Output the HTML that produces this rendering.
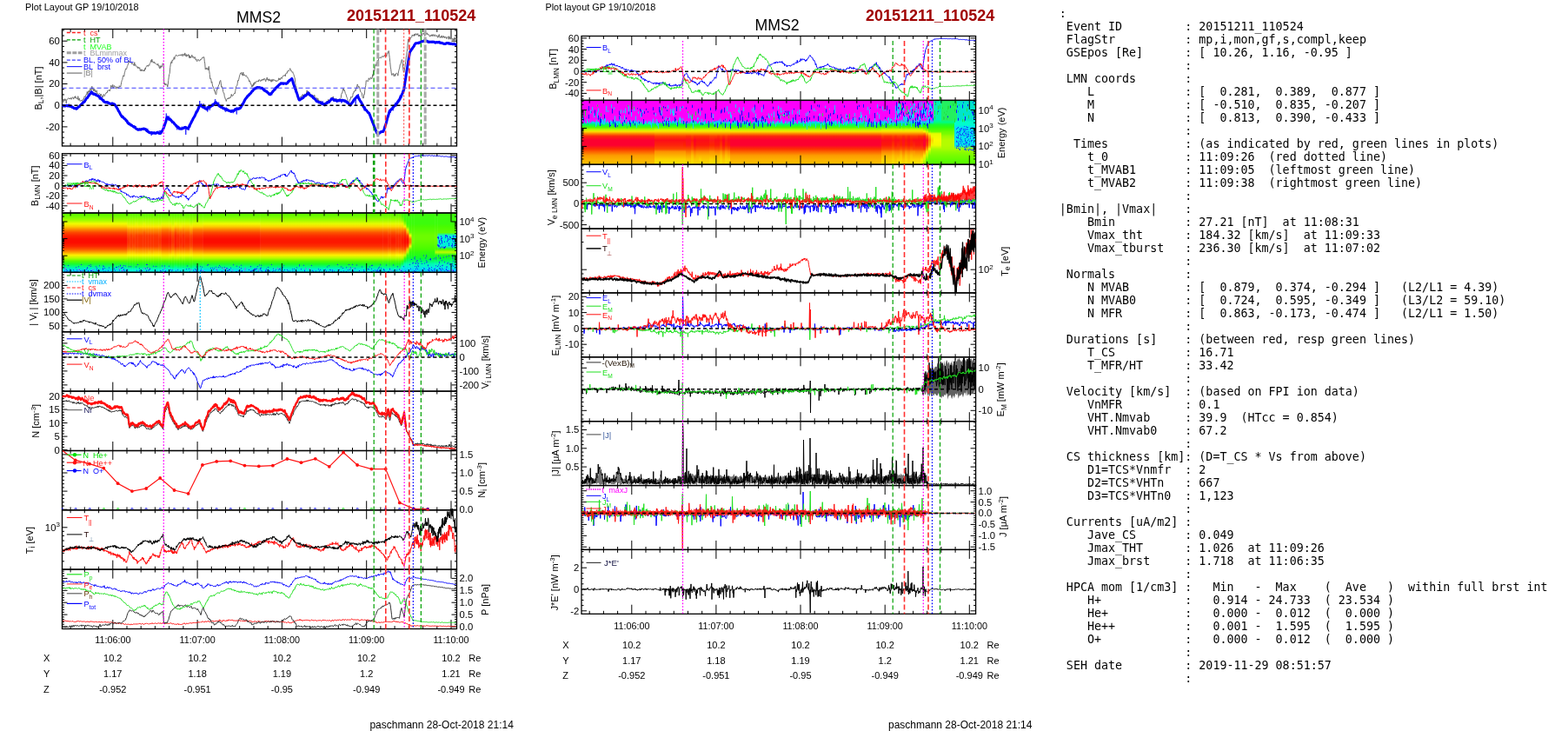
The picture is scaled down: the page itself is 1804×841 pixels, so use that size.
<!DOCTYPE html>
<html><head><meta charset="utf-8"><title>MMS2 20151211_110524</title>
<style>
html,body{margin:0;padding:0;background:#fff;}
#w{position:relative;width:1804px;height:841px;overflow:hidden;background:#fff;}
svg{position:absolute;left:0;top:0;}
svg text{font-family:"Liberation Sans",Arial,Helvetica,sans-serif;}
pre{position:absolute;left:1218.85px;top:8.2px;margin:0;font-family:"DejaVu Sans Mono",monospace;font-size:13.333px;line-height:15px;color:#000;}
</style></head><body><div id="w">
<svg width="1804" height="841" viewBox="0 0 1804 841">
<defs><linearGradient id="g0" gradientUnits="userSpaceOnUse" x1="0" y1="245" x2="0" y2="313.4"><stop offset="0%" stop-color="#54fc00"/><stop offset="7%" stop-color="#78fc00"/><stop offset="13%" stop-color="#a8fc00"/><stop offset="18%" stop-color="#f0fc00"/><stop offset="23%" stop-color="#fccc00"/><stop offset="28%" stop-color="#fc8400"/><stop offset="33%" stop-color="#fc4800"/><stop offset="38%" stop-color="#fc2400"/><stop offset="44%" stop-color="#fc0c00"/><stop offset="50%" stop-color="#fc0c00"/><stop offset="56%" stop-color="#fc2400"/><stop offset="61%" stop-color="#fc5400"/><stop offset="66%" stop-color="#fc9c00"/><stop offset="71%" stop-color="#fcf000"/><stop offset="76%" stop-color="#b4fc00"/><stop offset="81%" stop-color="#54fc00"/><stop offset="86%" stop-color="#18fc30"/><stop offset="91%" stop-color="#00fc90"/><stop offset="95%" stop-color="#00e4e4"/><stop offset="100%" stop-color="#00d8fc"/></linearGradient><linearGradient id="g1" gradientUnits="userSpaceOnUse" x1="0" y1="245" x2="0" y2="313.4"><stop offset="0%" stop-color="#54fc00"/><stop offset="7%" stop-color="#78fc00"/><stop offset="13%" stop-color="#a8fc00"/><stop offset="18%" stop-color="#d8fc00"/><stop offset="23%" stop-color="#fce400"/><stop offset="28%" stop-color="#fc9c00"/><stop offset="33%" stop-color="#fc6c00"/><stop offset="38%" stop-color="#fc4800"/><stop offset="44%" stop-color="#fc3000"/><stop offset="50%" stop-color="#fc3000"/><stop offset="56%" stop-color="#fc4800"/><stop offset="61%" stop-color="#fc7800"/><stop offset="66%" stop-color="#fcc000"/><stop offset="71%" stop-color="#fcfc00"/><stop offset="76%" stop-color="#a8fc00"/><stop offset="81%" stop-color="#54fc00"/><stop offset="86%" stop-color="#18fc24"/><stop offset="91%" stop-color="#00fc6c"/><stop offset="95%" stop-color="#00fccc"/><stop offset="100%" stop-color="#00e4e4"/></linearGradient><linearGradient id="g2" gradientUnits="userSpaceOnUse" x1="0" y1="245" x2="0" y2="313.4"><stop offset="0%" stop-color="#54fc00"/><stop offset="7%" stop-color="#78fc00"/><stop offset="13%" stop-color="#a8fc00"/><stop offset="18%" stop-color="#d8fc00"/><stop offset="23%" stop-color="#fce400"/><stop offset="28%" stop-color="#fc9c00"/><stop offset="33%" stop-color="#fc6c00"/><stop offset="38%" stop-color="#fc3c00"/><stop offset="44%" stop-color="#fc3000"/><stop offset="50%" stop-color="#fc3000"/><stop offset="56%" stop-color="#fc3c00"/><stop offset="61%" stop-color="#fc7800"/><stop offset="66%" stop-color="#fcc000"/><stop offset="71%" stop-color="#fcfc00"/><stop offset="76%" stop-color="#a8fc00"/><stop offset="81%" stop-color="#54fc00"/><stop offset="86%" stop-color="#18fc24"/><stop offset="91%" stop-color="#00fc6c"/><stop offset="95%" stop-color="#00fccc"/><stop offset="100%" stop-color="#00e4e4"/></linearGradient><linearGradient id="g3" gradientUnits="userSpaceOnUse" x1="0" y1="245" x2="0" y2="313.4"><stop offset="0%" stop-color="#54fc00"/><stop offset="7%" stop-color="#78fc00"/><stop offset="13%" stop-color="#a8fc00"/><stop offset="18%" stop-color="#e4fc00"/><stop offset="23%" stop-color="#fce400"/><stop offset="28%" stop-color="#fc9c00"/><stop offset="33%" stop-color="#fc6c00"/><stop offset="38%" stop-color="#fc3c00"/><stop offset="44%" stop-color="#fc3000"/><stop offset="50%" stop-color="#fc3000"/><stop offset="56%" stop-color="#fc3c00"/><stop offset="61%" stop-color="#fc7800"/><stop offset="66%" stop-color="#fcb400"/><stop offset="71%" stop-color="#fcfc00"/><stop offset="76%" stop-color="#a8fc00"/><stop offset="81%" stop-color="#54fc00"/><stop offset="86%" stop-color="#18fc24"/><stop offset="91%" stop-color="#00fc6c"/><stop offset="95%" stop-color="#00fccc"/><stop offset="100%" stop-color="#00e4e4"/></linearGradient><linearGradient id="g4" gradientUnits="userSpaceOnUse" x1="0" y1="245" x2="0" y2="313.4"><stop offset="0%" stop-color="#54fc00"/><stop offset="7%" stop-color="#78fc00"/><stop offset="13%" stop-color="#a8fc00"/><stop offset="18%" stop-color="#d8fc00"/><stop offset="23%" stop-color="#fce400"/><stop offset="28%" stop-color="#fc9c00"/><stop offset="33%" stop-color="#fc6c00"/><stop offset="38%" stop-color="#fc3c00"/><stop offset="44%" stop-color="#fc3000"/><stop offset="50%" stop-color="#fc3000"/><stop offset="56%" stop-color="#fc3c00"/><stop offset="61%" stop-color="#fc7800"/><stop offset="66%" stop-color="#fcb400"/><stop offset="71%" stop-color="#fcfc00"/><stop offset="76%" stop-color="#a8fc00"/><stop offset="81%" stop-color="#54fc00"/><stop offset="86%" stop-color="#18fc24"/><stop offset="91%" stop-color="#00fc6c"/><stop offset="95%" stop-color="#00fccc"/><stop offset="100%" stop-color="#00e4e4"/></linearGradient><linearGradient id="g5" gradientUnits="userSpaceOnUse" x1="0" y1="245" x2="0" y2="313.4"><stop offset="0%" stop-color="#54fc00"/><stop offset="7%" stop-color="#78fc00"/><stop offset="13%" stop-color="#a8fc00"/><stop offset="18%" stop-color="#e4fc00"/><stop offset="23%" stop-color="#fce400"/><stop offset="28%" stop-color="#fc9c00"/><stop offset="33%" stop-color="#fc6000"/><stop offset="38%" stop-color="#fc3c00"/><stop offset="44%" stop-color="#fc3000"/><stop offset="50%" stop-color="#fc3000"/><stop offset="56%" stop-color="#fc3c00"/><stop offset="61%" stop-color="#fc7800"/><stop offset="66%" stop-color="#fcb400"/><stop offset="71%" stop-color="#fcfc00"/><stop offset="76%" stop-color="#a8fc00"/><stop offset="81%" stop-color="#54fc00"/><stop offset="86%" stop-color="#18fc24"/><stop offset="91%" stop-color="#00fc78"/><stop offset="95%" stop-color="#00fccc"/><stop offset="100%" stop-color="#00e4e4"/></linearGradient><linearGradient id="g6" gradientUnits="userSpaceOnUse" x1="0" y1="245" x2="0" y2="313.4"><stop offset="0%" stop-color="#54fc00"/><stop offset="7%" stop-color="#78fc00"/><stop offset="13%" stop-color="#a8fc00"/><stop offset="18%" stop-color="#e4fc00"/><stop offset="23%" stop-color="#fcd800"/><stop offset="28%" stop-color="#fc8400"/><stop offset="33%" stop-color="#fc5400"/><stop offset="38%" stop-color="#fc3000"/><stop offset="44%" stop-color="#fc1800"/><stop offset="50%" stop-color="#fc1800"/><stop offset="56%" stop-color="#fc3000"/><stop offset="61%" stop-color="#fc6000"/><stop offset="66%" stop-color="#fca800"/><stop offset="71%" stop-color="#fcf000"/><stop offset="76%" stop-color="#b4fc00"/><stop offset="81%" stop-color="#54fc00"/><stop offset="86%" stop-color="#18fc30"/><stop offset="91%" stop-color="#00fc90"/><stop offset="95%" stop-color="#00f0e4"/><stop offset="100%" stop-color="#00d8fc"/></linearGradient><linearGradient id="g7" gradientUnits="userSpaceOnUse" x1="0" y1="245" x2="0" y2="313.4"><stop offset="0%" stop-color="#54fc00"/><stop offset="7%" stop-color="#78fc00"/><stop offset="13%" stop-color="#a8fc00"/><stop offset="18%" stop-color="#e4fc00"/><stop offset="23%" stop-color="#fcd800"/><stop offset="28%" stop-color="#fc9000"/><stop offset="33%" stop-color="#fc5400"/><stop offset="38%" stop-color="#fc3000"/><stop offset="44%" stop-color="#fc1800"/><stop offset="50%" stop-color="#fc1800"/><stop offset="56%" stop-color="#fc3000"/><stop offset="61%" stop-color="#fc6000"/><stop offset="66%" stop-color="#fca800"/><stop offset="71%" stop-color="#fcfc00"/><stop offset="76%" stop-color="#b4fc00"/><stop offset="81%" stop-color="#54fc00"/><stop offset="86%" stop-color="#18fc24"/><stop offset="91%" stop-color="#00fc84"/><stop offset="95%" stop-color="#00f0d8"/><stop offset="100%" stop-color="#00d8f0"/></linearGradient><linearGradient id="g8" gradientUnits="userSpaceOnUse" x1="0" y1="245" x2="0" y2="313.4"><stop offset="0%" stop-color="#54fc00"/><stop offset="7%" stop-color="#78fc00"/><stop offset="13%" stop-color="#a8fc00"/><stop offset="18%" stop-color="#d8fc00"/><stop offset="23%" stop-color="#fce400"/><stop offset="28%" stop-color="#fca800"/><stop offset="33%" stop-color="#fc6c00"/><stop offset="38%" stop-color="#fc4800"/><stop offset="44%" stop-color="#fc3000"/><stop offset="50%" stop-color="#fc3000"/><stop offset="56%" stop-color="#fc4800"/><stop offset="61%" stop-color="#fc7800"/><stop offset="66%" stop-color="#fcc000"/><stop offset="71%" stop-color="#fcfc00"/><stop offset="76%" stop-color="#a8fc00"/><stop offset="81%" stop-color="#54fc00"/><stop offset="86%" stop-color="#18fc24"/><stop offset="91%" stop-color="#00fc6c"/><stop offset="95%" stop-color="#00fccc"/><stop offset="100%" stop-color="#00e4e4"/></linearGradient><linearGradient id="g9" gradientUnits="userSpaceOnUse" x1="0" y1="245" x2="0" y2="313.4"><stop offset="0%" stop-color="#54fc00"/><stop offset="7%" stop-color="#78fc00"/><stop offset="13%" stop-color="#a8fc00"/><stop offset="18%" stop-color="#f0fc00"/><stop offset="23%" stop-color="#fcd800"/><stop offset="28%" stop-color="#fc8400"/><stop offset="33%" stop-color="#fc4800"/><stop offset="38%" stop-color="#fc2400"/><stop offset="44%" stop-color="#fc1800"/><stop offset="50%" stop-color="#fc1800"/><stop offset="56%" stop-color="#fc2400"/><stop offset="61%" stop-color="#fc6000"/><stop offset="66%" stop-color="#fca800"/><stop offset="71%" stop-color="#fcf000"/><stop offset="76%" stop-color="#b4fc00"/><stop offset="81%" stop-color="#54fc00"/><stop offset="86%" stop-color="#18fc30"/><stop offset="91%" stop-color="#00fc90"/><stop offset="95%" stop-color="#00f0e4"/><stop offset="100%" stop-color="#00d8fc"/></linearGradient><linearGradient id="g10" gradientUnits="userSpaceOnUse" x1="0" y1="245" x2="0" y2="313.4"><stop offset="0%" stop-color="#54fc00"/><stop offset="7%" stop-color="#78fc00"/><stop offset="13%" stop-color="#a8fc00"/><stop offset="18%" stop-color="#e4fc00"/><stop offset="23%" stop-color="#fcd800"/><stop offset="28%" stop-color="#fc9000"/><stop offset="33%" stop-color="#fc6000"/><stop offset="38%" stop-color="#fc3000"/><stop offset="44%" stop-color="#fc2400"/><stop offset="50%" stop-color="#fc2400"/><stop offset="56%" stop-color="#fc3000"/><stop offset="61%" stop-color="#fc6c00"/><stop offset="66%" stop-color="#fcb400"/><stop offset="71%" stop-color="#fcfc00"/><stop offset="76%" stop-color="#b4fc00"/><stop offset="81%" stop-color="#54fc00"/><stop offset="86%" stop-color="#18fc24"/><stop offset="91%" stop-color="#00fc78"/><stop offset="95%" stop-color="#00f0d8"/><stop offset="100%" stop-color="#00e4f0"/></linearGradient><linearGradient id="g11" gradientUnits="userSpaceOnUse" x1="0" y1="245" x2="0" y2="313.4"><stop offset="0%" stop-color="#54fc00"/><stop offset="7%" stop-color="#78fc00"/><stop offset="13%" stop-color="#a8fc00"/><stop offset="18%" stop-color="#e4fc00"/><stop offset="23%" stop-color="#fce400"/><stop offset="28%" stop-color="#fc9c00"/><stop offset="33%" stop-color="#fc6000"/><stop offset="38%" stop-color="#fc3c00"/><stop offset="44%" stop-color="#fc2400"/><stop offset="50%" stop-color="#fc2400"/><stop offset="56%" stop-color="#fc3c00"/><stop offset="61%" stop-color="#fc6c00"/><stop offset="66%" stop-color="#fcb400"/><stop offset="71%" stop-color="#fcfc00"/><stop offset="76%" stop-color="#a8fc00"/><stop offset="81%" stop-color="#54fc00"/><stop offset="86%" stop-color="#18fc24"/><stop offset="91%" stop-color="#00fc78"/><stop offset="95%" stop-color="#00fcd8"/><stop offset="100%" stop-color="#00e4f0"/></linearGradient><linearGradient id="g12" gradientUnits="userSpaceOnUse" x1="0" y1="245" x2="0" y2="313.4"><stop offset="0%" stop-color="#54fc00"/><stop offset="7%" stop-color="#78fc00"/><stop offset="13%" stop-color="#a8fc00"/><stop offset="18%" stop-color="#e4fc00"/><stop offset="23%" stop-color="#fcd800"/><stop offset="28%" stop-color="#fc9000"/><stop offset="33%" stop-color="#fc6000"/><stop offset="38%" stop-color="#fc3000"/><stop offset="44%" stop-color="#fc2400"/><stop offset="50%" stop-color="#fc2400"/><stop offset="56%" stop-color="#fc3000"/><stop offset="61%" stop-color="#fc6c00"/><stop offset="66%" stop-color="#fcb400"/><stop offset="71%" stop-color="#fcfc00"/><stop offset="76%" stop-color="#b4fc00"/><stop offset="81%" stop-color="#54fc00"/><stop offset="86%" stop-color="#18fc24"/><stop offset="91%" stop-color="#00fc78"/><stop offset="95%" stop-color="#00f0d8"/><stop offset="100%" stop-color="#00d8f0"/></linearGradient><linearGradient id="g13" gradientUnits="userSpaceOnUse" x1="0" y1="245" x2="0" y2="313.4"><stop offset="0%" stop-color="#54fc00"/><stop offset="7%" stop-color="#78fc00"/><stop offset="13%" stop-color="#a8fc00"/><stop offset="18%" stop-color="#e4fc00"/><stop offset="23%" stop-color="#fcd800"/><stop offset="28%" stop-color="#fc9c00"/><stop offset="33%" stop-color="#fc6000"/><stop offset="38%" stop-color="#fc3c00"/><stop offset="44%" stop-color="#fc2400"/><stop offset="50%" stop-color="#fc2400"/><stop offset="56%" stop-color="#fc3c00"/><stop offset="61%" stop-color="#fc6c00"/><stop offset="66%" stop-color="#fcb400"/><stop offset="71%" stop-color="#fcfc00"/><stop offset="76%" stop-color="#a8fc00"/><stop offset="81%" stop-color="#54fc00"/><stop offset="86%" stop-color="#18fc24"/><stop offset="91%" stop-color="#00fc78"/><stop offset="95%" stop-color="#00f0d8"/><stop offset="100%" stop-color="#00e4f0"/></linearGradient><linearGradient id="g14" gradientUnits="userSpaceOnUse" x1="0" y1="245" x2="0" y2="313.4"><stop offset="0%" stop-color="#54fc00"/><stop offset="7%" stop-color="#78fc00"/><stop offset="13%" stop-color="#9cfc00"/><stop offset="18%" stop-color="#d8fc00"/><stop offset="23%" stop-color="#fce400"/><stop offset="28%" stop-color="#fca800"/><stop offset="33%" stop-color="#fc7800"/><stop offset="38%" stop-color="#fc4800"/><stop offset="44%" stop-color="#fc3000"/><stop offset="50%" stop-color="#fc3000"/><stop offset="56%" stop-color="#fc4800"/><stop offset="61%" stop-color="#fc8400"/><stop offset="66%" stop-color="#fcc000"/><stop offset="71%" stop-color="#fcfc00"/><stop offset="76%" stop-color="#a8fc00"/><stop offset="81%" stop-color="#54fc00"/><stop offset="86%" stop-color="#24fc24"/><stop offset="91%" stop-color="#00fc60"/><stop offset="95%" stop-color="#00fccc"/><stop offset="100%" stop-color="#00f0e4"/></linearGradient><linearGradient id="g15" gradientUnits="userSpaceOnUse" x1="0" y1="245" x2="0" y2="313.4"><stop offset="0%" stop-color="#54fc00"/><stop offset="7%" stop-color="#78fc00"/><stop offset="13%" stop-color="#a8fc00"/><stop offset="18%" stop-color="#e4fc00"/><stop offset="23%" stop-color="#fcd800"/><stop offset="28%" stop-color="#fc9000"/><stop offset="33%" stop-color="#fc5400"/><stop offset="38%" stop-color="#fc3000"/><stop offset="44%" stop-color="#fc1800"/><stop offset="50%" stop-color="#fc1800"/><stop offset="56%" stop-color="#fc3000"/><stop offset="61%" stop-color="#fc6000"/><stop offset="66%" stop-color="#fca800"/><stop offset="71%" stop-color="#fcf000"/><stop offset="76%" stop-color="#b4fc00"/><stop offset="81%" stop-color="#54fc00"/><stop offset="86%" stop-color="#18fc24"/><stop offset="91%" stop-color="#00fc84"/><stop offset="95%" stop-color="#00f0d8"/><stop offset="100%" stop-color="#00d8f0"/></linearGradient><linearGradient id="g16" gradientUnits="userSpaceOnUse" x1="0" y1="245" x2="0" y2="313.4"><stop offset="0%" stop-color="#54fc00"/><stop offset="7%" stop-color="#78fc00"/><stop offset="13%" stop-color="#a8fc00"/><stop offset="18%" stop-color="#e4fc00"/><stop offset="23%" stop-color="#fcd800"/><stop offset="28%" stop-color="#fc9000"/><stop offset="33%" stop-color="#fc5400"/><stop offset="38%" stop-color="#fc3000"/><stop offset="44%" stop-color="#fc1800"/><stop offset="50%" stop-color="#fc1800"/><stop offset="56%" stop-color="#fc3000"/><stop offset="61%" stop-color="#fc6000"/><stop offset="66%" stop-color="#fca800"/><stop offset="71%" stop-color="#fcf000"/><stop offset="76%" stop-color="#b4fc00"/><stop offset="81%" stop-color="#54fc00"/><stop offset="86%" stop-color="#18fc30"/><stop offset="91%" stop-color="#00fc84"/><stop offset="95%" stop-color="#00f0d8"/><stop offset="100%" stop-color="#00d8fc"/></linearGradient><linearGradient id="g17" gradientUnits="userSpaceOnUse" x1="0" y1="245" x2="0" y2="313.4"><stop offset="0%" stop-color="#54fc00"/><stop offset="7%" stop-color="#78fc00"/><stop offset="13%" stop-color="#a8fc00"/><stop offset="18%" stop-color="#e4fc00"/><stop offset="23%" stop-color="#fcd800"/><stop offset="28%" stop-color="#fc9000"/><stop offset="33%" stop-color="#fc6000"/><stop offset="38%" stop-color="#fc3000"/><stop offset="44%" stop-color="#fc2400"/><stop offset="50%" stop-color="#fc2400"/><stop offset="56%" stop-color="#fc3000"/><stop offset="61%" stop-color="#fc6c00"/><stop offset="66%" stop-color="#fca800"/><stop offset="71%" stop-color="#fcfc00"/><stop offset="76%" stop-color="#b4fc00"/><stop offset="81%" stop-color="#54fc00"/><stop offset="86%" stop-color="#18fc24"/><stop offset="91%" stop-color="#00fc78"/><stop offset="95%" stop-color="#00f0d8"/><stop offset="100%" stop-color="#00d8f0"/></linearGradient><linearGradient id="g18" gradientUnits="userSpaceOnUse" x1="0" y1="245" x2="0" y2="313.4"><stop offset="0%" stop-color="#3cfc0c"/><stop offset="7%" stop-color="#54fc00"/><stop offset="13%" stop-color="#90fc00"/><stop offset="18%" stop-color="#e4fc00"/><stop offset="23%" stop-color="#fcd800"/><stop offset="28%" stop-color="#fc9000"/><stop offset="33%" stop-color="#fc5400"/><stop offset="38%" stop-color="#fc3000"/><stop offset="44%" stop-color="#fc1800"/><stop offset="50%" stop-color="#fc1800"/><stop offset="56%" stop-color="#fc3000"/><stop offset="61%" stop-color="#fc6000"/><stop offset="66%" stop-color="#fca800"/><stop offset="71%" stop-color="#fcf000"/><stop offset="76%" stop-color="#b4fc00"/><stop offset="81%" stop-color="#3cfc0c"/><stop offset="86%" stop-color="#00fc60"/><stop offset="91%" stop-color="#00fcd8"/><stop offset="95%" stop-color="#00d8fc"/><stop offset="100%" stop-color="#00b4fc"/></linearGradient><linearGradient id="g19" gradientUnits="userSpaceOnUse" x1="0" y1="245" x2="0" y2="313.4"><stop offset="0%" stop-color="#3cfc0c"/><stop offset="7%" stop-color="#3cfc0c"/><stop offset="13%" stop-color="#48fc00"/><stop offset="18%" stop-color="#90fc00"/><stop offset="23%" stop-color="#f0fc00"/><stop offset="28%" stop-color="#fc8400"/><stop offset="33%" stop-color="#fc4800"/><stop offset="38%" stop-color="#fc2400"/><stop offset="44%" stop-color="#fc0c00"/><stop offset="50%" stop-color="#fc0c00"/><stop offset="56%" stop-color="#fc2400"/><stop offset="61%" stop-color="#fc5400"/><stop offset="66%" stop-color="#fca800"/><stop offset="71%" stop-color="#ccfc00"/><stop offset="76%" stop-color="#48fc00"/><stop offset="81%" stop-color="#00fc48"/><stop offset="86%" stop-color="#00fcb4"/><stop offset="91%" stop-color="#00f0d8"/><stop offset="95%" stop-color="#00d8fc"/><stop offset="100%" stop-color="#00b4fc"/></linearGradient><linearGradient id="g20" gradientUnits="userSpaceOnUse" x1="0" y1="245" x2="0" y2="313.4"><stop offset="0%" stop-color="#3cfc0c"/><stop offset="18%" stop-color="#3cfc0c"/><stop offset="23%" stop-color="#60fc00"/><stop offset="28%" stop-color="#d8fc00"/><stop offset="33%" stop-color="#fcb400"/><stop offset="38%" stop-color="#fc3c00"/><stop offset="44%" stop-color="#fc0c00"/><stop offset="50%" stop-color="#fc0c00"/><stop offset="56%" stop-color="#fc3c00"/><stop offset="61%" stop-color="#fcc000"/><stop offset="66%" stop-color="#b4fc00"/><stop offset="71%" stop-color="#3cfc0c"/><stop offset="76%" stop-color="#0cfc30"/><stop offset="81%" stop-color="#00fc6c"/><stop offset="86%" stop-color="#00fcb4"/><stop offset="91%" stop-color="#00f0d8"/><stop offset="95%" stop-color="#00d8fc"/><stop offset="100%" stop-color="#00b4fc"/></linearGradient><linearGradient id="g21" gradientUnits="userSpaceOnUse" x1="0" y1="245" x2="0" y2="313.4"><stop offset="0%" stop-color="#3cfc0c"/><stop offset="18%" stop-color="#3cfc0c"/><stop offset="23%" stop-color="#48fc00"/><stop offset="28%" stop-color="#54fc00"/><stop offset="33%" stop-color="#6cfc00"/><stop offset="38%" stop-color="#fcfc00"/><stop offset="44%" stop-color="#fc7800"/><stop offset="50%" stop-color="#fc7800"/><stop offset="56%" stop-color="#f0fc00"/><stop offset="61%" stop-color="#60fc00"/><stop offset="66%" stop-color="#30fc0c"/><stop offset="71%" stop-color="#24fc18"/><stop offset="76%" stop-color="#0cfc30"/><stop offset="81%" stop-color="#00fc6c"/><stop offset="86%" stop-color="#00fcb4"/><stop offset="91%" stop-color="#00f0d8"/><stop offset="95%" stop-color="#00d8fc"/><stop offset="100%" stop-color="#00b4fc"/></linearGradient><linearGradient id="g22" gradientUnits="userSpaceOnUse" x1="0" y1="245" x2="0" y2="313.4"><stop offset="0%" stop-color="#3cfc0c"/><stop offset="18%" stop-color="#3cfc0c"/><stop offset="23%" stop-color="#48fc00"/><stop offset="28%" stop-color="#54fc00"/><stop offset="33%" stop-color="#60fc00"/><stop offset="38%" stop-color="#6cfc00"/><stop offset="44%" stop-color="#78fc00"/><stop offset="50%" stop-color="#78fc00"/><stop offset="56%" stop-color="#54fc00"/><stop offset="61%" stop-color="#48fc00"/><stop offset="66%" stop-color="#30fc0c"/><stop offset="71%" stop-color="#24fc18"/><stop offset="76%" stop-color="#0cfc30"/><stop offset="81%" stop-color="#00fc6c"/><stop offset="86%" stop-color="#00fcb4"/><stop offset="91%" stop-color="#00f0d8"/><stop offset="95%" stop-color="#00d8fc"/><stop offset="100%" stop-color="#00b4fc"/></linearGradient><linearGradient id="g23" gradientUnits="userSpaceOnUse" x1="0" y1="245" x2="0" y2="313.4"><stop offset="0%" stop-color="#3cfc0c"/><stop offset="18%" stop-color="#3cfc0c"/><stop offset="23%" stop-color="#48fc00"/><stop offset="28%" stop-color="#54fc00"/><stop offset="33%" stop-color="#60fc00"/><stop offset="38%" stop-color="#6cfc00"/><stop offset="44%" stop-color="#6cfc00"/><stop offset="50%" stop-color="#60fc00"/><stop offset="56%" stop-color="#54fc00"/><stop offset="61%" stop-color="#48fc00"/><stop offset="66%" stop-color="#30fc0c"/><stop offset="71%" stop-color="#24fc18"/><stop offset="76%" stop-color="#0cfc30"/><stop offset="81%" stop-color="#00fc6c"/><stop offset="86%" stop-color="#00fcb4"/><stop offset="91%" stop-color="#00f0d8"/><stop offset="95%" stop-color="#00d8fc"/><stop offset="100%" stop-color="#00b4fc"/></linearGradient><linearGradient id="g24" gradientUnits="userSpaceOnUse" x1="0" y1="245" x2="0" y2="313.4"><stop offset="0%" stop-color="#3cfc0c"/><stop offset="18%" stop-color="#3cfc0c"/><stop offset="23%" stop-color="#48fc00"/><stop offset="28%" stop-color="#54fc00"/><stop offset="33%" stop-color="#60fc00"/><stop offset="38%" stop-color="#6cfc00"/><stop offset="44%" stop-color="#6cfc00"/><stop offset="50%" stop-color="#60fc00"/><stop offset="56%" stop-color="#54fc00"/><stop offset="61%" stop-color="#48fc00"/><stop offset="66%" stop-color="#c0fc00"/><stop offset="71%" stop-color="#24fc18"/><stop offset="76%" stop-color="#0cfc30"/><stop offset="81%" stop-color="#00fc6c"/><stop offset="86%" stop-color="#00fcb4"/><stop offset="91%" stop-color="#00f0d8"/><stop offset="95%" stop-color="#00d8fc"/><stop offset="100%" stop-color="#00b4fc"/></linearGradient><linearGradient id="g25" gradientUnits="userSpaceOnUse" x1="0" y1="245" x2="0" y2="313.4"><stop offset="0%" stop-color="#3cfc0c"/><stop offset="18%" stop-color="#3cfc0c"/><stop offset="23%" stop-color="#48fc00"/><stop offset="28%" stop-color="#54fc00"/><stop offset="33%" stop-color="#60fc00"/><stop offset="38%" stop-color="#00f0d8"/><stop offset="56%" stop-color="#00f0d8"/><stop offset="61%" stop-color="#48fc00"/><stop offset="66%" stop-color="#c0fc00"/><stop offset="71%" stop-color="#24fc18"/><stop offset="76%" stop-color="#0cfc30"/><stop offset="81%" stop-color="#00fc6c"/><stop offset="86%" stop-color="#00fcb4"/><stop offset="91%" stop-color="#00f0d8"/><stop offset="95%" stop-color="#00d8fc"/><stop offset="100%" stop-color="#00b4fc"/></linearGradient><linearGradient id="g26" gradientUnits="userSpaceOnUse" x1="0" y1="115.4" x2="0" y2="189.2"><stop offset="0%" stop-color="#fc00fc"/><stop offset="30%" stop-color="#fc00fc"/><stop offset="34%" stop-color="#00ccfc"/><stop offset="38%" stop-color="#00fc60"/><stop offset="42%" stop-color="#48fc00"/><stop offset="46%" stop-color="#c0fc00"/><stop offset="49%" stop-color="#fcd800"/><stop offset="52%" stop-color="#fc8400"/><stop offset="56%" stop-color="#fc240c"/><stop offset="62%" stop-color="#fc0030"/><stop offset="70%" stop-color="#fc0030"/><stop offset="76%" stop-color="#fc3000"/><stop offset="80%" stop-color="#fc6000"/><stop offset="86%" stop-color="#fc9c00"/><stop offset="93%" stop-color="#fcb400"/><stop offset="100%" stop-color="#fcc000"/></linearGradient><linearGradient id="g27" gradientUnits="userSpaceOnUse" x1="0" y1="115.4" x2="0" y2="189.2"><stop offset="0%" stop-color="#fc00fc"/><stop offset="30%" stop-color="#fc00fc"/><stop offset="34%" stop-color="#00ccfc"/><stop offset="38%" stop-color="#00fc3c"/><stop offset="42%" stop-color="#54fc00"/><stop offset="46%" stop-color="#d8fc00"/><stop offset="49%" stop-color="#fcd800"/><stop offset="52%" stop-color="#fc9000"/><stop offset="56%" stop-color="#fc3c00"/><stop offset="62%" stop-color="#fc0c18"/><stop offset="70%" stop-color="#fc240c"/><stop offset="76%" stop-color="#fc4800"/><stop offset="80%" stop-color="#fc9000"/><stop offset="86%" stop-color="#fcb400"/><stop offset="93%" stop-color="#fcd800"/><stop offset="100%" stop-color="#fce400"/></linearGradient><linearGradient id="g28" gradientUnits="userSpaceOnUse" x1="0" y1="115.4" x2="0" y2="189.2"><stop offset="0%" stop-color="#fc00fc"/><stop offset="30%" stop-color="#fc00fc"/><stop offset="34%" stop-color="#00ccfc"/><stop offset="38%" stop-color="#00fc3c"/><stop offset="42%" stop-color="#54fc00"/><stop offset="46%" stop-color="#d8fc00"/><stop offset="49%" stop-color="#fcd800"/><stop offset="52%" stop-color="#fc9000"/><stop offset="56%" stop-color="#fc3c00"/><stop offset="62%" stop-color="#fc0c18"/><stop offset="70%" stop-color="#fc2400"/><stop offset="76%" stop-color="#fc4800"/><stop offset="80%" stop-color="#fc9000"/><stop offset="86%" stop-color="#fcb400"/><stop offset="93%" stop-color="#fcd800"/><stop offset="100%" stop-color="#fce400"/></linearGradient><linearGradient id="g29" gradientUnits="userSpaceOnUse" x1="0" y1="115.4" x2="0" y2="189.2"><stop offset="0%" stop-color="#fc00fc"/><stop offset="30%" stop-color="#fc00fc"/><stop offset="34%" stop-color="#00ccfc"/><stop offset="38%" stop-color="#00fc48"/><stop offset="42%" stop-color="#54fc00"/><stop offset="46%" stop-color="#ccfc00"/><stop offset="49%" stop-color="#fcd800"/><stop offset="52%" stop-color="#fc9000"/><stop offset="56%" stop-color="#fc3000"/><stop offset="62%" stop-color="#fc0c24"/><stop offset="70%" stop-color="#fc1818"/><stop offset="76%" stop-color="#fc4800"/><stop offset="80%" stop-color="#fc7800"/><stop offset="86%" stop-color="#fca800"/><stop offset="93%" stop-color="#fccc00"/><stop offset="100%" stop-color="#fcd800"/></linearGradient><linearGradient id="g30" gradientUnits="userSpaceOnUse" x1="0" y1="115.4" x2="0" y2="189.2"><stop offset="0%" stop-color="#fc00fc"/><stop offset="30%" stop-color="#fc00fc"/><stop offset="34%" stop-color="#00ccfc"/><stop offset="38%" stop-color="#00fc3c"/><stop offset="42%" stop-color="#60fc00"/><stop offset="46%" stop-color="#d8fc00"/><stop offset="49%" stop-color="#fcd800"/><stop offset="52%" stop-color="#fc9000"/><stop offset="56%" stop-color="#fc3c00"/><stop offset="62%" stop-color="#fc180c"/><stop offset="70%" stop-color="#fc3000"/><stop offset="76%" stop-color="#fc5400"/><stop offset="80%" stop-color="#fc9000"/><stop offset="86%" stop-color="#fcc000"/><stop offset="93%" stop-color="#fcd800"/><stop offset="100%" stop-color="#fce400"/></linearGradient><linearGradient id="g31" gradientUnits="userSpaceOnUse" x1="0" y1="115.4" x2="0" y2="189.2"><stop offset="0%" stop-color="#fc00fc"/><stop offset="30%" stop-color="#fc00fc"/><stop offset="34%" stop-color="#00ccfc"/><stop offset="38%" stop-color="#00fc48"/><stop offset="42%" stop-color="#54fc00"/><stop offset="46%" stop-color="#ccfc00"/><stop offset="49%" stop-color="#fcd800"/><stop offset="52%" stop-color="#fc9000"/><stop offset="56%" stop-color="#fc3000"/><stop offset="62%" stop-color="#fc0024"/><stop offset="70%" stop-color="#fc0c18"/><stop offset="76%" stop-color="#fc3c00"/><stop offset="80%" stop-color="#fc7800"/><stop offset="86%" stop-color="#fca800"/><stop offset="93%" stop-color="#fccc00"/><stop offset="100%" stop-color="#fcd800"/></linearGradient><linearGradient id="g32" gradientUnits="userSpaceOnUse" x1="0" y1="115.4" x2="0" y2="189.2"><stop offset="0%" stop-color="#fc00fc"/><stop offset="30%" stop-color="#fc00fc"/><stop offset="34%" stop-color="#00ccfc"/><stop offset="38%" stop-color="#00fc48"/><stop offset="42%" stop-color="#54fc00"/><stop offset="46%" stop-color="#d8fc00"/><stop offset="49%" stop-color="#fcd800"/><stop offset="52%" stop-color="#fc9000"/><stop offset="56%" stop-color="#fc3000"/><stop offset="62%" stop-color="#fc0c18"/><stop offset="70%" stop-color="#fc180c"/><stop offset="76%" stop-color="#fc4800"/><stop offset="80%" stop-color="#fc8400"/><stop offset="86%" stop-color="#fcb400"/><stop offset="93%" stop-color="#fccc00"/><stop offset="100%" stop-color="#fcd800"/></linearGradient><linearGradient id="g33" gradientUnits="userSpaceOnUse" x1="0" y1="115.4" x2="0" y2="189.2"><stop offset="0%" stop-color="#fc00fc"/><stop offset="30%" stop-color="#fc00fc"/><stop offset="34%" stop-color="#00ccfc"/><stop offset="38%" stop-color="#00fc48"/><stop offset="42%" stop-color="#54fc00"/><stop offset="46%" stop-color="#d8fc00"/><stop offset="49%" stop-color="#fcd800"/><stop offset="52%" stop-color="#fc9000"/><stop offset="56%" stop-color="#fc3000"/><stop offset="62%" stop-color="#fc0c18"/><stop offset="70%" stop-color="#fc180c"/><stop offset="76%" stop-color="#fc4800"/><stop offset="80%" stop-color="#fc8400"/><stop offset="86%" stop-color="#fcb400"/><stop offset="93%" stop-color="#fcd800"/><stop offset="100%" stop-color="#fcd800"/></linearGradient><linearGradient id="g34" gradientUnits="userSpaceOnUse" x1="0" y1="115.4" x2="0" y2="189.2"><stop offset="0%" stop-color="#fc00fc"/><stop offset="30%" stop-color="#fc00fc"/><stop offset="34%" stop-color="#00ccfc"/><stop offset="38%" stop-color="#00fc3c"/><stop offset="42%" stop-color="#60fc00"/><stop offset="46%" stop-color="#d8fc00"/><stop offset="49%" stop-color="#fcd800"/><stop offset="52%" stop-color="#fc9000"/><stop offset="56%" stop-color="#fc3c00"/><stop offset="62%" stop-color="#fc1818"/><stop offset="70%" stop-color="#fc2400"/><stop offset="76%" stop-color="#fc5400"/><stop offset="80%" stop-color="#fc9000"/><stop offset="86%" stop-color="#fcb400"/><stop offset="93%" stop-color="#fcd800"/><stop offset="100%" stop-color="#fce400"/></linearGradient><linearGradient id="g35" gradientUnits="userSpaceOnUse" x1="0" y1="115.4" x2="0" y2="189.2"><stop offset="0%" stop-color="#fc00fc"/><stop offset="30%" stop-color="#fc00fc"/><stop offset="34%" stop-color="#00ccfc"/><stop offset="38%" stop-color="#00fc3c"/><stop offset="42%" stop-color="#54fc00"/><stop offset="46%" stop-color="#d8fc00"/><stop offset="49%" stop-color="#fcd800"/><stop offset="52%" stop-color="#fc9000"/><stop offset="56%" stop-color="#fc3c00"/><stop offset="62%" stop-color="#fc1818"/><stop offset="70%" stop-color="#fc2400"/><stop offset="76%" stop-color="#fc5400"/><stop offset="80%" stop-color="#fc9000"/><stop offset="86%" stop-color="#fcb400"/><stop offset="93%" stop-color="#fcd800"/><stop offset="100%" stop-color="#fce400"/></linearGradient><linearGradient id="g36" gradientUnits="userSpaceOnUse" x1="0" y1="115.4" x2="0" y2="189.2"><stop offset="0%" stop-color="#fc00fc"/><stop offset="30%" stop-color="#fc00fc"/><stop offset="34%" stop-color="#00ccfc"/><stop offset="38%" stop-color="#00fc48"/><stop offset="42%" stop-color="#54fc00"/><stop offset="46%" stop-color="#d8fc00"/><stop offset="49%" stop-color="#fcd800"/><stop offset="52%" stop-color="#fc9000"/><stop offset="56%" stop-color="#fc3c00"/><stop offset="62%" stop-color="#fc0c18"/><stop offset="70%" stop-color="#fc180c"/><stop offset="76%" stop-color="#fc4800"/><stop offset="80%" stop-color="#fc8400"/><stop offset="86%" stop-color="#fcb400"/><stop offset="93%" stop-color="#fcd800"/><stop offset="100%" stop-color="#fce400"/></linearGradient><linearGradient id="g37" gradientUnits="userSpaceOnUse" x1="0" y1="115.4" x2="0" y2="189.2"><stop offset="0%" stop-color="#fc00fc"/><stop offset="30%" stop-color="#fc00fc"/><stop offset="34%" stop-color="#00ccfc"/><stop offset="38%" stop-color="#00fc3c"/><stop offset="42%" stop-color="#60fc00"/><stop offset="46%" stop-color="#d8fc00"/><stop offset="49%" stop-color="#fcd800"/><stop offset="52%" stop-color="#fc9000"/><stop offset="56%" stop-color="#fc3c00"/><stop offset="62%" stop-color="#fc1818"/><stop offset="70%" stop-color="#fc2400"/><stop offset="76%" stop-color="#fc5400"/><stop offset="80%" stop-color="#fc9000"/><stop offset="86%" stop-color="#fcc000"/><stop offset="93%" stop-color="#fcd800"/><stop offset="100%" stop-color="#fce400"/></linearGradient><linearGradient id="g38" gradientUnits="userSpaceOnUse" x1="0" y1="115.4" x2="0" y2="189.2"><stop offset="0%" stop-color="#fc00fc"/><stop offset="30%" stop-color="#fc00fc"/><stop offset="34%" stop-color="#00ccfc"/><stop offset="38%" stop-color="#00fc48"/><stop offset="42%" stop-color="#54fc00"/><stop offset="46%" stop-color="#d8fc00"/><stop offset="49%" stop-color="#fcd800"/><stop offset="52%" stop-color="#fc9000"/><stop offset="56%" stop-color="#fc3c00"/><stop offset="62%" stop-color="#fc0c18"/><stop offset="70%" stop-color="#fc180c"/><stop offset="76%" stop-color="#fc4800"/><stop offset="80%" stop-color="#fc8400"/><stop offset="86%" stop-color="#fcb400"/><stop offset="93%" stop-color="#fcd800"/><stop offset="100%" stop-color="#fcd800"/></linearGradient><linearGradient id="g39" gradientUnits="userSpaceOnUse" x1="0" y1="115.4" x2="0" y2="189.2"><stop offset="0%" stop-color="#fc00fc"/><stop offset="30%" stop-color="#fc00fc"/><stop offset="34%" stop-color="#00ccfc"/><stop offset="38%" stop-color="#00fc48"/><stop offset="42%" stop-color="#54fc00"/><stop offset="46%" stop-color="#d8fc00"/><stop offset="49%" stop-color="#fcd800"/><stop offset="52%" stop-color="#fc9000"/><stop offset="56%" stop-color="#fc3c00"/><stop offset="62%" stop-color="#fc0c18"/><stop offset="70%" stop-color="#fc240c"/><stop offset="76%" stop-color="#fc4800"/><stop offset="80%" stop-color="#fc8400"/><stop offset="86%" stop-color="#fcb400"/><stop offset="93%" stop-color="#fcd800"/><stop offset="100%" stop-color="#fce400"/></linearGradient><linearGradient id="g40" gradientUnits="userSpaceOnUse" x1="0" y1="115.4" x2="0" y2="189.2"><stop offset="0%" stop-color="#fc00fc"/><stop offset="30%" stop-color="#fc00fc"/><stop offset="34%" stop-color="#00ccfc"/><stop offset="38%" stop-color="#00fc3c"/><stop offset="42%" stop-color="#60fc00"/><stop offset="46%" stop-color="#d8fc00"/><stop offset="49%" stop-color="#fcd800"/><stop offset="52%" stop-color="#fc9000"/><stop offset="56%" stop-color="#fc3c00"/><stop offset="62%" stop-color="#fc180c"/><stop offset="70%" stop-color="#fc2400"/><stop offset="76%" stop-color="#fc5400"/><stop offset="80%" stop-color="#fc9000"/><stop offset="86%" stop-color="#fcc000"/><stop offset="93%" stop-color="#fcd800"/><stop offset="100%" stop-color="#fce400"/></linearGradient><linearGradient id="g41" gradientUnits="userSpaceOnUse" x1="0" y1="115.4" x2="0" y2="189.2"><stop offset="0%" stop-color="#fc00fc"/><stop offset="30%" stop-color="#fc00fc"/><stop offset="34%" stop-color="#00ccfc"/><stop offset="38%" stop-color="#00fc48"/><stop offset="42%" stop-color="#54fc00"/><stop offset="46%" stop-color="#d8fc00"/><stop offset="49%" stop-color="#fcd800"/><stop offset="52%" stop-color="#fc9000"/><stop offset="56%" stop-color="#fc3c00"/><stop offset="62%" stop-color="#fc0c18"/><stop offset="70%" stop-color="#fc240c"/><stop offset="76%" stop-color="#fc4800"/><stop offset="80%" stop-color="#fc9000"/><stop offset="86%" stop-color="#fcb400"/><stop offset="93%" stop-color="#fcd800"/><stop offset="100%" stop-color="#fce400"/></linearGradient><linearGradient id="g42" gradientUnits="userSpaceOnUse" x1="0" y1="115.4" x2="0" y2="189.2"><stop offset="0%" stop-color="#fc00fc"/><stop offset="30%" stop-color="#fc00fc"/><stop offset="34%" stop-color="#00ccfc"/><stop offset="38%" stop-color="#00fc48"/><stop offset="42%" stop-color="#54fc00"/><stop offset="46%" stop-color="#d8fc00"/><stop offset="49%" stop-color="#fcd800"/><stop offset="52%" stop-color="#fc9000"/><stop offset="56%" stop-color="#fc3000"/><stop offset="62%" stop-color="#fc0c18"/><stop offset="70%" stop-color="#fc180c"/><stop offset="76%" stop-color="#fc4800"/><stop offset="80%" stop-color="#fc8400"/><stop offset="86%" stop-color="#fcb400"/><stop offset="93%" stop-color="#fcd800"/><stop offset="100%" stop-color="#fce400"/></linearGradient><linearGradient id="g43" gradientUnits="userSpaceOnUse" x1="0" y1="115.4" x2="0" y2="189.2"><stop offset="0%" stop-color="#fc00fc"/><stop offset="30%" stop-color="#fc00fc"/><stop offset="34%" stop-color="#00ccfc"/><stop offset="38%" stop-color="#00fc48"/><stop offset="42%" stop-color="#54fc00"/><stop offset="46%" stop-color="#d8fc00"/><stop offset="49%" stop-color="#fcd800"/><stop offset="52%" stop-color="#fc9000"/><stop offset="56%" stop-color="#fc3000"/><stop offset="62%" stop-color="#fc0c18"/><stop offset="70%" stop-color="#fc1818"/><stop offset="76%" stop-color="#fc4800"/><stop offset="80%" stop-color="#fc8400"/><stop offset="86%" stop-color="#fcb400"/><stop offset="93%" stop-color="#fcf000"/><stop offset="100%" stop-color="#d8fc00"/></linearGradient><linearGradient id="g44" gradientUnits="userSpaceOnUse" x1="0" y1="115.4" x2="0" y2="189.2"><stop offset="0%" stop-color="#fc00fc"/><stop offset="30%" stop-color="#fc00fc"/><stop offset="34%" stop-color="#00ccfc"/><stop offset="38%" stop-color="#00fc3c"/><stop offset="42%" stop-color="#3cfc00"/><stop offset="46%" stop-color="#b4fc00"/><stop offset="49%" stop-color="#fcf000"/><stop offset="52%" stop-color="#fc8400"/><stop offset="56%" stop-color="#fc240c"/><stop offset="62%" stop-color="#fc0030"/><stop offset="70%" stop-color="#fc0030"/><stop offset="76%" stop-color="#fc3c00"/><stop offset="80%" stop-color="#fc9000"/><stop offset="86%" stop-color="#fce400"/><stop offset="93%" stop-color="#ccfc00"/><stop offset="100%" stop-color="#90fc00"/></linearGradient><linearGradient id="g45" gradientUnits="userSpaceOnUse" x1="0" y1="115.4" x2="0" y2="189.2"><stop offset="0%" stop-color="#fc00fc"/><stop offset="30%" stop-color="#fc00fc"/><stop offset="34%" stop-color="#00ccfc"/><stop offset="38%" stop-color="#0cfc30"/><stop offset="42%" stop-color="#3cfc0c"/><stop offset="46%" stop-color="#84fc00"/><stop offset="49%" stop-color="#ccfc00"/><stop offset="52%" stop-color="#fcc000"/><stop offset="56%" stop-color="#fc6000"/><stop offset="62%" stop-color="#fc1818"/><stop offset="70%" stop-color="#fc3c00"/><stop offset="76%" stop-color="#fc9c00"/><stop offset="80%" stop-color="#fce400"/><stop offset="86%" stop-color="#c0fc00"/><stop offset="93%" stop-color="#6cfc00"/><stop offset="100%" stop-color="#54fc00"/></linearGradient><linearGradient id="g46" gradientUnits="userSpaceOnUse" x1="0" y1="115.4" x2="0" y2="189.2"><stop offset="0%" stop-color="#fc00fc"/><stop offset="30%" stop-color="#fc00fc"/><stop offset="34%" stop-color="#00ccfc"/><stop offset="38%" stop-color="#18fc30"/><stop offset="42%" stop-color="#30fc0c"/><stop offset="46%" stop-color="#54fc00"/><stop offset="49%" stop-color="#84fc00"/><stop offset="52%" stop-color="#fcf000"/><stop offset="56%" stop-color="#fcb400"/><stop offset="62%" stop-color="#fc7800"/><stop offset="70%" stop-color="#fc9c00"/><stop offset="76%" stop-color="#f0fc00"/><stop offset="80%" stop-color="#b4fc00"/><stop offset="86%" stop-color="#78fc00"/><stop offset="93%" stop-color="#60fc00"/><stop offset="100%" stop-color="#54fc00"/></linearGradient><linearGradient id="g47" gradientUnits="userSpaceOnUse" x1="0" y1="115.4" x2="0" y2="189.2"><stop offset="0%" stop-color="#fc00fc"/><stop offset="30%" stop-color="#fc00fc"/><stop offset="34%" stop-color="#00ccfc"/><stop offset="38%" stop-color="#18fc30"/><stop offset="42%" stop-color="#30fc0c"/><stop offset="46%" stop-color="#54fc00"/><stop offset="49%" stop-color="#6cfc00"/><stop offset="52%" stop-color="#e4fc00"/><stop offset="56%" stop-color="#f0fc00"/><stop offset="62%" stop-color="#fcd800"/><stop offset="70%" stop-color="#f0fc00"/><stop offset="76%" stop-color="#a8fc00"/><stop offset="80%" stop-color="#90fc00"/><stop offset="86%" stop-color="#78fc00"/><stop offset="93%" stop-color="#60fc00"/><stop offset="100%" stop-color="#54fc00"/></linearGradient><linearGradient id="g48" gradientUnits="userSpaceOnUse" x1="0" y1="115.4" x2="0" y2="189.2"><stop offset="0%" stop-color="#00f0b4"/><stop offset="30%" stop-color="#00f0b4"/><stop offset="34%" stop-color="#00fc84"/><stop offset="38%" stop-color="#18fc30"/><stop offset="42%" stop-color="#30fc0c"/><stop offset="46%" stop-color="#54fc00"/><stop offset="49%" stop-color="#6cfc00"/><stop offset="52%" stop-color="#e4fc00"/><stop offset="56%" stop-color="#f0fc00"/><stop offset="62%" stop-color="#fcfc00"/><stop offset="70%" stop-color="#f0fc00"/><stop offset="76%" stop-color="#a8fc00"/><stop offset="80%" stop-color="#90fc00"/><stop offset="86%" stop-color="#78fc00"/><stop offset="93%" stop-color="#60fc00"/><stop offset="100%" stop-color="#54fc00"/></linearGradient><linearGradient id="g49" gradientUnits="userSpaceOnUse" x1="0" y1="115.4" x2="0" y2="189.2"><stop offset="0%" stop-color="#24f060"/><stop offset="30%" stop-color="#24f060"/><stop offset="34%" stop-color="#00fc84"/><stop offset="38%" stop-color="#18fc30"/><stop offset="42%" stop-color="#30fc0c"/><stop offset="46%" stop-color="#54fc00"/><stop offset="49%" stop-color="#6cfc00"/><stop offset="52%" stop-color="#78fc00"/><stop offset="56%" stop-color="#9cfc00"/><stop offset="62%" stop-color="#b4fc00"/><stop offset="70%" stop-color="#b4fc00"/><stop offset="76%" stop-color="#a8fc00"/><stop offset="80%" stop-color="#90fc00"/><stop offset="86%" stop-color="#78fc00"/><stop offset="93%" stop-color="#60fc00"/><stop offset="100%" stop-color="#54fc00"/></linearGradient><linearGradient id="g50" gradientUnits="userSpaceOnUse" x1="0" y1="115.4" x2="0" y2="189.2"><stop offset="0%" stop-color="#24f060"/><stop offset="30%" stop-color="#24f060"/><stop offset="34%" stop-color="#00fccc"/><stop offset="38%" stop-color="#00fccc"/><stop offset="42%" stop-color="#00e4f0"/><stop offset="70%" stop-color="#00e4f0"/><stop offset="76%" stop-color="#a8fc00"/><stop offset="80%" stop-color="#90fc00"/><stop offset="86%" stop-color="#78fc00"/><stop offset="93%" stop-color="#60fc00"/><stop offset="100%" stop-color="#54fc00"/></linearGradient><linearGradient id="g51" gradientUnits="userSpaceOnUse" x1="0" y1="115.4" x2="0" y2="189.2"><stop offset="0%" stop-color="#00e4cc"/><stop offset="30%" stop-color="#00e4cc"/><stop offset="34%" stop-color="#00fccc"/><stop offset="38%" stop-color="#00fccc"/><stop offset="42%" stop-color="#00e4f0"/><stop offset="70%" stop-color="#00e4f0"/><stop offset="76%" stop-color="#a8fc00"/><stop offset="80%" stop-color="#90fc00"/><stop offset="86%" stop-color="#78fc00"/><stop offset="93%" stop-color="#60fc00"/><stop offset="100%" stop-color="#54fc00"/></linearGradient></defs>
<rect x="71.5" y="245" width="75.4" height="68.3" fill="url(#g0)"/>
<rect x="146.5" y="245" width="3.4" height="68.3" fill="url(#g1)"/>
<rect x="149.5" y="245" width="3.4" height="68.3" fill="url(#g2)"/>
<rect x="152.5" y="245" width="3.4" height="68.3" fill="url(#g1)"/>
<rect x="155.5" y="245" width="3.4" height="68.3" fill="url(#g3)"/>
<rect x="158.5" y="245" width="6.4" height="68.3" fill="url(#g4)"/>
<rect x="164.5" y="245" width="3.4" height="68.3" fill="url(#g5)"/>
<rect x="167.5" y="245" width="3.4" height="68.3" fill="url(#g4)"/>
<rect x="170.5" y="245" width="3.4" height="68.3" fill="url(#g2)"/>
<rect x="173.5" y="245" width="3.4" height="68.3" fill="url(#g4)"/>
<rect x="176.5" y="245" width="6.4" height="68.3" fill="url(#g2)"/>
<rect x="182.5" y="245" width="3.4" height="68.3" fill="url(#g1)"/>
<rect x="185.5" y="245" width="9.4" height="68.3" fill="url(#g6)"/>
<rect x="194.5" y="245" width="3.4" height="68.3" fill="url(#g7)"/>
<rect x="197.5" y="245" width="3.4" height="68.3" fill="url(#g8)"/>
<rect x="200.5" y="245" width="3.4" height="68.3" fill="url(#g9)"/>
<rect x="203.5" y="245" width="3.4" height="68.3" fill="url(#g10)"/>
<rect x="206.5" y="245" width="3.4" height="68.3" fill="url(#g11)"/>
<rect x="209.5" y="245" width="3.4" height="68.3" fill="url(#g12)"/>
<rect x="212.5" y="245" width="6.4" height="68.3" fill="url(#g13)"/>
<rect x="218.5" y="245" width="3.4" height="68.3" fill="url(#g14)"/>
<rect x="221.5" y="245" width="12.4" height="68.3" fill="url(#g6)"/>
<rect x="233.5" y="245" width="66.4" height="68.3" fill="url(#g0)"/>
<rect x="299.5" y="245" width="141.4" height="68.3" fill="url(#g15)"/>
<rect x="440.5" y="245" width="6.4" height="68.3" fill="url(#g16)"/>
<rect x="446.5" y="245" width="3.4" height="68.3" fill="url(#g10)"/>
<rect x="449.5" y="245" width="6.4" height="68.3" fill="url(#g15)"/>
<rect x="455.5" y="245" width="3.4" height="68.3" fill="url(#g10)"/>
<rect x="458.5" y="245" width="3.4" height="68.3" fill="url(#g17)"/>
<rect x="461.5" y="245" width="3.4" height="68.3" fill="url(#g18)"/>
<rect x="464.5" y="245" width="3.4" height="68.3" fill="url(#g19)"/>
<rect x="467.5" y="245" width="3.4" height="68.3" fill="url(#g20)"/>
<rect x="470.5" y="245" width="3.4" height="68.3" fill="url(#g21)"/>
<rect x="473.5" y="245" width="3.4" height="68.3" fill="url(#g22)"/>
<rect x="476.5" y="245" width="24.4" height="68.3" fill="url(#g23)"/>
<rect x="500.5" y="245" width="3.4" height="68.3" fill="url(#g24)"/>
<rect x="503.5" y="245" width="22.4" height="68.3" fill="url(#g25)"/>
<path d="M436 306.7h1v1h-1zM305 311.2h1v1h-1zM95 310.7h1v1h-1zM256 311.9h1v1h-1zM93 303.9h1v1h-1zM367 311.5h1v1h-1zM268 304.3h1v1h-1zM479 306.3h1v1h-1zM295 308.2h1v1h-1zM99 309.4h1v1h-1zM194 305.7h1v1h-1zM100 308.2h1v1h-1zM466 311.5h1v1h-1zM478 311.8h1v1h-1zM392 311.9h1v1h-1zM300 310.4h1v1h-1zM163 311.1h1v1h-1zM437 311.1h1v1h-1zM139 308h1v1h-1zM275 306.8h1v1h-1zM178 311.1h1v1h-1zM434 309.8h1v1h-1zM301 311.5h1v1h-1zM78 304.9h1v1h-1zM110 306.2h1v1h-1zM238 304.7h1v1h-1zM252 304.9h1v1h-1zM323 311.4h1v1h-1zM408 308.3h1v1h-1zM382 310.2h1v1h-1zM172 308.6h1v1h-1zM120 308.1h1v1h-1zM359 310.8h1v1h-1zM434 311.6h1v1h-1zM248 306.8h1v1h-1zM244 307.8h1v1h-1zM349 304.8h1v1h-1zM521 297.5h1v1h-1zM140 307.8h1v1h-1zM456 310.6h1v1h-1zM322 310.1h1v1h-1zM506 306.1h1v1h-1zM71 310.5h1v1h-1zM358 304.9h1v1h-1zM490 293.2h1v1h-1zM156 306.5h1v1h-1zM142 310.6h1v1h-1zM104 306h1v1h-1zM447 311.7h1v1h-1zM310 311.4h1v1h-1zM294 309.5h1v1h-1zM119 305.9h1v1h-1zM198 310.3h1v1h-1zM97 311.9h1v1h-1zM160 311h1v1h-1zM492 304.6h1v1h-1zM277 308.3h1v1h-1zM461 311h1v1h-1zM431 310.6h1v1h-1zM341 307.5h1v1h-1zM299 308.1h1v1h-1zM388 311.9h1v1h-1zM89 311.7h1v1h-1zM168 311.6h1v1h-1zM93 311.5h1v1h-1zM344 305.6h1v1h-1zM230 310.8h1v1h-1zM260 308.2h1v1h-1zM428 304.8h1v1h-1zM242 307.9h1v1h-1zM226 306.5h1v1h-1zM176 305.8h1v1h-1zM300 307.7h1v1h-1zM314 311.1h1v1h-1zM295 311.9h1v1h-1zM91 309.7h1v1h-1zM288 306.3h1v1h-1zM80 309.4h1v1h-1zM294 309h1v1h-1zM402 309.7h1v1h-1zM327 310h1v1h-1zM350 311.4h1v1h-1zM322 308.3h1v1h-1zM158 304.1h1v1h-1zM410 304.6h1v1h-1zM204 310.3h1v1h-1zM190 311.9h1v1h-1zM79 311.4h1v1h-1zM462 311.7h1v1h-1zM384 311.4h1v1h-1zM101 311.6h1v1h-1zM379 309.9h1v1h-1zM320 310.3h1v1h-1zM196 310h1v1h-1zM490 299.2h1v1h-1zM185 311.6h1v1h-1zM218 311.8h1v1h-1zM496 309.9h1v1h-1zM71 311.9h1v1h-1zM168 310.5h1v1h-1zM344 304.2h1v1h-1zM475 301.9h1v1h-1zM489 296.4h1v1h-1zM251 307h1v1h-1zM217 308.8h1v1h-1zM301 311.8h1v1h-1zM416 306.5h1v1h-1zM290 310.7h1v1h-1zM501 295.8h1v1h-1zM261 310.8h1v1h-1zM235 311.9h1v1h-1zM197 311.5h1v1h-1zM99 309.6h1v1h-1zM272 311.9h1v1h-1zM142 305.1h1v1h-1zM132 310.8h1v1h-1zM503 305.9h1v1h-1zM435 311.9h1v1h-1zM102 305h1v1h-1zM382 311.4h1v1h-1zM289 311.4h1v1h-1zM476 311.3h1v1h-1zM309 311.6h1v1h-1zM255 307.5h1v1h-1zM395 311.6h1v1h-1zM222 310.5h1v1h-1zM246 308.2h1v1h-1zM429 311h1v1h-1zM271 311.9h1v1h-1zM238 304.7h1v1h-1zM299 309.4h1v1h-1zM346 309.3h1v1h-1zM436 311.4h1v1h-1zM215 305.6h1v1h-1zM298 304.5h1v1h-1zM134 307h1v1h-1zM286 310.1h1v1h-1zM471 303.9h1v1h-1zM184 311h1v1h-1zM442 310.6h1v1h-1zM427 311.9h1v1h-1zM525 300.4h1v1h-1zM160 308.4h1v1h-1zM157 310.8h1v1h-1zM87 311.9h1v1h-1zM143 311.6h1v1h-1zM452 311.4h1v1h-1zM446 311.9h1v1h-1zM97 311.9h1v1h-1zM494 311.8h1v1h-1zM494 308.5h1v1h-1zM336 311.6h1v1h-1zM514 302.7h1v1h-1zM331 311.3h1v1h-1zM405 304h1v1h-1zM341 311.8h1v1h-1zM438 308.3h1v1h-1zM293 308.5h1v1h-1zM190 311.2h1v1h-1zM305 311.9h1v1h-1zM338 311.6h1v1h-1zM186 305.4h1v1h-1zM338 311.4h1v1h-1zM388 304h1v1h-1zM479 307.4h1v1h-1zM336 309.2h1v1h-1zM111 308.1h1v1h-1zM308 309.7h1v1h-1zM406 311.9h1v1h-1zM168 304.1h1v1h-1zM207 311.4h1v1h-1zM104 311.1h1v1h-1zM325 311.9h1v1h-1zM202 311.4h1v1h-1zM141 306.9h1v1h-1zM508 305.3h1v1h-1zM101 310.9h1v1h-1zM309 310.7h1v1h-1zM403 307.5h1v1h-1zM478 309h1v1h-1zM485 310.6h1v1h-1zM167 308.4h1v1h-1zM444 304.5h1v1h-1zM81 311.6h1v1h-1zM263 309.5h1v1h-1zM424 309.4h1v1h-1zM306 311.4h1v1h-1zM366 309.2h1v1h-1zM500 310.6h1v1h-1zM231 311.1h1v1h-1zM277 311.7h1v1h-1zM392 306.5h1v1h-1zM74 305.3h1v1h-1zM112 311.1h1v1h-1zM292 310.5h1v1h-1zM169 307.6h1v1h-1zM452 311.5h1v1h-1zM146 309.7h1v1h-1zM138 304.8h1v1h-1zM457 306.3h1v1h-1zM258 306.9h1v1h-1zM249 310.2h1v1h-1zM119 311.9h1v1h-1zM375 311.6h1v1h-1zM505 302.6h1v1h-1zM477 311.8h1v1h-1zM171 310.2h1v1h-1zM140 311.3h1v1h-1zM406 310.8h1v1h-1zM226 311.5h1v1h-1zM312 304h1v1h-1zM148 306.2h1v1h-1zM423 309h1v1h-1zM317 309.7h1v1h-1zM118 309.3h1v1h-1zM520 304.8h1v1h-1zM272 305.8h1v1h-1zM74 311.6h1v1h-1zM506 297h1v1h-1zM313 311.9h1v1h-1zM314 308.7h1v1h-1zM111 310.1h1v1h-1zM499 311.6h1v1h-1zM118 308.2h1v1h-1zM476 296.6h1v1h-1zM172 309.6h1v1h-1zM418 311.8h1v1h-1zM288 305.9h1v1h-1zM232 306.8h1v1h-1zM277 304.8h1v1h-1zM253 306.5h1v1h-1zM105 311h1v1h-1zM137 310.6h1v1h-1zM255 311.4h1v1h-1zM261 308.2h1v1h-1zM333 311.4h1v1h-1zM394 307.9h1v1h-1zM263 310.2h1v1h-1zM150 306.3h1v1h-1zM233 311.2h1v1h-1zM493 309.6h1v1h-1zM245 309.8h1v1h-1zM350 310.6h1v1h-1zM382 311.9h1v1h-1zM492 305.2h1v1h-1zM274 311.3h1v1h-1zM441 310.3h1v1h-1zM114 310.9h1v1h-1zM291 310.9h1v1h-1zM118 305.6h1v1h-1zM140 307.6h1v1h-1zM264 309.9h1v1h-1zM378 311.9h1v1h-1zM293 310.2h1v1h-1zM266 311.9h1v1h-1zM76 310h1v1h-1zM278 311h1v1h-1zM124 310.8h1v1h-1zM376 306.5h1v1h-1zM418 311.9h1v1h-1zM225 310h1v1h-1zM441 309.3h1v1h-1zM435 308.1h1v1h-1zM104 304.2h1v1h-1zM324 309h1v1h-1zM189 305.4h1v1h-1zM524 304.4h1v1h-1zM100 307.2h1v1h-1zM363 311.5h1v1h-1zM448 309.5h1v1h-1zM493 310.9h1v1h-1zM179 306.1h1v1h-1zM85 311.8h1v1h-1zM488 308.7h1v1h-1zM225 311.9h1v1h-1zM129 311.9h1v1h-1zM338 308.9h1v1h-1zM136 306.3h1v1h-1zM292 309h1v1h-1zM372 311.6h1v1h-1zM436 310.5h1v1h-1zM297 311.8h1v1h-1zM187 310.2h1v1h-1zM400 310.2h1v1h-1zM325 307.3h1v1h-1zM254 311.9h1v1h-1zM326 304.8h1v1h-1zM88 310.2h1v1h-1zM368 310h1v1h-1zM118 309.8h1v1h-1zM107 311.9h1v1h-1zM225 311.6h1v1h-1zM300 304.8h1v1h-1zM169 304.1h1v1h-1zM230 306.3h1v1h-1zM308 307h1v1h-1zM464 306.2h1v1h-1zM138 305.5h1v1h-1zM125 307.6h1v1h-1zM92 311.2h1v1h-1zM131 308.8h1v1h-1zM214 309.3h1v1h-1zM170 310.6h1v1h-1zM480 304.4h1v1h-1zM401 304h1v1h-1zM223 311.8h1v1h-1zM180 311.7h1v1h-1zM255 307.5h1v1h-1zM419 311.8h1v1h-1zM145 310.9h1v1h-1zM454 310h1v1h-1zM316 311.2h1v1h-1zM321 309h1v1h-1zM224 309h1v1h-1zM413 310.9h1v1h-1zM278 311.8h1v1h-1zM189 311.9h1v1h-1zM97 311.8h1v1h-1zM478 302.4h1v1h-1zM433 311.7h1v1h-1zM231 309.2h1v1h-1zM459 309.6h1v1h-1zM128 311.9h1v1h-1zM87 307.3h1v1h-1zM477 297.5h1v1h-1zM90 306.3h1v1h-1zM390 310.1h1v1h-1zM288 311.5h1v1h-1zM494 308.5h1v1h-1zM421 309.2h1v1h-1zM306 309.3h1v1h-1zM121 311.8h1v1h-1zM515 301.8h1v1h-1zM326 311.5h1v1h-1zM142 309.2h1v1h-1zM76 311.9h1v1h-1zM227 309.2h1v1h-1zM493 307.8h1v1h-1zM504 304.6h1v1h-1zM288 311.9h1v1h-1zM119 311.9h1v1h-1zM431 310.7h1v1h-1zM380 310.3h1v1h-1zM296 305.9h1v1h-1zM250 311.8h1v1h-1zM375 311.9h1v1h-1zM305 310.8h1v1h-1zM265 307.7h1v1h-1zM452 304.5h1v1h-1zM425 306.5h1v1h-1zM496 307.2h1v1h-1zM84 310.3h1v1h-1zM97 311.5h1v1h-1zM258 310.5h1v1h-1zM418 310.2h1v1h-1zM392 311.9h1v1h-1zM398 307.3h1v1h-1zM77 310.9h1v1h-1zM360 311.7h1v1h-1zM437 304.3h1v1h-1zM427 308.8h1v1h-1zM427 304.9h1v1h-1zM505 301.1h1v1h-1zM114 305.2h1v1h-1zM97 311.2h1v1h-1zM331 311.5h1v1h-1zM262 310.9h1v1h-1zM374 309.8h1v1h-1zM448 308.8h1v1h-1zM398 311.9h1v1h-1zM378 305.3h1v1h-1zM133 307h1v1h-1zM427 311.8h1v1h-1zM350 311.1h1v1h-1zM239 304h1v1h-1zM330 310.1h1v1h-1zM433 310.7h1v1h-1zM130 304.2h1v1h-1zM144 305.4h1v1h-1zM514 310.7h1v1h-1zM495 298h1v1h-1zM525 311.7h1v1h-1zM524 293.8h1v1h-1zM519 306.1h1v1h-1zM481 305.5h1v1h-1zM509 304.8h1v1h-1zM520 294.7h1v1h-1zM511 301.1h1v1h-1zM480 302h1v1h-1zM470 311.9h1v1h-1zM491 300.7h1v1h-1zM485 303.1h1v1h-1zM499 297.2h1v1h-1zM521 311.4h1v1h-1zM511 311.5h1v1h-1zM499 309.3h1v1h-1zM506 308.6h1v1h-1zM506 295.7h1v1h-1zM492 310h1v1h-1zM495 298.1h1v1h-1zM477 306h1v1h-1zM520 302.9h1v1h-1zM478 302h1v1h-1zM521 305.7h1v1h-1zM490 301.6h1v1h-1zM495 297h1v1h-1zM504 293.9h1v1h-1zM521 310.7h1v1h-1zM505 308.2h1v1h-1zM494 297.9h1v1h-1zM501 305.2h1v1h-1zM510 295.4h1v1h-1zM516 294.1h1v1h-1zM513 295h1v1h-1zM515 311h1v1h-1zM524 310h1v1h-1zM500 308.4h1v1h-1zM481 302.8h1v1h-1zM501 297.5h1v1h-1zM513 306.8h1v1h-1zM525 303.4h1v1h-1zM487 308.2h1v1h-1zM495 298.4h1v1h-1zM509 309.4h1v1h-1zM488 302.6h1v1h-1zM520 293.3h1v1h-1zM497 310.9h1v1h-1zM473 298h1v1h-1zM524 305.5h1v1h-1zM480 308.9h1v1h-1zM478 302.7h1v1h-1zM524 311.8h1v1h-1zM479 299.8h1v1h-1zM524 304.8h1v1h-1zM470 310.4h1v1h-1zM517 303.7h1v1h-1zM522 311.8h1v1h-1zM487 293.4h1v1h-1zM514 306.4h1v1h-1zM507 310h1v1h-1zM513 309h1v1h-1zM520 296.3h1v1h-1zM513 309.8h1v1h-1zM508 299.3h1v1h-1zM507 311.5h1v1h-1zM479 300.3h1v1h-1zM518 303.7h1v1h-1zM470 311.7h1v1h-1zM472 308.7h1v1h-1zM474 302.4h1v1h-1zM508 308.2h1v1h-1zM483 297.4h1v1h-1zM506 309h1v1h-1zM477 295.2h1v1h-1zM484 299.9h1v1h-1zM490 294.8h1v1h-1zM481 306.3h1v1h-1zM480 299.2h1v1h-1zM517 303.3h1v1h-1zM521 300h1v1h-1z" fill="#1030ff"/>
<path d="M511 284.1h1v1.5h-1zM507 273.9h1v1.5h-1zM505 276.9h1v1.5h-1zM517 274.4h1v1.5h-1zM522 282.1h1v1.5h-1zM508 279.1h1v1.5h-1zM517 272.1h1v1.5h-1zM516 279.4h1v1.5h-1zM521 274.5h1v1.5h-1zM505 278.2h1v1.5h-1zM521 271.9h1v1.5h-1zM507 271.6h1v1.5h-1zM524 281.5h1v1.5h-1zM504 282.8h1v1.5h-1zM512 270.4h1v1.5h-1zM504 273.8h1v1.5h-1zM503 272.6h1v1.5h-1zM504 272.2h1v1.5h-1zM505 276.4h1v1.5h-1zM520 281.8h1v1.5h-1zM514 271h1v1.5h-1zM523 271h1v1.5h-1zM503 281.3h1v1.5h-1zM516 281.4h1v1.5h-1zM508 283.4h1v1.5h-1zM521 270.7h1v1.5h-1zM523 281.6h1v1.5h-1zM521 277.2h1v1.5h-1zM520 283.7h1v1.5h-1zM522 274.2h1v1.5h-1zM506 279.8h1v1.5h-1zM512 282.9h1v1.5h-1zM512 272.4h1v1.5h-1zM511 284.5h1v1.5h-1zM518 272.6h1v1.5h-1zM507 275.8h1v1.5h-1zM523 277.8h1v1.5h-1zM508 273.2h1v1.5h-1zM508 278.1h1v1.5h-1zM507 271.6h1v1.5h-1zM520 279.9h1v1.5h-1zM515 273.9h1v1.5h-1zM512 283.2h1v1.5h-1zM508 276.5h1v1.5h-1zM505 275.9h1v1.5h-1zM504 281.6h1v1.5h-1zM524 271.2h1v1.5h-1zM510 284.3h1v1.5h-1zM505 282.2h1v1.5h-1zM505 277h1v1.5h-1zM519 281.9h1v1.5h-1zM520 274.9h1v1.5h-1zM514 272h1v1.5h-1zM524 281.1h1v1.5h-1zM511 277.5h1v1.5h-1zM515 275.4h1v1.5h-1zM510 283.7h1v1.5h-1zM506 284.3h1v1.5h-1zM514 277h1v1.5h-1zM513 270.3h1v1.5h-1z" fill="#1030ff"/>
<path d="M219.2 310.1h1v1h-1zM92.8 311.9h1v1h-1zM74.4 309.4h1v1h-1zM74.8 308.1h1v1h-1zM355.6 309h1v1h-1zM90.5 309.9h1v1h-1zM165.4 308.2h1v1h-1zM232.9 311.1h1v1h-1zM266.8 310.6h1v1h-1zM136.9 308.8h1v1h-1zM170.2 308.3h1v1h-1zM405.9 308.5h1v1h-1zM402.3 308.4h1v1h-1zM505.9 311.9h1v1h-1zM188.8 308.3h1v1h-1zM319.1 308.2h1v1h-1zM281.3 310.5h1v1h-1zM449.5 310.8h1v1h-1zM256.4 308.6h1v1h-1zM248.7 309.3h1v1h-1zM140.3 311.1h1v1h-1zM516.5 311.1h1v1h-1zM146.2 311.8h1v1h-1zM106.4 310.3h1v1h-1zM351.2 308.4h1v1h-1zM519.9 310.5h1v1h-1zM297 310.3h1v1h-1zM281.7 308.5h1v1h-1zM259.2 308.9h1v1h-1zM460.3 310.3h1v1h-1z" fill="#ff00ff"/>
<rect x="669" y="115.4" width="84.4" height="73.9" fill="url(#g26)"/>
<rect x="753" y="115.4" width="33.4" height="73.9" fill="url(#g27)"/>
<rect x="786" y="115.4" width="3.4" height="73.9" fill="url(#g28)"/>
<rect x="789" y="115.4" width="6.4" height="73.9" fill="url(#g29)"/>
<rect x="795" y="115.4" width="3.4" height="73.9" fill="url(#g30)"/>
<rect x="798" y="115.4" width="3.4" height="73.9" fill="url(#g31)"/>
<rect x="801" y="115.4" width="3.4" height="73.9" fill="url(#g32)"/>
<rect x="804" y="115.4" width="3.4" height="73.9" fill="url(#g33)"/>
<rect x="807" y="115.4" width="9.4" height="73.9" fill="url(#g32)"/>
<rect x="816" y="115.4" width="3.4" height="73.9" fill="url(#g34)"/>
<rect x="819" y="115.4" width="3.4" height="73.9" fill="url(#g35)"/>
<rect x="822" y="115.4" width="3.4" height="73.9" fill="url(#g36)"/>
<rect x="825" y="115.4" width="3.4" height="73.9" fill="url(#g32)"/>
<rect x="828" y="115.4" width="3.4" height="73.9" fill="url(#g30)"/>
<rect x="831" y="115.4" width="3.4" height="73.9" fill="url(#g31)"/>
<rect x="834" y="115.4" width="3.4" height="73.9" fill="url(#g37)"/>
<rect x="837" y="115.4" width="3.4" height="73.9" fill="url(#g33)"/>
<rect x="840" y="115.4" width="174.4" height="73.9" fill="url(#g26)"/>
<rect x="1014" y="115.4" width="3.4" height="73.9" fill="url(#g38)"/>
<rect x="1017" y="115.4" width="9.4" height="73.9" fill="url(#g32)"/>
<rect x="1026" y="115.4" width="3.4" height="73.9" fill="url(#g30)"/>
<rect x="1029" y="115.4" width="3.4" height="73.9" fill="url(#g32)"/>
<rect x="1032" y="115.4" width="3.4" height="73.9" fill="url(#g39)"/>
<rect x="1035" y="115.4" width="3.4" height="73.9" fill="url(#g40)"/>
<rect x="1038" y="115.4" width="3.4" height="73.9" fill="url(#g29)"/>
<rect x="1041" y="115.4" width="3.4" height="73.9" fill="url(#g40)"/>
<rect x="1044" y="115.4" width="3.4" height="73.9" fill="url(#g32)"/>
<rect x="1047" y="115.4" width="3.4" height="73.9" fill="url(#g40)"/>
<rect x="1050" y="115.4" width="3.4" height="73.9" fill="url(#g41)"/>
<rect x="1053" y="115.4" width="3.4" height="73.9" fill="url(#g36)"/>
<rect x="1056" y="115.4" width="3.4" height="73.9" fill="url(#g42)"/>
<rect x="1059" y="115.4" width="3.4" height="73.9" fill="url(#g43)"/>
<rect x="1062" y="115.4" width="3.4" height="73.9" fill="url(#g44)"/>
<rect x="1065" y="115.4" width="3.4" height="73.9" fill="url(#g45)"/>
<rect x="1068" y="115.4" width="3.4" height="73.9" fill="url(#g46)"/>
<rect x="1071" y="115.4" width="3.4" height="73.9" fill="url(#g47)"/>
<rect x="1074" y="115.4" width="9.4" height="73.9" fill="url(#g48)"/>
<rect x="1083" y="115.4" width="15.4" height="73.9" fill="url(#g49)"/>
<rect x="1098" y="115.4" width="3.4" height="73.9" fill="url(#g50)"/>
<rect x="1101" y="115.4" width="22" height="73.9" fill="url(#g51)"/>
<path d="M670 136.8h1V141.8h-1zM671 136.8h1V141.8h-1zM672 136.8h1V136.1h-1zM673 136.8h1V141.3h-1zM674 136.8h1V141.9h-1zM675 136.8h1V139.7h-1zM676 136.8h1V141.3h-1zM677 136.8h1V141.2h-1zM678 136.8h1V137.2h-1zM679 136.8h1V141.4h-1zM680 136.8h1V140h-1zM681 136.8h1V136.4h-1zM682 136.8h1V139.8h-1zM683 136.8h1V139.4h-1zM684 136.8h1V140.6h-1zM685 136.8h1V141.7h-1zM686 136.8h1V136.1h-1zM687 136.8h1V139.8h-1zM688 136.8h1V139.4h-1zM689 136.8h1V141.1h-1zM690 136.8h1V136.4h-1zM691 136.8h1V136.9h-1zM692 136.8h1V138.5h-1zM693 136.8h1V142.2h-1zM694 136.8h1V136.8h-1zM695 136.8h1V137.7h-1zM696 136.8h1V139.3h-1zM697 136.8h1V140.7h-1zM698 136.8h1V136.5h-1zM699 136.8h1V138h-1zM700 136.8h1V141.3h-1zM701 136.8h1V140.6h-1zM702 136.8h1V138.1h-1zM703 136.8h1V139.1h-1zM704 136.8h1V139.4h-1zM705 136.8h1V141.6h-1zM706 136.8h1V136.2h-1zM707 136.8h1V139.6h-1zM708 136.8h1V136.6h-1zM709 136.8h1V137.6h-1zM710 136.8h1V139.1h-1zM711 136.8h1V138.3h-1zM712 136.8h1V136.8h-1zM713 136.8h1V139.1h-1zM714 136.8h1V142.4h-1zM715 136.8h1V141.9h-1zM716 136.8h1V140.2h-1zM717 136.8h1V139.3h-1zM718 136.8h1V138.6h-1zM719 136.8h1V136.2h-1zM720 136.8h1V142.5h-1zM721 136.8h1V141.9h-1zM722 136.8h1V140h-1zM723 136.8h1V140.2h-1zM724 136.8h1V136h-1zM725 136.8h1V136.8h-1zM726 136.8h1V140.3h-1zM727 136.8h1V139h-1zM728 136.8h1V142.2h-1zM729 136.8h1V136.3h-1zM730 136.8h1V137.9h-1zM731 136.8h1V136.5h-1zM732 136.8h1V136.5h-1zM733 136.8h1V140.4h-1zM734 136.8h1V137.3h-1zM735 136.8h1V139.6h-1zM736 136.8h1V137.7h-1zM737 136.8h1V141.3h-1zM738 136.8h1V137h-1zM739 136.8h1V142.5h-1zM740 136.8h1V139.2h-1zM741 136.8h1V141.7h-1zM742 136.8h1V140.3h-1zM743 136.8h1V136.2h-1zM744 136.8h1V142h-1zM745 136.8h1V140.2h-1zM746 136.8h1V138.8h-1zM747 136.8h1V139.5h-1zM748 136.8h1V138.7h-1zM749 136.8h1V141.6h-1zM750 136.8h1V137h-1zM751 136.8h1V140.6h-1zM752 136.8h1V141.5h-1zM753 136.8h1V139h-1zM754 136.8h1V141.7h-1zM755 136.8h1V138h-1zM756 136.8h1V141.4h-1zM757 136.8h1V142.6h-1zM758 136.8h1V141.3h-1zM759 136.8h1V141.5h-1zM760 136.8h1V140.3h-1zM761 136.8h1V141.7h-1zM762 136.8h1V137.5h-1zM763 136.8h1V140.1h-1zM764 136.8h1V136.6h-1zM765 136.8h1V137.3h-1zM766 136.8h1V141.8h-1zM767 136.8h1V138.4h-1zM768 136.8h1V138.2h-1zM769 136.8h1V140.7h-1zM770 136.8h1V137.5h-1zM771 136.8h1V138.9h-1zM772 136.8h1V141.2h-1zM773 136.8h1V138h-1zM774 136.8h1V140h-1zM775 136.8h1V138.4h-1zM776 136.8h1V140.2h-1zM777 136.8h1V136.2h-1zM778 136.8h1V140.5h-1zM779 136.8h1V140.2h-1zM780 136.8h1V138.5h-1zM781 136.8h1V137.3h-1zM782 136.8h1V139.1h-1zM783 136.8h1V139.2h-1zM784 136.8h1V142.1h-1zM785 136.8h1V137h-1zM786 136.8h1V142.7h-1zM787 136.8h1V139.6h-1zM788 136.8h1V141.8h-1zM789 136.8h1V136.5h-1zM790 136.8h1V140h-1zM791 136.8h1V142.3h-1zM792 136.8h1V139.6h-1zM793 136.8h1V141.8h-1zM794 136.8h1V139.8h-1zM795 136.8h1V139.5h-1zM796 136.8h1V139.2h-1zM797 136.8h1V139.7h-1zM798 136.8h1V137.5h-1zM799 136.8h1V137.3h-1zM800 136.8h1V138.4h-1zM801 136.8h1V139.5h-1zM802 136.8h1V141.9h-1zM803 136.8h1V140.4h-1zM804 136.8h1V136.3h-1zM805 136.8h1V142h-1zM806 136.8h1V142.2h-1zM807 136.8h1V141h-1zM808 136.8h1V140.5h-1zM809 136.8h1V140.1h-1zM810 136.8h1V138h-1zM811 136.8h1V136.7h-1zM812 136.8h1V142.3h-1zM813 136.8h1V141.8h-1zM814 136.8h1V139.2h-1zM815 136.8h1V139.2h-1zM816 136.8h1V141.3h-1zM817 136.8h1V137.6h-1zM818 136.8h1V141.3h-1zM819 136.8h1V136.8h-1zM820 136.8h1V136.2h-1zM821 136.8h1V140.3h-1zM822 136.8h1V139.1h-1zM823 136.8h1V137.9h-1zM824 136.8h1V138.8h-1zM825 136.8h1V136.7h-1zM826 136.8h1V140.2h-1zM827 136.8h1V136.3h-1zM828 136.8h1V142.3h-1zM829 136.8h1V139.9h-1zM830 136.8h1V138.2h-1zM831 136.8h1V141h-1zM832 136.8h1V137.4h-1zM833 136.8h1V138.8h-1zM834 136.8h1V140.7h-1zM835 136.8h1V137.9h-1zM836 136.8h1V141.5h-1zM837 136.8h1V140.2h-1zM838 136.8h1V138.6h-1zM839 136.8h1V139.7h-1zM840 136.8h1V142.5h-1zM841 136.8h1V142.6h-1zM842 136.8h1V139.8h-1zM843 136.8h1V140.8h-1zM844 136.8h1V138.2h-1zM845 136.8h1V136.3h-1zM846 136.8h1V138.5h-1zM847 136.8h1V136.9h-1zM848 136.8h1V137.3h-1zM849 136.8h1V142h-1zM850 136.8h1V140.6h-1zM851 136.8h1V141.6h-1zM852 136.8h1V136.3h-1zM853 136.8h1V141.9h-1zM854 136.8h1V136.9h-1zM855 136.8h1V138.1h-1zM856 136.8h1V138.7h-1zM857 136.8h1V137.8h-1zM858 136.8h1V138.9h-1zM859 136.8h1V139.9h-1zM860 136.8h1V139.8h-1zM861 136.8h1V141.1h-1zM862 136.8h1V136.5h-1zM863 136.8h1V139.4h-1zM864 136.8h1V142.1h-1zM865 136.8h1V141.6h-1zM866 136.8h1V139.6h-1zM867 136.8h1V140.3h-1zM868 136.8h1V138.6h-1zM869 136.8h1V140.3h-1zM870 136.8h1V140h-1zM871 136.8h1V138.2h-1zM872 136.8h1V141.7h-1zM873 136.8h1V138.3h-1zM874 136.8h1V138.7h-1zM875 136.8h1V139h-1zM876 136.8h1V140.8h-1zM877 136.8h1V138.8h-1zM878 136.8h1V136.2h-1zM879 136.8h1V140.6h-1zM880 136.8h1V139.2h-1zM881 136.8h1V136.7h-1zM882 136.8h1V138.1h-1zM883 136.8h1V142.1h-1zM884 136.8h1V142.4h-1zM885 136.8h1V142.5h-1zM886 136.8h1V138.7h-1zM887 136.8h1V141.2h-1zM888 136.8h1V137.7h-1zM889 136.8h1V138.8h-1zM890 136.8h1V137.5h-1zM891 136.8h1V142.6h-1zM892 136.8h1V141.9h-1zM893 136.8h1V141h-1zM894 136.8h1V141h-1zM895 136.8h1V137.1h-1zM896 136.8h1V140.9h-1zM897 136.8h1V140.6h-1zM898 136.8h1V138.8h-1zM899 136.8h1V138.8h-1zM900 136.8h1V140.7h-1zM901 136.8h1V142.4h-1zM902 136.8h1V141.5h-1zM903 136.8h1V138h-1zM904 136.8h1V137.2h-1zM905 136.8h1V141.9h-1zM906 136.8h1V138.4h-1zM907 136.8h1V140.5h-1zM908 136.8h1V139h-1zM909 136.8h1V137.9h-1zM910 136.8h1V140.5h-1zM911 136.8h1V138.7h-1zM912 136.8h1V140.4h-1zM913 136.8h1V142h-1zM914 136.8h1V140.2h-1zM915 136.8h1V139.1h-1zM916 136.8h1V141.5h-1zM917 136.8h1V142.4h-1zM918 136.8h1V136.8h-1zM919 136.8h1V137.3h-1zM920 136.8h1V136.9h-1zM921 136.8h1V141h-1zM922 136.8h1V140.7h-1zM923 136.8h1V139.4h-1zM924 136.8h1V137.9h-1zM925 136.8h1V141.3h-1zM926 136.8h1V142.2h-1zM927 136.8h1V138.5h-1zM928 136.8h1V137.1h-1zM929 136.8h1V140.9h-1zM930 136.8h1V142.2h-1zM931 136.8h1V138.6h-1zM932 136.8h1V136.3h-1zM933 136.8h1V140.5h-1zM934 136.8h1V136.8h-1zM935 136.8h1V138.8h-1zM936 136.8h1V139.9h-1zM937 136.8h1V136.4h-1zM938 136.8h1V136.4h-1zM939 136.8h1V139h-1zM940 136.8h1V139.9h-1zM941 136.8h1V139.9h-1zM942 136.8h1V137.6h-1zM943 136.8h1V141.2h-1zM944 136.8h1V138.4h-1zM945 136.8h1V140.4h-1zM946 136.8h1V140.9h-1zM947 136.8h1V137.3h-1zM948 136.8h1V138.9h-1zM949 136.8h1V141.3h-1zM950 136.8h1V141.6h-1zM951 136.8h1V139.7h-1zM952 136.8h1V140.7h-1zM953 136.8h1V136.4h-1zM954 136.8h1V142.3h-1zM955 136.8h1V141.1h-1zM956 136.8h1V136.8h-1zM957 136.8h1V138.2h-1zM958 136.8h1V140.1h-1zM959 136.8h1V137.9h-1zM960 136.8h1V138.4h-1zM961 136.8h1V137.3h-1zM962 136.8h1V139.3h-1zM963 136.8h1V142.4h-1zM964 136.8h1V136.3h-1zM965 136.8h1V139.6h-1zM966 136.8h1V136.8h-1zM967 136.8h1V136.2h-1zM968 136.8h1V141.4h-1zM969 136.8h1V142.7h-1zM970 136.8h1V140h-1zM971 136.8h1V140.7h-1zM972 136.8h1V137.8h-1zM973 136.8h1V136.6h-1zM974 136.8h1V136.8h-1zM975 136.8h1V138.4h-1zM976 136.8h1V142.5h-1zM977 136.8h1V139.7h-1zM978 136.8h1V138.3h-1zM979 136.8h1V141.9h-1zM980 136.8h1V141.3h-1zM981 136.8h1V137.6h-1zM982 136.8h1V142.1h-1zM983 136.8h1V139.6h-1zM984 136.8h1V140.1h-1zM985 136.8h1V139.1h-1zM986 136.8h1V141.2h-1zM987 136.8h1V137.3h-1zM988 136.8h1V139.8h-1zM989 136.8h1V136.5h-1zM990 136.8h1V137.2h-1zM991 136.8h1V140.8h-1zM992 136.8h1V138.3h-1zM993 136.8h1V137.2h-1zM994 136.8h1V140.6h-1zM995 136.8h1V140.9h-1zM996 136.8h1V137.3h-1zM997 136.8h1V139.8h-1zM998 136.8h1V140.7h-1zM999 136.8h1V138h-1zM1000 136.8h1V136.3h-1zM1001 136.8h1V140.9h-1zM1002 136.8h1V137.6h-1zM1003 136.8h1V141.7h-1zM1004 136.8h1V140.6h-1zM1005 136.8h1V136.4h-1zM1006 136.8h1V136.7h-1zM1007 136.8h1V140h-1zM1008 136.8h1V136.1h-1zM1009 136.8h1V141.7h-1zM1010 136.8h1V139.5h-1zM1011 136.8h1V140.3h-1zM1012 136.8h1V140.6h-1zM1013 136.8h1V136.8h-1zM1014 136.8h1V138.1h-1zM1015 136.8h1V137.6h-1zM1016 136.8h1V139h-1zM1017 136.8h1V138.3h-1zM1018 136.8h1V136.5h-1zM1019 136.8h1V137.6h-1zM1020 136.8h1V138.7h-1zM1021 136.8h1V142h-1zM1022 136.8h1V140.2h-1zM1023 136.8h1V136.6h-1zM1024 136.8h1V137.9h-1zM1025 136.8h1V138.2h-1zM1026 136.8h1V140.7h-1zM1027 136.8h1V140h-1zM1028 136.8h1V140.6h-1zM1029 136.8h1V139h-1zM1030 136.8h1V141.5h-1zM1031 136.8h1V124.1h-1zM1032 136.8h1V137.5h-1zM1033 136.8h1V126.2h-1zM1034 136.8h1V136.4h-1zM1035 136.8h1V122.9h-1zM1036 136.8h1V133.9h-1zM1037 136.8h1V128.3h-1zM1038 136.8h1V136.5h-1zM1039 136.8h1V131.1h-1zM1040 136.8h1V126.7h-1zM1041 136.8h1V137.8h-1zM1042 136.8h1V132.5h-1zM1043 136.8h1V126.9h-1zM1044 136.8h1V137.4h-1zM1045 136.8h1V134.9h-1zM1046 136.8h1V130.6h-1zM1047 136.8h1V126.2h-1zM1048 136.8h1V125.9h-1zM1049 136.8h1V134.1h-1zM1050 136.8h1V139.9h-1zM1051 136.8h1V124.4h-1zM1052 136.8h1V130.5h-1zM1053 136.8h1V125.9h-1zM1054 136.8h1V134.4h-1zM1055 136.8h1V126.8h-1zM1056 136.8h1V135.8h-1zM1057 136.8h1V132.7h-1zM1058 136.8h1V132.8h-1zM1059 136.8h1V132.6h-1zM1060 136.8h1V126.7h-1zM1061 136.8h1V133.6h-1zM1062 136.8h1V136h-1zM1063 136.8h1V139.5h-1zM1064 136.8h1V132.8h-1zM1065 136.8h1V134.6h-1zM1066 136.8h1V138.9h-1zM1067 136.8h1V129h-1zM1068 136.8h1V123.1h-1zM1069 136.8h1V134.6h-1zM1070 136.8h1V140.3h-1zM1071 136.8h1V133.5h-1zM1072 136.8h1V125.3h-1z" fill="#ff00ff"/>
<path d="M671 135.5h1v3.9h-1zM677 122h1v5.6h-1zM677 131.8h1v4.6h-1zM679 128.3h1v1.4h-1zM680 128.4h1v1.1h-1zM684 126.6h1v6.4h-1zM688 132.8h1v4.9h-1zM690 139.8h1v5.1h-1zM690 135.3h1v6.4h-1zM691 136.9h1v4.4h-1zM695 131.7h1v6.5h-1zM697 125.5h1v2.6h-1zM701 140.4h1v5.8h-1zM702 140.7h1v4.2h-1zM704 125h1v5.6h-1zM705 137.4h1v5h-1zM707 139.3h1v6.6h-1zM708 141.9h1v4.9h-1zM710 141.7h1v4h-1zM712 133.6h1v3.9h-1zM712 127.6h1v4.5h-1zM713 131.4h1v1.5h-1zM716 140.8h1v4.1h-1zM718 136h1v5.3h-1zM720 135h1v2.3h-1zM723 125.8h1v5.8h-1zM724 138.6h1v4.4h-1zM725 139.5h1v6.3h-1zM726 126.1h1v3.7h-1zM728 138.5h1v3.5h-1zM730 141.7h1v2.8h-1zM733 124.2h1v1.4h-1zM735 139.9h1v2.4h-1zM736 125.1h1v2.3h-1zM737 126.4h1v2.4h-1zM738 129.5h1v4.6h-1zM740 137h1v6.3h-1zM741 127.9h1v3.2h-1zM743 124.8h1v2h-1zM745 128h1v1.5h-1zM751 123.3h1v3.8h-1zM752 129.4h1v2.4h-1zM757 140.5h1v1.9h-1zM758 123h1v6.3h-1zM759 126.8h1v4.9h-1zM760 130.7h1v2.3h-1zM762 133.8h1v3h-1zM762 139.6h1v2.7h-1zM763 122h1v2.6h-1zM763 141.9h1v3h-1zM764 138.3h1v1.5h-1zM765 123.1h1v1.7h-1zM766 138.7h1v5.7h-1zM767 126.2h1v1.8h-1zM768 136.1h1v1.4h-1zM769 141.2h1v4.9h-1zM769 139.1h1v1.4h-1zM776 134.7h1v5.6h-1zM777 136.7h1v1.8h-1zM777 130.2h1v2.1h-1zM778 122.3h1v5.7h-1zM779 140.8h1v4.7h-1zM784 122.6h1v1.6h-1zM786 139.1h1v4h-1zM789 123.6h1v1.8h-1zM789 140.2h1v6.9h-1zM790 139.2h1v2h-1zM796 120.8h1v3.2h-1zM797 138h1v6.2h-1zM803 124.9h1v5.6h-1zM806 141h1v2.8h-1zM807 123.8h1v3.2h-1zM808 141.7h1v2.1h-1zM811 130.8h1v5.9h-1zM815 139.8h1v7h-1zM815 139.2h1v6.1h-1zM817 123.8h1v3.3h-1zM818 131.2h1v4.1h-1zM818 129.7h1v5.9h-1zM820 133.8h1v4h-1zM822 139.3h1v6.8h-1zM823 122h1v5.4h-1zM825 141.2h1v6.1h-1zM829 140h1v2.9h-1zM829 127.1h1v3.4h-1zM830 125.6h1v3.9h-1zM832 138.2h1v1.5h-1zM833 123.7h1v4.5h-1zM833 124.4h1v5.2h-1zM834 141.7h1v5.5h-1zM834 136.8h1v1.5h-1zM839 137.8h1v1.6h-1zM840 141.7h1v6.6h-1zM843 138.5h1v2.5h-1zM845 134.9h1v3.8h-1zM848 138.6h1v6.4h-1zM849 140.8h1v6.7h-1zM851 131.7h1v6.7h-1zM852 141.6h1v4.9h-1zM853 127.3h1v5.6h-1zM854 134h1v6.1h-1zM856 139.5h1v3.5h-1zM858 140h1v2.8h-1zM859 137.8h1v4.7h-1zM861 129.3h1v6.2h-1zM861 141.7h1v2.9h-1zM862 141.3h1v3.6h-1zM863 139.8h1v5.2h-1zM866 135.3h1v2.5h-1zM867 141.6h1v6.4h-1zM868 120.4h1v6.1h-1zM868 134.7h1v1.4h-1zM869 133.9h1v6.3h-1zM870 135.9h1v5.1h-1zM871 140.5h1v3h-1zM872 138.8h1v6.6h-1zM876 134h1v6.7h-1zM877 141.1h1v5.5h-1zM877 133.3h1v3.4h-1zM878 135h1v3.7h-1zM878 120.5h1v4.9h-1zM880 136.9h1v3.7h-1zM882 133.3h1v2.1h-1zM883 141.5h1v1.5h-1zM883 141.9h1v3.5h-1zM886 141.8h1v3.4h-1zM886 141.7h1v1.7h-1zM889 122.8h1v2.6h-1zM894 127.4h1v5.6h-1zM895 130.7h1v5.6h-1zM896 134.3h1v3.1h-1zM896 132.3h1v3.6h-1zM902 130h1v4.8h-1zM903 127.7h1v1.6h-1zM905 127.6h1v6.2h-1zM907 127.4h1v5h-1zM909 139.6h1v5.9h-1zM912 135.3h1v5.5h-1zM912 140.7h1v2.6h-1zM913 124.7h1v1.8h-1zM915 131.7h1v6.5h-1zM919 132.4h1v1.5h-1zM922 138.8h1v2.5h-1zM922 135.7h1v3.6h-1zM925 138.8h1v1.7h-1zM925 136h1v1.4h-1zM928 133.8h1v6.5h-1zM931 135.1h1v2.9h-1zM931 127.7h1v2h-1zM933 120.7h1v5.2h-1zM936 133.1h1v3.1h-1zM940 120.6h1v2h-1zM941 133.6h1v5.3h-1zM942 120.5h1v2.9h-1zM944 141.3h1v7h-1zM949 135h1v6.2h-1zM950 125.6h1v4h-1zM950 141.7h1v6.7h-1zM952 137.3h1v1.7h-1zM953 131.7h1v4.9h-1zM954 139.4h1v4.5h-1zM955 130.2h1v3.4h-1zM956 139.4h1v2.8h-1zM956 139.9h1v5.1h-1zM957 140.4h1v2.6h-1zM958 130.2h1v1.3h-1zM959 126.5h1v4.7h-1zM963 132.3h1v4h-1zM967 131.7h1v1h-1zM967 135.7h1v6.3h-1zM968 133.8h1v2.4h-1zM971 121.2h1v2.6h-1zM974 132.4h1v2.4h-1zM976 136.7h1v2.7h-1zM977 130.9h1v5.5h-1zM981 134.7h1v3.9h-1zM985 140h1v4.8h-1zM986 121.7h1v4.4h-1zM988 120.8h1v2.2h-1zM988 135.1h1v2.8h-1zM993 120.1h1v3.7h-1zM995 133.4h1v1.8h-1zM997 140.6h1v2.9h-1zM998 141.4h1v4.7h-1zM999 137.4h1v5.4h-1zM1000 136.1h1v4.2h-1zM1001 123.7h1v1.3h-1zM1002 139.8h1v6.3h-1zM1004 140.2h1v6h-1zM1006 130h1v6.3h-1zM1008 140.5h1v6.4h-1zM1012 122.6h1v2h-1zM1012 137.8h1v5.9h-1zM1013 139.5h1v6.3h-1zM1014 141.1h1v1h-1zM1018 134.8h1v2h-1zM1019 141.2h1v5.7h-1zM1020 121.5h1v5.3h-1zM1023 126h1v5.2h-1zM1025 136.5h1v4.8h-1zM1031 119.5h1v6.5h-1zM1031 138.3h1v6.8h-1zM1031 122.6h1v5h-1zM1031 117.4h1v5.6h-1zM1032 132.4h1v3.1h-1zM1033 132.1h1v1.6h-1zM1033 123.1h1v3.4h-1zM1034 129.9h1v4.4h-1zM1035 121.9h1v2.1h-1zM1035 117.5h1v1.8h-1zM1036 129.6h1v2.2h-1zM1036 121.2h1v4.8h-1zM1037 124.4h1v4.8h-1zM1037 141.2h1v3.9h-1zM1037 126.1h1v3.8h-1zM1038 123.2h1v2.9h-1zM1038 117.7h1v3.7h-1zM1039 129.2h1v3.7h-1zM1039 119.1h1v5.8h-1zM1040 132.8h1v2.8h-1zM1041 117.7h1v2h-1zM1043 136h1v2.8h-1zM1043 141.4h1v2.3h-1zM1043 130.5h1v1.4h-1zM1044 135.5h1v5.1h-1zM1045 137.6h1v2.1h-1zM1045 129h1v2.1h-1zM1046 132.9h1v3.9h-1zM1047 131h1v6h-1zM1048 132.8h1v2.6h-1zM1048 136.2h1v6.8h-1zM1049 125.8h1v5.3h-1zM1049 127.1h1v7h-1zM1050 138h1v4h-1zM1051 127.6h1v3.9h-1zM1052 127.7h1v1.6h-1zM1053 135.6h1v3.3h-1zM1053 139.9h1v6.7h-1zM1054 122.7h1v3.4h-1zM1055 131h1v6.8h-1zM1055 140.1h1v5.2h-1zM1055 134h1v2.3h-1zM1056 118.4h1v4.6h-1zM1056 131.3h1v2.8h-1zM1056 122.5h1v2.8h-1zM1056 140.8h1v6.1h-1zM1057 139.4h1v1.9h-1zM1057 137.7h1v6.4h-1zM1058 137.3h1v6.1h-1zM1058 135.7h1v1.1h-1zM1059 132.5h1v5.8h-1zM1059 127.1h1v5.9h-1zM1059 139.2h1v3.6h-1zM1059 133.4h1v5h-1zM1061 129.3h1v6.8h-1zM1062 125.8h1v6.4h-1zM1062 128.2h1v1.5h-1zM1063 139.8h1v3.5h-1zM1063 128.4h1v2.3h-1zM1063 124.3h1v6.3h-1zM1063 117.8h1v6.9h-1zM1064 129h1v6h-1zM1064 124.9h1v2.9h-1zM1064 125.7h1v4.2h-1zM1065 131.7h1v3.8h-1zM1065 123.6h1v4.4h-1zM1066 124.2h1v1h-1zM1066 141.3h1v3.9h-1zM1067 141.9h1v5.9h-1zM1067 141.2h1v3.8h-1zM1067 121.1h1v1.4h-1zM1068 133.5h1v3.5h-1zM1068 118.6h1v1.8h-1zM1069 124.6h1v4.8h-1zM1069 135.6h1v6.6h-1zM1070 120.2h1v5.9h-1zM1070 128.6h1v4.2h-1zM1070 120h1v6h-1zM1070 128.1h1v6.5h-1zM1071 123.5h1v4.8h-1zM1071 132h1v3.5h-1zM1072 119.6h1v5.7h-1zM1072 131.1h1v4.3h-1zM1073 135.4h1v3.1h-1zM1076 117.2h1v3.6h-1zM1079 127.4h1v1.3h-1zM1090 133.6h1v1.6h-1zM1093 121.6h1v2.7h-1zM1100 126.2h1v3.7h-1zM1101 121.5h1v2.3h-1zM1102 135.7h1v3.1h-1zM1107 120.3h1v4.2h-1zM1108 117.5h1v1.2h-1zM1110 134h1v4.7h-1zM1113 119.9h1v2.4h-1zM1118 128h1v2.5h-1zM1119 117.5h1v1.1h-1zM1119 128.7h1v4h-1zM1120 135.1h1v3h-1z" fill="#1010ff"/>
<path d="M670 131.6h1v5.7h-1zM673 128.8h1v2.8h-1zM675 137h1v4.6h-1zM676 139.6h1v3.3h-1zM679 126.6h1v4.2h-1zM681 122.9h1v4.6h-1zM683 132.4h1v3.1h-1zM683 130.2h1v3.9h-1zM685 140.9h1v5.4h-1zM685 139.7h1v5.6h-1zM686 139.7h1v4.5h-1zM686 137.5h1v3.4h-1zM687 128.5h1v7h-1zM688 124.6h1v4.7h-1zM689 140.9h1v2.6h-1zM689 141.8h1v2.2h-1zM692 136.3h1v5.2h-1zM693 137.9h1v4.9h-1zM694 140.7h1v2.6h-1zM695 136.6h1v6.7h-1zM696 136h1v4.4h-1zM697 121.8h1v6.9h-1zM699 126.9h1v2h-1zM702 137.9h1v5.8h-1zM703 120.1h1v4.1h-1zM706 123.3h1v2.8h-1zM707 133.2h1v7h-1zM710 141.2h1v2.7h-1zM713 134.3h1v4.3h-1zM714 126.1h1v4.1h-1zM715 136.6h1v2.2h-1zM717 127.3h1v2.5h-1zM718 132.6h1v5.4h-1zM719 124.6h1v6h-1zM720 137.6h1v2.1h-1zM721 140.6h1v1.9h-1zM722 139.4h1v5.2h-1zM723 121.8h1v6.6h-1zM725 137.8h1v3.5h-1zM726 129.1h1v5.1h-1zM729 122.6h1v5.3h-1zM731 133.5h1v5.1h-1zM731 126.4h1v1.2h-1zM732 140.8h1v6.2h-1zM732 141.3h1v4.6h-1zM734 128.2h1v2.6h-1zM734 138.2h1v5.9h-1zM737 129.9h1v5.2h-1zM739 126.1h1v4h-1zM742 139.9h1v3.2h-1zM742 139.2h1v2.6h-1zM746 141.8h1v1.1h-1zM747 139.8h1v3.2h-1zM748 139.4h1v4h-1zM749 141.2h1v5.8h-1zM751 136.6h1v5.3h-1zM754 129.9h1v3.8h-1zM755 136.9h1v6.8h-1zM756 139.5h1v5.7h-1zM757 141.4h1v6.6h-1zM759 121.6h1v1.7h-1zM761 126.5h1v6.2h-1zM765 136.3h1v4h-1zM766 134.6h1v2h-1zM768 121h1v3.9h-1zM770 139.5h1v4.9h-1zM770 134.9h1v3.8h-1zM771 125.5h1v6h-1zM773 125.3h1v5h-1zM774 127.5h1v6.1h-1zM774 138.9h1v2h-1zM775 124.3h1v3.3h-1zM775 126.7h1v6.2h-1zM778 138.3h1v5.6h-1zM781 135.5h1v4.2h-1zM782 122.7h1v5.3h-1zM782 134.4h1v6.1h-1zM783 136.3h1v2.5h-1zM785 136.1h1v2.2h-1zM785 122.1h1v2.3h-1zM792 130.5h1v5.5h-1zM794 132h1v2.9h-1zM795 134h1v6.3h-1zM797 141h1v6.7h-1zM800 140.2h1v2.6h-1zM802 135.3h1v3.4h-1zM803 135.3h1v1.6h-1zM805 128.2h1v4.8h-1zM805 139.4h1v4.2h-1zM807 136.8h1v4.1h-1zM809 141h1v1.1h-1zM810 140.1h1v3.1h-1zM820 131h1v4.9h-1zM821 141.8h1v1.7h-1zM822 139.5h1v3.3h-1zM826 138.6h1v6.8h-1zM828 136.6h1v2.7h-1zM828 137.7h1v5.3h-1zM835 136.6h1v2h-1zM836 122.3h1v6h-1zM836 140.5h1v1.1h-1zM837 140h1v6h-1zM838 128.5h1v2.4h-1zM840 128.9h1v6.6h-1zM841 132h1v4.7h-1zM846 119.9h1v4.2h-1zM847 141.2h1v3.5h-1zM849 126.5h1v2.1h-1zM850 123.6h1v6.2h-1zM851 129.2h1v1.1h-1zM855 123.3h1v4.8h-1zM859 140.3h1v6.4h-1zM865 124.6h1v3.8h-1zM867 123.3h1v7h-1zM869 130.6h1v5.5h-1zM871 139.8h1v5.8h-1zM873 136.6h1v4.9h-1zM875 135.7h1v2.3h-1zM876 123.2h1v6h-1zM884 130.4h1v4.5h-1zM885 133.4h1v3h-1zM887 130.7h1v2.3h-1zM890 128.2h1v7h-1zM892 139.8h1v6h-1zM894 139.1h1v3.1h-1zM895 121.8h1v4h-1zM897 133.3h1v2.9h-1zM898 123.7h1v6.4h-1zM899 127.9h1v1h-1zM899 137.2h1v2.8h-1zM901 126.7h1v1.6h-1zM901 130.9h1v2.7h-1zM904 130h1v2h-1zM906 140.2h1v2.1h-1zM908 128.4h1v3.6h-1zM911 126.6h1v4.8h-1zM911 136.4h1v4.4h-1zM913 137.7h1v2.9h-1zM917 128.1h1v2.6h-1zM918 140.2h1v1.3h-1zM919 125.9h1v6h-1zM924 139.8h1v5.5h-1zM927 130.1h1v3.9h-1zM928 141.9h1v7h-1zM929 128.4h1v4.3h-1zM930 139.5h1v5.2h-1zM932 141.6h1v3.9h-1zM936 124.4h1v3.7h-1zM938 141.7h1v5.9h-1zM938 126.4h1v1.9h-1zM942 131.3h1v1.5h-1zM943 130.4h1v3h-1zM944 141.7h1v6.4h-1zM947 140.7h1v3.3h-1zM949 121.8h1v2.5h-1zM952 139.5h1v2.1h-1zM954 124.4h1v2.2h-1zM955 134.5h1v1.9h-1zM960 120.9h1v4.2h-1zM960 124.3h1v5.9h-1zM961 138h1v6.2h-1zM965 141.4h1v5.2h-1zM969 135.5h1v2.6h-1zM970 136.9h1v7h-1zM973 141h1v3.6h-1zM973 131h1v5.1h-1zM975 138.8h1v2.9h-1zM980 136.9h1v3.8h-1zM982 135.2h1v6.9h-1zM983 130.1h1v4h-1zM984 138.4h1v4.7h-1zM984 135h1v4.9h-1zM987 140.4h1v6.5h-1zM989 134h1v2h-1zM990 128.8h1v6.8h-1zM990 137.6h1v1.7h-1zM991 132.1h1v3.7h-1zM993 134.7h1v4.1h-1zM995 139.9h1v6.6h-1zM996 132.4h1v5.8h-1zM997 141h1v4.2h-1zM998 122.8h1v4.3h-1zM1000 125.9h1v5.6h-1zM1005 141.1h1v2.8h-1zM1006 135.9h1v4.3h-1zM1007 141h1v3.1h-1zM1009 129.3h1v2.7h-1zM1009 120.1h1v4.3h-1zM1011 131.3h1v5.3h-1zM1014 139.8h1v2.7h-1zM1015 122.2h1v3.8h-1zM1015 123.2h1v3.2h-1zM1016 139.9h1v4.2h-1zM1016 126.6h1v1.2h-1zM1017 137.2h1v4h-1zM1018 124.6h1v2.9h-1zM1021 135.8h1v2.5h-1zM1022 134.8h1v6.1h-1zM1023 141.5h1v2.4h-1zM1024 136.6h1v6.5h-1zM1025 136.4h1v2.7h-1zM1027 138.1h1v6.3h-1zM1029 135.4h1v2h-1zM1030 121.4h1v4.9h-1zM1030 135.6h1v1.4h-1zM1030 130.9h1v6.3h-1zM1030 126.1h1v4.1h-1zM1032 125.4h1v5.9h-1zM1032 122.7h1v5.7h-1zM1033 125.2h1v6.3h-1zM1033 118.4h1v4.7h-1zM1033 132.3h1v4.7h-1zM1034 118.3h1v4.6h-1zM1034 126h1v4.2h-1zM1035 120.2h1v4.6h-1zM1035 121.2h1v5.5h-1zM1035 131.8h1v2.1h-1zM1037 139.5h1v5.4h-1zM1037 137.4h1v4.3h-1zM1039 133.7h1v4.8h-1zM1039 124.3h1v4h-1zM1040 125.6h1v1.4h-1zM1040 134.6h1v4.5h-1zM1041 137.6h1v2.5h-1zM1041 136.4h1v3h-1zM1041 131.4h1v4.7h-1zM1041 140.9h1v3.6h-1zM1042 136h1v5h-1zM1042 134.4h1v2.4h-1zM1042 139.6h1v3.1h-1zM1042 139.6h1v4.8h-1zM1043 133.6h1v5.1h-1zM1045 126h1v2.3h-1zM1046 127.9h1v5.1h-1zM1046 137.8h1v3.7h-1zM1046 136.6h1v5.8h-1zM1047 124.1h1v2.3h-1zM1047 129.2h1v6.5h-1zM1047 118.9h1v2.9h-1zM1048 136h1v3.1h-1zM1048 139h1v7h-1zM1048 123.1h1v6.3h-1zM1049 121.1h1v2.9h-1zM1049 131.6h1v4.5h-1zM1049 122.5h1v2.8h-1zM1050 130.6h1v2h-1zM1050 117.7h1v1.8h-1zM1050 131.5h1v6h-1zM1051 138.1h1v1.5h-1zM1051 119.3h1v6.1h-1zM1051 130.1h1v5.7h-1zM1052 118.7h1v3.1h-1zM1053 127.1h1v2.4h-1zM1054 135.5h1v6.7h-1zM1054 140.3h1v3.7h-1zM1054 123.7h1v5.6h-1zM1056 125.6h1v4.9h-1zM1057 134h1v6.3h-1zM1058 117.3h1v6.2h-1zM1058 136.2h1v1.9h-1zM1058 134h1v3.4h-1zM1059 136.5h1v5.7h-1zM1060 117.2h1v1.8h-1zM1060 126.8h1v3.7h-1zM1060 118.8h1v3.2h-1zM1060 140.5h1v5.4h-1zM1061 124.3h1v6.1h-1zM1062 134.5h1v2.5h-1zM1063 139.4h1v1.8h-1zM1063 124.8h1v5.4h-1zM1063 140.7h1v1.1h-1zM1064 128.2h1v5.3h-1zM1065 135.3h1v1.5h-1zM1065 129.2h1v5.4h-1zM1065 126.2h1v5.9h-1zM1065 132h1v4.3h-1zM1066 137.9h1v4.3h-1zM1067 117.2h1v5.4h-1zM1067 134.9h1v6.6h-1zM1067 116.9h1v6.4h-1zM1068 129.8h1v2.7h-1zM1068 135.1h1v1.8h-1zM1068 127h1v5.1h-1zM1068 137.4h1v5.1h-1zM1068 138.5h1v3.8h-1zM1069 119.9h1v5.1h-1zM1069 124.9h1v4.2h-1zM1069 133.9h1v2.7h-1zM1070 137.9h1v2.5h-1zM1070 118.3h1v6.5h-1zM1071 121.9h1v6.3h-1zM1072 124.4h1v4.2h-1zM1072 136.5h1v2.3h-1z" fill="#20c8ff"/>
<path d="M673 126.6h1v6.9h-1zM676 141.6h1v1.8h-1zM687 120.6h1v1.8h-1zM691 130.2h1v3.5h-1zM721 141.5h1v6h-1zM722 120.7h1v1.8h-1zM729 123.2h1v1.6h-1zM761 123.6h1v3.4h-1zM780 138.2h1v3.8h-1zM791 128h1v2h-1zM796 131.2h1v5.6h-1zM798 139.2h1v2.3h-1zM800 128.3h1v4.4h-1zM819 140.8h1v2h-1zM831 141.3h1v5.7h-1zM844 128.7h1v1.1h-1zM857 133.2h1v1.6h-1zM863 139.8h1v5.2h-1zM890 135.1h1v3h-1zM898 131.6h1v1.5h-1zM900 131.9h1v1.4h-1zM902 132.1h1v2.1h-1zM907 133.2h1v3.1h-1zM946 130.2h1v3.5h-1zM977 131h1v5.6h-1zM994 138.5h1v4.9h-1zM1035 141.6h1v6h-1zM1036 120h1v5.4h-1zM1036 118.7h1v4.4h-1zM1036 122.2h1v5.3h-1zM1042 128.6h1v2.4h-1zM1043 122h1v4.2h-1zM1043 140.3h1v2h-1zM1044 126.4h1v4.5h-1zM1045 138.5h1v4h-1zM1051 127.1h1v5h-1zM1052 141.3h1v2h-1zM1062 119.2h1v5.8h-1zM1075 127h1v4.7h-1zM1075 133.6h1v3.6h-1zM1076 118h1v2.4h-1zM1078 128h1v4.1h-1zM1079 121.5h1v4.4h-1zM1081 120.5h1v4.7h-1zM1084 123.6h1v1.6h-1zM1085 134h1v3.7h-1zM1086 128.7h1v1.9h-1zM1086 134.6h1v2.9h-1zM1088 130.8h1v2h-1zM1089 127.4h1v1.4h-1zM1089 135.8h1v1.8h-1zM1090 121.8h1v4.4h-1zM1091 121.7h1v3.5h-1zM1096 118.4h1v3.6h-1zM1097 119.7h1v1.7h-1zM1098 136.3h1v4.6h-1zM1098 125h1v3.3h-1zM1099 118.4h1v4.2h-1zM1100 117.4h1v3.2h-1zM1102 126.9h1v2.7h-1zM1103 120h1v1.8h-1zM1107 136.9h1v3.3h-1zM1108 130.2h1v2.6h-1zM1109 136.7h1v3.6h-1zM1112 124.5h1v4.1h-1zM1114 132.6h1v4h-1zM1115 120.3h1v4.9h-1zM1121 120.7h1v2.8h-1z" fill="#20e040"/>
<path d="M1110 162.2h1v1h-1zM1103 162h1v1h-1zM1116 152h1v1h-1zM1111 155.2h1v1h-1zM1105 149.7h1v1h-1zM1120 163.7h1v1h-1zM1108 147.7h1v1h-1zM1117 161.3h1v1h-1zM1113 153.4h1v1h-1zM1110 152.4h1v1h-1zM1105 162.4h1v1h-1zM1119 166.4h1v1h-1zM1118 152.9h1v1h-1zM1106 166.4h1v1h-1zM1114 151.2h1v1h-1zM1107 162.5h1v1h-1zM1100 148h1v1h-1zM1121 150.4h1v1h-1zM1110 171.5h1v1h-1zM1120 171.7h1v1h-1zM1111 172.3h1v1h-1zM1113 145.9h1v1h-1zM1120 158.8h1v1h-1zM1110 159.1h1v1h-1zM1117 162.2h1v1h-1zM1111 153h1v1h-1zM1116 148.4h1v1h-1zM1113 153.8h1v1h-1zM1118 152.9h1v1h-1zM1116 157h1v1h-1zM1105 159.7h1v1h-1zM1111 166.4h1v1h-1zM1101 167.8h1v1h-1zM1101 151h1v1h-1zM1114 154.3h1v1h-1zM1107 154.1h1v1h-1zM1102 168.1h1v1h-1zM1103 164.5h1v1h-1zM1104 172.1h1v1h-1zM1118 153.7h1v1h-1zM1111 164h1v1h-1zM1114 153.9h1v1h-1zM1114 159.8h1v1h-1zM1118 146.6h1v1h-1zM1102 165.7h1v1h-1zM1102 170h1v1h-1zM1112 162.9h1v1h-1zM1108 149.2h1v1h-1zM1113 157h1v1h-1zM1118 166.6h1v1h-1zM1118 172.3h1v1h-1zM1109 148.4h1v1h-1zM1117 151.5h1v1h-1zM1118 156h1v1h-1zM1113 154h1v1h-1zM1100 170.1h1v1h-1zM1107 153h1v1h-1zM1110 159.5h1v1h-1zM1118 167.9h1v1h-1zM1111 171.5h1v1h-1zM1105 147.7h1v1h-1zM1100 156.9h1v1h-1zM1102 170h1v1h-1zM1100 152.6h1v1h-1zM1102 154.8h1v1h-1zM1106 160.4h1v1h-1zM1105 161.8h1v1h-1zM1110 148h1v1h-1zM1102 155.3h1v1h-1zM1110 160.9h1v1h-1zM1100 157.6h1v1h-1zM1106 148.2h1v1h-1zM1112 148h1v1h-1zM1103 171.3h1v1h-1zM1121 149.3h1v1h-1zM1112 156.7h1v1h-1zM1105 164.4h1v1h-1zM1115 166.2h1v1h-1zM1111 166.5h1v1h-1zM1112 151.4h1v1h-1zM1101 147.1h1v1h-1zM1105 154.6h1v1h-1zM1106 154.9h1v1h-1zM1112 167.4h1v1h-1zM1112 164.5h1v1h-1zM1113 161.1h1v1h-1zM1103 166.3h1v1h-1zM1104 153.4h1v1h-1zM1120 152.8h1v1h-1zM1119 150.9h1v1h-1zM1117 153h1v1h-1zM1120 162.9h1v1h-1zM1120 167.1h1v1h-1zM1110 171.6h1v1h-1zM1111 162.6h1v1h-1zM1112 168.8h1v1h-1zM1104 171.2h1v1h-1zM1116 171.4h1v1h-1zM1109 150.2h1v1h-1zM1114 172h1v1h-1zM1104 150.3h1v1h-1zM1112 145.9h1v1h-1zM1121 151.3h1v1h-1zM1116 155.6h1v1h-1zM1120 152.3h1v1h-1zM1109 169.1h1v1h-1zM1107 153.1h1v1h-1zM1119 172.4h1v1h-1zM1110 150.3h1v1h-1zM1102 158.5h1v1h-1zM1109 155.4h1v1h-1zM1107 168.1h1v1h-1zM1111 148.8h1v1h-1zM1100 161.7h1v1h-1zM1119 169.3h1v1h-1zM1101 151.5h1v1h-1zM1101 158.1h1v1h-1zM1114 151.6h1v1h-1zM1119 171.5h1v1h-1zM1109 151.3h1v1h-1zM1110 170.6h1v1h-1zM1102 164h1v1h-1zM1112 148h1v1h-1zM1103 151.1h1v1h-1zM1114 167.5h1v1h-1zM1101 162.4h1v1h-1zM1100 169.4h1v1h-1zM1104 148.1h1v1h-1zM1102 152.1h1v1h-1zM1104 159.2h1v1h-1zM1100 167.5h1v1h-1zM1112 164.3h1v1h-1zM1109 171.5h1v1h-1zM1104 168.3h1v1h-1zM1114 172.4h1v1h-1zM1102 156.5h1v1h-1zM1111 155.2h1v1h-1zM1110 147.9h1v1h-1zM1103 164.4h1v1h-1zM1118 161h1v1h-1zM1114 155.9h1v1h-1zM1102 157.7h1v1h-1zM1113 171.5h1v1h-1zM1111 145.3h1v1h-1zM1117 172.1h1v1h-1zM1106 146.9h1v1h-1zM1102 155h1v1h-1zM1111 168.5h1v1h-1zM1112 158h1v1h-1zM1102 146h1v1h-1zM1115 164.6h1v1h-1zM1114 165.5h1v1h-1zM1109 145h1v1h-1zM1108 151.8h1v1h-1zM1111 153.8h1v1h-1zM1104 149.4h1v1h-1zM1105 157.5h1v1h-1zM1118 150.2h1v1h-1zM1104 151.4h1v1h-1zM1101 151.3h1v1h-1zM1102 146.2h1v1h-1zM1110 164.7h1v1h-1zM1115 162h1v1h-1zM1116 147.4h1v1h-1zM1119 158.5h1v1h-1zM1108 155.2h1v1h-1zM1100 162.7h1v1h-1zM1110 168.5h1v1h-1zM1109 165.5h1v1h-1zM1116 158.9h1v1h-1zM1108 164.9h1v1h-1zM1102 152.1h1v1h-1zM1103 153.2h1v1h-1zM1115 171h1v1h-1zM1117 153.1h1v1h-1zM1117 151.1h1v1h-1zM1113 148.4h1v1h-1zM1113 155.5h1v1h-1zM1104 154.7h1v1h-1zM1102 167.3h1v1h-1z" fill="#1040ff"/>
<text x="29" y="11.6" font-size="10.9" fill="#000">Plot Layout GP 19/10/2018</text>
<text x="272" y="26" font-size="17.7" fill="#000">MMS2</text>
<text x="399" y="24.3" font-size="18" fill="#a00000" font-weight="bold">20151211_110524</text>
<text x="627.4" y="11.6" font-size="10.9" fill="#000">Plot layout GP 19/10/2018</text>
<text x="868.6" y="34.9" font-size="17.7" fill="#000">MMS2</text>
<text x="996" y="24.3" font-size="18" fill="#a00000" font-weight="bold">20151211_110524</text>
<rect x="71.5" y="33.5" width="454" height="134.5" fill="none" stroke="#000" stroke-width="1.3"/>
<path d="M81.1 33.5v3.4M81.1 168v-3.4M97.3 33.5v3.4M97.3 168v-3.4M113.6 33.5v3.4M113.6 168v-3.4M129.8 33.5v10.5M129.8 168v-10.5M146 33.5v3.4M146 168v-3.4M162.2 33.5v3.4M162.2 168v-3.4M178.4 33.5v3.4M178.4 168v-3.4M194.6 33.5v3.4M194.6 168v-3.4M210.9 33.5v3.4M210.9 168v-3.4M227.1 33.5v10.5M227.1 168v-10.5M243.3 33.5v3.4M243.3 168v-3.4M259.5 33.5v3.4M259.5 168v-3.4M275.7 33.5v3.4M275.7 168v-3.4M292 33.5v3.4M292 168v-3.4M308.2 33.5v3.4M308.2 168v-3.4M324.4 33.5v10.5M324.4 168v-10.5M340.6 33.5v3.4M340.6 168v-3.4M356.8 33.5v3.4M356.8 168v-3.4M373 33.5v3.4M373 168v-3.4M389.3 33.5v3.4M389.3 168v-3.4M405.5 33.5v3.4M405.5 168v-3.4M421.7 33.5v10.5M421.7 168v-10.5M437.9 33.5v3.4M437.9 168v-3.4M454.1 33.5v3.4M454.1 168v-3.4M470.3 33.5v3.4M470.3 168v-3.4M486.6 33.5v3.4M486.6 168v-3.4M502.8 33.5v3.4M502.8 168v-3.4M519 33.5v10.5M519 168v-10.5" stroke="#000" stroke-width="1" fill="none"/>
<rect x="71.5" y="176.7" width="454" height="68.3" fill="none" stroke="#000" stroke-width="1.3"/>
<path d="M81.1 176.7v3.4M81.1 245v-3.4M97.3 176.7v3.4M97.3 245v-3.4M113.6 176.7v3.4M113.6 245v-3.4M129.8 176.7v10.5M129.8 245v-10.5M146 176.7v3.4M146 245v-3.4M162.2 176.7v3.4M162.2 245v-3.4M178.4 176.7v3.4M178.4 245v-3.4M194.6 176.7v3.4M194.6 245v-3.4M210.9 176.7v3.4M210.9 245v-3.4M227.1 176.7v10.5M227.1 245v-10.5M243.3 176.7v3.4M243.3 245v-3.4M259.5 176.7v3.4M259.5 245v-3.4M275.7 176.7v3.4M275.7 245v-3.4M292 176.7v3.4M292 245v-3.4M308.2 176.7v3.4M308.2 245v-3.4M324.4 176.7v10.5M324.4 245v-10.5M340.6 176.7v3.4M340.6 245v-3.4M356.8 176.7v3.4M356.8 245v-3.4M373 176.7v3.4M373 245v-3.4M389.3 176.7v3.4M389.3 245v-3.4M405.5 176.7v3.4M405.5 245v-3.4M421.7 176.7v10.5M421.7 245v-10.5M437.9 176.7v3.4M437.9 245v-3.4M454.1 176.7v3.4M454.1 245v-3.4M470.3 176.7v3.4M470.3 245v-3.4M486.6 176.7v3.4M486.6 245v-3.4M502.8 176.7v3.4M502.8 245v-3.4M519 176.7v10.5M519 245v-10.5" stroke="#000" stroke-width="1" fill="none"/>
<rect x="71.5" y="245" width="454" height="68.3" fill="none" stroke="#000" stroke-width="1.3"/>
<path d="M81.1 245v3.4M81.1 313.4v-3.4M97.3 245v3.4M97.3 313.4v-3.4M113.6 245v3.4M113.6 313.4v-3.4M129.8 245v10.5M129.8 313.4v-10.5M146 245v3.4M146 313.4v-3.4M162.2 245v3.4M162.2 313.4v-3.4M178.4 245v3.4M178.4 313.4v-3.4M194.6 245v3.4M194.6 313.4v-3.4M210.9 245v3.4M210.9 313.4v-3.4M227.1 245v10.5M227.1 313.4v-10.5M243.3 245v3.4M243.3 313.4v-3.4M259.5 245v3.4M259.5 313.4v-3.4M275.7 245v3.4M275.7 313.4v-3.4M292 245v3.4M292 313.4v-3.4M308.2 245v3.4M308.2 313.4v-3.4M324.4 245v10.5M324.4 313.4v-10.5M340.6 245v3.4M340.6 313.4v-3.4M356.8 245v3.4M356.8 313.4v-3.4M373 245v3.4M373 313.4v-3.4M389.3 245v3.4M389.3 313.4v-3.4M405.5 245v3.4M405.5 313.4v-3.4M421.7 245v10.5M421.7 313.4v-10.5M437.9 245v3.4M437.9 313.4v-3.4M454.1 245v3.4M454.1 313.4v-3.4M470.3 245v3.4M470.3 313.4v-3.4M486.6 245v3.4M486.6 313.4v-3.4M502.8 245v3.4M502.8 313.4v-3.4M519 245v10.5M519 313.4v-10.5" stroke="#000" stroke-width="1" fill="none"/>
<rect x="71.5" y="313.4" width="454" height="68.4" fill="none" stroke="#000" stroke-width="1.3"/>
<path d="M81.1 313.4v3.4M81.1 381.8v-3.4M97.3 313.4v3.4M97.3 381.8v-3.4M113.6 313.4v3.4M113.6 381.8v-3.4M129.8 313.4v10.5M129.8 381.8v-10.5M146 313.4v3.4M146 381.8v-3.4M162.2 313.4v3.4M162.2 381.8v-3.4M178.4 313.4v3.4M178.4 381.8v-3.4M194.6 313.4v3.4M194.6 381.8v-3.4M210.9 313.4v3.4M210.9 381.8v-3.4M227.1 313.4v10.5M227.1 381.8v-10.5M243.3 313.4v3.4M243.3 381.8v-3.4M259.5 313.4v3.4M259.5 381.8v-3.4M275.7 313.4v3.4M275.7 381.8v-3.4M292 313.4v3.4M292 381.8v-3.4M308.2 313.4v3.4M308.2 381.8v-3.4M324.4 313.4v10.5M324.4 381.8v-10.5M340.6 313.4v3.4M340.6 381.8v-3.4M356.8 313.4v3.4M356.8 381.8v-3.4M373 313.4v3.4M373 381.8v-3.4M389.3 313.4v3.4M389.3 381.8v-3.4M405.5 313.4v3.4M405.5 381.8v-3.4M421.7 313.4v10.5M421.7 381.8v-10.5M437.9 313.4v3.4M437.9 381.8v-3.4M454.1 313.4v3.4M454.1 381.8v-3.4M470.3 313.4v3.4M470.3 381.8v-3.4M486.6 313.4v3.4M486.6 381.8v-3.4M502.8 313.4v3.4M502.8 381.8v-3.4M519 313.4v10.5M519 381.8v-10.5" stroke="#000" stroke-width="1" fill="none"/>
<rect x="71.5" y="381.8" width="454" height="68.3" fill="none" stroke="#000" stroke-width="1.3"/>
<path d="M81.1 381.8v3.4M81.1 450.1v-3.4M97.3 381.8v3.4M97.3 450.1v-3.4M113.6 381.8v3.4M113.6 450.1v-3.4M129.8 381.8v10.5M129.8 450.1v-10.5M146 381.8v3.4M146 450.1v-3.4M162.2 381.8v3.4M162.2 450.1v-3.4M178.4 381.8v3.4M178.4 450.1v-3.4M194.6 381.8v3.4M194.6 450.1v-3.4M210.9 381.8v3.4M210.9 450.1v-3.4M227.1 381.8v10.5M227.1 450.1v-10.5M243.3 381.8v3.4M243.3 450.1v-3.4M259.5 381.8v3.4M259.5 450.1v-3.4M275.7 381.8v3.4M275.7 450.1v-3.4M292 381.8v3.4M292 450.1v-3.4M308.2 381.8v3.4M308.2 450.1v-3.4M324.4 381.8v10.5M324.4 450.1v-10.5M340.6 381.8v3.4M340.6 450.1v-3.4M356.8 381.8v3.4M356.8 450.1v-3.4M373 381.8v3.4M373 450.1v-3.4M389.3 381.8v3.4M389.3 450.1v-3.4M405.5 381.8v3.4M405.5 450.1v-3.4M421.7 381.8v10.5M421.7 450.1v-10.5M437.9 381.8v3.4M437.9 450.1v-3.4M454.1 381.8v3.4M454.1 450.1v-3.4M470.3 381.8v3.4M470.3 450.1v-3.4M486.6 381.8v3.4M486.6 450.1v-3.4M502.8 381.8v3.4M502.8 450.1v-3.4M519 381.8v10.5M519 450.1v-10.5" stroke="#000" stroke-width="1" fill="none"/>
<rect x="71.5" y="450.1" width="454" height="68.4" fill="none" stroke="#000" stroke-width="1.3"/>
<path d="M81.1 450.1v3.4M81.1 518.5v-3.4M97.3 450.1v3.4M97.3 518.5v-3.4M113.6 450.1v3.4M113.6 518.5v-3.4M129.8 450.1v10.5M129.8 518.5v-10.5M146 450.1v3.4M146 518.5v-3.4M162.2 450.1v3.4M162.2 518.5v-3.4M178.4 450.1v3.4M178.4 518.5v-3.4M194.6 450.1v3.4M194.6 518.5v-3.4M210.9 450.1v3.4M210.9 518.5v-3.4M227.1 450.1v10.5M227.1 518.5v-10.5M243.3 450.1v3.4M243.3 518.5v-3.4M259.5 450.1v3.4M259.5 518.5v-3.4M275.7 450.1v3.4M275.7 518.5v-3.4M292 450.1v3.4M292 518.5v-3.4M308.2 450.1v3.4M308.2 518.5v-3.4M324.4 450.1v10.5M324.4 518.5v-10.5M340.6 450.1v3.4M340.6 518.5v-3.4M356.8 450.1v3.4M356.8 518.5v-3.4M373 450.1v3.4M373 518.5v-3.4M389.3 450.1v3.4M389.3 518.5v-3.4M405.5 450.1v3.4M405.5 518.5v-3.4M421.7 450.1v10.5M421.7 518.5v-10.5M437.9 450.1v3.4M437.9 518.5v-3.4M454.1 450.1v3.4M454.1 518.5v-3.4M470.3 450.1v3.4M470.3 518.5v-3.4M486.6 450.1v3.4M486.6 518.5v-3.4M502.8 450.1v3.4M502.8 518.5v-3.4M519 450.1v10.5M519 518.5v-10.5" stroke="#000" stroke-width="1" fill="none"/>
<rect x="71.5" y="518.5" width="454" height="68.3" fill="none" stroke="#000" stroke-width="1.3"/>
<path d="M81.1 518.5v3.4M81.1 586.8v-3.4M97.3 518.5v3.4M97.3 586.8v-3.4M113.6 518.5v3.4M113.6 586.8v-3.4M129.8 518.5v10.5M129.8 586.8v-10.5M146 518.5v3.4M146 586.8v-3.4M162.2 518.5v3.4M162.2 586.8v-3.4M178.4 518.5v3.4M178.4 586.8v-3.4M194.6 518.5v3.4M194.6 586.8v-3.4M210.9 518.5v3.4M210.9 586.8v-3.4M227.1 518.5v10.5M227.1 586.8v-10.5M243.3 518.5v3.4M243.3 586.8v-3.4M259.5 518.5v3.4M259.5 586.8v-3.4M275.7 518.5v3.4M275.7 586.8v-3.4M292 518.5v3.4M292 586.8v-3.4M308.2 518.5v3.4M308.2 586.8v-3.4M324.4 518.5v10.5M324.4 586.8v-10.5M340.6 518.5v3.4M340.6 586.8v-3.4M356.8 518.5v3.4M356.8 586.8v-3.4M373 518.5v3.4M373 586.8v-3.4M389.3 518.5v3.4M389.3 586.8v-3.4M405.5 518.5v3.4M405.5 586.8v-3.4M421.7 518.5v10.5M421.7 586.8v-10.5M437.9 518.5v3.4M437.9 586.8v-3.4M454.1 518.5v3.4M454.1 586.8v-3.4M470.3 518.5v3.4M470.3 586.8v-3.4M486.6 518.5v3.4M486.6 586.8v-3.4M502.8 518.5v3.4M502.8 586.8v-3.4M519 518.5v10.5M519 586.8v-10.5" stroke="#000" stroke-width="1" fill="none"/>
<rect x="71.5" y="586.8" width="454" height="68.3" fill="none" stroke="#000" stroke-width="1.3"/>
<path d="M81.1 586.8v3.4M81.1 655.1v-3.4M97.3 586.8v3.4M97.3 655.1v-3.4M113.6 586.8v3.4M113.6 655.1v-3.4M129.8 586.8v10.5M129.8 655.1v-10.5M146 586.8v3.4M146 655.1v-3.4M162.2 586.8v3.4M162.2 655.1v-3.4M178.4 586.8v3.4M178.4 655.1v-3.4M194.6 586.8v3.4M194.6 655.1v-3.4M210.9 586.8v3.4M210.9 655.1v-3.4M227.1 586.8v10.5M227.1 655.1v-10.5M243.3 586.8v3.4M243.3 655.1v-3.4M259.5 586.8v3.4M259.5 655.1v-3.4M275.7 586.8v3.4M275.7 655.1v-3.4M292 586.8v3.4M292 655.1v-3.4M308.2 586.8v3.4M308.2 655.1v-3.4M324.4 586.8v10.5M324.4 655.1v-10.5M340.6 586.8v3.4M340.6 655.1v-3.4M356.8 586.8v3.4M356.8 655.1v-3.4M373 586.8v3.4M373 655.1v-3.4M389.3 586.8v3.4M389.3 655.1v-3.4M405.5 586.8v3.4M405.5 655.1v-3.4M421.7 586.8v10.5M421.7 655.1v-10.5M437.9 586.8v3.4M437.9 655.1v-3.4M454.1 586.8v3.4M454.1 655.1v-3.4M470.3 586.8v3.4M470.3 655.1v-3.4M486.6 586.8v3.4M486.6 655.1v-3.4M502.8 586.8v3.4M502.8 655.1v-3.4M519 586.8v10.5M519 655.1v-10.5" stroke="#000" stroke-width="1" fill="none"/>
<rect x="71.5" y="655.1" width="454" height="68.4" fill="none" stroke="#000" stroke-width="1.3"/>
<path d="M81.1 655.1v3.4M81.1 723.5v-3.4M97.3 655.1v3.4M97.3 723.5v-3.4M113.6 655.1v3.4M113.6 723.5v-3.4M129.8 655.1v10.5M129.8 723.5v-10.5M146 655.1v3.4M146 723.5v-3.4M162.2 655.1v3.4M162.2 723.5v-3.4M178.4 655.1v3.4M178.4 723.5v-3.4M194.6 655.1v3.4M194.6 723.5v-3.4M210.9 655.1v3.4M210.9 723.5v-3.4M227.1 655.1v10.5M227.1 723.5v-10.5M243.3 655.1v3.4M243.3 723.5v-3.4M259.5 655.1v3.4M259.5 723.5v-3.4M275.7 655.1v3.4M275.7 723.5v-3.4M292 655.1v3.4M292 723.5v-3.4M308.2 655.1v3.4M308.2 723.5v-3.4M324.4 655.1v10.5M324.4 723.5v-10.5M340.6 655.1v3.4M340.6 723.5v-3.4M356.8 655.1v3.4M356.8 723.5v-3.4M373 655.1v3.4M373 723.5v-3.4M389.3 655.1v3.4M389.3 723.5v-3.4M405.5 655.1v3.4M405.5 723.5v-3.4M421.7 655.1v10.5M421.7 723.5v-10.5M437.9 655.1v3.4M437.9 723.5v-3.4M454.1 655.1v3.4M454.1 723.5v-3.4M470.3 655.1v3.4M470.3 723.5v-3.4M486.6 655.1v3.4M486.6 723.5v-3.4M502.8 655.1v3.4M502.8 723.5v-3.4M519 655.1v10.5M519 723.5v-10.5" stroke="#000" stroke-width="1" fill="none"/>
<rect x="669" y="41.5" width="453.6" height="73.9" fill="none" stroke="#000" stroke-width="1.3"/>
<path d="M678.2 41.5v3.4M678.2 115.4v-3.4M694.4 41.5v3.4M694.4 115.4v-3.4M710.6 41.5v3.4M710.6 115.4v-3.4M726.8 41.5v10.5M726.8 115.4v-10.5M743 41.5v3.4M743 115.4v-3.4M759.2 41.5v3.4M759.2 115.4v-3.4M775.3 41.5v3.4M775.3 115.4v-3.4M791.5 41.5v3.4M791.5 115.4v-3.4M807.7 41.5v3.4M807.7 115.4v-3.4M823.9 41.5v10.5M823.9 115.4v-10.5M840.1 41.5v3.4M840.1 115.4v-3.4M856.3 41.5v3.4M856.3 115.4v-3.4M872.5 41.5v3.4M872.5 115.4v-3.4M888.7 41.5v3.4M888.7 115.4v-3.4M904.9 41.5v3.4M904.9 115.4v-3.4M921 41.5v10.5M921 115.4v-10.5M937.2 41.5v3.4M937.2 115.4v-3.4M953.4 41.5v3.4M953.4 115.4v-3.4M969.6 41.5v3.4M969.6 115.4v-3.4M985.8 41.5v3.4M985.8 115.4v-3.4M1002 41.5v3.4M1002 115.4v-3.4M1018.2 41.5v10.5M1018.2 115.4v-10.5M1034.4 41.5v3.4M1034.4 115.4v-3.4M1050.6 41.5v3.4M1050.6 115.4v-3.4M1066.7 41.5v3.4M1066.7 115.4v-3.4M1082.9 41.5v3.4M1082.9 115.4v-3.4M1099.1 41.5v3.4M1099.1 115.4v-3.4M1115.3 41.5v10.5M1115.3 115.4v-10.5" stroke="#000" stroke-width="1" fill="none"/>
<rect x="669" y="115.4" width="453.6" height="73.9" fill="none" stroke="#000" stroke-width="1.3"/>
<path d="M678.2 115.4v3.4M678.2 189.2v-3.4M694.4 115.4v3.4M694.4 189.2v-3.4M710.6 115.4v3.4M710.6 189.2v-3.4M726.8 115.4v10.5M726.8 189.2v-10.5M743 115.4v3.4M743 189.2v-3.4M759.2 115.4v3.4M759.2 189.2v-3.4M775.3 115.4v3.4M775.3 189.2v-3.4M791.5 115.4v3.4M791.5 189.2v-3.4M807.7 115.4v3.4M807.7 189.2v-3.4M823.9 115.4v10.5M823.9 189.2v-10.5M840.1 115.4v3.4M840.1 189.2v-3.4M856.3 115.4v3.4M856.3 189.2v-3.4M872.5 115.4v3.4M872.5 189.2v-3.4M888.7 115.4v3.4M888.7 189.2v-3.4M904.9 115.4v3.4M904.9 189.2v-3.4M921 115.4v10.5M921 189.2v-10.5M937.2 115.4v3.4M937.2 189.2v-3.4M953.4 115.4v3.4M953.4 189.2v-3.4M969.6 115.4v3.4M969.6 189.2v-3.4M985.8 115.4v3.4M985.8 189.2v-3.4M1002 115.4v3.4M1002 189.2v-3.4M1018.2 115.4v10.5M1018.2 189.2v-10.5M1034.4 115.4v3.4M1034.4 189.2v-3.4M1050.6 115.4v3.4M1050.6 189.2v-3.4M1066.7 115.4v3.4M1066.7 189.2v-3.4M1082.9 115.4v3.4M1082.9 189.2v-3.4M1099.1 115.4v3.4M1099.1 189.2v-3.4M1115.3 115.4v10.5M1115.3 189.2v-10.5" stroke="#000" stroke-width="1" fill="none"/>
<rect x="669" y="189.2" width="453.6" height="73.9" fill="none" stroke="#000" stroke-width="1.3"/>
<path d="M678.2 189.2v3.4M678.2 263.1v-3.4M694.4 189.2v3.4M694.4 263.1v-3.4M710.6 189.2v3.4M710.6 263.1v-3.4M726.8 189.2v10.5M726.8 263.1v-10.5M743 189.2v3.4M743 263.1v-3.4M759.2 189.2v3.4M759.2 263.1v-3.4M775.3 189.2v3.4M775.3 263.1v-3.4M791.5 189.2v3.4M791.5 263.1v-3.4M807.7 189.2v3.4M807.7 263.1v-3.4M823.9 189.2v10.5M823.9 263.1v-10.5M840.1 189.2v3.4M840.1 263.1v-3.4M856.3 189.2v3.4M856.3 263.1v-3.4M872.5 189.2v3.4M872.5 263.1v-3.4M888.7 189.2v3.4M888.7 263.1v-3.4M904.9 189.2v3.4M904.9 263.1v-3.4M921 189.2v10.5M921 263.1v-10.5M937.2 189.2v3.4M937.2 263.1v-3.4M953.4 189.2v3.4M953.4 263.1v-3.4M969.6 189.2v3.4M969.6 263.1v-3.4M985.8 189.2v3.4M985.8 263.1v-3.4M1002 189.2v3.4M1002 263.1v-3.4M1018.2 189.2v10.5M1018.2 263.1v-10.5M1034.4 189.2v3.4M1034.4 263.1v-3.4M1050.6 189.2v3.4M1050.6 263.1v-3.4M1066.7 189.2v3.4M1066.7 263.1v-3.4M1082.9 189.2v3.4M1082.9 263.1v-3.4M1099.1 189.2v3.4M1099.1 263.1v-3.4M1115.3 189.2v10.5M1115.3 263.1v-10.5" stroke="#000" stroke-width="1" fill="none"/>
<rect x="669" y="263.1" width="453.6" height="73.9" fill="none" stroke="#000" stroke-width="1.3"/>
<path d="M678.2 263.1v3.4M678.2 336.9v-3.4M694.4 263.1v3.4M694.4 336.9v-3.4M710.6 263.1v3.4M710.6 336.9v-3.4M726.8 263.1v10.5M726.8 336.9v-10.5M743 263.1v3.4M743 336.9v-3.4M759.2 263.1v3.4M759.2 336.9v-3.4M775.3 263.1v3.4M775.3 336.9v-3.4M791.5 263.1v3.4M791.5 336.9v-3.4M807.7 263.1v3.4M807.7 336.9v-3.4M823.9 263.1v10.5M823.9 336.9v-10.5M840.1 263.1v3.4M840.1 336.9v-3.4M856.3 263.1v3.4M856.3 336.9v-3.4M872.5 263.1v3.4M872.5 336.9v-3.4M888.7 263.1v3.4M888.7 336.9v-3.4M904.9 263.1v3.4M904.9 336.9v-3.4M921 263.1v10.5M921 336.9v-10.5M937.2 263.1v3.4M937.2 336.9v-3.4M953.4 263.1v3.4M953.4 336.9v-3.4M969.6 263.1v3.4M969.6 336.9v-3.4M985.8 263.1v3.4M985.8 336.9v-3.4M1002 263.1v3.4M1002 336.9v-3.4M1018.2 263.1v10.5M1018.2 336.9v-10.5M1034.4 263.1v3.4M1034.4 336.9v-3.4M1050.6 263.1v3.4M1050.6 336.9v-3.4M1066.7 263.1v3.4M1066.7 336.9v-3.4M1082.9 263.1v3.4M1082.9 336.9v-3.4M1099.1 263.1v3.4M1099.1 336.9v-3.4M1115.3 263.1v10.5M1115.3 336.9v-10.5" stroke="#000" stroke-width="1" fill="none"/>
<rect x="669" y="336.9" width="453.6" height="73.9" fill="none" stroke="#000" stroke-width="1.3"/>
<path d="M678.2 336.9v3.4M678.2 410.8v-3.4M694.4 336.9v3.4M694.4 410.8v-3.4M710.6 336.9v3.4M710.6 410.8v-3.4M726.8 336.9v10.5M726.8 410.8v-10.5M743 336.9v3.4M743 410.8v-3.4M759.2 336.9v3.4M759.2 410.8v-3.4M775.3 336.9v3.4M775.3 410.8v-3.4M791.5 336.9v3.4M791.5 410.8v-3.4M807.7 336.9v3.4M807.7 410.8v-3.4M823.9 336.9v10.5M823.9 410.8v-10.5M840.1 336.9v3.4M840.1 410.8v-3.4M856.3 336.9v3.4M856.3 410.8v-3.4M872.5 336.9v3.4M872.5 410.8v-3.4M888.7 336.9v3.4M888.7 410.8v-3.4M904.9 336.9v3.4M904.9 410.8v-3.4M921 336.9v10.5M921 410.8v-10.5M937.2 336.9v3.4M937.2 410.8v-3.4M953.4 336.9v3.4M953.4 410.8v-3.4M969.6 336.9v3.4M969.6 410.8v-3.4M985.8 336.9v3.4M985.8 410.8v-3.4M1002 336.9v3.4M1002 410.8v-3.4M1018.2 336.9v10.5M1018.2 410.8v-10.5M1034.4 336.9v3.4M1034.4 410.8v-3.4M1050.6 336.9v3.4M1050.6 410.8v-3.4M1066.7 336.9v3.4M1066.7 410.8v-3.4M1082.9 336.9v3.4M1082.9 410.8v-3.4M1099.1 336.9v3.4M1099.1 410.8v-3.4M1115.3 336.9v10.5M1115.3 410.8v-10.5" stroke="#000" stroke-width="1" fill="none"/>
<rect x="669" y="410.8" width="453.6" height="73.9" fill="none" stroke="#000" stroke-width="1.3"/>
<path d="M678.2 410.8v3.4M678.2 484.7v-3.4M694.4 410.8v3.4M694.4 484.7v-3.4M710.6 410.8v3.4M710.6 484.7v-3.4M726.8 410.8v10.5M726.8 484.7v-10.5M743 410.8v3.4M743 484.7v-3.4M759.2 410.8v3.4M759.2 484.7v-3.4M775.3 410.8v3.4M775.3 484.7v-3.4M791.5 410.8v3.4M791.5 484.7v-3.4M807.7 410.8v3.4M807.7 484.7v-3.4M823.9 410.8v10.5M823.9 484.7v-10.5M840.1 410.8v3.4M840.1 484.7v-3.4M856.3 410.8v3.4M856.3 484.7v-3.4M872.5 410.8v3.4M872.5 484.7v-3.4M888.7 410.8v3.4M888.7 484.7v-3.4M904.9 410.8v3.4M904.9 484.7v-3.4M921 410.8v10.5M921 484.7v-10.5M937.2 410.8v3.4M937.2 484.7v-3.4M953.4 410.8v3.4M953.4 484.7v-3.4M969.6 410.8v3.4M969.6 484.7v-3.4M985.8 410.8v3.4M985.8 484.7v-3.4M1002 410.8v3.4M1002 484.7v-3.4M1018.2 410.8v10.5M1018.2 484.7v-10.5M1034.4 410.8v3.4M1034.4 484.7v-3.4M1050.6 410.8v3.4M1050.6 484.7v-3.4M1066.7 410.8v3.4M1066.7 484.7v-3.4M1082.9 410.8v3.4M1082.9 484.7v-3.4M1099.1 410.8v3.4M1099.1 484.7v-3.4M1115.3 410.8v10.5M1115.3 484.7v-10.5" stroke="#000" stroke-width="1" fill="none"/>
<rect x="669" y="484.7" width="453.6" height="73.9" fill="none" stroke="#000" stroke-width="1.3"/>
<path d="M678.2 484.7v3.4M678.2 558.5v-3.4M694.4 484.7v3.4M694.4 558.5v-3.4M710.6 484.7v3.4M710.6 558.5v-3.4M726.8 484.7v10.5M726.8 558.5v-10.5M743 484.7v3.4M743 558.5v-3.4M759.2 484.7v3.4M759.2 558.5v-3.4M775.3 484.7v3.4M775.3 558.5v-3.4M791.5 484.7v3.4M791.5 558.5v-3.4M807.7 484.7v3.4M807.7 558.5v-3.4M823.9 484.7v10.5M823.9 558.5v-10.5M840.1 484.7v3.4M840.1 558.5v-3.4M856.3 484.7v3.4M856.3 558.5v-3.4M872.5 484.7v3.4M872.5 558.5v-3.4M888.7 484.7v3.4M888.7 558.5v-3.4M904.9 484.7v3.4M904.9 558.5v-3.4M921 484.7v10.5M921 558.5v-10.5M937.2 484.7v3.4M937.2 558.5v-3.4M953.4 484.7v3.4M953.4 558.5v-3.4M969.6 484.7v3.4M969.6 558.5v-3.4M985.8 484.7v3.4M985.8 558.5v-3.4M1002 484.7v3.4M1002 558.5v-3.4M1018.2 484.7v10.5M1018.2 558.5v-10.5M1034.4 484.7v3.4M1034.4 558.5v-3.4M1050.6 484.7v3.4M1050.6 558.5v-3.4M1066.7 484.7v3.4M1066.7 558.5v-3.4M1082.9 484.7v3.4M1082.9 558.5v-3.4M1099.1 484.7v3.4M1099.1 558.5v-3.4M1115.3 484.7v10.5M1115.3 558.5v-10.5" stroke="#000" stroke-width="1" fill="none"/>
<rect x="669" y="558.5" width="453.6" height="73.9" fill="none" stroke="#000" stroke-width="1.3"/>
<path d="M678.2 558.5v3.4M678.2 632.4v-3.4M694.4 558.5v3.4M694.4 632.4v-3.4M710.6 558.5v3.4M710.6 632.4v-3.4M726.8 558.5v10.5M726.8 632.4v-10.5M743 558.5v3.4M743 632.4v-3.4M759.2 558.5v3.4M759.2 632.4v-3.4M775.3 558.5v3.4M775.3 632.4v-3.4M791.5 558.5v3.4M791.5 632.4v-3.4M807.7 558.5v3.4M807.7 632.4v-3.4M823.9 558.5v10.5M823.9 632.4v-10.5M840.1 558.5v3.4M840.1 632.4v-3.4M856.3 558.5v3.4M856.3 632.4v-3.4M872.5 558.5v3.4M872.5 632.4v-3.4M888.7 558.5v3.4M888.7 632.4v-3.4M904.9 558.5v3.4M904.9 632.4v-3.4M921 558.5v10.5M921 632.4v-10.5M937.2 558.5v3.4M937.2 632.4v-3.4M953.4 558.5v3.4M953.4 632.4v-3.4M969.6 558.5v3.4M969.6 632.4v-3.4M985.8 558.5v3.4M985.8 632.4v-3.4M1002 558.5v3.4M1002 632.4v-3.4M1018.2 558.5v10.5M1018.2 632.4v-10.5M1034.4 558.5v3.4M1034.4 632.4v-3.4M1050.6 558.5v3.4M1050.6 632.4v-3.4M1066.7 558.5v3.4M1066.7 632.4v-3.4M1082.9 558.5v3.4M1082.9 632.4v-3.4M1099.1 558.5v3.4M1099.1 632.4v-3.4M1115.3 558.5v10.5M1115.3 632.4v-10.5" stroke="#000" stroke-width="1" fill="none"/>
<rect x="669" y="632.4" width="453.6" height="73.9" fill="none" stroke="#000" stroke-width="1.3"/>
<path d="M678.2 632.4v3.4M678.2 706.2v-3.4M694.4 632.4v3.4M694.4 706.2v-3.4M710.6 632.4v3.4M710.6 706.2v-3.4M726.8 632.4v10.5M726.8 706.2v-10.5M743 632.4v3.4M743 706.2v-3.4M759.2 632.4v3.4M759.2 706.2v-3.4M775.3 632.4v3.4M775.3 706.2v-3.4M791.5 632.4v3.4M791.5 706.2v-3.4M807.7 632.4v3.4M807.7 706.2v-3.4M823.9 632.4v10.5M823.9 706.2v-10.5M840.1 632.4v3.4M840.1 706.2v-3.4M856.3 632.4v3.4M856.3 706.2v-3.4M872.5 632.4v3.4M872.5 706.2v-3.4M888.7 632.4v3.4M888.7 706.2v-3.4M904.9 632.4v3.4M904.9 706.2v-3.4M921 632.4v10.5M921 706.2v-10.5M937.2 632.4v3.4M937.2 706.2v-3.4M953.4 632.4v3.4M953.4 706.2v-3.4M969.6 632.4v3.4M969.6 706.2v-3.4M985.8 632.4v3.4M985.8 706.2v-3.4M1002 632.4v3.4M1002 706.2v-3.4M1018.2 632.4v10.5M1018.2 706.2v-10.5M1034.4 632.4v3.4M1034.4 706.2v-3.4M1050.6 632.4v3.4M1050.6 706.2v-3.4M1066.7 632.4v3.4M1066.7 706.2v-3.4M1082.9 632.4v3.4M1082.9 706.2v-3.4M1099.1 632.4v3.4M1099.1 706.2v-3.4M1115.3 632.4v10.5M1115.3 706.2v-10.5" stroke="#000" stroke-width="1" fill="none"/>
<path d="M71.5 145.9h6M525.5 145.9h-6M71.5 121.2h6M525.5 121.2h-6M71.5 96.5h6M525.5 96.5h-6M71.5 71.9h6M525.5 71.9h-6M71.5 47.2h6M525.5 47.2h-6M71.5 164.4h2.5M525.5 164.4h-2.5M71.5 158.2h2.5M525.5 158.2h-2.5M71.5 152h2.5M525.5 152h-2.5M71.5 139.7h2.5M525.5 139.7h-2.5M71.5 133.5h2.5M525.5 133.5h-2.5M71.5 127.4h2.5M525.5 127.4h-2.5M71.5 115h2.5M525.5 115h-2.5M71.5 108.9h2.5M525.5 108.9h-2.5M71.5 102.7h2.5M525.5 102.7h-2.5M71.5 90.4h2.5M525.5 90.4h-2.5M71.5 84.2h2.5M525.5 84.2h-2.5M71.5 78h2.5M525.5 78h-2.5M71.5 65.7h2.5M525.5 65.7h-2.5M71.5 59.5h2.5M525.5 59.5h-2.5M71.5 53.4h2.5M525.5 53.4h-2.5M71.5 41h2.5M525.5 41h-2.5M71.5 34.9h2.5M525.5 34.9h-2.5" stroke="#000" stroke-width="1" fill="none"/>
<text x="68.9" y="149.8" font-size="11.3" fill="#000" text-anchor="end">-20</text>
<text x="68.9" y="125.1" font-size="11.3" fill="#000" text-anchor="end">0</text>
<text x="68.9" y="100.4" font-size="11.3" fill="#000" text-anchor="end">20</text>
<text x="68.9" y="75.8" font-size="11.3" fill="#000" text-anchor="end">40</text>
<text x="68.9" y="51.1" font-size="11.3" fill="#000" text-anchor="end">60</text>
<text transform="translate(47.5 101.5) rotate(-90)" font-size="11" fill="#000" text-anchor="middle">B<tspan dy="2.5" font-size="75%">L</tspan><tspan dy="-2.5">,|B| [nT]</tspan></text>
<path d="M71.5 236.8h6M525.5 236.8h-6M71.5 225.2h6M525.5 225.2h-6M71.5 213.6h6M525.5 213.6h-6M71.5 202h6M525.5 202h-6M71.5 190.4h6M525.5 190.4h-6M71.5 178.8h6M525.5 178.8h-6M71.5 242.6h2.5M525.5 242.6h-2.5M71.5 239.7h2.5M525.5 239.7h-2.5M71.5 233.9h2.5M525.5 233.9h-2.5M71.5 231h2.5M525.5 231h-2.5M71.5 228.1h2.5M525.5 228.1h-2.5M71.5 222.3h2.5M525.5 222.3h-2.5M71.5 219.4h2.5M525.5 219.4h-2.5M71.5 216.5h2.5M525.5 216.5h-2.5M71.5 210.7h2.5M525.5 210.7h-2.5M71.5 207.8h2.5M525.5 207.8h-2.5M71.5 204.9h2.5M525.5 204.9h-2.5M71.5 199.1h2.5M525.5 199.1h-2.5M71.5 196.2h2.5M525.5 196.2h-2.5M71.5 193.3h2.5M525.5 193.3h-2.5M71.5 187.5h2.5M525.5 187.5h-2.5M71.5 184.6h2.5M525.5 184.6h-2.5M71.5 181.7h2.5M525.5 181.7h-2.5" stroke="#000" stroke-width="1" fill="none"/>
<text x="68.9" y="240.7" font-size="11.3" fill="#000" text-anchor="end">-40</text>
<text x="68.9" y="229.1" font-size="11.3" fill="#000" text-anchor="end">-20</text>
<text x="68.9" y="217.5" font-size="11.3" fill="#000" text-anchor="end">0</text>
<text x="68.9" y="205.9" font-size="11.3" fill="#000" text-anchor="end">20</text>
<text x="68.9" y="194.3" font-size="11.3" fill="#000" text-anchor="end">40</text>
<text x="68.9" y="182.7" font-size="11.3" fill="#000" text-anchor="end">60</text>
<text transform="translate(43.5 213.8) rotate(-90)" font-size="11" fill="#000" text-anchor="middle">B<tspan dy="2.5" font-size="75%">LMN</tspan><tspan dy="-2.5"> [nT]</tspan></text>
<path d="M71.5 294.2h6M525.5 294.2h-6M71.5 274.6h6M525.5 274.6h-6M71.5 255h6M525.5 255h-6M71.5 307.9h2.5M525.5 307.9h-2.5M71.5 304.4h2.5M525.5 304.4h-2.5M71.5 302h2.5M525.5 302h-2.5M71.5 300.1h2.5M525.5 300.1h-2.5M71.5 298.5h2.5M525.5 298.5h-2.5M71.5 297.2h2.5M525.5 297.2h-2.5M71.5 296.1h2.5M525.5 296.1h-2.5M71.5 295.1h2.5M525.5 295.1h-2.5M71.5 288.3h2.5M525.5 288.3h-2.5M71.5 284.8h2.5M525.5 284.8h-2.5M71.5 282.4h2.5M525.5 282.4h-2.5M71.5 280.5h2.5M525.5 280.5h-2.5M71.5 278.9h2.5M525.5 278.9h-2.5M71.5 277.6h2.5M525.5 277.6h-2.5M71.5 276.5h2.5M525.5 276.5h-2.5M71.5 275.5h2.5M525.5 275.5h-2.5M71.5 268.7h2.5M525.5 268.7h-2.5M71.5 265.2h2.5M525.5 265.2h-2.5M71.5 262.8h2.5M525.5 262.8h-2.5M71.5 260.9h2.5M525.5 260.9h-2.5M71.5 259.3h2.5M525.5 259.3h-2.5M71.5 258h2.5M525.5 258h-2.5M71.5 256.9h2.5M525.5 256.9h-2.5M71.5 255.9h2.5M525.5 255.9h-2.5M71.5 249.1h2.5M525.5 249.1h-2.5M71.5 245.6h2.5M525.5 245.6h-2.5" stroke="#000" stroke-width="1" fill="none"/>
<text x="528.5" y="259" font-size="11.3" fill="#000">10<tspan dy="-4.5" font-size="8">4</tspan></text>
<text x="528.5" y="278.6" font-size="11.3" fill="#000">10<tspan dy="-4.5" font-size="8">3</tspan></text>
<text x="528.5" y="298.2" font-size="11.3" fill="#000">10<tspan dy="-4.5" font-size="8">2</tspan></text>
<text transform="translate(557.8 279.1) rotate(-90)" font-size="11" fill="#000" text-anchor="middle">Energy (eV)</text>
<path d="M71.5 374.9h6M525.5 374.9h-6M71.5 359.4h6M525.5 359.4h-6M71.5 343.9h6M525.5 343.9h-6M71.5 328.4h6M525.5 328.4h-6M71.5 381.1h2.5M525.5 381.1h-2.5M71.5 378h2.5M525.5 378h-2.5M71.5 371.8h2.5M525.5 371.8h-2.5M71.5 368.7h2.5M525.5 368.7h-2.5M71.5 365.6h2.5M525.5 365.6h-2.5M71.5 362.5h2.5M525.5 362.5h-2.5M71.5 356.3h2.5M525.5 356.3h-2.5M71.5 353.2h2.5M525.5 353.2h-2.5M71.5 350.1h2.5M525.5 350.1h-2.5M71.5 347h2.5M525.5 347h-2.5M71.5 340.8h2.5M525.5 340.8h-2.5M71.5 337.7h2.5M525.5 337.7h-2.5M71.5 334.6h2.5M525.5 334.6h-2.5M71.5 331.5h2.5M525.5 331.5h-2.5M71.5 325.3h2.5M525.5 325.3h-2.5M71.5 322.2h2.5M525.5 322.2h-2.5M71.5 319.1h2.5M525.5 319.1h-2.5M71.5 316h2.5M525.5 316h-2.5" stroke="#000" stroke-width="1" fill="none"/>
<text x="68.9" y="378.8" font-size="11.3" fill="#000" text-anchor="end">50</text>
<text x="68.9" y="363.3" font-size="11.3" fill="#000" text-anchor="end">100</text>
<text x="68.9" y="347.8" font-size="11.3" fill="#000" text-anchor="end">150</text>
<text x="68.9" y="332.3" font-size="11.3" fill="#000" text-anchor="end">200</text>
<text transform="translate(41.5 348) rotate(-90)" font-size="11" fill="#000" text-anchor="middle">| V<tspan dy="2.5" font-size="75%">i</tspan><tspan dy="-2.5"> | [km/s]</tspan></text>
<path d="M71.5 442.9h6M525.5 442.9h-6M71.5 426.9h6M525.5 426.9h-6M71.5 410.9h6M525.5 410.9h-6M71.5 394.9h6M525.5 394.9h-6M71.5 449.3h2.5M525.5 449.3h-2.5M71.5 446.1h2.5M525.5 446.1h-2.5M71.5 439.7h2.5M525.5 439.7h-2.5M71.5 436.5h2.5M525.5 436.5h-2.5M71.5 433.3h2.5M525.5 433.3h-2.5M71.5 430.1h2.5M525.5 430.1h-2.5M71.5 423.7h2.5M525.5 423.7h-2.5M71.5 420.5h2.5M525.5 420.5h-2.5M71.5 417.3h2.5M525.5 417.3h-2.5M71.5 414.1h2.5M525.5 414.1h-2.5M71.5 407.7h2.5M525.5 407.7h-2.5M71.5 404.5h2.5M525.5 404.5h-2.5M71.5 401.3h2.5M525.5 401.3h-2.5M71.5 398.1h2.5M525.5 398.1h-2.5M71.5 391.7h2.5M525.5 391.7h-2.5M71.5 388.5h2.5M525.5 388.5h-2.5M71.5 385.3h2.5M525.5 385.3h-2.5" stroke="#000" stroke-width="1" fill="none"/>
<text x="528.5" y="398.8" font-size="11.3" fill="#000">100</text>
<text x="528.5" y="414.8" font-size="11.3" fill="#000">0</text>
<text x="528.5" y="430.8" font-size="11.3" fill="#000">-100</text>
<text x="528.5" y="446.8" font-size="11.3" fill="#000">-200</text>
<text transform="translate(562.3 416.6) rotate(-90)" font-size="11" fill="#000" text-anchor="middle">V<tspan dy="2.5" font-size="75%">i LMN</tspan><tspan dy="-2.5"> [km/s]</tspan></text>
<path d="M71.5 517.6h6M525.5 517.6h-6M71.5 502.1h6M525.5 502.1h-6M71.5 486.6h6M525.5 486.6h-6M71.5 471.1h6M525.5 471.1h-6M71.5 455.6h6M525.5 455.6h-6M71.5 514.5h2.5M525.5 514.5h-2.5M71.5 511.4h2.5M525.5 511.4h-2.5M71.5 508.3h2.5M525.5 508.3h-2.5M71.5 505.2h2.5M525.5 505.2h-2.5M71.5 499h2.5M525.5 499h-2.5M71.5 495.9h2.5M525.5 495.9h-2.5M71.5 492.8h2.5M525.5 492.8h-2.5M71.5 489.7h2.5M525.5 489.7h-2.5M71.5 483.5h2.5M525.5 483.5h-2.5M71.5 480.4h2.5M525.5 480.4h-2.5M71.5 477.3h2.5M525.5 477.3h-2.5M71.5 474.2h2.5M525.5 474.2h-2.5M71.5 468h2.5M525.5 468h-2.5M71.5 464.9h2.5M525.5 464.9h-2.5M71.5 461.8h2.5M525.5 461.8h-2.5M71.5 458.7h2.5M525.5 458.7h-2.5M71.5 452.5h2.5M525.5 452.5h-2.5" stroke="#000" stroke-width="1" fill="none"/>
<text x="68.9" y="521.5" font-size="11.3" fill="#000" text-anchor="end">0</text>
<text x="68.9" y="506" font-size="11.3" fill="#000" text-anchor="end">5</text>
<text x="68.9" y="490.5" font-size="11.3" fill="#000" text-anchor="end">10</text>
<text x="68.9" y="475" font-size="11.3" fill="#000" text-anchor="end">15</text>
<text x="68.9" y="459.5" font-size="11.3" fill="#000" text-anchor="end">20</text>
<text transform="translate(44.6 484.3) rotate(-90)" font-size="11" fill="#000" text-anchor="middle">N [cm<tspan dy="-4" font-size="8">-3</tspan><tspan dy="4">]</tspan></text>
<path d="M71.5 586.2h6M525.5 586.2h-6M71.5 565.1h6M525.5 565.1h-6M71.5 544h6M525.5 544h-6M71.5 522.9h6M525.5 522.9h-6M71.5 582h2.5M525.5 582h-2.5M71.5 577.8h2.5M525.5 577.8h-2.5M71.5 573.5h2.5M525.5 573.5h-2.5M71.5 569.3h2.5M525.5 569.3h-2.5M71.5 560.9h2.5M525.5 560.9h-2.5M71.5 556.7h2.5M525.5 556.7h-2.5M71.5 552.4h2.5M525.5 552.4h-2.5M71.5 548.2h2.5M525.5 548.2h-2.5M71.5 539.8h2.5M525.5 539.8h-2.5M71.5 535.6h2.5M525.5 535.6h-2.5M71.5 531.3h2.5M525.5 531.3h-2.5M71.5 527.1h2.5M525.5 527.1h-2.5" stroke="#000" stroke-width="1" fill="none"/>
<text x="528.5" y="590.1" font-size="11.3" fill="#000">0.0</text>
<text x="528.5" y="569" font-size="11.3" fill="#000">0.5</text>
<text x="528.5" y="547.9" font-size="11.3" fill="#000">1.0</text>
<text x="528.5" y="526.8" font-size="11.3" fill="#000">1.5</text>
<text transform="translate(557.5 552.4) rotate(-90)" font-size="11" fill="#000" text-anchor="middle">N<tspan dy="2.5" font-size="75%">i</tspan><tspan dy="-2.5"> [cm</tspan><tspan dy="-4" font-size="8">-3</tspan><tspan dy="4">]</tspan></text>
<path d="M71.5 606.8h6M525.5 606.8h-6M71.5 645.8h2.5M525.5 645.8h-2.5M71.5 636.3h2.5M525.5 636.3h-2.5M71.5 628.5h2.5M525.5 628.5h-2.5M71.5 622h2.5M525.5 622h-2.5M71.5 616.3h2.5M525.5 616.3h-2.5M71.5 611.3h2.5M525.5 611.3h-2.5" stroke="#000" stroke-width="1" fill="none"/>
<text x="68.9" y="610.8" font-size="11.3" fill="#000" text-anchor="end">10<tspan dy="-4.5" font-size="8">3</tspan></text>
<text transform="translate(37.5 621.6) rotate(-90)" font-size="11" fill="#000" text-anchor="middle">T<tspan dy="2.5" font-size="75%">i</tspan><tspan dy="-2.5"> [eV]</tspan></text>
<path d="M71.5 721h6M525.5 721h-6M71.5 707.1h6M525.5 707.1h-6M71.5 693.2h6M525.5 693.2h-6M71.5 679.3h6M525.5 679.3h-6M71.5 665.4h6M525.5 665.4h-6M71.5 718.2h2.5M525.5 718.2h-2.5M71.5 715.4h2.5M525.5 715.4h-2.5M71.5 712.7h2.5M525.5 712.7h-2.5M71.5 709.9h2.5M525.5 709.9h-2.5M71.5 704.3h2.5M525.5 704.3h-2.5M71.5 701.5h2.5M525.5 701.5h-2.5M71.5 698.8h2.5M525.5 698.8h-2.5M71.5 696h2.5M525.5 696h-2.5M71.5 690.4h2.5M525.5 690.4h-2.5M71.5 687.6h2.5M525.5 687.6h-2.5M71.5 684.9h2.5M525.5 684.9h-2.5M71.5 682.1h2.5M525.5 682.1h-2.5M71.5 676.5h2.5M525.5 676.5h-2.5M71.5 673.7h2.5M525.5 673.7h-2.5M71.5 671h2.5M525.5 671h-2.5M71.5 668.2h2.5M525.5 668.2h-2.5M71.5 662.6h2.5M525.5 662.6h-2.5M71.5 659.8h2.5M525.5 659.8h-2.5M71.5 657.1h2.5M525.5 657.1h-2.5" stroke="#000" stroke-width="1" fill="none"/>
<text x="528.5" y="724.9" font-size="11.3" fill="#000">0.0</text>
<text x="528.5" y="711" font-size="11.3" fill="#000">0.5</text>
<text x="528.5" y="697.1" font-size="11.3" fill="#000">1.0</text>
<text x="528.5" y="683.2" font-size="11.3" fill="#000">1.5</text>
<text x="528.5" y="669.3" font-size="11.3" fill="#000">2.0</text>
<text transform="translate(562 690) rotate(-90)" font-size="11" fill="#000" text-anchor="middle">P [nPa]</text>
<path d="M669 107.4h6M1122.6 107.4h-6M669 94.7h6M1122.6 94.7h-6M669 82h6M1122.6 82h-6M669 69.3h6M1122.6 69.3h-6M669 56.6h6M1122.6 56.6h-6M669 43.9h6M1122.6 43.9h-6M669 113.8h2.5M1122.6 113.8h-2.5M669 110.6h2.5M1122.6 110.6h-2.5M669 104.2h2.5M1122.6 104.2h-2.5M669 101h2.5M1122.6 101h-2.5M669 97.9h2.5M1122.6 97.9h-2.5M669 91.5h2.5M1122.6 91.5h-2.5M669 88.3h2.5M1122.6 88.3h-2.5M669 85.2h2.5M1122.6 85.2h-2.5M669 78.8h2.5M1122.6 78.8h-2.5M669 75.7h2.5M1122.6 75.7h-2.5M669 72.5h2.5M1122.6 72.5h-2.5M669 66.1h2.5M1122.6 66.1h-2.5M669 63h2.5M1122.6 63h-2.5M669 59.8h2.5M1122.6 59.8h-2.5M669 53.4h2.5M1122.6 53.4h-2.5M669 50.2h2.5M1122.6 50.2h-2.5M669 47.1h2.5M1122.6 47.1h-2.5" stroke="#000" stroke-width="1" fill="none"/>
<text x="666.4" y="111.3" font-size="11.3" fill="#000" text-anchor="end">-40</text>
<text x="666.4" y="98.6" font-size="11.3" fill="#000" text-anchor="end">-20</text>
<text x="666.4" y="85.9" font-size="11.3" fill="#000" text-anchor="end">0</text>
<text x="666.4" y="73.2" font-size="11.3" fill="#000" text-anchor="end">20</text>
<text x="666.4" y="60.5" font-size="11.3" fill="#000" text-anchor="end">40</text>
<text x="666.4" y="47.8" font-size="11.3" fill="#000" text-anchor="end">60</text>
<text transform="translate(640 79.4) rotate(-90)" font-size="11" fill="#000" text-anchor="middle">B<tspan dy="2.5" font-size="75%">LMN</tspan><tspan dy="-2.5"> [nT]</tspan></text>
<path d="M669 168.4h6M1122.6 168.4h-6M669 147.5h6M1122.6 147.5h-6M669 126.6h6M1122.6 126.6h-6M669 183h2.5M1122.6 183h-2.5M669 179.3h2.5M1122.6 179.3h-2.5M669 176.7h2.5M1122.6 176.7h-2.5M669 174.7h2.5M1122.6 174.7h-2.5M669 173h2.5M1122.6 173h-2.5M669 171.6h2.5M1122.6 171.6h-2.5M669 170.4h2.5M1122.6 170.4h-2.5M669 169.4h2.5M1122.6 169.4h-2.5M669 162.1h2.5M1122.6 162.1h-2.5M669 158.4h2.5M1122.6 158.4h-2.5M669 155.8h2.5M1122.6 155.8h-2.5M669 153.8h2.5M1122.6 153.8h-2.5M669 152.1h2.5M1122.6 152.1h-2.5M669 150.7h2.5M1122.6 150.7h-2.5M669 149.5h2.5M1122.6 149.5h-2.5M669 148.5h2.5M1122.6 148.5h-2.5M669 141.2h2.5M1122.6 141.2h-2.5M669 137.5h2.5M1122.6 137.5h-2.5M669 134.9h2.5M1122.6 134.9h-2.5M669 132.9h2.5M1122.6 132.9h-2.5M669 131.2h2.5M1122.6 131.2h-2.5M669 129.8h2.5M1122.6 129.8h-2.5M669 128.6h2.5M1122.6 128.6h-2.5M669 127.6h2.5M1122.6 127.6h-2.5M669 120.3h2.5M1122.6 120.3h-2.5M669 116.6h2.5M1122.6 116.6h-2.5" stroke="#000" stroke-width="1" fill="none"/>
<text x="1125.6" y="130.6" font-size="11.3" fill="#000">10<tspan dy="-4.5" font-size="8">4</tspan></text>
<text x="1125.6" y="151.5" font-size="11.3" fill="#000">10<tspan dy="-4.5" font-size="8">3</tspan></text>
<text x="1125.6" y="172.4" font-size="11.3" fill="#000">10<tspan dy="-4.5" font-size="8">2</tspan></text>
<text x="1125.6" y="193" font-size="11.3" fill="#000">10<tspan dy="-4.5" font-size="8">1</tspan></text>
<text transform="translate(1155.5 152.9) rotate(-90)" font-size="11" fill="#000" text-anchor="middle">Energy (eV)</text>
<path d="M669 258.6h6M1122.6 258.6h-6M669 234.4h6M1122.6 234.4h-6M669 210.2h6M1122.6 210.2h-6M669 253.8h2.5M1122.6 253.8h-2.5M669 248.9h2.5M1122.6 248.9h-2.5M669 244.1h2.5M1122.6 244.1h-2.5M669 239.2h2.5M1122.6 239.2h-2.5M669 229.6h2.5M1122.6 229.6h-2.5M669 224.7h2.5M1122.6 224.7h-2.5M669 219.9h2.5M1122.6 219.9h-2.5M669 215h2.5M1122.6 215h-2.5M669 205.4h2.5M1122.6 205.4h-2.5M669 200.5h2.5M1122.6 200.5h-2.5M669 195.7h2.5M1122.6 195.7h-2.5M669 190.8h2.5M1122.6 190.8h-2.5" stroke="#000" stroke-width="1" fill="none"/>
<text x="666.4" y="262.5" font-size="11.3" fill="#000" text-anchor="end">-500</text>
<text x="666.4" y="238.3" font-size="11.3" fill="#000" text-anchor="end">0</text>
<text x="666.4" y="214.1" font-size="11.3" fill="#000" text-anchor="end">500</text>
<text transform="translate(638 227.3) rotate(-90)" font-size="11" fill="#000" text-anchor="middle">V<tspan dy="2.5" font-size="75%">e LMN</tspan><tspan dy="-2.5"> [km/s]</tspan></text>
<path d="M669 310.2h6M1122.6 310.2h-6M669 333.5h2.5M1122.6 333.5h-2.5M669 326.5h2.5M1122.6 326.5h-2.5M669 320.4h2.5M1122.6 320.4h-2.5M669 315h2.5M1122.6 315h-2.5M669 278.6h2.5M1122.6 278.6h-2.5" stroke="#000" stroke-width="1" fill="none"/>
<text x="1125.6" y="314.2" font-size="11.3" fill="#000">10<tspan dy="-4.5" font-size="8">2</tspan></text>
<text transform="translate(1159.5 300.7) rotate(-90)" font-size="11" fill="#000" text-anchor="middle">T<tspan dy="2.5" font-size="75%">e</tspan><tspan dy="-2.5"> [eV]</tspan></text>
<path d="M669 396.2h6M1122.6 396.2h-6M669 377.9h6M1122.6 377.9h-6M669 359.6h6M1122.6 359.6h-6M669 341.3h6M1122.6 341.3h-6M669 407.2h2.5M1122.6 407.2h-2.5M669 403.5h2.5M1122.6 403.5h-2.5M669 399.9h2.5M1122.6 399.9h-2.5M669 392.5h2.5M1122.6 392.5h-2.5M669 388.9h2.5M1122.6 388.9h-2.5M669 385.2h2.5M1122.6 385.2h-2.5M669 381.6h2.5M1122.6 381.6h-2.5M669 374.2h2.5M1122.6 374.2h-2.5M669 370.6h2.5M1122.6 370.6h-2.5M669 366.9h2.5M1122.6 366.9h-2.5M669 363.3h2.5M1122.6 363.3h-2.5M669 355.9h2.5M1122.6 355.9h-2.5M669 352.3h2.5M1122.6 352.3h-2.5M669 348.6h2.5M1122.6 348.6h-2.5M669 345h2.5M1122.6 345h-2.5M669 337.6h2.5M1122.6 337.6h-2.5" stroke="#000" stroke-width="1" fill="none"/>
<text x="666.4" y="400.1" font-size="11.3" fill="#000" text-anchor="end">-10</text>
<text x="666.4" y="381.8" font-size="11.3" fill="#000" text-anchor="end">0</text>
<text x="666.4" y="363.5" font-size="11.3" fill="#000" text-anchor="end">10</text>
<text x="666.4" y="345.2" font-size="11.3" fill="#000" text-anchor="end">20</text>
<text transform="translate(642.5 374.7) rotate(-90)" font-size="11" fill="#000" text-anchor="middle">E<tspan dy="2.5" font-size="75%">LMN</tspan><tspan dy="-2.5">  [mV m</tspan><tspan dy="-4" font-size="8">-1</tspan><tspan dy="4">]</tspan></text>
<path d="M669 472.3h6M1122.6 472.3h-6M669 447.8h6M1122.6 447.8h-6M669 423.3h6M1122.6 423.3h-6M669 482.1h2.5M1122.6 482.1h-2.5M669 477.2h2.5M1122.6 477.2h-2.5M669 467.4h2.5M1122.6 467.4h-2.5M669 462.5h2.5M1122.6 462.5h-2.5M669 457.6h2.5M1122.6 457.6h-2.5M669 452.7h2.5M1122.6 452.7h-2.5M669 442.9h2.5M1122.6 442.9h-2.5M669 438h2.5M1122.6 438h-2.5M669 433.1h2.5M1122.6 433.1h-2.5M669 428.2h2.5M1122.6 428.2h-2.5M669 418.4h2.5M1122.6 418.4h-2.5M669 413.5h2.5M1122.6 413.5h-2.5" stroke="#000" stroke-width="1" fill="none"/>
<text x="1125.6" y="427.2" font-size="11.3" fill="#000">10</text>
<text x="1125.6" y="451.7" font-size="11.3" fill="#000">0</text>
<text x="1125.6" y="476.2" font-size="11.3" fill="#000">-10</text>
<text transform="translate(1155.4 448.3) rotate(-90)" font-size="11" fill="#000" text-anchor="middle">E<tspan dy="2.5" font-size="75%">M</tspan><tspan dy="-2.5"> [mW m</tspan><tspan dy="-4" font-size="8">-2</tspan><tspan dy="4">]</tspan></text>
<path d="M669 537.1h6M1122.6 537.1h-6M669 515.8h6M1122.6 515.8h-6M669 494.5h6M1122.6 494.5h-6M669 554.1h2.5M1122.6 554.1h-2.5M669 549.9h2.5M1122.6 549.9h-2.5M669 545.6h2.5M1122.6 545.6h-2.5M669 541.4h2.5M1122.6 541.4h-2.5M669 532.8h2.5M1122.6 532.8h-2.5M669 528.6h2.5M1122.6 528.6h-2.5M669 524.3h2.5M1122.6 524.3h-2.5M669 520.1h2.5M1122.6 520.1h-2.5M669 511.5h2.5M1122.6 511.5h-2.5M669 507.3h2.5M1122.6 507.3h-2.5M669 503h2.5M1122.6 503h-2.5M669 498.8h2.5M1122.6 498.8h-2.5M669 490.2h2.5M1122.6 490.2h-2.5M669 486h2.5M1122.6 486h-2.5" stroke="#000" stroke-width="1" fill="none"/>
<text x="666.4" y="541" font-size="11.3" fill="#000" text-anchor="end">0.5</text>
<text x="666.4" y="519.7" font-size="11.3" fill="#000" text-anchor="end">1.0</text>
<text x="666.4" y="498.4" font-size="11.3" fill="#000" text-anchor="end">1.5</text>
<text transform="translate(643 521.9) rotate(-90)" font-size="11" fill="#000" text-anchor="middle">|J| [&#956;A m<tspan dy="-4" font-size="8">-2</tspan><tspan dy="4">]</tspan></text>
<path d="M669 629.2h6M1122.6 629.2h-6M669 616.3h6M1122.6 616.3h-6M669 603.4h6M1122.6 603.4h-6M669 590.5h6M1122.6 590.5h-6M669 577.6h6M1122.6 577.6h-6M669 564.7h6M1122.6 564.7h-6M669 631.8h2.5M1122.6 631.8h-2.5M669 626.6h2.5M1122.6 626.6h-2.5M669 624h2.5M1122.6 624h-2.5M669 621.5h2.5M1122.6 621.5h-2.5M669 618.9h2.5M1122.6 618.9h-2.5M669 613.7h2.5M1122.6 613.7h-2.5M669 611.1h2.5M1122.6 611.1h-2.5M669 608.6h2.5M1122.6 608.6h-2.5M669 606h2.5M1122.6 606h-2.5M669 600.8h2.5M1122.6 600.8h-2.5M669 598.2h2.5M1122.6 598.2h-2.5M669 595.7h2.5M1122.6 595.7h-2.5M669 593.1h2.5M1122.6 593.1h-2.5M669 587.9h2.5M1122.6 587.9h-2.5M669 585.3h2.5M1122.6 585.3h-2.5M669 582.8h2.5M1122.6 582.8h-2.5M669 580.2h2.5M1122.6 580.2h-2.5M669 575h2.5M1122.6 575h-2.5M669 572.4h2.5M1122.6 572.4h-2.5M669 569.9h2.5M1122.6 569.9h-2.5M669 567.3h2.5M1122.6 567.3h-2.5M669 562.1h2.5M1122.6 562.1h-2.5M669 559.5h2.5M1122.6 559.5h-2.5" stroke="#000" stroke-width="1" fill="none"/>
<text x="1125.6" y="568.6" font-size="11.3" fill="#000">1.0</text>
<text x="1125.6" y="581.5" font-size="11.3" fill="#000">0.5</text>
<text x="1125.6" y="594.4" font-size="11.3" fill="#000">0.0</text>
<text x="1125.6" y="607.3" font-size="11.3" fill="#000">-0.5</text>
<text x="1125.6" y="620.2" font-size="11.3" fill="#000">-1.0</text>
<text x="1125.6" y="633.1" font-size="11.3" fill="#000">-1.5</text>
<text transform="translate(1158 594.4) rotate(-90)" font-size="11" fill="#000" text-anchor="middle">J [&#956;A m<tspan dy="-4" font-size="8">-2</tspan><tspan dy="4">]</tspan></text>
<path d="M669 702.8h6M1122.6 702.8h-6M669 678h6M1122.6 678h-6M669 653.2h6M1122.6 653.2h-6M669 696.6h2.5M1122.6 696.6h-2.5M669 690.4h2.5M1122.6 690.4h-2.5M669 684.2h2.5M1122.6 684.2h-2.5M669 671.8h2.5M1122.6 671.8h-2.5M669 665.6h2.5M1122.6 665.6h-2.5M669 659.4h2.5M1122.6 659.4h-2.5M669 647h2.5M1122.6 647h-2.5M669 640.8h2.5M1122.6 640.8h-2.5M669 634.6h2.5M1122.6 634.6h-2.5" stroke="#000" stroke-width="1" fill="none"/>
<text x="666.4" y="706.7" font-size="11.3" fill="#000" text-anchor="end">-2</text>
<text x="666.4" y="681.9" font-size="11.3" fill="#000" text-anchor="end">0</text>
<text x="666.4" y="657.1" font-size="11.3" fill="#000" text-anchor="end">2</text>
<text transform="translate(642 670.3) rotate(-90)" font-size="11" fill="#000" text-anchor="middle">J*E' [nW m<tspan dy="-4" font-size="8">-3</tspan><tspan dy="4">]</tspan></text>
<text x="129.8" y="739.9" font-size="10.8" fill="#000" text-anchor="middle">11:06:00</text>
<text x="129.8" y="760.9" font-size="11" fill="#000" text-anchor="middle">10.2</text>
<text x="129.8" y="778.9" font-size="11" fill="#000" text-anchor="middle">1.17</text>
<text x="129.8" y="797" font-size="11" fill="#000" text-anchor="middle">-0.952</text>
<text x="227.1" y="739.9" font-size="10.8" fill="#000" text-anchor="middle">11:07:00</text>
<text x="227.1" y="760.9" font-size="11" fill="#000" text-anchor="middle">10.2</text>
<text x="227.1" y="778.9" font-size="11" fill="#000" text-anchor="middle">1.18</text>
<text x="227.1" y="797" font-size="11" fill="#000" text-anchor="middle">-0.951</text>
<text x="324.4" y="739.9" font-size="10.8" fill="#000" text-anchor="middle">11:08:00</text>
<text x="324.4" y="760.9" font-size="11" fill="#000" text-anchor="middle">10.2</text>
<text x="324.4" y="778.9" font-size="11" fill="#000" text-anchor="middle">1.19</text>
<text x="324.4" y="797" font-size="11" fill="#000" text-anchor="middle">-0.95</text>
<text x="421.7" y="739.9" font-size="10.8" fill="#000" text-anchor="middle">11:09:00</text>
<text x="421.7" y="760.9" font-size="11" fill="#000" text-anchor="middle">10.2</text>
<text x="421.7" y="778.9" font-size="11" fill="#000" text-anchor="middle">1.2</text>
<text x="421.7" y="797" font-size="11" fill="#000" text-anchor="middle">-0.949</text>
<text x="519" y="739.9" font-size="10.8" fill="#000" text-anchor="middle">11:10:00</text>
<text x="519" y="760.9" font-size="11" fill="#000" text-anchor="middle">10.2</text>
<text x="519" y="778.9" font-size="11" fill="#000" text-anchor="middle">1.21</text>
<text x="519" y="797" font-size="11" fill="#000" text-anchor="middle">-0.949</text>
<text x="50" y="760.9" font-size="11" fill="#000">X</text>
<text x="50" y="778.9" font-size="11" fill="#000">Y</text>
<text x="50" y="797" font-size="11" fill="#000">Z</text>
<text x="539.3" y="760.9" font-size="11" fill="#000">Re</text>
<text x="539.3" y="778.9" font-size="11" fill="#000">Re</text>
<text x="539.3" y="797" font-size="11" fill="#000">Re</text>
<text x="726.8" y="723.5" font-size="10.8" fill="#000" text-anchor="middle">11:06:00</text>
<text x="726.8" y="745.8" font-size="11" fill="#000" text-anchor="middle">10.2</text>
<text x="726.8" y="763.7" font-size="11" fill="#000" text-anchor="middle">1.17</text>
<text x="726.8" y="780.5" font-size="11" fill="#000" text-anchor="middle">-0.952</text>
<text x="823.9" y="723.5" font-size="10.8" fill="#000" text-anchor="middle">11:07:00</text>
<text x="823.9" y="745.8" font-size="11" fill="#000" text-anchor="middle">10.2</text>
<text x="823.9" y="763.7" font-size="11" fill="#000" text-anchor="middle">1.18</text>
<text x="823.9" y="780.5" font-size="11" fill="#000" text-anchor="middle">-0.951</text>
<text x="921" y="723.5" font-size="10.8" fill="#000" text-anchor="middle">11:08:00</text>
<text x="921" y="745.8" font-size="11" fill="#000" text-anchor="middle">10.2</text>
<text x="921" y="763.7" font-size="11" fill="#000" text-anchor="middle">1.19</text>
<text x="921" y="780.5" font-size="11" fill="#000" text-anchor="middle">-0.95</text>
<text x="1018.2" y="723.5" font-size="10.8" fill="#000" text-anchor="middle">11:09:00</text>
<text x="1018.2" y="745.8" font-size="11" fill="#000" text-anchor="middle">10.2</text>
<text x="1018.2" y="763.7" font-size="11" fill="#000" text-anchor="middle">1.2</text>
<text x="1018.2" y="780.5" font-size="11" fill="#000" text-anchor="middle">-0.949</text>
<text x="1115.3" y="723.5" font-size="10.8" fill="#000" text-anchor="middle">11:10:00</text>
<text x="1115.3" y="745.8" font-size="11" fill="#000" text-anchor="middle">10.2</text>
<text x="1115.3" y="763.7" font-size="11" fill="#000" text-anchor="middle">1.21</text>
<text x="1115.3" y="780.5" font-size="11" fill="#000" text-anchor="middle">-0.949</text>
<text x="647.3" y="745.8" font-size="11" fill="#000">X</text>
<text x="647.3" y="763.7" font-size="11" fill="#000">Y</text>
<text x="647.3" y="780.5" font-size="11" fill="#000">Z</text>
<text x="1135.6" y="745.8" font-size="11" fill="#000">Re</text>
<text x="1135.6" y="763.7" font-size="11" fill="#000">Re</text>
<text x="1135.6" y="780.5" font-size="11" fill="#000">Re</text>
<text x="425.4" y="837.5" font-size="12" fill="#000">paschmann 28-Oct-2018 21:14</text>
<text x="1022" y="837.5" font-size="12" fill="#000">paschmann 28-Oct-2018 21:14</text>
<path transform="matrix(.25 0 0 .1 0 0)" vector-effect="non-scaling-stroke" d="M287 1196l2-53 2 31 2-14 2-1 2 0 2-22 2 17 2-10 2 44 2-37 2-9 2-1 2-7 2-7 2 5 2 7 2-10 2 12 2-14 2 1 2 15 2-12 2-13 2 2 2 7 2 14 2-25 2-1 2 12 2-21 2 10 2 17 2 0 2-1 2 10 2-35 2 46 2-18 2-4 2 25 2 8 2-8 2-4 2 9 2-7 2 10 2-13 2-12 2 4 2-21 2-14 2 11 2-6 2-15 2-12 2 5 2-36 2 29 2-8 2-29 2 13 2-18 2 13 2-36 2 6 2 12 2-1 2-43 2 21 2 13 2-7 2 29 2-27 2 21 2-12 2 31 2-11 2 0 2-11 2 41 2-6 2 4 2 8 2-5 2-7 2 3 2 4 2 27 2-27 2 14 2 7 2 10 2 8 2-24 2-12 2 14 2 7 2-11 2-12 2-11 2 1 2-12 2 6 2-24 2 4 2-8 2 1 2-9 2 19 2-17 2-6 2-45 2 13 2-3 2 13 2-31 2 38 2-1 2-26 2 3 2 2 2 9 2 7 2 16 2-25 2 10 2-6 2 17 2-11 2 7 2-27 2 10 2-7 2 8 2-26 2-28 2-19 2-7 2-30 2-19 2 3 2 9 2-42 2-16 2-19 2-15 2 8 2-9 2-22 2-9 2-15 2-12 2-31 2 14 2 8 2-8 2 5 2-2 2 8 2 14 2-12 2 5 2 13 2 0 2 13 2-40 2 36 2-11 2 10 2 12 2 6 2 3 2-6 2 20 2-17 2 5 2 15 2-12 2 34 2-9 2 17 2-21 2 0 2 10 2 10 2-11 2 9 2-11 2 12 2-31 2 13 2-24 2-10 2-3 2-11 2 9 2 4 2-16 2-1 2 6 2-21 2-7 2-11 2-21 2 20 2-33 2 29 2-4 2 17 2-9 2-4 2 17 2-6 2 9 2 6 2 3 2 3 2-3 2 12 2-18 2 26 2-7 2 30 2 6 2-32 2 28 2-8 2-18 2 10 2-18 2-22 2 9 2-6 2 237 2-13 2 22 2 3 2-19 2 7 2 8 2-3 2 27 2-24 2-52 2-37 2-31 2-13 2-66 2-36 2-22 2-12 2 19 2-37 2 8 2-13 2-1 2-26 2 26 2-27 2-5 2-17 2-4 2 9 2 4 2-3 2 5 2-6 2-8 2 8 2-3 2-8 2 9 2 5 2-12 2-7 2 12 2 12 2-24 2 1 2 0 2 17 2-32 2 26 2 10 2-20 2 27 2-9 2-10 2 10 2-18 2 13 2 28 2-28 2 31 2-19 2 13 2-9 2-23 2 20 2 11 2-12 2 1 2 22 2-8 2-9 2 15 2 20 2-12 2 19 2 9 2-13 2-10 2 0 2 12 2 7 2-9 2 1 2-14 2 6 2-11 2-1 2-13 2-5 2 9 2-9 2-1 2 47 2 28 2 69 2-6 2-15 2 18 2-3 2-10 2 22 2-19 2-23 2 54 2 36 2 53 2-8 2 9 2 45 2-14 2 29 2 28 2 1 2 12 2 17 2 23 2-3 2 31 2 8 2 5 2-45 2-21 2 3 2-27 2-8 2-17 2-3 2-35 2-3 2-10 2 34 2 44 2-8 2 16 2 11 2 36 2 12 2 1 2 37 2 12 2 22 2 1 2 23 2-18 2-9 2-8 2 0 2 8 2-15 2 11 2-9 2 5 2-9 2-13 2-24 2 21 2 2 2-10 2 1 2-14 2-3 2-9 2 6 2-31 2-26 2-28 2-6 2-1 2-29 2-32 2 5 2-18 2-24 2-20 2-15 2-12 2 5 2-14 2 28 2-11 2 23 2-42 2 33 2 6 2-11 2 11 2 6 2 2 2-10 2 8 2 15 2 6 2-1 2 11 2 13 2 21 2-11 2 9 2 27 2-2 2 18 2 19 2-1 2-23 2 15 2-34 2 20 2-29 2-2 2 16 2-18 2-9 2-1 2 8 2-8 2-3 2 10 2-22 2 0 2-2 2 18 2-4 2 2 2-15 2-3 2 10 2-15 2 12 2-2 2-17 2 5 2-2 2 21 2 11 2-28 2 4 2-24 2 30 2-1 2-10 2 23 2-24 2 16 2 6 2-13 2 24 2 1 2-27 2-2 2 22 2-8 2-14 2 9 2 1 2-1 2 9 2-5 2 14 2-5 2-9 2 3 2 2 2-9 2-24 2 19 2-12 2 13 2-20 2 1 2-6 2 12 2-20 2-9 2 3 2-12 2 3 2-5 2-1 2 15 2-31 2-1 2-8 2 4 2-26 2-1 2 2 2 1 2-13 2-10 2-10 2 12 2 20 2-4 2 8 2 11 2-6 2 16 2 9 2 15 2 20 2 13 2 53 2 33 2 5 2 34 2 25 2 32 2 2 2 60 2-19 2 16 2-16 2-8 2 0 2 8 2-22 2 3 2-4 2-17 2 31 2-11 2-10 2 11 2-27 2 7 2 17 2-11 2-38 2-15 2 22 2 21 2-20 2 4 2 13 2-13 2 15 2 10 2 0 2 3 2-7 2 16 2-7 2 23 2 17 2-32 2-12 2 22 2 13 2 11 2 4 2-17 2 3 2 27 2-23 2 28 2-11 2 15 2 3 2 4 2 4 2-16 2 18 2 0 2 7 2 14 2-13 2-1 2 3 2 9 2 7 2-21 2 18 2-14 2-10 2-16 2 13 2 1 2-31 2 29 2 1 2-19 2-2 2 17 2-17 2-27 2 7 2-1 2 1 2-23 2 35 2-14 2 9 2-2 2 12 2-12 2-5 2 16 2 10 2-18 2 19 2-11 2-8 2 24 2-25 2 21 2-25 2-9 2-39 2-16 2 1 2-30 2-22 2 1 2 22 2-8 2 16 2 23 2 5 2 14 2 19 2 12 2 11 2 33 2 5 2 15 2-11 2-16 2-21 2 1 2-29 2 5 2 4 2-1 2-18 2-31 2 4 2-25 2 7 2-21 2 0 2 8 2-29 2 5 2-35 2-16 2 17 2 17 2-13 2 20 2-4 2 26 2 24 2 2 2 7 2 4 2 32 2 17 2 11 2 0 2-46 2 4 2-50 2-30 2-20 2-61 2 4 2-3 2 3 2 8 2-12 2-28 2 14 2 4 2-3 2-19 2-6 2 22 2-5 2-10 2-38 2 18 2-70 2 8 2 7 2-44 2-11 2-26 2 18 2-39 2 7 2-12 2-23 2 12 2-36 2-2 2 1 2-6 2 7 2 3 2-15 2-5 2-1 2-1 2 11 2-13 2 5 2-8 2-10 2 17 2-23 2 9 2 15 2-34 2 5 2-24 2 5 2-17 2 43 2 39 2 47 2 57 2 26 2 44 2 24 2-3 2-8 2-11 2 19 2 16 2-14 2-12 2 23 2-24 2-3 2-8 2 2 2 6 2 24 2-29 2-30 2-16 2-17 2-37 2-1 2-14 2-25 2-18 2 4 2 32 2 69 2 35 2 7 2-17 2-39 2-31 2-40 2-45 2-28 2-37 2-39 2-57 2-49 2 16 2-18 2 13 2-3 2-14 2-15 2-3 2 3 2-29 2 10 2-2 2-5 2 13 2-24 2 18 2-21 2 2 2-3 2 16 2-15 2 10 2-13 2 24 2 9 2-18 2 15 2-12 2 18 2-23 2-18 2 33 2-18 2-10 2 4 2-10 2 16 2-10 2 28 2-10 2-25 2 2 2 11 2-14 2 21 2 1 2-7 2 3 2 12 2 11 2 2 2-15 2 9 2-16 2 13 2-14 2 19 2-21 2 4 2 11 2 7 2-21 2 10 2 9 2 1 2-11 2 11 2-3 2 19 2-8 2-20 2-9 2 26 2 12 2-10 2 9 2-15 2-9 2 24 2-6 2 7 2-22 2 18 2-8 2 16 2-14 2 0 2 1 2 21 2-12 2-8 2-2 2 0 2 28 2-35 2 11 2 17 2 7 2-14 2 11 2 1 2 3 2-10 2 19 2-15 2 15 2-28 2 23 2-23 2-2 2 23 2-14" fill="none" stroke="#707070" stroke-width="1.0" stroke-linejoin="round"/>
<path transform="matrix(.25 0 0 .1 0 0)" vector-effect="non-scaling-stroke" d="M287 1216l2-12 2 21 2-13 2-9 2 11 2 6 2-14 2 11 2 12 2-10 2-5 2-3 2 11 2-16 2-11 2 21 2-1 2 25 2-12 2-8 2 0 2 16 2-10 2 4 2 6 2 3 2 1 2 2 2 12 2 5 2-27 2 38 2-20 2 7 2-22 2 5 2-5 2-6 2 2 2-6 2-18 2 3 2 3 2-5 2-13 2-4 2-4 2-14 2-8 2 19 2-23 2-2 2-14 2 12 2-2 2-23 2 0 2-17 2 16 2-13 2-22 2 13 2-14 2-6 2-6 2-16 2-1 2 12 2-3 2-6 2 29 2-18 2-1 2 1 2 15 2 5 2-4 2 8 2-20 2 13 2 1 2 7 2 7 2-20 2 53 2-33 2 16 2 9 2 5 2-1 2-25 2 21 2 22 2-11 2 3 2-8 2 38 2-2 2-9 2 11 2 2 2-9 2 10 2 6 2 4 2 8 2-10 2-4 2 10 2-9 2-5 2 24 2-13 2 6 2 6 2-15 2 18 2-1 2-4 2 8 2-4 2-7 2 27 2 1 2 25 2 1 2 0 2 13 2 21 2 5 2 0 2 8 2 1 2 9 2 15 2 0 2 10 2-9 2-1 2 5 2 18 2 23 2 4 2-18 2-1 2 30 2 1 2-15 2 32 2-5 2 18 2-6 2 11 2-1 2-10 2 14 2-1 2 20 2-17 2-3 2 29 2 9 2 7 2 0 2-28 2 13 2 6 2 9 2-22 2 30 2 7 2-12 2 17 2 13 2-15 2 13 2-1 2-8 2-1 2-10 2 21 2-23 2-3 2 18 2-19 2 15 2 8 2-13 2 0 2 12 2 1 2-27 2 6 2 40 2-9 2-31 2 13 2 23 2-11 2 24 2-2 2 10 2-21 2 26 2 19 2-41 2 31 2-5 2-5 2-11 2-17 2 4 2 24 2 3 2 3 2-4 2-1 2-21 2-13 2 22 2 4 2-7 2-25 2 15 2-16 2 26 2-26 2 5 2 0 2-12 2 11 2-48 2-26 2 35 2-7 2-15 2-34 2-11 2-93 2 33 2-4 2 19 2-13 2 46 2-52 2 23 2 31 2-23 2-4 2 1 2 16 2 41 2-13 2 7 2-12 2 27 2-6 2-12 2 14 2 16 2 22 2-15 2 15 2 31 2-42 2-1 2 42 2-3 2-3 2 8 2-12 2 11 2-17 2 17 2-36 2 4 2 13 2-12 2 17 2-13 2-7 2 14 2-11 2 88 2-95 2 8 2 7 2 12 2 15 2-9 2 11 2-19 2-35 2 22 2-19 2-38 2 3 2 3 2-24 2 3 2-21 2-5 2-28 2 2 2-24 2 8 2-52 2 25 2 5 2-22 2-21 2-1 2-34 2-11 2-2 2-54 2 67 2-30 2 36 2-43 2 16 2 16 2 24 2-29 2-25 2 48 2-5 2-17 2 4 2 8 2 17 2 13 2-37 2 63 2-45 2-10 2 15 2-14 2 36 2-26 2-29 2-5 2-5 2-1 2-12 2-1 2 35 2-33 2-4 2 14 2-53 2-8 2 46 2-6 2 4 2 12 2-12 2 11 2-15 2-4 2 56 2-31 2 8 2 39 2-1 2-21 2 4 2 12 2-9 2 26 2-4 2 1 2 11 2 1 2 19 2-3 2-48 2 41 2-29 2-3 2 34 2-19 2 7 2 23 2-24 2-2 2 19 2 15 2-8 2-31 2 11 2 5 2 27 2-16 2-3 2 3 2-24 2 9 2-2 2-22 2 68 2-51 2-25 2 24 2-3 2 1 2-31 2 15 2 15 2-14 2-29 2 4 2 7 2-28 2-2 2 19 2-42 2-9 2-20 2-4 2 18 2-28 2-22 2-5 2 3 2 1 2-24 2 13 2-19 2 5 2-4 2-4 2-17 2-2 2 3 2-25 2 11 2-1 2 1 2-17 2-7 2-1 2-13 2 6 2 6 2-1 2-14 2 8 2-19 2 30 2-14 2 8 2-13 2 10 2 5 2 6 2-24 2 22 2-10 2-6 2 17 2-4 2 4 2 0 2 13 2 3 2 2 2-4 2 8 2 14 2 13 2-10 2 19 2-10 2-8 2 22 2-12 2 18 2 4 2-20 2-3 2 21 2-28 2-5 2 0 2-15 2-5 2 0 2-35 2 35 2-32 2-5 2 12 2-11 2-19 2 10 2-20 2 0 2-14 2 2 2 8 2-8 2-4 2 6 2-9 2-7 2 5 2 22 2-17 2 4 2-4 2 4 2 3 2-4 2-1 2-6 2-3 2 9 2-1 2-3 2-15 2-15 2 11 2-5 2-29 2 21 2-7 2 7 2-21 2 14 2 38 2-14 2 28 2 11 2 16 2 5 2 33 2 28 2 8 2 14 2 5 2 35 2 3 2 20 2-20 2 19 2-21 2 14 2-5 2-19 2 11 2 9 2-12 2-2 2-21 2-1 2-9 2 12 2 9 2-13 2-8 2-17 2 15 2-12 2-23 2-2 2 19 2-3 2 36 2-15 2-9 2 12 2 30 2-27 2 26 2 0 2 17 2-7 2-7 2 16 2-1 2 16 2-8 2 30 2-22 2 12 2-11 2 13 2 1 2 4 2 12 2-15 2-2 2 27 2-15 2-2 2 26 2-3 2-41 2 32 2 17 2 3 2-14 2 23 2-34 2 4 2 1 2-5 2 7 2-1 2-17 2 15 2-31 2 3 2 22 2-25 2 9 2-23 2-1 2 0 2 4 2-6 2 6 2 9 2 8 2-14 2 7 2 5 2-26 2-6 2 43 2-3 2-17 2 4 2-17 2-6 2 23 2-25 2 33 2-22 2 13 2 23 2-1 2-29 2 18 2-29 2 6 2 14 2 14 2-26 2 19 2-2 2-15 2 19 2 26 2-18 2 12 2 8 2-18 2 31 2 8 2 5 2 0 2-32 2-8 2-9 2-8 2-5 2 18 2 0 2-36 2 14 2-35 2 6 2 79 2-110 2 17 2-6 2-14 2-1 2-16 2 41 2 4 2 22 2-11 2 30 2 14 2 21 2 7 2-2 2-2 2-6 2 35 2 30 2 12 2-53 2 30 2 12 2-4 2 22 2 4 2-2 2 12 2-16 2 15 2 6 2 37 2-23 2 32 2 27 2 1 2 24 2-8 2 28 2 18 2 31 2 2 2 11 2-8 2 13 2 33 2-2 2 24 2 2 2 26 2 1 2-48 2 35 2-23 2-2 2-12 2 9 2-28 2 2 2-3 2 12 2 6 2-5 2-8 2-25 2-32 2 14 2-20 2-13 2-1 2-39 2-16 2-46 2 24 2-24 2-26 2 0 2-34 2-7 2 39 2-22 2-3 2-7 2-7 2-11 2 24 2-38 2 7 2-19 2-7 2-34 2 2 2 43 2-8 2-35 2-3 2 2 2-43 2 43 2-47 2-4 2-36 2 52 2-29 2 11 2-49 2 6 2-16 2-11 2 14 2-10 2-47 2-59 2-16 2-28 2-45 2-34 2-35 2-50 2-14 2-11 2-66 2-16 2-20 2-44 2 8 2-25 2 5 2-16 2-1 2-4 2-5 2-7 2-24 2 23 2-21 2-13 2-3 2 4 2-8 2 2 2-2 2 3 2-7 2 3 2-2 2-3 2 4 2-6 2-7 2 5 2-2 2-2 2-1 2 7 2-10 2 0 2-4 2 7 2-5 2-2 2-1 2 8 2 1 2-8 2 4 2 6 2 2 2-9 2 5 2 5 2-5 2 1 2 1 2-3 2 6 2 2 2-6 2 7 2 4 2-3 2 4 2-5 2 8 2-8 2 11 2-8 2-1 2 0 2 3 2 0 2 0 2 2 2 4 2 2 2-5 2 7 2-8 2 0 2 0 2 8 2-8 2 1 2 11 2 3 2-1 2-11 2 6 2 4 2-2 2-6 2 5 2-5 2 3 2 14 2-6 2-8 2 1 2 8 2-3 2 5 2-5 2 3 2 2 2-4 2-3 2 3 2 3 2 2 2 1 2 1 2 3" fill="none" stroke="#3030ff" stroke-width="1.0" stroke-linejoin="round"/>
<path transform="matrix(.25 0 0 .1 0 0)" vector-effect="non-scaling-stroke" d="M287 1210l2 4 2 5 2 0 2-1 2 2 2 1 2-1 2-2 2-3 2-3 2 3 2 5 2-2 2 1 2 2 2 0 2 0 2 1 2-3 2 2 2 2 2 8 2 4 2 0 2 2 2 6 2 5 2 0 2 0 2-3 2 1 2 1 2-1 2 2 2-10 2-4 2-3 2-3 2 0 2-9 2-6 2-4 2-4 2-5 2-7 2-1 2-8 2-7 2-1 2-2 2-4 2-10 2-8 2-9 2-9 2-6 2-2 2-5 2-8 2-8 2-9 2-2 2-11 2-4 2-9 2-8 2-5 2 7 2 3 2 11 2-1 2 0 2 4 2 4 2 2 2-3 2 7 2 4 2 3 2 1 2 4 2 0 2 3 2 3 2 8 2 3 2 4 2 7 2 5 2 4 2 3 2 7 2 2 2 6 2 9 2 4 2 2 2 0 2 5 2 1 2-3 2 0 2 0 2 5 2-2 2 7 2-1 2 3 2 3 2 2 2 3 2-1 2-5 2 2 2-2 2 1 2 5 2 2 2 0 2 1 2 8 2 8 2 5 2 9 2 6 2 10 2 7 2 12 2 10 2 8 2 7 2 9 2 11 2 10 2 7 2 7 2 10 2-1 2 6 2 2 2 8 2 4 2 4 2 2 2 5 2 7 2 10 2 0 2 4 2 16 2 6 2 3 2 5 2-4 2 10 2 4 2 0 2 7 2 1 2 1 2 5 2 4 2 2 2 4 2 0 2 0 2 7 2 8 2 4 2 5 2 2 2 3 2 1 2 4 2-2 2 1 2-1 2-4 2 5 2-1 2-3 2 0 2-3 2 1 2-3 2 2 2 0 2-4 2 4 2 2 2 0 2 5 2 5 2 9 2 0 2 6 2 3 2 4 2 3 2 3 2 4 2 0 2-2 2 1 2-1 2 0 2 2 2 0 2 3 2-1 2 0 2 2 2 1 2-2 2 0 2-3 2-2 2 0 2 2 2-2 2 2 2 4 2 4 2-2 2 1 2 0 2-7 2-8 2-9 2-8 2-9 2-11 2-9 2-15 2-14 2-15 2-15 2-13 2-20 2-17 2-14 2 0 2 1 2 7 2 5 2 1 2 10 2 1 2 5 2 3 2 5 2 7 2 3 2 5 2 4 2 3 2 9 2 6 2 5 2 4 2 5 2 6 2 5 2 9 2-1 2 1 2 6 2 3 2 7 2 2 2 1 2 0 2 2 2 0 2 1 2-2 2-1 2-2 2-5 2-5 2-1 2 3 2-5 2 4 2 0 2 5 2 3 2 0 2 2 2-8 2-8 2-8 2-15 2-6 2-10 2-9 2-13 2-8 2-8 2-10 2-12 2-8 2-6 2-10 2-8 2-13 2-11 2-9 2-11 2-4 2-11 2-13 2-9 2-15 2-10 2-9 2-2 2 1 2 0 2 3 2 1 2 7 2 4 2 1 2-1 2 8 2 5 2 3 2 2 2 2 2 0 2 7 2 1 2-9 2-6 2-11 2-1 2-1 2 1 2 2 2-8 2-3 2-2 2-3 2-6 2-3 2-3 2-1 2-6 2-5 2-6 2-6 2-4 2 3 2 6 2 6 2 8 2 6 2 5 2 1 2 5 2 7 2 0 2 1 2 2 2 3 2 4 2 3 2 7 2 0 2 2 2 2 2 0 2 5 2 3 2 3 2 1 2 4 2 3 2 1 2-3 2 5 2 3 2 2 2 2 2 2 2 2 2-1 2 1 2 1 2-4 2-4 2 3 2-1 2-3 2-4 2-9 2-5 2-1 2 3 2-7 2-3 2 5 2 0 2-1 2 1 2-3 2-3 2-1 2-4 2-12 2-5 2-14 2-10 2 0 2-11 2-7 2-12 2-10 2-10 2-10 2-6 2-4 2-7 2-5 2-11 2-2 2-5 2-3 2-8 2-7 2-2 2-5 2-6 2-9 2-6 2-4 2-4 2-7 2-7 2-4 2-8 2-1 2 0 2-1 2-7 2-3 2-1 2-1 2-1 2 3 2 1 2 1 2-5 2 5 2 1 2 2 2-1 2 0 2 3 2 5 2 6 2 3 2 10 2-2 2 2 2 7 2 3 2 3 2-1 2 8 2 0 2 6 2 5 2 7 2 8 2 1 2 2 2-4 2-10 2-2 2-6 2-4 2-8 2-5 2-6 2-5 2-7 2-2 2-7 2-11 2-2 2-5 2-7 2 3 2-6 2-9 2-6 2-3 2-6 2-2 2-2 2-8 2-1 2 3 2-1 2-1 2 3 2 2 2-3 2-1 2 0 2 1 2-1 2 5 2-2 2-4 2-4 2-10 2-7 2-1 2-8 2-6 2 0 2-3 2-5 2-4 2-6 2 12 2 15 2 23 2 16 2 13 2 15 2 15 2 11 2 12 2 19 2 10 2 13 2 17 2 18 2 11 2 17 2 9 2 1 2-3 2-5 2-3 2-3 2-6 2 1 2-5 2-2 2-6 2-9 2-6 2-4 2-1 2 1 2-4 2-4 2-8 2-3 2-2 2-10 2 6 2 8 2 10 2 1 2 4 2 4 2 1 2 2 2 3 2 6 2 6 2 9 2 3 2 1 2 6 2 6 2 6 2 7 2 3 2 6 2 0 2 3 2 4 2 2 2 3 2-2 2 1 2 4 2-1 2 1 2 10 2 3 2 0 2 0 2 7 2-5 2 3 2-1 2-5 2-1 2-6 2-3 2-3 2-3 2-3 2-3 2 0 2-5 2-5 2-4 2-4 2-7 2-8 2-4 2 3 2 0 2 1 2 10 2 4 2-1 2-1 2 4 2-2 2 4 2 1 2 4 2-3 2 2 2-6 2 0 2 3 2 1 2-6 2 2 2 2 2-1 2-2 2-1 2-1 2 3 2 1 2 3 2 1 2-3 2 4 2 9 2 0 2 4 2 1 2 2 2 4 2 6 2 6 2 4 2 6 2-1 2 5 2-6 2-7 2-7 2-9 2-3 2-9 2-11 2-6 2-7 2-6 2-2 2-7 2-6 2-1 2-11 2-6 2 3 2 13 2 15 2 6 2 10 2 8 2 8 2 7 2 6 2 11 2 12 2 7 2 12 2 9 2 7 2 2 2 10 2 9 2 5 2 5 2 3 2 8 2 6 2 8 2 6 2 2 2 3 2 13 2 9 2 15 2 16 2 10 2 15 2 13 2 14 2 11 2 12 2 14 2 17 2 13 2 13 2 8 2 12 2 10 2 12 2 7 2 0 2-2 2-3 2-3 2 0 2-6 2-3 2 0 2-4 2-1 2-2 2 2 2-2 2-9 2-12 2-16 2-15 2-16 2-12 2-15 2-21 2-19 2-22 2-12 2-17 2-16 2-21 2-15 2-3 2-6 2-6 2-6 2 1 2-7 2-9 2-6 2-5 2-5 2-5 2-7 2-5 2-3 2-9 2-1 2-4 2-13 2-9 2-5 2-4 2-4 2-14 2-11 2-10 2-6 2-13 2-11 2-11 2-11 2-16 2-12 2-12 2-35 2-31 2-35 2-30 2-37 2-30 2-30 2-34 2-30 2-30 2-34 2-28 2-29 2-20 2-7 2-6 2-8 2-10 2-3 2-11 2-6 2-5 2-6 2-13 2-9 2-7 2-7 2 0 2 0 2-1 2-1 2 1 2 1 2-7 2 4 2-4 2 0 2-7 2-3 2-4 2 2 2 1 2-2 2-2 2 0 2-5 2-2 2-1 2 4 2 1 2-3 2 2 2 3 2 5 2-2 2 2 2 6 2-1 2-2 2 2 2-1 2 0 2-1 2-1 2 3 2-1 2-2 2 1 2 0 2 2 2 4 2 5 2-3 2-1 2-4 2 2 2 2 2-1 2-1 2-1 2-3 2 4 2 6 2-2 2 5 2 0 2-3 2 3 2 2 2 2 2-1 2 5 2-1 2 2 2 1 2-3 2-4 2-4 2 0 2 3 2-4 2 0 2 6 2-3 2 3 2 2 2 3 2-3 2 2 2-2 2 5 2-2 2 2 2-1 2 2 2-4 2 3 2 3 2 1 2 5 2 1" fill="none" stroke="#0000ff" stroke-width="3.0" stroke-linejoin="round"/>
<line x1="71.5" y1="101.2" x2="525.5" y2="101.2" stroke="#4040ff" stroke-width="1.1" stroke-dasharray="5 3"/>
<line x1="71.5" y1="121.2" x2="525.5" y2="121.2" stroke="#000" stroke-width="1.4" stroke-dasharray="4 3"/>
<line x1="188.3" y1="33.5" x2="188.3" y2="168" stroke="#ff00ff" stroke-width="1.3" stroke-dasharray="1.6 2"/>
<line x1="430.1" y1="33.5" x2="430.1" y2="168" stroke="#00a000" stroke-width="1.2" stroke-dasharray="5 3"/>
<line x1="434.8" y1="33.5" x2="434.8" y2="168" stroke="#a8a8a8" stroke-width="3" stroke-dasharray="7 2"/>
<line x1="443.6" y1="33.5" x2="443.6" y2="168" stroke="#ff3030" stroke-width="1.6" stroke-dasharray="6 3"/>
<line x1="464.7" y1="33.5" x2="464.7" y2="168" stroke="#ff3030" stroke-width="1.0" stroke-dasharray="2 2"/>
<line x1="470.9" y1="33.5" x2="470.9" y2="168" stroke="#ff3030" stroke-width="1.6" stroke-dasharray="6 3"/>
<line x1="484.4" y1="33.5" x2="484.4" y2="168" stroke="#00a000" stroke-width="1.2" stroke-dasharray="5 3"/>
<line x1="489.2" y1="33.5" x2="489.2" y2="168" stroke="#a8a8a8" stroke-width="3" stroke-dasharray="7 2"/>
<line x1="76.8" y1="37.5" x2="94.5" y2="37.5" stroke="#ff2020" stroke-width="1.3" stroke-dasharray="4 2"/>
<text x="96.1" y="40.7" font-size="9.0" fill="#ff2020">t&#160;&#160;cs</text>
<line x1="76.8" y1="45.8" x2="94.5" y2="45.8" stroke="#00a000" stroke-width="1.3" stroke-dasharray="4 2"/>
<text x="96.1" y="49" font-size="9.0" fill="#00a000">t&#160;&#160;HT</text>
<text x="96.1" y="56.5" font-size="9.0" fill="#20ff20">t&#160;&#160;MVAB</text>
<line x1="76.8" y1="60.8" x2="94.5" y2="60.8" stroke="#a0a0a0" stroke-width="3" stroke-dasharray="5 1.5"/>
<text x="96.1" y="64" font-size="9.0" fill="#a0a0a0">t&#160;&#160;BLminmax</text>
<line x1="76.8" y1="69.1" x2="94.5" y2="69.1" stroke="#4040ff" stroke-width="1.1" stroke-dasharray="4 2"/>
<text x="96.1" y="72.3" font-size="9.0" fill="#0000ff">BL, 50% of BL</text>
<line x1="76.8" y1="76.6" x2="94.5" y2="76.6" stroke="#2020ff" stroke-width="1.1"/>
<text x="96.1" y="79.8" font-size="9.0" fill="#0000ff">BL&#160;&#160;brst</text>
<line x1="76.8" y1="84.1" x2="94.5" y2="84.1" stroke="#909090" stroke-width="1.5"/>
<text x="96.1" y="87.3" font-size="9.0" fill="#808080">|B|</text>
<path transform="matrix(.25 0 0 .1 0 0)" vector-effect="non-scaling-stroke" d="M285 2145l2-2 2 8 2-16 2 2 2 0 2 5 2-2 2 4 2-4 2-6 2 3 2 3 2-18 2 24 2-13 2 1 2 4 2-3 2-8 2 8 2 10 2-2 2 1 2-12 2 2 2 8 2 3 2-10 2-7 2-6 2 22 2-20 2 13 2 3 2 16 2-22 2-4 2 1 2-2 2 3 2-7 2-12 2-12 2 14 2-9 2 11 2-20 2 7 2-8 2-4 2 15 2-13 2-5 2 4 2-13 2 1 2-4 2 17 2-13 2 1 2 2 2-10 2-1 2-11 2 13 2-3 2-6 2 9 2-21 2 14 2-14 2 2 2 8 2 11 2-15 2 2 2 0 2 23 2-9 2 1 2 13 2-11 2-15 2 12 2-3 2 23 2-22 2 14 2-3 2 2 2 5 2 1 2-1 2-2 2 6 2 0 2 3 2 9 2 0 2 6 2-2 2 16 2-15 2 0 2 15 2-11 2 6 2 7 2-7 2-1 2 10 2-4 2-5 2-4 2 6 2-8 2 6 2-1 2 10 2 4 2-9 2 2 2-4 2-1 2 7 2 12 2 4 2 6 2-1 2-12 2 30 2 8 2 2 2 5 2 6 2 16 2-11 2 13 2 0 2 5 2-3 2 2 2-2 2 14 2-3 2-3 2 6 2 0 2 22 2-10 2 6 2-6 2 4 2 17 2-6 2 5 2 11 2 3 2-9 2-1 2-1 2-3 2 16 2-21 2 8 2-12 2 5 2 12 2 1 2 0 2-4 2-2 2 2 2 1 2 11 2 3 2-7 2-7 2-4 2 8 2-4 2-11 2 21 2-9 2-3 2-4 2 0 2 11 2-13 2 7 2 3 2 10 2-6 2-2 2-1 2 11 2 3 2-8 2 9 2-2 2-8 2 6 2 14 2 7 2-3 2-4 2-3 2 8 2-2 2-14 2 15 2-10 2 9 2-1 2 1 2 1 2-3 2-12 2 0 2 13 2-4 2-15 2-3 2 19 2 9 2-10 2-8 2 3 2-21 2 11 2 13 2-1 2-52 2-10 2-25 2-3 2-12 2-4 2-12 2 4 2-1 2-17 2 14 2 1 2 18 2 7 2-15 2 27 2 11 2-3 2 10 2 8 2-2 2 9 2 14 2-5 2 10 2-1 2 3 2-4 2 6 2 11 2-1 2-5 2-5 2 1 2 11 2 2 2-19 2 10 2-3 2-4 2-9 2 15 2-13 2-19 2 1 2 6 2 3 2 2 2 3 2 4 2 3 2 0 2 15 2-18 2 19 2 17 2-9 2 2 2 22 2-11 2-12 2-8 2-2 2-6 2-4 2-8 2 4 2-12 2-13 2-2 2 4 2-11 2-15 2 22 2-11 2-11 2-5 2 2 2 1 2-36 2-15 2-28 2-16 2-32 2-5 2 17 2 4 2 9 2-5 2 19 2-5 2 15 2-9 2 17 2-6 2 6 2 10 2-19 2 4 2 19 2-24 2 6 2 7 2 5 2-14 2 4 2-10 2 5 2 8 2-5 2-3 2 2 2-2 2-1 2-4 2-5 2 10 2-13 2 14 2 7 2-5 2 5 2-22 2 10 2-6 2 2 2-5 2 5 2 15 2 1 2 5 2 1 2-1 2-9 2 6 2 7 2 5 2-9 2 0 2 2 2 15 2-5 2-4 2-2 2 10 2-13 2 11 2-1 2-1 2 5 2 1 2 17 2-20 2 4 2-11 2-6 2 18 2 5 2-20 2 5 2 8 2-8 2-17 2 23 2-9 2 6 2-12 2 12 2 0 2-12 2 8 2-8 2 0 2-1 2 5 2 1 2 15 2-7 2-3 2 19 2-3 2 6 2-5 2 8 2-3 2-3 2 9 2 3 2 0 2-7 2-28 2 2 2-18 2-8 2-7 2-14 2-16 2-1 2-17 2 5 2 0 2-12 2-6 2 6 2 4 2-5 2-12 2-5 2 4 2-2 2 9 2-5 2 4 2-8 2 10 2-12 2 3 2-6 2 5 2 4 2-3 2 3 2-13 2 7 2 8 2-10 2-3 2-1 2-2 2 4 2 8 2-3 2 1 2-2 2 2 2 27 2-15 2 7 2 0 2 8 2 0 2 5 2 9 2-14 2 8 2-4 2 5 2-9 2 7 2-11 2-8 2 1 2-1 2-3 2 3 2 6 2-17 2 8 2-4 2-9 2-4 2 7 2-2 2-8 2-1 2-2 2-11 2 7 2-1 2 7 2-23 2 0 2 4 2-7 2-1 2 0 2-4 2-1 2 5 2-10 2 16 2-15 2 28 2-3 2-7 2 11 2-14 2-3 2-4 2-9 2-9 2-3 2-11 2-8 2-8 2-1 2 27 2 0 2-9 2 17 2 3 2-10 2 14 2 9 2 24 2 8 2 12 2 6 2 16 2-3 2 24 2 10 2-15 2 8 2 7 2 1 2-5 2-16 2 3 2-5 2 10 2-15 2-3 2-6 2 11 2-1 2-8 2-3 2 2 2 9 2-19 2 6 2 0 2 0 2 4 2-1 2-1 2 10 2 0 2-3 2 2 2-6 2 11 2-4 2 0 2 9 2-7 2 8 2 4 2 8 2-2 2 6 2 9 2-5 2-12 2-3 2 7 2 1 2-6 2 2 2 1 2 8 2 14 2 3 2-17 2 5 2-5 2-1 2 11 2 1 2-3 2 8 2-8 2 8 2-12 2 7 2-9 2 1 2 1 2-14 2 2 2 3 2-3 2 2 2-9 2-5 2 6 2 3 2-6 2 14 2-3 2 2 2 1 2-10 2 21 2-18 2 8 2 4 2-2 2 0 2-5 2 3 2 4 2 9 2-11 2 9 2 0 2-1 2-3 2 4 2-8 2 13 2 3 2-3 2 8 2 1 2-6 2 12 2-7 2 21 2-21 2 3 2 3 2 6 2 2 2-10 2-7 2 11 2-10 2-12 2-3 2-13 2 6 2 7 2-23 2-5 2 6 2-20 2 20 2-22 2 1 2 0 2 4 2-9 2-18 2-3 2 8 2-11 2 18 2 3 2 16 2 9 2-19 2 26 2 7 2-3 2 7 2 2 2 11 2 11 2 11 2 5 2-8 2 1 2 16 2-20 2 13 2 17 2 14 2-15 2 10 2-4 2 11 2 4 2 0 2 11 2 3 2 11 2 1 2 0 2 15 2 11 2-5 2 21 2 0 2 1 2 10 2 4 2 5 2 19 2 8 2-2 2 10 2 7 2 3 2-1 2-20 2 1 2-8 2-3 2 0 2-21 2-8 2 12 2-10 2 21 2-16 2 2 2 3 2-1 2-5 2 2 2-5 2-27 2-5 2-28 2-37 2 9 2-18 2 12 2 12 2-9 2-16 2 1 2 4 2 8 2-15 2 10 2-11 2-8 2-6 2 6 2-26 2-3 2 7 2-5 2-21 2-3 2-7 2 5 2-13 2 7 2-10 2-9 2-6 2-3 2 7 2 3 2 10 2 12 2 3 2 15 2 1 2 4 2-29 2-25 2-37 2-55 2-23 2-23 2-11 2-14 2-12 2-14 2-12 2-10 2-21 2-4 2-2 2-2 2 5 2-9 2 1 2-2 2 0 2-5 2 1 2-6 2-1 2-2 2-6 2 4 2 2 2-4 2-1 2 4 2-5 2 3 2-10 2 6 2-2 2 1 2 2 2-4 2-1 2-7 2 9 2 2 2-3 2-2 2 3 2 1 2 0 2 3 2-6 2-2 2 5 2 2 2-4 2 1 2-2 2-1 2 2 2-4 2 6 2 1 2 1 2-4 2 1 2-3 2 1 2 6 2 5 2-10 2 2 2 3 2-3 2 3 2-2 2 0 2 3 2-3 2-2 2 6 2-2 2-1 2 0 2 4 2-3 2 2 2 3 2-2 2 3 2-6 2 5 2 1 2 3 2-4 2 3 2-2 2-2 2 0 2 1 2 4 2-3 2 2 2 3 2 1 2 0 2 2 2-7 2 2 2 3 2 2 2-1 2-3 2 2 2-3 2 6 2-6 2 6 2 2 2 0 2-6 2 5 2-1" fill="none" stroke="#0000ff" stroke-width="1.0" stroke-linejoin="round"/>
<path transform="matrix(.25 0 0 .1 0 0)" vector-effect="non-scaling-stroke" d="M285 2138l2 12 2-9 2-12 2 1 2 11 2-4 2-9 2-4 2 6 2 1 2 7 2-10 2 8 2 3 2-19 2 6 2 13 2-14 2 2 2 6 2-12 2 2 2-9 2 14 2-8 2 0 2-15 2 23 2-3 2-10 2 12 2-24 2 14 2-11 2 28 2-35 2 8 2 3 2 9 2 0 2-4 2-5 2 15 2-19 2 6 2 9 2-21 2 3 2 11 2-5 2-12 2 8 2 12 2-15 2 6 2-5 2-6 2 14 2-5 2 1 2-10 2 1 2 0 2 1 2-6 2-2 2 11 2-16 2 3 2 0 2-2 2-5 2 2 2 10 2-4 2 2 2 20 2-16 2 20 2-1 2-7 2 10 2 5 2 15 2 1 2-4 2-1 2 0 2 14 2-4 2 12 2 4 2 8 2 8 2-3 2 4 2-2 2 9 2 0 2 7 2 0 2-12 2-3 2 16 2 5 2-11 2 16 2-7 2 0 2 5 2-10 2 0 2 10 2-4 2 10 2 1 2-15 2 13 2 9 2-18 2 14 2-6 2-3 2 20 2 1 2-9 2 0 2 13 2-1 2-7 2 7 2-5 2-2 2 7 2-6 2 12 2 1 2 5 2 5 2 13 2 10 2 3 2-3 2 16 2-3 2 5 2 12 2 13 2 5 2 6 2 11 2 3 2-1 2 13 2 0 2 5 2-1 2-7 2-12 2 6 2-4 2-2 2-4 2-8 2-6 2 12 2-2 2-5 2-5 2 10 2-11 2-7 2 2 2-8 2 2 2-6 2 0 2-5 2-6 2 4 2 2 2-15 2 0 2-5 2 10 2-9 2 5 2-13 2 9 2-11 2-2 2 10 2-2 2 3 2 13 2-1 2 12 2 13 2-16 2 6 2-4 2 7 2 15 2 3 2 4 2 5 2-7 2-7 2 17 2-6 2 4 2-8 2 4 2-9 2 2 2-2 2 2 2 6 2-6 2-24 2 17 2 0 2 4 2-5 2-7 2-1 2 2 2-4 2 13 2-6 2-5 2 5 2-8 2-31 2-15 2-18 2-22 2 7 2 6 2 17 2 8 2 10 2-2 2 19 2-5 2 13 2 18 2 7 2 7 2 15 2 1 2 0 2 8 2 4 2 14 2-7 2 0 2-4 2-5 2 26 2-12 2-20 2 15 2-7 2-11 2 11 2 2 2 1 2 2 2-13 2 4 2 3 2 0 2 6 2 6 2 15 2-9 2 6 2 29 2-1 2 3 2-13 2-11 2-8 2-4 2-7 2 4 2 1 2 7 2 1 2 7 2-13 2 5 2 8 2-2 2-17 2 20 2-1 2-2 2 2 2-1 2 14 2-2 2-4 2 2 2-5 2-14 2-5 2-3 2 8 2-9 2 5 2-8 2-8 2-10 2 3 2 19 2-14 2 4 2 9 2 15 2-4 2-1 2 8 2 8 2 6 2 3 2 0 2-17 2-14 2-13 2-14 2-1 2-5 2-12 2-15 2-4 2-15 2-9 2-10 2-7 2-15 2-15 2-27 2-22 2-14 2-23 2-19 2-33 2 0 2-18 2-15 2-3 2-16 2-7 2-5 2-1 2-23 2 2 2-6 2 18 2-1 2 9 2 13 2-9 2 12 2 0 2 11 2 14 2 4 2 11 2 2 2 2 2 7 2-1 2 2 2 0 2 12 2 7 2-8 2 4 2-12 2 6 2 7 2-10 2 10 2-6 2 4 2-7 2-6 2 8 2 4 2-9 2 5 2-8 2-5 2 1 2-17 2-15 2 0 2-12 2-13 2-1 2-32 2 13 2-1 2-19 2-23 2 12 2-2 2-16 2-7 2 5 2 7 2 6 2 9 2 0 2-15 2 16 2 4 2 16 2-12 2-1 2 10 2 7 2-9 2 27 2 0 2 15 2 7 2 8 2 14 2 10 2-5 2 11 2 15 2 3 2 4 2 13 2 2 2 11 2-10 2 31 2 19 2 1 2 8 2 6 2-1 2 10 2 0 2 2 2 5 2-2 2 7 2 6 2 5 2-3 2 7 2-1 2-12 2 4 2 14 2-3 2 14 2-10 2 9 2 2 2 1 2 4 2 6 2 4 2-1 2 7 2 2 2-6 2-4 2-2 2 0 2-2 2 3 2 15 2-12 2-8 2 2 2-2 2 3 2 0 2-17 2 19 2-21 2 4 2-7 2-7 2-2 2 22 2-4 2-17 2-3 2 15 2-20 2 3 2 3 2-14 2-2 2-15 2-18 2-1 2-4 2 22 2-1 2 17 2 5 2 8 2 16 2 3 2 6 2 20 2 0 2-13 2 13 2-20 2 7 2-2 2-9 2-7 2-1 2-4 2-8 2 3 2-19 2-11 2 4 2-24 2-15 2 0 2-10 2-10 2 3 2-23 2 12 2-3 2 3 2-10 2-1 2 0 2 3 2 4 2 4 2-22 2 18 2-5 2-2 2-7 2 8 2-14 2 19 2-14 2 5 2 0 2 4 2-12 2 13 2-3 2 7 2-8 2-2 2-11 2 11 2 13 2-13 2 0 2 3 2 7 2-16 2 23 2-7 2 1 2-4 2 13 2-15 2 9 2-4 2-9 2 8 2 6 2-6 2 0 2 3 2-5 2-1 2 8 2-6 2 10 2 2 2 4 2-2 2-7 2 5 2-10 2 11 2-5 2 12 2-13 2 7 2-5 2 10 2 1 2-9 2 20 2-8 2-11 2 4 2-4 2 0 2 13 2-11 2 17 2-12 2 9 2 15 2-12 2 3 2 10 2-9 2 7 2-8 2 4 2 5 2 0 2-5 2 0 2-4 2-6 2-10 2-12 2 4 2-5 2-18 2-15 2 7 2 2 2-7 2-20 2 10 2-20 2 9 2-9 2 9 2-3 2-5 2 7 2-9 2 1 2 12 2 9 2 25 2 14 2 7 2 7 2 23 2 12 2-5 2-11 2-9 2 3 2-20 2-4 2-17 2 1 2-7 2-7 2-1 2-15 2 0 2-12 2-8 2-11 2 20 2 7 2-4 2 8 2-2 2 15 2 0 2 16 2 2 2 10 2 4 2 6 2 23 2 10 2 28 2 2 2 20 2 7 2 7 2 5 2 13 2 7 2-3 2 2 2 1 2-10 2 12 2-7 2 6 2 10 2-21 2 12 2 5 2 5 2-5 2-5 2 9 2-2 2-16 2 10 2-13 2-7 2 10 2-1 2-9 2 24 2-17 2 19 2 11 2 18 2-7 2 21 2-9 2 16 2 7 2 5 2 17 2 14 2 5 2-6 2-8 2 6 2 12 2 4 2 3 2-2 2 0 2 12 2 1 2 12 2-10 2 14 2 7 2 7 2 4 2-35 2-21 2-11 2-27 2-29 2 17 2-5 2 4 2-5 2 7 2-5 2 0 2 13 2-19 2 12 2-13 2 20 2-10 2-5 2-4 2 12 2 21 2-2 2-5 2 4 2 39 2-14 2 1 2 14 2-11 2-7 2-26 2-17 2-5 2-9 2 8 2 0 2 5 2-10 2 1 2 6 2 2 2-11 2 4 2 7 2-3 2 14 2-6 2 5 2-4 2 4 2 2 2 6 2-3 2 9 2-9 2 4 2-4 2-3 2 4 2-3 2-5 2-2 2 2 2-5 2 2 2-5 2 1 2-4 2 0 2 3 2-1 2-7 2 0 2-4 2 5 2 2 2-5 2 0 2 3 2-3 2 2 2 3 2-3 2 1 2 2 2-4 2 1 2-2 2-2 2 6 2-8 2 4 2-4 2 1 2-1 2 2 2 2 2 2 2-9 2 6 2-2 2-1 2 1 2 1 2-1 2 0 2 5 2-5 2 0 2-4 2 6 2-5 2 1 2-2 2 2 2-2 2-1 2-1 2 3 2 0 2 2 2 2 2 0 2-6 2 0 2 3 2-4 2 5 2-1 2-5 2 4 2 2 2-3 2-2 2 0 2 2 2-3 2 2 2-2 2-1 2-1 2 4 2-4 2 3 2-6 2 4 2 1 2 0 2 2 2-2 2 0 2-2 2-2 2-1 2 1" fill="none" stroke="#20e020" stroke-width="1.0" stroke-linejoin="round"/>
<path transform="matrix(.25 0 0 .1 0 0)" vector-effect="non-scaling-stroke" d="M285 2161l2 5 2-3 2-1 2 4 2-6 2 4 2-1 2 2 2-2 2-6 2 6 2-2 2 17 2-2 2-12 2-1 2 6 2-9 2 18 2-8 2-2 2 10 2 2 2-10 2 3 2-21 2 3 2-3 2-9 2 13 2 7 2-27 2 2 2 8 2-12 2-1 2-9 2 5 2-12 2 8 2-4 2-4 2-11 2 1 2 1 2-11 2-4 2-11 2 10 2 3 2 7 2-13 2-1 2 17 2 0 2-14 2 4 2-8 2 12 2 9 2-3 2-11 2 9 2-6 2 7 2-5 2 8 2 4 2-5 2 0 2 1 2 4 2-8 2 2 2 0 2 10 2-7 2 3 2-5 2-4 2 10 2 7 2-2 2 1 2 4 2 9 2 2 2 0 2-3 2 4 2 31 2-22 2 8 2 1 2-8 2 20 2-5 2-4 2 14 2-7 2 5 2-10 2 8 2 5 2-7 2-6 2 4 2 10 2-14 2 1 2 14 2-4 2 0 2-3 2 6 2 3 2-2 2-14 2 15 2-14 2 21 2-13 2 7 2-2 2-6 2 12 2-6 2 13 2-9 2-2 2 14 2-7 2-9 2-7 2 15 2-6 2-2 2-11 2-4 2-4 2 12 2-11 2 4 2-20 2 19 2-13 2-15 2 7 2 9 2 6 2-29 2 9 2 10 2-11 2 8 2-4 2 7 2-10 2 8 2-3 2 6 2-1 2 7 2-5 2 10 2-22 2 9 2 7 2-4 2-18 2 19 2-5 2 20 2-17 2 5 2-10 2 11 2-23 2 12 2 4 2-8 2 17 2-6 2 11 2-20 2 4 2 10 2-8 2 9 2-1 2-9 2 6 2 3 2-2 2-3 2-2 2 2 2 8 2 7 2-22 2 2 2 5 2 10 2-17 2 20 2-2 2-31 2 18 2-1 2-8 2-11 2 13 2-6 2 9 2-5 2-11 2 18 2-2 2-3 2-11 2 4 2-7 2-7 2-13 2 11 2-18 2 14 2-18 2 7 2-7 2-4 2 23 2 24 2 35 2 15 2 14 2 11 2-8 2 2 2 9 2 17 2-4 2 7 2 4 2 1 2 16 2 1 2-6 2 4 2 8 2-13 2-1 2-3 2-11 2-7 2-12 2-9 2-5 2 16 2-13 2 7 2 1 2 3 2-4 2-8 2 26 2-20 2 12 2-11 2 13 2-11 2 20 2-8 2-12 2 22 2-22 2 11 2 10 2-15 2 6 2-13 2-9 2 7 2-13 2-8 2 4 2-13 2-12 2-1 2 16 2-6 2-30 2 10 2-2 2-15 2 2 2-14 2 3 2 7 2-10 2-3 2-3 2-9 2 0 2 1 2 0 2-7 2 16 2-26 2 2 2 1 2 6 2-16 2 9 2-9 2-2 2 7 2 1 2 0 2-16 2 14 2-2 2-6 2 0 2-4 2-3 2 11 2 12 2-6 2 11 2 11 2-9 2 27 2-1 2 14 2-5 2 15 2 42 2 40 2 29 2 22 2-14 2-18 2 1 2-13 2-8 2-12 2-11 2-13 2 0 2-9 2-7 2-17 2-1 2-1 2-14 2 8 2 13 2-18 2 0 2 2 2-4 2 9 2-7 2-1 2-5 2 8 2-5 2-2 2 0 2 12 2-11 2 1 2 7 2-10 2 6 2-13 2 10 2-19 2 15 2-5 2-2 2 11 2-3 2 0 2 4 2-7 2 0 2-5 2 12 2-7 2-12 2-1 2 0 2-1 2 13 2-7 2 4 2-13 2 0 2 12 2-22 2 5 2-7 2 9 2 21 2-23 2 11 2 4 2-16 2-1 2 6 2 2 2-16 2 5 2 15 2-17 2 8 2 5 2-7 2 3 2-1 2 1 2 3 2-5 2 9 2 4 2 8 2-6 2 0 2 19 2-11 2 1 2 0 2 5 2-4 2 4 2 0 2-1 2 7 2-4 2 22 2-17 2 21 2-7 2 5 2 6 2-20 2 21 2-9 2-7 2-2 2 6 2-13 2 21 2-13 2 5 2-5 2-4 2 0 2-4 2 13 2-9 2 3 2-1 2 0 2-2 2 5 2-14 2-3 2 5 2-2 2 2 2 7 2-2 2-2 2-9 2 8 2-2 2 3 2-5 2-3 2 3 2-5 2-2 2 7 2-1 2 6 2-6 2-9 2 17 2 1 2-18 2 3 2 10 2-5 2-11 2 17 2-7 2 1 2 5 2-12 2 0 2 8 2 2 2-6 2 7 2-3 2 6 2-9 2 6 2 11 2-10 2 3 2 8 2 0 2-2 2-2 2 22 2-6 2 12 2-13 2 9 2 1 2 4 2-11 2 14 2-13 2-1 2-12 2 12 2-23 2 18 2-19 2-4 2-6 2 9 2-18 2-2 2 1 2 10 2 2 2-7 2 9 2 8 2-4 2-1 2-8 2 18 2-4 2-13 2 6 2-12 2 22 2-10 2 8 2 12 2-17 2 16 2-9 2-7 2 12 2-8 2-9 2 5 2-10 2-4 2 1 2 6 2-19 2-1 2 11 2-17 2 5 2-3 2-9 2 1 2 3 2 1 2 5 2-2 2 6 2-4 2-4 2 8 2-1 2 4 2-6 2 1 2 1 2-8 2 13 2-7 2 0 2 4 2 16 2-18 2 16 2-23 2 13 2 15 2-11 2 2 2-5 2-8 2 16 2 4 2 1 2 7 2-13 2 5 2-17 2 13 2 4 2 6 2 3 2-3 2-8 2-5 2 0 2-1 2 0 2 6 2-10 2-11 2 2 2 26 2-11 2-13 2 0 2 5 2-3 2-1 2-16 2 3 2 9 2 2 2-3 2 7 2-11 2 0 2-2 2 5 2-11 2 16 2-18 2 16 2 4 2 10 2-13 2 5 2 9 2 11 2 5 2-18 2 17 2 0 2-3 2-4 2-7 2-2 2-16 2 14 2-25 2 11 2-9 2 4 2-12 2 8 2-7 2-2 2 5 2 6 2-3 2 11 2 4 2 7 2 1 2-12 2 20 2 7 2 3 2 4 2 10 2 0 2 14 2 10 2-12 2 2 2-17 2-2 2 0 2-8 2 3 2-3 2 6 2-17 2 7 2-18 2 1 2 4 2-7 2-21 2 15 2 4 2-13 2 7 2 1 2 4 2 6 2-17 2 3 2 16 2-9 2-4 2-18 2-1 2-30 2 11 2-16 2-11 2-5 2 6 2-1 2-10 2 4 2 12 2-9 2 8 2 5 2 6 2-7 2-14 2 20 2 4 2-9 2-2 2-3 2 7 2-3 2 0 2-3 2 7 2-7 2 1 2 2 2 13 2 11 2 18 2 2 2 3 2 15 2 10 2 4 2 17 2 1 2 19 2 13 2-12 2-8 2-4 2-7 2-18 2-1 2-8 2 2 2-3 2 1 2-19 2-12 2 3 2-8 2-4 2-7 2-3 2-13 2 0 2-1 2-11 2-4 2-10 2 17 2 1 2 4 2 10 2 7 2 9 2 5 2 21 2 3 2 5 2 2 2-3 2 6 2-6 2 2 2-4 2 12 2 0 2 0 2 0 2-14 2 11 2 4 2-2 2-6 2 7 2 1 2-2 2-1 2 2 2-5 2 8 2-3 2 1 2 0 2 1 2 4 2-6 2 1 2-4 2 3 2-3 2 7 2-2 2-2 2 4 2-5 2 2 2-1 2 0 2 1 2-1 2 1 2-2 2-1 2 7 2-2 2-2 2 1 2-3 2 4 2-5 2 5 2 0 2-1 2 2 2-2 2 4 2-3 2-5 2 1 2 7 2-5 2 2 2-2 2 5 2-1 2-1 2-3 2 0 2 4 2-4 2-4 2 9 2-2 2-5 2 4 2 0 2 0 2 3 2-1 2-5 2 2 2 2 2 0 2-3 2 4 2-5 2 4 2-6 2 5 2 4 2-1 2-6 2-5 2 8 2 2 2-3 2 1 2-4 2 2 2-2 2 0 2 2 2 4 2-2 2-3 2 2 2-2 2 0 2 2 2-4 2 5 2-3 2 5 2-5 2 2" fill="none" stroke="#ff1010" stroke-width="1.0" stroke-linejoin="round"/>
<line x1="71.5" y1="213.9" x2="525.5" y2="213.9" stroke="#000" stroke-width="1.6" stroke-dasharray="4 3"/>
<line x1="188.3" y1="176.7" x2="188.3" y2="245" stroke="#ff00ff" stroke-width="1.3" stroke-dasharray="1.6 2"/>
<line x1="430.2" y1="176.7" x2="430.2" y2="245" stroke="#00a000" stroke-width="2.6" stroke-dasharray="5 3"/>
<line x1="443.8" y1="176.7" x2="443.8" y2="245" stroke="#ff3030" stroke-width="1.6" stroke-dasharray="6 3"/>
<line x1="465.2" y1="176.7" x2="465.2" y2="245" stroke="#ff00ff" stroke-width="1.3" stroke-dasharray="1.6 2"/>
<line x1="470.9" y1="176.7" x2="470.9" y2="245" stroke="#ff3030" stroke-width="1.6" stroke-dasharray="6 3"/>
<line x1="475.4" y1="176.7" x2="475.4" y2="245" stroke="#0000ff" stroke-width="1.3" stroke-dasharray="1.6 2"/>
<line x1="484.4" y1="176.7" x2="484.4" y2="245" stroke="#00a000" stroke-width="1.2" stroke-dasharray="5 3"/>
<line x1="76.8" y1="188.8" x2="94.5" y2="188.8" stroke="#0000ff" stroke-width="1.0"/>
<text x="96.6" y="192.5" font-size="9.2" fill="#0000ff">B<tspan dy="2.8" font-size="6.6">L</tspan></text>
<line x1="76.8" y1="211" x2="94.5" y2="211" stroke="#20e020" stroke-width="1.0"/>
<text x="96.6" y="214.7" font-size="9.2" fill="#20e020">B<tspan dy="2.8" font-size="6.6">M</tspan></text>
<line x1="76.8" y1="234" x2="94.5" y2="234" stroke="#ff1010" stroke-width="1.0"/>
<text x="96.6" y="237.7" font-size="9.2" fill="#ff1010">B<tspan dy="2.8" font-size="6.6">N</tspan></text>
<path transform="matrix(.25 0 0 .1 0 0)" vector-effect="non-scaling-stroke" d="M288 3584l2 14 2-7 2 14 2 4 2 3 2 13 2 8 2 4 2 4 2 8 2 6 2 15 2 1 2 8 2 2 2 9 2-6 2 5 2 3 2 1 2 11 2 2 2 5 2 2 2 9 2-11 2 13 2-5 2-5 2 1 2 3 2 1 2-8 2 4 2-3 2 2 2-1 2-3 2-8 2-6 2 14 2-15 2 9 2-6 2 8 2-12 2-3 2-11 2 14 2-5 2-5 2 2 2 12 2-4 2 4 2-5 2 5 2 5 2-6 2 11 2-8 2 14 2-13 2 2 2 5 2-2 2 3 2 2 2 9 2-9 2 12 2 0 2-2 2-1 2 14 2-24 2 14 2 4 2 6 2-1 2 7 2-1 2 5 2-8 2 8 2 9 2-12 2 7 2-7 2 12 2-5 2 10 2-9 2 9 2-4 2 7 2 5 2 12 2-14 2-3 2 6 2-8 2-15 2 7 2-6 2 2 2-5 2-16 2 4 2 11 2-8 2-13 2-1 2-5 2-13 2-19 2 16 2-16 2-5 2-7 2-5 2-7 2 5 2-18 2-1 2-10 2 7 2-7 2-14 2 22 2-1 2-7 2-15 2 17 2-7 2-7 2 0 2 10 2-12 2 2 2-4 2 7 2-10 2 8 2-7 2 10 2-19 2 0 2 1 2-4 2-18 2 6 2-2 2-2 2-9 2 6 2-5 2-17 2-12 2 0 2-3 2-4 2-20 2-4 2-15 2-1 2 6 2-1 2-15 2-7 2-2 2 12 2-6 2-7 2-6 2 10 2 23 2 30 2 6 2 19 2 22 2 9 2 9 2-10 2 9 2-3 2 11 2-3 2-3 2 3 2 5 2 10 2-3 2 0 2 1 2 6 2 9 2 14 2 15 2 7 2 16 2-5 2 14 2 9 2 5 2 1 2 18 2 19 2-7 2 17 2-11 2-17 2-8 2-13 2-9 2-2 2-13 2-11 2-15 2-13 2-8 2-20 2-8 2-5 2-22 2-2 2-13 2-13 2-12 2-16 2 4 2-38 2-7 2-21 2-1 2-11 2-8 2-30 2-5 2-24 2-9 2-10 2-8 2 17 2 6 2 16 2 11 2-4 2 17 2-1 2-13 2-1 2-4 2-11 2-7 2 7 2-15 2-1 2-5 2-4 2 22 2-5 2 6 2 2 2 10 2 12 2 5 2 9 2 9 2-2 2 13 2 12 2 8 2 4 2 17 2 4 2 1 2-28 2-10 2-29 2-6 2-9 2-6 2 15 2 8 2 7 2 16 2 10 2 11 2 5 2 11 2-9 2 0 2-25 2-15 2-9 2-21 2-16 2 12 2 25 2 16 2 19 2 1 2-12 2-39 2-14 2-22 2-18 2-25 2-28 2-18 2-14 2-25 2-31 2-18 2-24 2 3 2 8 2 30 2 20 2 8 2 33 2 6 2 29 2 34 2 22 2 32 2 0 2-3 2-4 2-15 2 5 2-7 2-12 2-2 2-7 2-16 2 1 2-3 2-1 2 10 2-5 2-7 2 23 2 3 2 13 2-9 2 11 2-7 2 2 2 9 2 7 2 2 2 11 2 4 2-11 2 8 2 11 2-6 2-19 2-1 2 13 2-21 2 10 2-23 2 7 2-8 2 5 2 6 2-4 2 4 2 2 2 4 2-7 2-13 2 3 2 15 2 4 2 9 2-3 2 6 2-2 2 10 2 12 2 3 2 1 2 25 2-3 2 8 2 6 2 7 2 1 2 20 2-1 2 5 2 22 2 1 2 11 2-8 2 30 2-16 2-8 2-2 2-10 2-6 2 2 2-1 2-17 2-5 2-6 2-6 2-3 2 26 2-11 2 13 2 24 2-5 2 2 2 15 2 22 2-6 2 1 2 16 2 8 2-4 2 10 2-12 2 20 2 2 2 2 2-1 2 16 2-1 2 7 2-8 2 12 2 9 2 1 2-11 2 9 2 0 2 5 2 3 2 11 2-2 2-10 2 7 2-9 2-4 2-4 2 6 2 17 2-11 2 2 2 4 2-19 2 11 2 1 2 5 2-10 2-18 2-5 2 7 2 2 2-7 2 3 2 12 2-5 2 13 2-1 2 0 2-1 2-31 2-15 2-11 2-25 2 5 2-14 2-18 2-14 2-16 2-25 2-7 2-15 2-10 2-19 2-11 2-18 2-32 2-8 2-7 2-22 2-7 2 5 2-11 2 7 2 9 2-4 2 4 2 12 2 6 2 2 2 19 2 5 2-4 2 26 2-5 2 14 2 10 2 3 2 0 2 0 2 18 2 11 2-1 2 11 2 17 2-7 2 38 2-16 2 7 2 32 2 19 2 31 2 7 2 34 2 12 2 31 2 29 2 10 2 8 2-10 2 8 2-9 2 3 2 2 2-8 2 4 2 2 2 15 2-9 2-8 2 0 2 8 2-6 2 7 2-9 2-1 2 11 2-18 2 24 2-20 2-5 2 11 2 3 2 1 2-5 2-7 2 3 2 2 2 4 2 1 2-2 2 1 2-19 2 11 2 10 2-10 2 3 2-4 2 5 2-1 2-7 2 17 2 3 2-6 2-5 2 12 2-3 2 15 2-5 2-6 2 7 2 19 2-10 2-1 2 6 2-3 2 15 2-11 2 15 2 6 2 2 2-4 2 1 2 6 2 4 2 4 2 0 2 4 2-2 2-3 2 10 2-6 2 0 2 4 2-16 2-2 2 0 2 6 2-16 2 2 2 8 2-17 2 12 2 4 2-9 2-10 2 1 2-6 2 1 2 2 2-4 2-24 2 4 2 2 2-8 2-17 2 11 2-2 2-8 2-5 2 1 2-20 2 2 2-1 2 13 2-31 2 4 2 0 2-11 2-5 2-3 2-24 2 9 2-12 2 7 2-12 2-7 2-5 2-14 2 12 2-18 2 7 2-3 2 7 2-8 2-7 2 7 2 5 2-19 2 13 2-15 2 1 2-2 2-7 2 14 2-7 2-3 2-14 2 10 2-12 2 12 2-21 2 13 2-16 2-2 2 9 2 2 2-1 2-11 2-3 2 9 2-13 2 0 2 10 2 0 2-2 2 7 2-18 2 13 2 11 2-16 2-6 2 18 2-1 2 8 2 0 2-4 2 5 2-3 2 27 2-18 2 3 2-6 2 2 2 2 2-17 2 2 2-3 2 5 2-20 2-1 2 4 2-24 2 5 2-4 2-12 2 1 2-9 2-7 2-14 2-22 2-15 2-1 2-29 2-6 2-17 2-16 2-1 2-2 2 14 2 20 2 11 2-10 2 12 2 1 2-4 2 15 2-3 2-4 2-10 2 10 2-5 2 16 2 22 2 22 2 9 2 15 2 14 2 9 2-18 2-30 2 3 2-8 2-27 2-12 2 3 2-20 2-6 2 30 2 23 2 13 2 22 2 27 2 20 2 33 2 18 2 16 2 14 2 22 2 11 2 16 2 0 2 1 2 11 2 5 2-17 2 16 2 3 2-4 2 1 2 18 2-4 2 21 2-34 2-27 2-1 2 13 2-5 2 0 2-86 2-38 2 47 2-19 2-16 2 18 2-64 2-27 2 92 2-51 2-21 2 24 2 33 2-59 2 36 2-37 2 55 2-40 2 33 2-26 2 22 2-3 2-11 2 20 2 22 2-16 2-5 2 31 2 32 2-37 2-20 2 7 2 28 2 47 2-67 2 62 2-31 2-9 2 8 2 49 2-39 2 53 2 22 2-73 2-7 2-9 2 54 2-48 2-3 2-14 2 47 2-29 2-11 2-72 2 13 2 11 2-12 2 2 2 28 2-26 2 2 2-26 2-8 2-3 2 9 2-42 2 27 2 15 2-14 2 10 2-49 2 33 2 14 2 30 2-26 2-8 2-8 2 18 2-13 2 34 2-32 2 33 2-33 2-20 2 2 2 64 2-38 2 4 2 82 2-97 2 31 2-33 2 21 2 31 2-20 2 60 2-74 2 8 2-17 2 39 2-19 2 18 2-16 2 35 2-28 2 10 2-16 2-26 2 10 2-10 2 4 2-76 2 82 2-46" fill="none" stroke="#000" stroke-width="1.0" stroke-linejoin="round"/>
<line x1="188.3" y1="313.4" x2="188.3" y2="381.8" stroke="#ff00ff" stroke-width="1.3" stroke-dasharray="1.6 2"/>
<line x1="230.3" y1="313.4" x2="230.3" y2="381.8" stroke="#00c0ff" stroke-width="1.3" stroke-dasharray="1.6 2"/>
<line x1="430.2" y1="313.4" x2="430.2" y2="381.8" stroke="#00a000" stroke-width="1.2" stroke-dasharray="5 3"/>
<line x1="443.8" y1="313.4" x2="443.8" y2="381.8" stroke="#ff3030" stroke-width="1.6" stroke-dasharray="6 3"/>
<line x1="465.2" y1="313.4" x2="465.2" y2="381.8" stroke="#ff00ff" stroke-width="1.3" stroke-dasharray="1.6 2"/>
<line x1="470.9" y1="313.4" x2="470.9" y2="381.8" stroke="#ff3030" stroke-width="1.6" stroke-dasharray="6 3"/>
<line x1="475.4" y1="313.4" x2="475.4" y2="381.8" stroke="#0000ff" stroke-width="1.3" stroke-dasharray="1.6 2"/>
<line x1="484.4" y1="313.4" x2="484.4" y2="381.8" stroke="#00a000" stroke-width="1.2" stroke-dasharray="5 3"/>
<line x1="76.8" y1="317" x2="94.5" y2="317" stroke="#00a000" stroke-width="1.2" stroke-dasharray="4 2"/>
<text x="94.1" y="320.2" font-size="9.0" fill="#00a000">t&#160;&#160;HT</text>
<line x1="76.8" y1="324" x2="94.5" y2="324" stroke="#00c0ff" stroke-width="1.2" stroke-dasharray="1.5 1.5"/>
<text x="94.1" y="327.2" font-size="9.0" fill="#00b0ff">t&#160;&#160;vmax</text>
<line x1="76.8" y1="331" x2="94.5" y2="331" stroke="#ff2020" stroke-width="1.2" stroke-dasharray="4 2"/>
<text x="94.1" y="334.2" font-size="9.0" fill="#ff2020">t&#160;&#160;cs</text>
<line x1="76.8" y1="338" x2="94.5" y2="338" stroke="#0000ff" stroke-width="1.2" stroke-dasharray="1.5 1.5"/>
<text x="94.1" y="341.2" font-size="9.0" fill="#0000ff">t&#160;&#160;dvmax</text>
<line x1="76.8" y1="345.2" x2="94.5" y2="345.2" stroke="#000" stroke-width="1.2"/>
<text x="94.1" y="348.4" font-size="9.0" fill="#806000">|V|</text>
<path transform="matrix(.25 0 0 .1 0 0)" vector-effect="non-scaling-stroke" d="M288 4069l2 1 2-12 2 13 2-2 2-5 2 8 2-7 2-4 2 11 2 0 2-3 2-3 2 11 2-14 2 5 2-2 2 0 2 4 2-9 2 9 2-1 2-4 2-2 2-4 2 9 2 9 2-14 2-2 2 2 2 6 2 1 2-1 2-2 2-7 2 13 2-8 2 4 2-1 2-1 2 5 2-4 2 12 2-4 2-3 2-7 2 6 2-3 2 3 2-4 2-7 2 0 2 6 2 6 2-4 2-3 2 3 2 6 2-6 2 0 2 4 2 4 2-10 2 5 2 3 2-2 2 6 2 3 2-9 2 20 2-12 2 8 2-4 2-15 2 4 2 9 2 3 2 1 2-15 2 9 2 7 2 5 2-4 2-10 2 5 2 2 2 0 2 9 2 2 2 2 2-13 2 0 2 0 2 8 2 4 2-8 2 11 2 1 2-1 2 5 2-7 2 0 2 17 2-10 2 10 2-9 2-8 2 18 2-10 2 4 2 11 2-13 2 9 2 10 2 6 2-16 2 8 2-4 2 13 2-9 2 13 2-12 2 16 2 7 2-1 2-1 2 1 2-2 2 17 2 4 2 0 2-7 2 6 2 8 2 14 2 5 2-2 2-11 2 0 2 15 2 6 2 11 2-12 2 16 2-6 2 5 2-11 2-3 2-5 2-1 2-9 2-3 2 3 2-13 2 2 2-5 2-2 2 7 2-8 2 18 2-17 2 9 2 14 2-16 2 18 2 7 2-7 2 21 2 6 2-7 2-4 2-1 2-5 2-14 2-6 2 9 2-17 2-9 2-10 2-12 2 20 2 6 2 3 2 3 2 10 2 1 2 3 2 2 2 3 2 7 2-1 2 15 2-1 2 2 2 16 2-12 2-16 2-3 2 1 2-7 2 6 2-8 2-3 2-4 2-5 2-21 2-2 2-2 2 4 2-6 2 9 2 0 2 4 2-8 2 7 2 11 2-9 2 6 2 19 2 6 2-20 2 14 2-3 2-5 2 7 2 8 2 1 2-3 2 7 2-13 2 3 2 11 2-1 2-4 2 2 2 13 2 6 2 6 2 2 2 6 2 1 2 8 2 2 2 1 2 14 2 1 2 7 2 15 2 5 2 16 2 6 2-6 2 7 2 4 2 2 2 25 2 1 2-1 2 16 2-13 2-6 2-13 2-18 2 12 2-15 2-11 2 6 2-6 2-15 2-1 2-3 2-9 2-10 2 6 2-17 2 5 2 0 2 6 2 17 2-4 2 14 2 8 2-3 2-14 2-16 2-8 2-7 2-3 2 0 2-8 2-8 2 6 2 2 2 10 2 7 2 18 2-8 2 6 2 5 2 3 2 16 2-7 2 26 2-16 2 16 2 12 2 5 2 15 2 0 2 28 2 12 2 20 2 4 2 14 2 3 2 27 2 4 2 12 2-4 2-30 2-6 2-17 2-14 2-21 2-3 2-2 2 5 2 0 2-12 2 6 2-8 2-6 2 1 2 7 2-2 2-16 2 12 2-6 2 4 2-4 2-10 2-2 2 7 2-1 2 0 2-9 2 14 2-24 2 21 2-10 2-4 2 13 2-13 2 0 2-5 2 6 2 0 2 6 2-2 2-6 2-4 2 2 2-2 2 3 2-1 2 6 2-1 2-5 2 7 2-15 2 14 2-14 2 13 2 6 2-2 2-10 2 3 2-2 2-4 2 2 2-7 2-3 2-3 2 6 2-10 2-6 2 12 2-11 2-7 2 11 2-10 2-2 2-4 2 8 2-2 2 1 2-12 2 17 2-19 2-5 2 3 2-10 2 5 2 0 2 3 2 5 2-6 2-6 2 0 2-10 2 13 2-11 2-2 2-9 2-5 2-4 2-3 2-1 2 5 2-12 2 4 2-1 2-6 2-1 2-22 2 12 2-7 2 8 2-10 2-7 2-1 2 0 2 9 2-14 2 3 2-6 2 4 2-1 2-2 2-3 2 9 2-3 2-5 2-7 2 5 2-3 2 4 2-3 2-8 2 7 2 7 2-9 2-11 2 4 2 7 2 1 2-17 2 15 2 3 2-2 2-18 2 8 2 7 2-4 2-8 2-4 2 5 2 2 2-10 2 5 2 8 2-1 2-7 2 6 2-10 2-4 2-1 2-3 2 8 2 5 2 18 2-2 2 11 2-16 2 15 2-3 2-2 2 16 2-4 2 13 2 15 2-11 2 2 2-1 2-7 2 6 2-5 2 5 2-5 2 2 2 0 2 2 2-15 2 0 2 12 2-5 2-11 2 18 2-34 2 13 2-1 2 3 2-12 2 6 2 0 2 4 2-20 2 6 2 0 2 12 2 7 2 0 2-13 2 8 2-1 2 2 2-2 2 7 2 0 2 6 2-3 2 18 2-24 2 8 2 2 2 6 2 7 2-8 2 16 2-18 2 5 2-11 2-7 2 18 2-22 2-6 2 2 2 4 2 5 2-12 2-2 2 1 2 1 2-12 2 5 2-6 2 5 2 0 2 3 2 4 2-15 2-2 2 5 2-1 2 0 2 4 2-4 2 3 2-5 2-1 2-5 2 8 2-4 2 6 2-4 2-7 2 4 2-3 2 0 2-8 2 9 2-2 2-8 2 9 2-1 2-9 2-1 2 8 2 2 2-4 2-13 2 3 2 9 2-10 2 12 2-1 2-12 2 5 2 2 2-2 2-6 2 0 2 0 2 9 2-6 2 2 2-6 2 1 2 1 2-7 2-4 2 6 2-6 2-2 2-2 2-4 2 8 2-7 2 0 2 2 2-5 2 14 2 5 2-8 2 8 2 5 2 3 2 6 2 5 2-2 2 11 2-12 2 9 2 15 2-4 2 8 2 9 2 7 2-13 2 5 2 4 2 4 2 9 2-9 2 17 2 0 2 11 2-16 2 14 2-4 2-1 2 11 2 2 2-12 2 15 2-5 2 0 2 1 2 4 2-1 2 6 2-14 2 22 2-3 2-3 2 7 2-2 2 4 2 1 2-6 2-23 2 24 2-10 2 2 2-11 2 1 2-2 2 2 2-1 2-4 2-3 2 1 2-1 2-1 2-4 2 8 2-7 2 6 2 9 2-16 2 4 2-5 2 25 2-9 2 4 2 0 2-1 2-3 2 8 2-6 2 11 2 7 2 6 2-18 2 5 2 1 2-2 2 6 2 9 2 10 2 5 2-10 2 13 2-2 2 5 2 8 2 3 2 1 2-3 2 1 2 1 2 3 2-3 2 4 2-1 2 8 2-12 2 4 2 4 2 0 2-12 2 20 2 2 2-22 2-2 2 12 2-20 2 5 2-5 2-5 2 1 2-13 2-6 2 2 2-2 2 7 2 7 2 8 2-1 2 0 2 7 2-6 2 7 2 4 2-1 2 18 2-7 2 2 2 6 2 19 2-3 2-17 2-8 2-26 2-5 2-3 2-19 2-13 2-6 2-2 2-7 2-25 2 3 2-21 2 3 2-7 2-7 2 7 2-11 2-10 2 0 2-15 2 1 2 0 2-11 2 5 2-27 2-8 2 2 2-4 2-9 2 18 2-18 2-20 2-2 2 8 2-24 2 14 2-22 2 6 2-2 2-32 2 1 2-11 2-5 2-4 2-21 2-13 2 14 2-3 2 10 2 17 2 1 2 6 2-21 2-8 2 11 2 14 2-4 2-6 2 13 2 15 2-18 2 9 2 19 2-30 2 16 2-27 2 7 2 8 2 15 2-11 2-7 2 13 2 10 2 7 2-20 2 25 2-6 2 22 2 12 2-18 2 46 2-41 2 27 2-23 2 15 2 23 2-3 2 7 2-27 2-8 2 0 2 45 2-23 2-24 2 12 2-2 2 12 2-19 2-14 2 11 2 15 2-5 2-7 2-8 2 30 2-7 2-17 2 4 2 29 2-25 2 20 2-17 2 0 2-3 2 13 2-1 2-16 2 32 2-25 2-2 2 21 2-23 2 7 2 5 2 8 2-30 2 8 2-18 2 35 2-3 2 4 2-4 2-11 2 15 2-20 2 1 2 8 2 15 2-27 2 51 2-44 2-10 2 20 2-12" fill="none" stroke="#0000ff" stroke-width="1.0" stroke-linejoin="round"/>
<path transform="matrix(.25 0 0 .1 0 0)" vector-effect="non-scaling-stroke" d="M288 3970l2 3 2-8 2 12 2-4 2 7 2-1 2 4 2 6 2 9 2-8 2 9 2 8 2-12 2 14 2-5 2 6 2 3 2-1 2 13 2 1 2-4 2 2 2 3 2 6 2 2 2-9 2 14 2 1 2-4 2-1 2-5 2 14 2-5 2 3 2 19 2-23 2-2 2 17 2-13 2 8 2 5 2-5 2 14 2-6 2 2 2-3 2-1 2 6 2 14 2-11 2 5 2 1 2-7 2 11 2-6 2-6 2 1 2 16 2 8 2-6 2 4 2-12 2-9 2 29 2-4 2-14 2 13 2-1 2 1 2-4 2 10 2 3 2-11 2 11 2-10 2 15 2-4 2 8 2-2 2-11 2 5 2 8 2 3 2 4 2-15 2 7 2 15 2-14 2-6 2-5 2 13 2 3 2-10 2 10 2 1 2 2 2-4 2-6 2-3 2 10 2-13 2 17 2-6 2-5 2-9 2 6 2-4 2 2 2 9 2 11 2-20 2 2 2 17 2-12 2 1 2-6 2 13 2-9 2 4 2 0 2 4 2-7 2-6 2 6 2-4 2-10 2 6 2-5 2 8 2-3 2 1 2-8 2 13 2-3 2 5 2-14 2 4 2-1 2 7 2-8 2 8 2-11 2 9 2-2 2-1 2-2 2-1 2 6 2-1 2-2 2-5 2-5 2-2 2 1 2 0 2-4 2-4 2 0 2 9 2-9 2 3 2-4 2 3 2-4 2 7 2-6 2-9 2 6 2-8 2 3 2 7 2-15 2 11 2-5 2 6 2-6 2 6 2-4 2 7 2-5 2-6 2 7 2-1 2 11 2-14 2-4 2 17 2-10 2-6 2 5 2 2 2 3 2 16 2-14 2 6 2-1 2-5 2-7 2 23 2-14 2-3 2 6 2-10 2 0 2 7 2-11 2 3 2-6 2 9 2-20 2-9 2 15 2-4 2 17 2-18 2-2 2 2 2-5 2 0 2-11 2 2 2 9 2-18 2 3 2 3 2-2 2-9 2 0 2-3 2-9 2-9 2 3 2-10 2-4 2 12 2 0 2-4 2 1 2 11 2 11 2 7 2 1 2 17 2-7 2 0 2 10 2 9 2-7 2-5 2 1 2-6 2-1 2-16 2 1 2-5 2-5 2 6 2-13 2-4 2-12 2 4 2 3 2-3 2-8 2 8 2-6 2 5 2-3 2 0 2-12 2 0 2 8 2 10 2-14 2-2 2-7 2 13 2-12 2-3 2 1 2-7 2 4 2-7 2-5 2-11 2-2 2 1 2-15 2 5 2 1 2-4 2 10 2-28 2 7 2-5 2 1 2 3 2 11 2 19 2 11 2 28 2-1 2 16 2 9 2 4 2 4 2 7 2 6 2 3 2 12 2 17 2 5 2-7 2 17 2 2 2 19 2 19 2 26 2-14 2-10 2 3 2-27 2-2 2-3 2-13 2-10 2 3 2-12 2-16 2-5 2-13 2-3 2 7 2-1 2-17 2 14 2 1 2-8 2-15 2 9 2-10 2 9 2-9 2-2 2-7 2 3 2 3 2-7 2 7 2 0 2 15 2-3 2-1 2 12 2-4 2 1 2 1 2 12 2-3 2-9 2 9 2 2 2-15 2 16 2-2 2-16 2 8 2-7 2-5 2-10 2 13 2-13 2-9 2 5 2-7 2-10 2 6 2 1 2-10 2 15 2 7 2 7 2 5 2-2 2 5 2-5 2 10 2 1 2 13 2 6 2-7 2-5 2 18 2 9 2-4 2-3 2 16 2-5 2 8 2-3 2 4 2-14 2 14 2-7 2 9 2-20 2-8 2 10 2-9 2 7 2-14 2 15 2-6 2 3 2-7 2-9 2 13 2 0 2 0 2-14 2 3 2 0 2-8 2 2 2 1 2 4 2-17 2 20 2-9 2 0 2-4 2 9 2-3 2-4 2 5 2-9 2 8 2-11 2 3 2 13 2-15 2-1 2 3 2 2 2 1 2-3 2-2 2-2 2 14 2-27 2 9 2 2 2-13 2 8 2-2 2-22 2 26 2-7 2-5 2-10 2 2 2-5 2-2 2 9 2-21 2-3 2 8 2 7 2-13 2 9 2-11 2-3 2-5 2-3 2-5 2-10 2-11 2-8 2 10 2-11 2-2 2-16 2 2 2-4 2-3 2-14 2 3 2-22 2 1 2-11 2-7 2 2 2 0 2-16 2-5 2-2 2 3 2 12 2 4 2-12 2 15 2 3 2-2 2-4 2 12 2-3 2 13 2 4 2 9 2-8 2 7 2 0 2 8 2-3 2 4 2 0 2 10 2 4 2 13 2-5 2 4 2 19 2 10 2 3 2 15 2 8 2 11 2 13 2 9 2 9 2 17 2 5 2 3 2 7 2 9 2-6 2 1 2-4 2-7 2-5 2 0 2 7 2-3 2 2 2-6 2 16 2-19 2 12 2-11 2 9 2 2 2-1 2-3 2-7 2-13 2-2 2 10 2 3 2-14 2 14 2-8 2-8 2 7 2 12 2-19 2 5 2-1 2-6 2 9 2 1 2-5 2 7 2-8 2 5 2-10 2 14 2-7 2-8 2 11 2-8 2 3 2 13 2 0 2-10 2-6 2 18 2-10 2 13 2 1 2-1 2 11 2-7 2-4 2-1 2 3 2 3 2-9 2 7 2 3 2-8 2 2 2 9 2-12 2 15 2-6 2-3 2-7 2-4 2 7 2-1 2 3 2-24 2 18 2 0 2-10 2 5 2-8 2-1 2-7 2 12 2-5 2-4 2-2 2 3 2 5 2-1 2-9 2-8 2 8 2-16 2 19 2-7 2-9 2 1 2-5 2 5 2-9 2 4 2-5 2-9 2 10 2-4 2-5 2-3 2 4 2 4 2 1 2 4 2 5 2-1 2 13 2 0 2 5 2-6 2 5 2 7 2 2 2-1 2 3 2 11 2-1 2 0 2-15 2 2 2-4 2-7 2-5 2-5 2 2 2-4 2-15 2-1 2-7 2 2 2-8 2 1 2 2 2-15 2 5 2-9 2-6 2-4 2 2 2 6 2 9 2-10 2-1 2 11 2-2 2-7 2 11 2-5 2 5 2 4 2-6 2 5 2 6 2-9 2 9 2-6 2 15 2 0 2-3 2 5 2-4 2 12 2-2 2 8 2 8 2-6 2-1 2 17 2-9 2 3 2-11 2-3 2-16 2-15 2 0 2-3 2 3 2-23 2 1 2-18 2-1 2 1 2-7 2-11 2-4 2 4 2 4 2-5 2 1 2 3 2 2 2-11 2 10 2 1 2 3 2-2 2 11 2 0 2-2 2 19 2-11 2 5 2-4 2 3 2 5 2-9 2-3 2 23 2-21 2 4 2 8 2 0 2 6 2 10 2-2 2-16 2 11 2 6 2 1 2-8 2 12 2 14 2-3 2 1 2-1 2 18 2 12 2-15 2 14 2-1 2-4 2-1 2 11 2-2 2-3 2 6 2 2 2 13 2-16 2-3 2-2 2 12 2 4 2-9 2 13 2-9 2 5 2 16 2 27 2 22 2 13 2 12 2 14 2 16 2-31 2 19 2-49 2 6 2-13 2-22 2-16 2 1 2 29 2-21 2 18 2 6 2 6 2-31 2 25 2-13 2 34 2 8 2 9 2 0 2 3 2-16 2-21 2-7 2-35 2-1 2-28 2-9 2-4 2 6 2-10 2 19 2 2 2 24 2 1 2-6 2 27 2 1 2 3 2 31 2-11 2 1 2-22 2 2 2 23 2-56 2 46 2-32 2-6 2 20 2-39 2 12 2-1 2 12 2 20 2 13 2-39 2 11 2 47 2-18 2 19 2 2 2-18 2-7 2 24 2-2 2 17 2-13 2 24 2-49 2-1 2 14 2-8 2 16 2-10 2 24 2-14 2 4 2-12 2 6 2-4 2-7 2 15 2-28 2 18 2-2 2 22 2-18 2-17 2 19 2 6 2 1 2 5 2-1 2-3 2 11 2-21 2 11 2-5 2 3 2 1 2-10 2 1 2 4 2-28 2 31 2 8" fill="none" stroke="#20e020" stroke-width="1.0" stroke-linejoin="round"/>
<path transform="matrix(.25 0 0 .1 0 0)" vector-effect="non-scaling-stroke" d="M288 4043l2-1 2 1 2 9 2-10 2 10 2-14 2 5 2 13 2-12 2-5 2 11 2-4 2 3 2 4 2-6 2 6 2-4 2 2 2-1 2-6 2 2 2 0 2 7 2-11 2-2 2 6 2 2 2-5 2-4 2-9 2 11 2 3 2-10 2 2 2-8 2 0 2 4 2-3 2 2 2-3 2-5 2-2 2 5 2-11 2 9 2-7 2-7 2 1 2 2 2 16 2-17 2-6 2 13 2-11 2-2 2 11 2 4 2 7 2-10 2-6 2 5 2 8 2 2 2-14 2 16 2-11 2-6 2 12 2-3 2-9 2 3 2 6 2 3 2-9 2 14 2-11 2 0 2 10 2 3 2-8 2 1 2 3 2 5 2-8 2 1 2-2 2-6 2 15 2-7 2 8 2-9 2 11 2-7 2 4 2-14 2 3 2 1 2 14 2-9 2-6 2-11 2 8 2 13 2-11 2 6 2-14 2 12 2 4 2-4 2-9 2-3 2 7 2-13 2-5 2 6 2-10 2-4 2 3 2-2 2-11 2 5 2 5 2-7 2-1 2-3 2-8 2 3 2-6 2 1 2 2 2-1 2 20 2-2 2-17 2 15 2-2 2 3 2 1 2 5 2-12 2 3 2 4 2 10 2-5 2-3 2-6 2 2 2-8 2 1 2-2 2-12 2-14 2-7 2 3 2 0 2-2 2 0 2-3 2 6 2-10 2 6 2-8 2-4 2 1 2-6 2 3 2-16 2 12 2 4 2 4 2-8 2 2 2 17 2-12 2 11 2 2 2 7 2 8 2 6 2-16 2 13 2-7 2 12 2-2 2 12 2 3 2 9 2 6 2 2 2 8 2 7 2-3 2 5 2 0 2 4 2 14 2 10 2-4 2-5 2 9 2 10 2 4 2-2 2 7 2-3 2-12 2 0 2 7 2-11 2 1 2 7 2-5 2-4 2-14 2 1 2 1 2-2 2 2 2-3 2-2 2-2 2-14 2-10 2 7 2-8 2-4 2-9 2-2 2 10 2-29 2 11 2-9 2-5 2-14 2-4 2-10 2-6 2-8 2 6 2-11 2-10 2-8 2 1 2 6 2 21 2 4 2 13 2 8 2 14 2 10 2 22 2 12 2 2 2 4 2-2 2 2 2-3 2 6 2-11 2-4 2 27 2-10 2 1 2 4 2-2 2 5 2-10 2 3 2 11 2-10 2-9 2-8 2 15 2-8 2-6 2-16 2 1 2-7 2-8 2 4 2-3 2 20 2-15 2 19 2 1 2 7 2 2 2 10 2-2 2 13 2 2 2-5 2 10 2 17 2 4 2-10 2 8 2 6 2-9 2-8 2 5 2-4 2-13 2 11 2-4 2 1 2 5 2-1 2-2 2 7 2-10 2 6 2 15 2 4 2 9 2 1 2 12 2 13 2-4 2 6 2 4 2-13 2 6 2-6 2-2 2-12 2 8 2-8 2 0 2-34 2 8 2 2 2-7 2-6 2-8 2 1 2-13 2 0 2 15 2-18 2 6 2-6 2 3 2-6 2 4 2 0 2-9 2-3 2-2 2-3 2 13 2 1 2-23 2 4 2 5 2 5 2-11 2 6 2 6 2 6 2-8 2 13 2-10 2 13 2-8 2 4 2 9 2-1 2 2 2-5 2-1 2 9 2 4 2-9 2 0 2-7 2 16 2-14 2 5 2 6 2-26 2 15 2-6 2 6 2 2 2-9 2 15 2 5 2-17 2-1 2 9 2-10 2-11 2 9 2-10 2 10 2-13 2 10 2-18 2 5 2-14 2 27 2-17 2-4 2 2 2-3 2 0 2 9 2-6 2-14 2 3 2-2 2 5 2-7 2 5 2-5 2 14 2-6 2 13 2-4 2-8 2 21 2-22 2 32 2-5 2 1 2 2 2-1 2-7 2-2 2 7 2-15 2 19 2-1 2 3 2-3 2-5 2 11 2-2 2 2 2 4 2 7 2 4 2-14 2 10 2-12 2 6 2 1 2 6 2 2 2 3 2-1 2 0 2-7 2 12 2-8 2 11 2-5 2 15 2-17 2 10 2 4 2-8 2 1 2 13 2-6 2-5 2-7 2-1 2-7 2 18 2-11 2 3 2 3 2-5 2-7 2 9 2-21 2 17 2-6 2-4 2 3 2 2 2-13 2 5 2-5 2 2 2 7 2-7 2-2 2 6 2 12 2 0 2-2 2 6 2-9 2-2 2 0 2 9 2 2 2-9 2 23 2-8 2-14 2 0 2 13 2 1 2-7 2 11 2 3 2 3 2 12 2-12 2 11 2-4 2 12 2 5 2 16 2-16 2 11 2 1 2 5 2-1 2 1 2 7 2 3 2 13 2-8 2 10 2-16 2-6 2 7 2 0 2 14 2-20 2 11 2-8 2-3 2 9 2-10 2 14 2-8 2 0 2-7 2 3 2 3 2-11 2 3 2-5 2 5 2 4 2-12 2 13 2-3 2 9 2-11 2 6 2 2 2 9 2-6 2 11 2-3 2-10 2-2 2 8 2 6 2-4 2-4 2 10 2-4 2-2 2 7 2-1 2-8 2 10 2 4 2-6 2-3 2 14 2 2 2-9 2 1 2-8 2 4 2-10 2 5 2 2 2-7 2 2 2 0 2 6 2-12 2-7 2 2 2-1 2 6 2 4 2-17 2 7 2 1 2-6 2-1 2-6 2 11 2-4 2-12 2 6 2-10 2 9 2 1 2-18 2 8 2 0 2 13 2-11 2-1 2-5 2 4 2 5 2-1 2 5 2-2 2-5 2 11 2 1 2-7 2 5 2 5 2 14 2-3 2 8 2-21 2 18 2 9 2-10 2 8 2-6 2 10 2-1 2-6 2 17 2-4 2 4 2-11 2 17 2-7 2 10 2-9 2 16 2-7 2 4 2-1 2-6 2 11 2 10 2 3 2-8 2 12 2-7 2-4 2 8 2 3 2 8 2-20 2 18 2-3 2-4 2-13 2-3 2 14 2-10 2 6 2-14 2 9 2-2 2-13 2 4 2 11 2-17 2 10 2-8 2-8 2 2 2-3 2 16 2-20 2 1 2 7 2 5 2-14 2 2 2 3 2-1 2 2 2-5 2 3 2 4 2-11 2-4 2 5 2 5 2 14 2-11 2-3 2-23 2 4 2 13 2-10 2-3 2 7 2 0 2-6 2-5 2-14 2 7 2 4 2-8 2-10 2-8 2 10 2 3 2-9 2 1 2 2 2-8 2 0 2-5 2-2 2 5 2-2 2-6 2-10 2 9 2 1 2 0 2 4 2 0 2 3 2 8 2 5 2 4 2-5 2-1 2 17 2 10 2 10 2 12 2-2 2 15 2 18 2 4 2 12 2 19 2-4 2-14 2-2 2-13 2 0 2-17 2-9 2 12 2-10 2-18 2 1 2-24 2 8 2 0 2-9 2-10 2-9 2-5 2 4 2-19 2 0 2 0 2-14 2 10 2-24 2 6 2-6 2-2 2-11 2 2 2 0 2-12 2 9 2-29 2 7 2 8 2-41 2 0 2-17 2-14 2 2 2-35 2 20 2-21 2 15 2 14 2-15 2 8 2 28 2-23 2 3 2 5 2 1 2-6 2-2 2 7 2 2 2 13 2-14 2 10 2 14 2-41 2 18 2 0 2 2 2 20 2-19 2 7 2 20 2-40 2 15 2 6 2 19 2 11 2-12 2 32 2 8 2-23 2 7 2 0 2 24 2-19 2 9 2-5 2-20 2-17 2-27 2 27 2-4 2-13 2-17 2 15 2-20 2 5 2 0 2 1 2-5 2-28 2 22 2-6 2-7 2-5 2-2 2 4 2 1 2 3 2-24 2 10 2 18 2 3 2-17 2-4 2 28 2-34 2 25 2-2 2-5 2 9 2-5 2-9 2 11 2 22 2-28 2 11 2 11 2-34 2 11 2-10 2 13 2-7 2 20 2-17 2 12 2-6 2 1 2-18 2 20 2-15 2-3 2-9 2 13 2-14 2-5 2 6 2-28 2 39 2-22 2 15 2-28 2-12 2 11 2 13" fill="none" stroke="#ff1010" stroke-width="1.0" stroke-linejoin="round"/>
<line x1="71.5" y1="411" x2="525.5" y2="411" stroke="#000" stroke-width="1.6" stroke-dasharray="4 3"/>
<line x1="188.3" y1="381.8" x2="188.3" y2="450.1" stroke="#ff00ff" stroke-width="1.3" stroke-dasharray="1.6 2"/>
<line x1="430.2" y1="381.8" x2="430.2" y2="450.1" stroke="#00a000" stroke-width="1.2" stroke-dasharray="5 3"/>
<line x1="443.8" y1="381.8" x2="443.8" y2="450.1" stroke="#ff3030" stroke-width="1.6" stroke-dasharray="6 3"/>
<line x1="465.2" y1="381.8" x2="465.2" y2="450.1" stroke="#ff00ff" stroke-width="1.3" stroke-dasharray="1.6 2"/>
<line x1="470.9" y1="381.8" x2="470.9" y2="450.1" stroke="#ff3030" stroke-width="1.6" stroke-dasharray="6 3"/>
<line x1="475.4" y1="381.8" x2="475.4" y2="450.1" stroke="#0000ff" stroke-width="1.3" stroke-dasharray="1.6 2"/>
<line x1="484.4" y1="381.8" x2="484.4" y2="450.1" stroke="#00a000" stroke-width="1.2" stroke-dasharray="5 3"/>
<line x1="76.8" y1="389.8" x2="94.5" y2="389.8" stroke="#0000ff" stroke-width="1.0"/>
<text x="96.6" y="393.5" font-size="9.2" fill="#0000ff">V<tspan dy="2.8" font-size="6.6">L</tspan></text>
<line x1="76.8" y1="404.4" x2="94.5" y2="404.4" stroke="#20e020" stroke-width="1.0"/>
<text x="96.6" y="408.1" font-size="9.2" fill="#20e020">V<tspan dy="2.8" font-size="6.6">M</tspan></text>
<line x1="76.8" y1="419.1" x2="94.5" y2="419.1" stroke="#ff1010" stroke-width="1.0"/>
<text x="96.6" y="422.8" font-size="9.2" fill="#ff1010">V<tspan dy="2.8" font-size="6.6">N</tspan></text>
<path transform="matrix(.25 0 0 .1 0 0)" vector-effect="non-scaling-stroke" d="M288 4622l2 1 2-2 2-11 2 1 2 6 2 2 2-10 2 0 2-2 2 15 2-13 2 7 2-1 2 2 2-10 2 11 2 6 2 0 2-5 2 8 2-1 2-2 2 3 2 15 2-15 2-5 2 14 2 2 2 0 2-3 2 7 2 6 2-3 2-20 2 7 2 7 2-14 2 24 2-6 2-9 2-1 2 13 2-8 2 4 2-8 2 3 2 7 2 6 2 8 2-5 2 11 2-4 2 0 2 6 2 3 2-1 2-1 2 18 2 1 2 6 2-10 2 10 2-3 2 18 2 0 2-7 2 3 2-18 2 6 2 1 2 1 2-4 2 2 2-3 2-5 2 8 2-11 2 5 2-2 2-11 2 2 2 14 2-13 2 2 2-8 2 10 2-3 2 7 2 2 2-8 2 8 2 6 2-8 2 9 2 0 2 8 2-8 2 11 2 6 2-6 2 3 2 10 2-5 2 9 2 7 2-13 2 14 2 7 2-13 2 12 2 5 2-3 2 7 2-9 2 5 2-6 2 7 2-6 2-2 2 4 2-5 2-8 2 1 2-4 2 5 2 4 2 4 2-6 2-8 2 10 2-10 2-1 2 2 2 9 2-11 2 24 2 8 2 22 2 1 2 9 2 7 2 5 2 8 2-8 2-6 2 14 2 4 2 1 2 1 2-2 2 12 2 56 2 33 2 18 2-11 2-7 2-3 2 0 2-9 2-5 2 8 2-4 2 3 2 6 2 5 2 15 2 7 2-16 2 6 2 3 2-14 2 6 2 9 2-15 2 0 2 7 2 1 2-14 2-1 2 0 2 1 2-18 2 10 2-7 2 5 2 5 2-13 2 23 2-1 2 1 2 9 2 4 2 13 2-4 2 2 2-2 2 4 2-8 2 11 2-1 2 5 2 2 2-12 2 9 2-3 2-2 2-21 2 9 2-14 2 0 2 2 2-3 2-7 2-6 2-5 2 4 2-2 2-7 2-13 2-5 2 2 2 4 2 14 2 0 2 6 2 9 2 7 2 5 2 5 2 8 2 10 2-44 2-61 2-49 2-41 2-1 2-18 2-3 2-21 2-4 2-6 2-11 2 7 2 26 2 22 2 29 2 14 2 16 2 7 2 13 2 9 2 10 2 10 2 14 2 2 2 8 2 17 2-17 2 20 2 7 2 23 2 2 2 7 2 5 2 9 2 8 2-21 2 2 2 5 2-10 2 7 2-3 2-1 2-19 2 8 2 3 2-12 2 6 2-10 2-9 2 15 2-16 2 12 2 1 2 0 2 3 2-4 2 15 2-6 2 21 2-11 2-5 2 15 2 6 2 4 2-6 2 1 2-5 2 1 2 1 2-6 2-12 2-3 2-3 2-7 2-7 2 0 2 2 2-4 2-13 2 4 2-7 2 0 2-2 2-5 2 15 2 12 2 13 2 7 2 4 2 9 2 25 2 7 2-24 2-15 2-21 2 4 2-37 2-15 2 4 2-11 2-22 2-6 2-12 2-20 2 7 2-24 2-5 2-7 2-2 2-12 2 0 2-3 2-3 2-9 2-1 2-9 2 7 2-20 2-6 2 3 2 0 2-3 2 9 2 6 2 8 2 13 2-9 2 8 2 10 2 4 2 6 2 3 2-11 2-12 2 3 2-6 2 3 2-22 2 3 2-1 2-6 2-9 2-10 2-6 2-5 2 2 2-4 2-9 2-7 2 0 2-15 2 19 2-20 2 8 2 0 2 2 2 3 2-6 2 20 2-9 2-8 2 19 2-3 2-2 2 5 2 5 2 29 2 0 2 8 2 5 2 15 2 6 2 21 2 10 2-1 2 4 2 5 2-1 2-2 2 8 2-3 2 3 2-1 2 0 2 15 2-16 2-11 2-8 2-7 2 8 2-4 2-39 2 9 2-7 2 11 2-11 2-7 2 8 2-5 2-2 2-13 2 12 2-2 2-2 2-3 2 7 2-1 2-3 2 13 2-7 2 14 2 2 2 14 2-2 2 5 2 2 2-5 2 11 2 4 2-9 2 7 2 16 2 4 2 4 2-3 2-20 2 7 2-6 2 1 2 13 2-8 2-2 2-1 2 1 2-3 2-2 2 14 2-7 2-10 2 6 2 3 2-5 2 7 2-6 2 5 2 1 2-4 2-3 2 5 2 2 2 2 2-6 2-12 2 17 2-19 2 2 2 19 2-11 2 10 2-13 2-1 2-14 2 13 2 3 2-2 2 12 2-10 2-2 2 2 2-4 2 1 2-6 2-4 2 12 2 1 2 6 2 5 2-2 2-6 2 12 2 10 2-4 2 20 2-2 2 9 2 20 2-2 2 14 2 7 2 5 2 18 2-19 2-10 2-16 2-25 2-14 2-2 2-9 2-3 2-17 2-20 2-10 2-7 2-6 2-9 2-15 2 1 2-9 2-13 2 4 2-13 2-5 2-16 2-21 2 14 2-12 2-2 2-1 2-3 2 7 2-7 2-4 2 1 2 3 2-6 2 3 2 8 2-9 2 1 2 2 2-15 2 19 2 1 2-19 2 11 2 5 2-4 2 6 2-4 2 1 2 6 2-3 2 4 2-6 2 2 2 1 2 6 2 7 2-6 2 2 2-1 2 13 2-4 2-1 2 9 2 0 2 8 2-2 2 4 2-4 2 1 2 14 2-9 2-6 2 12 2-1 2-1 2-4 2 5 2 1 2-13 2 14 2-10 2 20 2-6 2-9 2 2 2 1 2-2 2 1 2-4 2 18 2-8 2-5 2 7 2-11 2 21 2-25 2 14 2-19 2 2 2 1 2 10 2-13 2 5 2-19 2 3 2 10 2-5 2 8 2-7 2 5 2-7 2-7 2 14 2-16 2-2 2 10 2-6 2 0 2-1 2 9 2-15 2 0 2 11 2-5 2 14 2 6 2 9 2-10 2-9 2-1 2 7 2-9 2 6 2-20 2-2 2 6 2-18 2-5 2 1 2-4 2-4 2-8 2-1 2-2 2-4 2 11 2 4 2 3 2-11 2 1 2 1 2 4 2-4 2 10 2 17 2-13 2 4 2-4 2 6 2 2 2 5 2 2 2-6 2 16 2 5 2-11 2 5 2 1 2 8 2 8 2-10 2 5 2 30 2-2 2 10 2-1 2 9 2 2 2-8 2-6 2 23 2-13 2-8 2 2 2 4 2-6 2 0 2 1 2 7 2 1 2-2 2-5 2 8 2 6 2 0 2 18 2 8 2 3 2 12 2 3 2 13 2 11 2 12 2 12 2 9 2 0 2-3 2-4 2 6 2 5 2-2 2-16 2 12 2-3 2 3 2-1 2 6 2 3 2 9 2 10 2 4 2-3 2-26 2-13 2-27 2 4 2 24 2 13 2 14 2 26 2-17 2-42 2-19 2-23 2 9 2 16 2 4 2-5 2 2 2 7 2 10 2-5 2 12 2-10 2 21 2-9 2 7 2 14 2 4 2 7 2 10 2 26 2-8 2 23 2 10 2 15 2-5 2-16 2-19 2-23 2-14 2-18 2-19 2 40 2 25 2 43 2 30 2 23 2 22 2 5 2-2 2 19 2 11 2 17 2-1 2 9 2 11 2 17 2-3 2 10 2 9 2 15 2 15 2 4 2 20 2-6 2-8 2-1 2 0 2 4 2-12 2 15 2 2 2-17 2 0 2 7 2 1 2-1 2-7 2 6 2-5 2 2 2 8 2-12 2 13 2-10 2 1 2 1 2 5 2 9 2-4 2 6 2 8 2-18 2 2 2 4 2-11 2 18 2-7 2 4 2-4 2 5 2-12 2 21 2-13 2 0 2 14 2-7 2 3 2-4 2 13 2-12 2-5 2 7 2-6 2 7 2 0 2 5 2-1 2 1 2 4 2-2 2-10 2 5 2-1 2 19 2-9 2-4 2-9 2 8 2 10 2-11 2-4 2 9 2-9 2 6 2-2 2-3 2 14 2-22 2 17 2-4 2 0 2-2 2 10 2-8 2-23 2 24 2-4 2 5 2 0 2-8 2 2 2 1 2 2 2 4 2 4 2-8 2-3 2-1 2 4 2 6" fill="none" stroke="#202020" stroke-width="1.0" stroke-linejoin="round"/>
<path transform="matrix(.25 0 0 .1 0 0)" vector-effect="non-scaling-stroke" d="M288 4555l2 7 2-7 2 0 2 5 2 1 2 2 2-3 2-7 2 0 2-9 2 5 2 4 2 13 2-11 2 13 2-11 2 10 2-1 2 1 2-5 2 7 2 10 2-6 2-6 2 1 2 8 2-2 2 3 2 1 2 13 2-7 2-5 2-2 2 4 2 17 2-16 2-15 2 15 2 6 2-8 2 7 2 13 2-6 2-1 2-15 2 10 2 5 2 4 2 17 2 1 2-9 2 9 2-7 2 17 2-16 2 23 2-11 2 24 2-1 2-7 2 4 2-3 2 5 2 1 2 0 2 8 2-9 2 8 2-10 2 3 2 0 2-4 2-9 2 13 2-17 2 11 2-3 2-6 2 1 2 1 2 10 2-14 2-7 2 10 2 0 2-7 2 9 2 6 2-22 2 22 2-6 2 0 2 5 2 5 2-4 2 6 2-3 2 13 2 4 2-3 2 5 2 15 2-15 2 19 2 2 2-1 2 7 2-16 2 26 2-15 2 19 2 3 2-9 2 8 2-3 2-4 2-3 2 0 2-14 2-4 2 18 2-19 2-1 2 9 2-8 2-1 2 3 2 12 2-6 2-2 2 15 2-11 2-1 2 6 2-8 2 6 2 16 2 15 2 26 2 10 2-11 2 9 2 11 2 3 2 1 2-2 2 13 2-5 2-7 2 9 2 23 2 42 2 34 2 17 2 14 2-22 2-2 2-13 2 15 2-10 2-10 2 13 2-3 2 10 2 3 2 4 2 13 2-15 2 13 2-10 2 9 2-14 2 17 2-12 2-20 2 12 2-14 2 9 2-5 2-12 2 7 2 0 2 3 2-17 2 16 2-3 2-2 2 12 2-2 2 7 2 12 2 5 2 2 2-10 2 7 2 7 2 0 2 2 2-3 2-4 2 5 2-10 2 19 2 4 2-17 2 10 2-10 2-13 2 4 2-3 2-6 2-9 2 0 2-7 2 1 2-13 2 2 2-6 2 6 2 3 2-19 2 1 2 4 2 14 2 13 2 14 2-6 2 15 2 4 2 8 2 0 2-50 2-55 2-60 2-40 2-4 2-21 2-2 2-13 2-17 2-12 2-5 2 19 2 23 2 21 2 41 2 20 2-6 2 17 2 17 2 10 2-2 2 17 2 10 2 26 2-6 2 11 2 3 2 18 2 1 2 13 2-8 2 25 2 10 2 9 2-16 2 7 2 6 2-9 2-5 2-3 2-4 2-2 2-2 2 0 2-11 2-3 2 3 2 3 2-8 2 7 2-24 2 17 2 5 2-5 2 8 2 9 2 9 2-13 2 20 2-3 2 7 2-1 2-2 2 21 2-19 2 8 2-14 2 5 2-11 2 5 2 6 2-15 2-3 2-17 2-5 2-9 2 2 2-5 2 7 2-1 2-16 2-2 2-11 2 2 2 20 2 16 2 3 2 26 2 11 2 12 2 18 2-2 2-21 2-6 2-12 2-17 2-53 2 9 2-19 2-22 2-3 2-14 2-8 2-34 2-9 2-6 2 10 2-4 2-11 2-4 2-15 2-2 2-3 2-8 2-10 2 7 2-2 2-26 2 6 2 10 2-25 2 5 2 6 2 0 2 30 2 3 2-1 2 24 2-22 2 17 2 4 2-11 2-1 2-4 2-11 2 5 2-1 2-22 2-2 2-9 2-16 2 6 2-2 2 6 2-21 2-5 2 9 2-19 2 3 2-14 2-21 2 8 2-3 2 13 2-1 2 24 2-27 2 6 2 6 2 21 2-25 2 24 2-20 2 6 2 19 2-6 2 12 2 19 2 20 2-1 2 23 2 4 2 7 2 25 2 13 2-5 2-12 2 0 2 12 2 3 2-11 2 19 2-10 2 7 2 4 2 3 2-12 2-15 2-15 2-5 2 0 2-29 2-10 2-7 2 15 2-7 2-7 2 12 2-4 2-4 2-8 2 8 2-14 2 6 2 7 2 0 2-4 2 5 2 4 2 1 2 7 2 2 2 3 2 11 2-9 2 7 2 5 2 6 2-5 2 24 2 10 2 9 2-24 2 11 2-3 2 3 2 8 2-8 2-9 2 10 2 14 2-13 2 11 2-13 2 3 2 10 2-23 2 20 2-1 2-14 2 9 2-9 2 5 2-3 2-8 2 19 2-2 2-11 2 5 2-1 2-9 2 14 2-8 2-16 2-8 2 12 2 6 2-3 2-3 2-4 2 2 2 10 2-2 2-10 2-2 2 10 2-12 2 8 2-2 2-9 2 5 2 5 2-4 2-3 2 12 2 1 2 10 2-2 2 5 2-18 2 16 2 19 2 11 2-6 2 17 2 20 2-9 2 5 2 19 2 21 2 0 2-12 2-9 2-24 2-10 2-20 2-6 2-14 2-12 2-18 2-6 2-23 2 0 2-2 2-23 2-3 2-18 2-5 2 0 2-21 2-7 2-17 2-2 2 3 2-3 2-3 2-13 2 5 2 6 2-2 2-4 2 5 2-15 2 8 2 0 2-11 2 2 2 13 2-8 2-12 2 6 2-1 2-1 2 8 2 1 2 4 2-16 2 15 2-13 2 15 2-1 2 7 2-5 2-5 2 4 2 5 2-15 2 7 2 11 2 5 2 3 2-10 2 19 2-6 2 6 2 2 2-5 2 0 2 23 2-10 2 13 2-19 2 3 2 0 2 13 2-8 2-5 2 13 2-13 2-4 2 6 2-1 2 0 2 3 2-6 2 11 2-5 2 8 2 1 2-2 2-4 2 3 2-3 2 1 2 7 2 0 2 1 2-10 2 5 2-20 2 21 2-5 2-14 2 6 2 0 2-7 2-2 2-1 2 2 2-4 2-5 2 9 2 1 2-3 2 1 2 9 2-9 2-6 2-5 2 6 2 5 2-14 2 9 2-8 2-2 2 11 2 18 2-6 2-6 2 13 2-3 2-6 2-16 2 9 2-16 2 14 2-30 2 0 2-1 2-11 2 2 2-11 2-5 2 6 2-21 2 17 2-4 2-9 2 19 2 6 2-10 2 16 2-7 2 1 2 8 2-12 2 13 2-6 2 7 2 2 2-8 2 11 2-3 2 9 2 2 2-6 2 4 2 20 2 4 2-11 2 6 2 4 2-9 2 22 2 4 2 7 2 20 2 4 2-12 2 6 2-1 2-2 2 2 2 0 2 0 2 17 2-11 2 5 2 1 2 4 2-10 2-1 2 3 2-11 2 4 2 23 2 6 2 4 2 7 2 17 2-5 2 15 2 29 2 1 2 8 2 4 2 14 2-1 2 8 2-1 2-3 2 10 2-6 2-16 2 15 2 8 2-14 2 8 2-7 2-5 2 15 2 16 2 8 2-12 2-25 2-3 2-31 2-13 2 20 2 39 2 12 2 13 2-9 2-31 2-37 2 2 2-6 2-1 2-6 2 23 2 4 2 1 2 13 2-1 2 6 2 18 2-18 2 20 2 5 2-6 2 29 2-18 2 28 2 3 2 12 2 22 2 11 2 19 2-4 2-24 2-20 2-24 2-13 2-15 2-29 2 44 2 46 2 31 2 43" fill="none" stroke="#ff1010" stroke-width="2.3" stroke-linejoin="round"/>
<path transform="matrix(.25 0 0 .1 0 0)" vector-effect="non-scaling-stroke" d="M1860 4744l2 48 2 45 2 43 2 41 2 29 2 11 2 9 2 11 2 12 2 8 2 6 2 19 2 13 2 1 2 9 2 17 2 2 2 12 2 15 2 16 2 6 2-1 2 10 2-8 2 4 2-6 2 6 2-1 2-5 2 0 2 7 2-1 2-5 2 3 2 1 2-4 2-2 2 5 2 0 2 2 2-3 2 1 2 1 2 2 2 5 2-3 2-1 2 7 2-5 2 5 2 2 2 2 2-7 2 0 2 1 2 4 2 3 2-6 2 3 2 1 2 0 2 4 2 4 2-6 2 1 2 0 2 2 2 4 2-4 2 6 2-3 2-2 2 3 2 3 2-1 2-3 2 6 2-3 2 2 2 3 2 1 2-1 2-3 2 7 2-5 2 9 2-10 2 0 2 2 2 4 2-6 2 5 2-4 2 4 2 3 2 0 2-5 2 4 2 1 2-3 2 1 2 1 2 2 2-1 2 9 2-10 2 1 2 5 2-2 2-8 2 7 2 4 2-3 2-2 2 3 2 4 2-3 2-3 2 0" fill="none" stroke="#ff1010" stroke-width="1.2" stroke-linejoin="round"/>
<line x1="188.3" y1="450.1" x2="188.3" y2="518.5" stroke="#ff00ff" stroke-width="1.3" stroke-dasharray="1.6 2"/>
<line x1="430.2" y1="450.1" x2="430.2" y2="518.5" stroke="#00a000" stroke-width="1.2" stroke-dasharray="5 3"/>
<line x1="443.8" y1="450.1" x2="443.8" y2="518.5" stroke="#ff3030" stroke-width="1.6" stroke-dasharray="6 3"/>
<line x1="465.2" y1="450.1" x2="465.2" y2="518.5" stroke="#ff00ff" stroke-width="1.3" stroke-dasharray="1.6 2"/>
<line x1="470.9" y1="450.1" x2="470.9" y2="518.5" stroke="#ff3030" stroke-width="1.6" stroke-dasharray="6 3"/>
<line x1="475.4" y1="450.1" x2="475.4" y2="518.5" stroke="#0000ff" stroke-width="1.3" stroke-dasharray="1.6 2"/>
<line x1="484.4" y1="450.1" x2="484.4" y2="518.5" stroke="#00a000" stroke-width="1.2" stroke-dasharray="5 3"/>
<text x="96.6" y="460.8" font-size="9.4" fill="#ff3030">Ne</text>
<line x1="76.8" y1="471.6" x2="94.5" y2="471.6" stroke="#707070" stroke-width="1.2"/>
<text x="96.6" y="475" font-size="9.4" fill="#202060">Ni</text>
<polyline points="72,518.5 86.7,529.4 103,533.7 119.3,538.7 135.6,556.2 151.9,565.1 168.2,562 184.2,550 200.5,564 216.6,567.9 232.9,535 249.2,530.9 265.2,530.3 281.5,535.6 297.8,536.4 313.9,535.7 330.4,528 346.5,532.2 362.8,527.8 378.8,536.8 395.1,520.5 411.1,535 427.4,539.6 443.7,539.6 459.8,578.4 476.1,585.3 492.1,585.7" fill="none" stroke="#ff1010" stroke-width="1.2"/>
<circle cx="86.7" cy="529.4" r="1.9" fill="#ff1010"/><circle cx="103" cy="533.7" r="1.9" fill="#ff1010"/><circle cx="119.3" cy="538.7" r="1.9" fill="#ff1010"/><circle cx="135.6" cy="556.2" r="1.9" fill="#ff1010"/><circle cx="151.9" cy="565.1" r="1.9" fill="#ff1010"/><circle cx="168.2" cy="562" r="1.9" fill="#ff1010"/><circle cx="184.2" cy="550" r="1.9" fill="#ff1010"/><circle cx="200.5" cy="564" r="1.9" fill="#ff1010"/><circle cx="216.6" cy="567.9" r="1.9" fill="#ff1010"/><circle cx="232.9" cy="535" r="1.9" fill="#ff1010"/><circle cx="249.2" cy="530.9" r="1.9" fill="#ff1010"/><circle cx="265.2" cy="530.3" r="1.9" fill="#ff1010"/><circle cx="281.5" cy="535.6" r="1.9" fill="#ff1010"/><circle cx="297.8" cy="536.4" r="1.9" fill="#ff1010"/><circle cx="313.9" cy="535.7" r="1.9" fill="#ff1010"/><circle cx="330.4" cy="528" r="1.9" fill="#ff1010"/><circle cx="346.5" cy="532.2" r="1.9" fill="#ff1010"/><circle cx="362.8" cy="527.8" r="1.9" fill="#ff1010"/><circle cx="378.8" cy="536.8" r="1.9" fill="#ff1010"/><circle cx="395.1" cy="520.5" r="1.9" fill="#ff1010"/><circle cx="411.1" cy="535" r="1.9" fill="#ff1010"/><circle cx="427.4" cy="539.6" r="1.9" fill="#ff1010"/><circle cx="443.7" cy="539.6" r="1.9" fill="#ff1010"/><circle cx="459.8" cy="578.4" r="1.9" fill="#ff1010"/><circle cx="476.1" cy="585.3" r="1.9" fill="#ff1010"/><circle cx="492.1" cy="585.7" r="1.9" fill="#ff1010"/>
<clipPath id="c7"><rect x="71" y="518" width="455" height="67.6"/></clipPath>
<g clip-path="url(#c7)"><circle cx="70.9" cy="586.3" r="2" fill="#0000ff"/><circle cx="87.1" cy="586.3" r="2" fill="#0000ff"/><circle cx="103.3" cy="586.3" r="2" fill="#0000ff"/><circle cx="119.5" cy="586.3" r="2" fill="#00e000"/><circle cx="135.7" cy="586.3" r="2" fill="#00e000"/><circle cx="151.9" cy="586.3" r="2" fill="#0000ff"/><circle cx="168.1" cy="586.3" r="2" fill="#0000ff"/><circle cx="184.3" cy="586.3" r="2" fill="#0000ff"/><circle cx="200.5" cy="586.3" r="2" fill="#0000ff"/><circle cx="216.7" cy="586.3" r="2" fill="#0000ff"/><circle cx="232.9" cy="586.3" r="2" fill="#0000ff"/><circle cx="249.1" cy="586.3" r="2" fill="#0000ff"/><circle cx="265.3" cy="586.3" r="2" fill="#0000ff"/><circle cx="281.5" cy="586.3" r="2" fill="#00e000"/><circle cx="297.7" cy="586.3" r="2" fill="#0000ff"/><circle cx="313.9" cy="586.3" r="2" fill="#0000ff"/><circle cx="330.1" cy="586.3" r="2" fill="#0000ff"/><circle cx="346.3" cy="586.3" r="2" fill="#0000ff"/><circle cx="362.5" cy="586.3" r="2" fill="#0000ff"/><circle cx="378.7" cy="586.3" r="2" fill="#0000ff"/><circle cx="394.9" cy="586.3" r="2" fill="#00e000"/><circle cx="411.1" cy="586.3" r="2" fill="#0000ff"/><circle cx="427.3" cy="586.3" r="2" fill="#00e000"/><circle cx="443.5" cy="586.3" r="2" fill="#0000ff"/><circle cx="459.7" cy="586.3" r="2" fill="#0000ff"/><circle cx="475.9" cy="586.3" r="2" fill="#0000ff"/><circle cx="492.1" cy="586.3" r="2" fill="#0000ff"/></g>
<line x1="188.3" y1="518.5" x2="188.3" y2="586.8" stroke="#ff00ff" stroke-width="1.3" stroke-dasharray="1.6 2"/>
<line x1="430.2" y1="518.5" x2="430.2" y2="586.8" stroke="#00a000" stroke-width="1.2" stroke-dasharray="5 3"/>
<line x1="443.8" y1="518.5" x2="443.8" y2="586.8" stroke="#ff3030" stroke-width="1.6" stroke-dasharray="6 3"/>
<line x1="465.2" y1="518.5" x2="465.2" y2="586.8" stroke="#ff00ff" stroke-width="1.3" stroke-dasharray="1.6 2"/>
<line x1="470.9" y1="518.5" x2="470.9" y2="586.8" stroke="#ff3030" stroke-width="1.6" stroke-dasharray="6 3"/>
<line x1="475.4" y1="518.5" x2="475.4" y2="586.8" stroke="#0000ff" stroke-width="1.3" stroke-dasharray="1.6 2"/>
<line x1="484.4" y1="518.5" x2="484.4" y2="586.8" stroke="#00a000" stroke-width="1.2" stroke-dasharray="5 3"/>
<line x1="76.8" y1="523.2" x2="93.5" y2="523.2" stroke="#00e000" stroke-width="1.2"/>
<circle cx="86" cy="523.2" r="2.2" fill="#00e000"/>
<text x="95.6" y="526.6" font-size="9.0" fill="#00e000">N&#160;&#160;He+</text>
<line x1="76.8" y1="532.2" x2="93.5" y2="532.2" stroke="#ff1010" stroke-width="1.2"/>
<circle cx="86" cy="532.2" r="2.2" fill="#ff1010"/>
<text x="95.6" y="535.6" font-size="9.0" fill="#ff1010">N&#160;&#160;He++</text>
<line x1="76.8" y1="541.5" x2="93.5" y2="541.5" stroke="#0000ff" stroke-width="1.2"/>
<circle cx="86" cy="541.5" r="2.2" fill="#0000ff"/>
<text x="95.6" y="544.9" font-size="9.0" fill="#0000ff">N&#160;&#160;O+</text>
<path transform="matrix(.25 0 0 .1 0 0)" vector-effect="non-scaling-stroke" d="M288 6323l1 14 1 7 2-7 1 8 1-17 1 19 1-29 2 21 1-11 1-2 1-7 1 4 2 10 1-14 1 8 1-9 1-11 2 21 1-12 1 4 1 14 1-1 2-22 1 7 1 9 1-13 1-11 2 23 1 8 1-14 1-11 1-6 2 3 1 1 1 0 1-6 1 2 2 12 1-10 1 2 1 0 1 10 2-1 1-11 1-15 1 26 1-6 2-9 1 13 1-8 1-6 1 22 2-2 1-42 1 38 1-14 1 18 2-28 1 15 1-9 1 4 1 0 2 5 1-14 1 4 1 7 1-10 2 9 1-12 1 11 1-13 1-3 2 12 1 16 1-6 1 5 1-8 2-5 1 6 1-16 1 10 1-7 2 19 1-8 1-9 1 5 1 8 2-9 1 2 1 3 1-5 1 22 2-18 1-10 1 1 1 27 1-20 2-12 1-6 1 22 1 17 1-18 2-8 1 13 1-13 1 0 1 0 2-3 1-8 1 15 1 17 1-32 2 3 1 14 1-7 1 1 1 4 2 4 1-3 1 5 1 2 1-11 2 13 1-6 1-10 1 25 1-19 2 12 1-10 1 15 1-22 1 11 2 0 1-1 1 26 1-33 1 8 2 4 1 16 1-11 1-7 1 10 2-7 1 3 1 23 1-24 1 6 2 4 1-19 1 18 1-12 1-8 2 26 1-4 1 7 1-22 1 34 2-2 1-20 1 13 1-5 1 11 2-3 1 0 1 2 1-7 1-1 2 6 1 11 1-7 1 5 1-9 2 11 1 6 1-4 1-7 1 24 2-8 1-12 1 18 1-10 1 9 2-6 1-11 1 12 1 26 1-8 2-9 1-5 1-5 1 7 1 12 2 5 1 7 1-28 1 7 1 12 2-10 1 15 1-13 1 14 1-11 2 20 1-14 1-3 1 12 1-9 2 37 1-26 1-4 1-14 1 25 2 2 1-17 1 2 1 16 1 7 2-26 1 4 1 16 1 14 1-25 2 16 1 17 1-15 1 14 1 2 2-4 1-10 1 19 1 0 1 10 2-19 1 21 1 18 1-20 1-10 2 18 1-14 1 17 1 8 1 1 2 12 1-14 1 10 1 1 1-18 2-12 1-3 1-13 1-14 1-12 2-7 1-9 1-7 1-32 1 14 2 6 1 18 1 2 1-10 1 3 2 8 1 9 1-7 1 3 1 10 2 11 1 12 1 1 1-14 1 0 2 27 1-24 1 13 1 0 1 16 2-4 1 2 1 4 1-11 1 12 2-1 1 16 1-16 1 4 1 38 2-27 1 11 1-7 1 0 1 2 2-12 1-3 1 2 1 2 1 1 2-12 1 2 1-7 1 8 1-14 2 4 1-3 1-16 1 9 1-15 2 31 1-19 1 9 1-8 1 20 2 14 1-5 1 1 1 12 1 4 2 11 1-14 1 26 1-9 1 6 2-12 1-9 1 9 1-23 1 0 2-11 1 14 1-5 1 2 1-30 2 8 1-15 1 11 1-15 1-14 2 28 1-13 1 2 1-7 1-11 2-10 1 1 1-5 1 0 1-18 2 25 1 0 1-10 1 12 1-2 2-11 1 18 1-14 1 21 1-1 2-6 1-9 1 9 1 3 1-11 2 8 1-3 1-2 1 22 1-12 2-2 1-3 1 20 1-31 1 16 2-13 1-39 1 4 1 13 1-25 2-16 1 3 1-18 1-3 1-18 2 5 1-9 1-11 1-8 1 17 2 14 1 44 1-19 1 19 1-15 2 26 1-25 1 9 1 5 1-7 2 21 1-15 1 7 1-9 1 1 2 8 1-8 1-9 1-3 1 23 2-13 1 0 1 2 1 8 1-10 2-11 1-1 1 13 1-13 1 24 2 6 1-31 1 15 1-3 1 33 2-28 1 21 1 6 1-17 1 4 2 11 1-34 1 20 1 2 1-12 2 6 1 14 1-1 1-19 1 26 2-3 1-8 1-16 1-16 1 2 2-4 1-6 1-12 1 0 1-13 2-9 1 14 1-19 1-12 1 9 2-11 1-14 1-1 1 5 1-25 2 7 1 16 1 0 1 13 1-15 2 18 1 28 1-8 1 18 1-8 2 14 1 2 1 1 1-16 1 6 2-22 1-9 1-2 1 6 1-7 2-12 1 4 1 0 1 2 1-9 2-20 1 4 1 10 1-3 1-24 2 4 1-10 1-4 1-2 1 2 2-6 1-10 1 6 1 13 1 40 2-9 1 27 1 5 1 4 1 4 2-4 1 26 1 16 1-33 1 3 2 12 1-16 1 5 1-14 1 0 2-10 1-5 1-2 1 2 1-10 2-22 1 15 1 9 1-20 1-14 2 6 1-15 1 20 1-5 1 6 2-1 1 13 1-1 1 17 1-1 2-14 1 8 1 13 1 11 1-3 2-2 1 7 1 10 1 20 1-17 2 8 1 13 1 3 1 7 1 5 2 7 1 9 1-8 1 21 1-15 2-5 1-2 1 10 1 1 1-18 2 13 1-5 1-13 1 6 1 5 2 7 1-13 1-8 1-2 1-3 2 13 1-17 1 3 1-6 1 7 2 2 1 3 1 2 1-17 1-6 2 15 1-6 1-3 1-3 1 4 2-13 1 3 1 4 1 3 1 1 2-9 1 4 1 0 1 6 1-3 2-13 1 13 1 12 1-33 1 18 2-10 1-9 1 15 1 6 1-21 2 11 1 8 1-15 1 8 1-4 2-15 1 21 1-13 1 12 1-21 2-1 1 6 1 22 1-14 1 1 2-11 1-9 1-4 1 8 1 10 2 14 1-32 1-4 1 25 1 2 2-9 1-12 1 20 1-19 1 30 2-25 1-5 1 0 1 29 1-18 2-2 1-15 1 13 1-5 1 14 2-21 1 21 1-23 1 0 1 9 2 0 1-17 1 1 1 4 1 15 2 3 1-3 1-4 1 2 1-12 2 7 1-5 1-2 1 21 1-18 2 10 1-20 1 6 1-3 1 1 2 2 1 4 1-3 1-6 1 19 2-21 1 15 1-14 1-5 1 20 2-24 1 3 1 13 1-7 1-7 2 14 1 13 1-6 1-1 1 4 2-8 1 14 1-7 1-11 1 7 2 9 1 2 1 0 1-7 1 13 2-9 1-7 1 13 1 19 1-1 2-8 1 10 1-2 1-10 1 13 2-9 1-2 1 6 1-14 1 10 2 7 1-3 1-12 1 9 1-23 2 16 1-12 1 15 1-12 1 1 2-1 1-13 1-19 1 18 1 6 2 12 1-15 1 5 1-7 1 0 2 4 1-10 1 10 1 7 1-6 2-21 1 14 1-2 1 2 1-13 2 12 1-9 1-8 1 12 1-11 2-13 1 13 1-13 1 5 1 7 2-21 1 12 1 1 1-6 1-1 2-6 1 6 1-1 1 11 1-6 2 11 1-4 1-4 1 2 1-12 2 20 1-8 1-11 1 0 1-1 2-9 1 17 1-17 1 14 1-2 2-4 1 7 1 2 1-17 1-7 2 14 1 11 1-3 1 1 1 0 2 11 1-22 1 8 1 24 1-35 2 0 1 7 1 7 1 3 1-4 2 9 1 7 1-13 1-11 1 8 2 2 1 6 1-12 1 20 1-9 2 11 1-17 1 0 1 30 1-43 2 16 1 1 1-3 1-3 1 21 2-11 1 0 1 10 1-3 1-6 2 0 1 15 1 9 1-5 1 7 2 2 1-12 1 18 1-4 1 20 2-13 1-11 1 8 1-19 1 15 2 10 1 2 1 4 1-10 1-3 2 4 1-3 1 25 1-23 1 0 2 29 1-19 1 10 1-1 1-7 2 3 1 10 1-18 1-16 1-5 2 8 1 6 1 8 1 0 1 0 2-3 1 3 1-19 1 1 1-25 2 17 1 10 1-22 1 4 1-12 2-1 1-14 1 4 1-16 1 5 2-15 1-3 1 10 1-22 1 8 2-3 1-10 1 4 1 6 1 21 2-3 1 9 1 18 1-14 1 19 2-5 1 4 1-5 1 10 1 34 2-14 1-4 1 24 1 0 1 7 2 5 1-21 1 1 1 12 1 4 2-3 1 7 1-19 1 20 1-30 2 20 1 3 1 0 1 0 1-6 2-1 1-13 1 12 1-4 1 4 2-9 1-7 1 24 1-30 1 13 2 15 1 0 1-30 1 23 1-13 2 8 1 2 1 1 1-26 1 9 2 13 1-1 1 9 1-7 1 5 2 1 1-2 1-19 1 31 1-12 2-7 1 3 1-2 1 7 1-14 2 25 1-17 1 20 1-13 1 12 2 8 1-7 1-3 1 3 1-3 2 1 1 22 1-28 1 5 1 4 2 5 1 7 1-5 1 11 1-17 2 14 1 0 1-11 1 10 1-1 2-2 1 0 1 17 1-14 1 17 2 2 1-3 1 1 1-18 1 17 2 6 1 2 1 6 1-4 1-8 2-6 1-4 1 5 1-5 1 13 2-20 1-6 1 0 1 25 1-22 2-15 1 23 1-18 1 2 1-10 2 10 1-2 1-16 1 6 1-16 2 23 1-24 1-1 1-3 1-3 2 9 1-10 1 10 1-4 1 4 2 0 1-19 1 6 1-9 1 6 2 7 1-3 1-10 1 10 1-4 2 4 1-28 1 13 1 17 1-24 2 10 1 1 1-5 1 3 1 4 2-3 1-4 1 9 1 3 1-1 2-26 1 30 1-9 1-6 1 10 2-2 1 1 1-11 1-4 1 33 2-4 1-5 1 4 1 6 1 14 2-15 1 8 1 33 1-29 1 20 2 2 1 3 1 15 1-11 1 18 2-6 1-2 1-1 1 0 1 11 2-1 1-12 1-10 1-3 1 4 2 12 1-8 1-11 1 14 1-31 2-6 1 2 1 20 1-20 1 3 2 2 1-7 1 11 1-7 1-8 2 7 1-27 1 27 1-18 1-6 2 6 1 3 1-7 1 4 1-3 2-1 1 22 1-2 1-20 1 20 2-10 1 3 1 13 1 8 1 8 2-2 1-12 1 2 1 1 1 6 2 20 1-9 1 2 1-29 1 34 2-7 1 7 1 8 1 5 1-10 2 2 1 10 1-4 1 22 1-17 2-14 1 14 1-8 1 2 1-1 2 8 1-1 1-17 1-15 1-5 2 33 1-20 1 5 1-12 1 3 2 3 1-13 1 1 1 3 1-17 2 1 1 13 1-9 1 1 1-12 2 17 1-1 1 14 1-18 1-2 2 9 1-8 1 13 1-14 1-1 2 7 1 4 1-7 1 7 1-24 2 12 1 3 1 10 1-26 1 25 2-15 1 7 1-5 1-22 1 13 2 6 1-7 1 0 1 6 1-4 2-1 1 9 1-7 1-6 1 6 2 13 1-11 1 9 1 12 1-9 2 4 1-5 1 22 1 2 1-7 2 11 1-9 1-3 1 0 1 21 2-10 1 13 1-4 1 14 1-5 2-9 1-1 1 15 1 14 1-5 2 16 1 1 1-10 1 2 1 5 2 6 1 8 1 3 1-8 1 14 2 1 1 12 1-14 1 28 1-9 2-1 1 5 1 0 1 13 1 10 2-3 1 3 1 9 1 1 1-10 2-34 1 15 1-4 1-8 1-4 2 7 1-18 1-8 1-7 1-19 2-3 1-9 1 23 1-19 1-16 2 1 1-2 1-11 1 10 1-13 2-1 1-20 1-11 1 3 1 7 2 13 1-18 1 31 1-3 1 8 2 12 1-8 1 11 1 10 1-1 2-3 1 21 1-1 1 5 1 13 2-5 1 24 1 1 1 11 1-13 2 12 1 3 1 4 1 2 1 12 2 7 1-1 1-6 1 17 1 30 2-13 1 19 1-11 1-3 1 25 2 9 1 4 1 2 1-16 1-8 2-29 1-10 1-1 1-50 1 4 2 4 1-36 1-3 1 7 1 1 2 14 1-23 1-12 1 27 1-18 2 0 1-3 1-14 1 2 1 9 2-1 1-33 1 2 1-23 1 4 2-22 1-14 1-7 1 7 1-31 2 33 1-39 1-6 1 0 1 1 2-6 1 81 1-127 1 45 1-5 2 8 1-11 1 35 1-78 1 86 2 3 1-65 1 34 1-79 1 101 2-2 1 20 1-54 1 89 1-37 2 20 1-3 1-21 1-22 1 50 2-19 1 69 1-78 1-14 1 45 2-54 1 41 1-22 1 8 1-23 2-39 1-22 1-6 1 24 1-42 2 56 1-3 1-110 1 61 1-77 2 36 1 73 1-97 1 36 1 10 2-49 1 24 1 68 1-15 1 39 2-51 1-73 1 90 1-41 1 78 2-59 1 115 1-140 1 53 1 110 2-54 1-15 1 26 1 25 1-88 2 43 1 50 1-17 1-62 1 39 2 16 1-78 1 96 1 4 1-108 2 41 1-14 1-24 1 28 1-38 2 99 1-15 1-78 1 5 1 90 2-50 1 74 1-75 1 8 1 18 2-47 1 23 1 29 1 83 1-114 2 20 1-53 1 31 1-32 1 0 2 1 1-13 1 79 1-13 1-90 2 112 1-35 1-33 1-36 1 50 2 10 1-76 1-10 1 115 1-90 2 47 1-47 1-7 1 63 1-84 2 92 1-46 1 51 1-95 1-11 2-6 1 11 1 44 1-122 1 122 2-77 1-36 1-9 1 51 1-20 2-5 1-12 1 60 1-23 1-21 2 52 1 6 1 14 1 57 1-26 2-45 1 5 1 37 1 2 1 42 2 20 1 105 1-28 1 41 1-37 2 2 1-48" fill="none" stroke="#ff1010" stroke-width="1.0" stroke-linejoin="round"/>
<path transform="matrix(.25 0 0 .1 0 0)" vector-effect="non-scaling-stroke" d="M288 6331l1 9 1-15 2 16 1-3 1-8 1-1 1 11 2-15 1-1 1-1 1-10 1 7 2-6 1 17 1-10 1-14 1 22 2-15 1-1 1 0 1-8 1 7 2 6 1-16 1 8 1-5 1 9 2-6 1-20 1 22 1 1 1-15 2 4 1 1 1-2 1-4 1 19 2-19 1 1 1 1 1-1 1 14 2-9 1 8 1-20 1 14 1-6 2 2 1-17 1 9 1 4 1-3 2 7 1 1 1 2 1-3 1-11 2 14 1-12 1 16 1-16 1 15 2-27 1 32 1-11 1 4 1-7 2 1 1-3 1 13 1-9 1 0 2-2 1-7 1 5 1 5 1-7 2 21 1-17 1 6 1 3 1-12 2 14 1-7 1 4 1-2 1 2 2 6 1-5 1-3 1 18 1-17 2 2 1-3 1 3 1-13 1 20 2 4 1-21 1 16 1-4 1-6 2-9 1-1 1 11 1 13 1-4 2 3 1-20 1 1 1 2 1 16 2-20 1 1 1 11 1-6 1-8 2 19 1-24 1 14 1 3 1-3 2 5 1 5 1-11 1 13 1-7 2 3 1-3 1 6 1 0 1 2 2-6 1 8 1 1 1 14 1-8 2-5 1 9 1 1 1-7 1 0 2 19 1-14 1 4 1-10 1 8 2-13 1 13 1 3 1-17 1 2 2 6 1 5 1-6 1-10 1 1 2 4 1 1 1-7 1-2 1 6 2 2 1-5 1-6 1-12 1 16 2-2 1-5 1-7 1 6 1 18 2-31 1 4 1 9 1-14 1 5 2 5 1-6 1-1 1 2 1-8 2 13 1-15 1-1 1 4 1-1 2 8 1-5 1-4 1-1 1-4 2 16 1-13 1 14 1-18 1 16 2-7 1-6 1-9 1 21 1 6 2-6 1-13 1 29 1-18 1-3 2 11 1-9 1 18 1-11 1-2 2 3 1-3 1 5 1 13 1-3 2 0 1-2 1-6 1 12 1-11 2 7 1-8 1-5 1-6 1 15 2-14 1 9 1 8 1-5 1-8 2 4 1 14 1-16 1 10 1-4 2 8 1-14 1 11 1-7 1 5 2-11 1 5 1 4 1 5 1 3 2-2 1 11 1-7 1 11 1-11 2 10 1 0 1 9 1-14 1 15 2-10 1 18 1-9 1 21 1-9 2 10 1-4 1 5 1-12 1 4 2-12 1 10 1-10 1 7 1-4 2-6 1-8 1 2 1-7 1-5 2-1 1 3 1-8 1-4 1-7 2-9 1 5 1-2 1 0 1-13 2-4 1-8 1 11 1-15 1 14 2-18 1 0 1-1 1 3 1 7 2-20 1-2 1 18 1-2 1-3 2-20 1 18 1-19 1 11 1-22 2 4 1-12 1 9 1 8 1-8 2-1 1 3 1-1 1-11 1 1 2 3 1-2 1 11 1-3 1-1 2 3 1-3 1-5 1 12 1-4 2 5 1-10 1 21 1-11 1-3 2 6 1-17 1-5 1 12 1 17 2-8 1-12 1 12 1 4 1 18 2-10 1 15 1-17 1 1 1 0 2-5 1-21 1 11 1 22 1-17 2 9 1-22 1 15 1-8 1-16 2 21 1-8 1-1 1 15 1-6 2-13 1 16 1-26 1 7 1-6 2 2 1 11 1-3 1 1 1-6 2-11 1-12 1 1 1-9 1-3 2-4 1 3 1-15 1 9 1-8 2-9 1 0 1-17 1 30 1 13 2 21 1 18 1 20 1 6 1-2 2 9 1 15 1-13 1 2 1 8 2-12 1 16 1 5 1 8 1-7 2 5 1-7 1 1 1-9 1 31 2-15 1 0 1 5 1 7 1 1 2 4 1 5 1 14 1-26 1 18 2-20 1 22 1 0 1 4 1-12 2 6 1 11 1-26 1 19 1 3 2-7 1 17 1-10 1 8 1-10 2-6 1-1 1-8 1-12 1-14 2 17 1-7 1-13 1 1 1-10 2 2 1-5 1-6 1-10 1 5 2-15 1 1 1 9 1-6 1 2 2 3 1-8 1 1 1-6 1-6 2-5 1 5 1-2 1-18 1 9 2 1 1-7 1-15 1 13 1-15 2 17 1-10 1 13 1-14 1 16 2 1 1-19 1 11 1 5 1-17 2-9 1 17 1-6 1 3 1 4 2-19 1 23 1-14 1 3 1 14 2-9 1-5 1-15 1 25 1-18 2 11 1-7 1 11 1-18 1 8 2 3 1-3 1-13 1 27 1-1 2-11 1 8 1 5 1 1 1 7 2-9 1-3 1-5 1 10 1-2 2 13 1-19 1 9 1 11 1 2 2-12 1 11 1-15 1 21 1-22 2 11 1-9 1-15 1 8 1 20 2-15 1-14 1-1 1 11 1-4 2 0 1-5 1 3 1-2 1-5 2-16 1 12 1 2 1 8 1 12 2-4 1 19 1-5 1 17 1-1 2 10 1-8 1 13 1 19 1 7 2 5 1-2 1 4 1 8 1 3 2 4 1-9 1 6 1-4 1-17 2 11 1 11 1-3 1 6 1-25 2 25 1-9 1 3 1-8 1 15 2-7 1 11 1-18 1 12 1 4 2 4 1-1 1-5 1-1 1-11 2-3 1 26 1-4 1-14 1-10 2 23 1-3 1-10 1 4 1-2 2 8 1-9 1 11 1-7 1 4 2-14 1 8 1-21 1 24 1-23 2 16 1-3 1 8 1-11 1 13 2-4 1-12 1 8 1-1 1-2 2-17 1 13 1-2 1-4 1-8 2 14 1 0 1-14 1-1 1 9 2 3 1-5 1-7 1 5 1 2 2-7 1-1 1 13 1 3 1-1 2-4 1-4 1 2 1-4 1-6 2 11 1-6 1-12 1 0 1 3 2 3 1-16 1 6 1 9 1-6 2 10 1-9 1-22 1-5 1 36 2-21 1-9 1 12 1-6 1 6 2 1 1-9 1 18 1-20 1-2 2-9 1 13 1-5 1 3 1 1 2-4 1 6 1-18 1-6 1 2 2 8 1 20 1-21 1 7 1-3 2-10 1 4 1 5 1-19 1 1 2 17 1-12 1 0 1-2 1-9 2 17 1-8 1 1 1 19 1 1 2-16 1-4 1 13 1-10 1 12 2-11 1 15 1-5 1 13 1 1 2 8 1-16 1-6 1 5 1 1 2 0 1 10 1 3 1-5 1-1 2 12 1-13 1 12 1-7 1 9 2 14 1-11 1 7 1 3 1 7 2-12 1 8 1-10 1 17 1-1 2 1 1 0 1-6 1 26 1-23 2 6 1-2 1 6 1-20 1 32 2-22 1 3 1-1 1-2 1 16 2 4 1-10 1-31 1 20 1 3 2-17 1 18 1-8 1-18 1 3 2-1 1-10 1-1 1 16 1 7 2-8 1-6 1 9 1-5 1-13 2-6 1 7 1-25 1 5 1 1 2 0 1 19 1-20 1-12 1 8 2-14 1 16 1 14 1-11 1-1 2-15 1-2 1 7 1-12 1-10 2 19 1-11 1-8 1 7 1 9 2-11 1-2 1-5 1-4 1 15 2-8 1 1 1-3 1-3 1-8 2 3 1 8 1-3 1-1 1 2 2 13 1-26 1 11 1-22 1 16 2-7 1-3 1 9 1-1 1-11 2 17 1 0 1 10 1 0 1 7 2-12 1 22 1-9 1 0 1-1 2-2 1 11 1 4 1 9 1-6 2-4 1 3 1-1 1 0 1 6 2 17 1-24 1 9 1 2 1-7 2 25 1-18 1 17 1 11 1-20 2 2 1-16 1 9 1-12 1 9 2-19 1 5 1-5 1 2 1 5 2-3 1-14 1 11 1-10 1-1 2-2 1 5 1-19 1-15 1 14 2-12 1-6 1-3 1 16 1-9 2-16 1 6 1 2 1 12 1 14 2-10 1 14 1-1 1 1 1 9 2-8 1-1 1 4 1 10 1 5 2-10 1 6 1 0 1 15 1 7 2-15 1 26 1-12 1 6 1 1 2 9 1-3 1 1 1 6 1 0 2-3 1-3 1 4 1 10 1-9 2-5 1 10 1 11 1-2 1-16 2 14 1 8 1-3 1-20 1 9 2-1 1 18 1-8 1-2 1 15 2-8 1 2 1 9 1 3 1-15 2-8 1 3 1 12 1 0 1 0 2 11 1-9 1-6 1 19 1-22 2-1 1 24 1 3 1 1 1-16 2 13 1-2 1 10 1-1 1-10 2-1 1-3 1 7 1-3 1 12 2 4 1 12 1-12 1-5 1-1 2 7 1-18 1 6 1 6 1-2 2-8 1 20 1-9 1 0 1 3 2-3 1 2 1 8 1-18 1 7 2-8 1 12 1 1 1-23 1 15 2 0 1 6 1-10 1 8 1-10 2 1 1-10 1 13 1 0 1-7 2 14 1 3 1-5 1-8 1 5 2 5 1-8 1 2 1-6 1 5 2 7 1-13 1 5 1-8 1-2 2 7 1-3 1 5 1 3 1-14 2 9 1 4 1-2 1 11 1-28 2 28 1 0 1-7 1-20 1 27 2-12 1 17 1-6 1-13 1 1 2 7 1 11 1-7 1-7 1-8 2 7 1 10 1-3 1-12 1 15 2 0 1-2 1 1 1 0 1 6 2-2 1-15 1 7 1 1 1 15 2-19 1 21 1-26 1 27 1-5 2-13 1 18 1-15 1 5 1-7 2 12 1 4 1 4 1-10 1-4 2 6 1-3 1 11 1-9 1-19 2 22 1-17 1-8 1 3 1-11 2 14 1-21 1 6 1-4 1 17 2-9 1-12 1 11 1 3 1-7 2-3 1-7 1-10 1 0 1-1 2 6 1-7 1 2 1 4 1-24 2 9 1-12 1-11 1 24 1-4 2-7 1 10 1-19 1 38 1-15 2-10 1 6 1-4 1-12 1 14 2 1 1-9 1 18 1 4 1-6 2 12 1-10 1-10 1 22 1-12 2 1 1-8 1-5 1 11 1-2 2 7 1-11 1-3 1 3 1 5 2-4 1 15 1-5 1-9 1 10 2-7 1 15 1-6 1-9 1 5 2 7 1-12 1 8 1 13 1-10 2-1 1 3 1-1 1 2 1-21 2 9 1-3 1 0 1-1 1 23 2-15 1-1 1-7 1-4 1 5 2 3 1-6 1 11 1-7 1-26 2 38 1-29 1 8 1 4 1-16 2-2 1 20 1-22 1 26 1-10 2-12 1 9 1 1 1-14 1-14 2 22 1-2 1-20 1 27 1-15 2-4 1 3 1 17 1 6 1-2 2-8 1-3 1 8 1-5 1 2 2-1 1 3 1-10 1 3 1 8 2 8 1-10 1 19 1 1 1-23 2 12 1 3 1-9 1 23 1-38 2 18 1 0 1-6 1 0 1-7 2 11 1 10 1-22 1 11 1 6 2 3 1-15 1 10 1-23 1 23 2-20 1 18 1 1 1-10 1-4 2 4 1-1 1-3 1-1 1-2 2 13 1-8 1-6 1 11 1-11 2 0 1 2 1-4 1 9 1-3 2 12 1-17 1 16 1-28 1 7 2 2 1-23 1 25 1-11 1-13 2 19 1-4 1-16 1 7 1-3 2-9 1 12 1-21 1 16 1-14 2 13 1 8 1-11 1-20 1 12 2-10 1 8 1 4 1-24 1-7 2 14 1 0 1-7 1 10 1-2 2 2 1-1 1-10 1 21 1-8 2-10 1 15 1-17 1-8 1 16 2-8 1-3 1 17 1-10 1 4 2 8 1-20 1 15 1-5 1 8 2-5 1-2 1 3 1-7 1-9 2 4 1 0 1 3 1 1 1 1 2 11 1-8 1 4 1 8 1 2 2 0 1 18 1-4 1 14 1-4 2-9 1 6 1-22 1 2 1 1 2-10 1-21 1 1 1-6 1-10 2-9 1-2 1-23 1 21 1-9 2-4 1 4 1-10 1 15 1 30 2-27 1 24 1-10 1-5 1 17 2 16 1-8 1 15 1-3 1-11 2-26 1-10 1-17 1-14 1-12 2-46 1-7 1 22 1-3 1-6 2 6 1-16 1-20 1 56 1-17 2-8 1-10 1 17 1-50 1 13 2 34 1-47 1 66 1-32 1 19 2 33 1-50 1 53 1-24 1 40 2 12 1 34 1-10 1-43 1-51 2 75 1 37 1-63 1-12 1-17 2 35 1-13 1-30 1-48 1 37 2 3 1 22 1-30 1 4 1-22 2-5 1 15 1 8 1-59 1-28 2 69 1-24 1 41 1-15 1-5 2-20 1 42 1-17 1-26 1-48 2 22 1 67 1 73 1-43 1-38 2 13 1 12 1-32 1 42 1-36 2 16 1 53 1 24 1-36 1-44 2 49 1-40 1 103 1-91 1 33 2-35 1 83 1-28 1-18 1 9 2 2 1 13 1 37 1-37 1 11 2 30 1 28 1-34 1 67 1-44 2-15 1 53 1-109 1 66 1-89 2-13 1 54 1-57 1-17 1 39 2-43 1 67 1 36 1-33 1-56 2-34 1-4 1 29 1-95 1 105 2-114 1 40 1 5 1 23 1-3 2 18 1-57 1 63 1-98 1 59 2-66 1 84 1-76 1 14 1 42 2-44 1-4 1 13 1-88 1 58 2-25 1-9 1 18 1-40 1 29 2 43 1-35 1 32 1-36 1-39 2-5 1-23 1 12 1 59 1-46 2 23 1 37 1-85 1 46 1-19 2 100 1 1 1 19 1-15 1 21 2 14 1 66 1-121 1 112 1 48 2-64 1 50" fill="none" stroke="#000" stroke-width="1.0" stroke-linejoin="round"/>
<line x1="188.3" y1="586.8" x2="188.3" y2="655.1" stroke="#ff00ff" stroke-width="1.3" stroke-dasharray="1.6 2"/>
<line x1="430.2" y1="586.8" x2="430.2" y2="655.1" stroke="#00a000" stroke-width="1.2" stroke-dasharray="5 3"/>
<line x1="443.8" y1="586.8" x2="443.8" y2="655.1" stroke="#ff3030" stroke-width="1.6" stroke-dasharray="6 3"/>
<line x1="465.2" y1="586.8" x2="465.2" y2="655.1" stroke="#ff00ff" stroke-width="1.3" stroke-dasharray="1.6 2"/>
<line x1="470.9" y1="586.8" x2="470.9" y2="655.1" stroke="#ff3030" stroke-width="1.6" stroke-dasharray="6 3"/>
<line x1="475.4" y1="586.8" x2="475.4" y2="655.1" stroke="#0000ff" stroke-width="1.3" stroke-dasharray="1.6 2"/>
<line x1="484.4" y1="586.8" x2="484.4" y2="655.1" stroke="#00a000" stroke-width="1.2" stroke-dasharray="5 3"/>
<line x1="76.8" y1="595.5" x2="94.5" y2="595.5" stroke="#ff1010" stroke-width="1.0"/>
<text x="96.6" y="599" font-size="9.4" fill="#ff1010">T</text>
<text x="102" y="603.4" font-size="7.2" fill="#ff1010">||</text>
<line x1="76.8" y1="614.9" x2="94.5" y2="614.9" stroke="#000" stroke-width="1.0"/>
<text x="96.6" y="618.4" font-size="9.4" fill="#200000">T</text>
<text x="102" y="622.8" font-size="7.2" fill="#6080a0">&#8869;</text>
<path transform="matrix(.25 0 0 .1 0 0)" vector-effect="non-scaling-stroke" d="M288 7146l2 0 2-8 2 5 2 3 2-8 2 5 2-1 2 2 2 2 2-6 2 8 2-4 2 2 2-2 2 6 2 4 2-6 2-3 2 5 2 2 2-1 2-5 2 1 2-1 2 6 2-1 2 4 2-3 2 2 2 3 2-4 2 2 2-10 2 3 2-2 2-2 2 1 2 5 2 0 2 3 2-7 2 2 2 1 2 5 2-4 2 1 2 1 2-5 2 3 2-2 2 2 2 5 2 1 2-3 2 0 2-1 2-3 2 8 2-4 2-2 2 4 2-4 2 6 2-9 2 0 2 1 2 3 2-1 2 1 2 4 2-3 2 6 2-2 2-1 2-4 2 2 2 1 2-1 2 0 2 3 2 5 2-6 2-6 2 9 2-7 2 6 2 1 2-2 2-1 2-5 2 9 2-4 2 5 2-4 2 0 2-5 2 4 2-6 2 3 2 11 2-4 2-5 2 4 2-2 2 1 2-3 2 4 2-2 2 4 2-1 2-3 2-1 2 3 2-3 2 4 2 5 2 3 2-9 2 4 2 6 2 4 2-9 2-1 2 4 2 7 2-4 2-1 2 1 2 8 2-15 2 8 2-4 2 4 2 4 2 3 2-4 2-3 2 5 2-1 2 0 2 4 2 2 2 6 2-6 2-3 2 0 2 5 2 6 2-6 2-5 2 5 2 0 2 0 2-2 2 6 2-1 2 1 2-9 2 6 2 6 2-5 2-3 2-2 2 1 2-2 2 1 2 2 2-6 2 3 2 1 2 1 2-1 2-2 2 4 2-3 2-5 2 0 2 4 2-4 2 8 2 1 2-7 2-2 2 3 2 1 2 3 2 2 2 1 2-8 2-2 2 1 2 0 2-5 2 0 2 5 2 1 2 1 2 5 2-1 2-6 2-1 2 0 2 2 2-4 2 2 2-8 2 8 2 4 2-5 2 4 2-3 2-4 2-1 2 0 2 4 2-2 2 3 2 1 2-4 2 0 2-3 2 1 2 1 2 5 2-8 2 3 2 3 2 0 2-1 2 0 2-7 2 4 2 5 2 0 2 3 2 1 2-7 2 2 2-4 2 5 2-5 2 4 2 1 2 3 2-5 2 0 2 0 2-1 2-4 2 0 2 9 2 0 2 2 2-3 2 0 2 1 2 5 2 4 2-7 2 7 2-2 2 3 2-4 2-4 2-1 2-1 2 11 2-9 2 5 2-3 2 5 2 0 2 0 2-3 2 0 2 2 2-7 2-1 2-2 2-7 2 7 2 0 2 9 2-7 2-2 2-6 2 6 2 0 2 2 2-6 2-2 2 3 2 0 2-6 2 0 2 8 2-3 2-4 2 0 2 4 2-7 2 0 2 5 2-7 2 6 2-5 2 2 2-4 2 7 2-9 2-1 2-2 2 4 2-3 2 7 2-7 2 5 2-5 2 4 2-5 2-4 2 3 2-6 2 3 2 6 2 4 2-9 2-2 2 0 2-4 2 8 2 1 2-6 2 3 2-8 2 9 2-1 2 3 2-1 2-9 2 3 2 1 2 2 2-8 2 1 2-3 2 7 2-3 2 8 2-6 2-7 2 7 2-2 2-1 2 0 2 3 2-3 2-5 2 4 2 4 2-18 2 11 2-2 2 1 2 8 2 1 2 4 2-2 2-15 2-2 2 5 2 4 2-2 2 2 2 8 2-5 2-3 2-7 2 8 2-8 2 7 2-12 2-2 2 7 2 6 2-6 2-1 2 4 2-4 2 2 2-4 2 9 2-3 2 6 2-6 2 2 2 1 2 1 2-1 2 0 2 1 2-7 2 6 2-2 2 4 2-4 2-7 2 10 2 2 2 1 2-7 2 5 2 1 2 1 2-4 2 7 2 1 2-7 2 3 2 6 2-8 2-6 2 7 2 1 2-3 2 4 2 0 2 2 2 2 2-7 2-3 2 8 2 2 2-3 2 0 2 8 2 1 2-2 2-5 2 7 2-8 2 1 2-3 2 6 2 1 2 4 2-6 2 2 2-5 2-4 2 1 2 9 2-5 2-3 2 6 2 2 2 0 2 5 2-7 2 1 2 3 2-5 2 1 2-5 2 1 2 2 2-4 2 0 2-1 2-1 2 7 2 0 2-7 2 1 2 7 2 5 2-9 2 2 2 1 2-3 2 2 2-3 2 5 2-6 2 3 2 4 2 3 2-6 2 3 2-5 2 1 2 2 2 2 2 2 2-4 2 8 2-6 2 1 2 2 2 1 2-2 2 1 2-3 2-1 2 3 2 0 2 1 2-8 2 10 2 2 2 0 2 1 2-3 2 5 2 1 2 2 2-5 2-3 2-3 2 9 2-4 2 0 2 7 2 0 2-1 2-3 2 4 2-10 2-1 2 4 2 1 2-9 2-2 2-3 2-8 2 5 2-2 2-2 2-3 2-5 2 2 2 7 2-5 2-4 2-4 2 11 2-13 2 5 2 4 2-5 2 10 2-1 2 3 2-4 2-6 2 8 2-3 2-4 2 1 2-1 2 2 2-6 2 6 2-2 2 2 2 0 2 3 2-4 2 8 2 1 2-5 2-3 2-4 2 3 2 7 2-7 2 6 2-2 2 1 2-1 2-3 2 1 2 2 2 2 2 2 2 2 2-6 2 2 2-2 2-4 2 4 2 1 2-5 2 7 2 3 2-4 2-2 2 3 2-4 2-8 2 7 2 1 2-2 2 2 2-1 2 1 2 5 2-1 2-5 2-1 2 8 2-5 2-1 2 1 2-2 2 7 2 4 2-9 2 4 2 1 2-10 2 0 2 11 2-3 2-5 2-4 2 0 2 1 2 6 2 1 2-2 2-1 2-6 2-2 2 9 2-6 2-4 2 5 2 1 2-3 2 5 2 4 2-4 2-10 2 2 2-1 2 6 2-6 2 9 2-4 2-6 2 3 2 5 2-2 2-1 2-4 2 6 2-6 2 5 2-4 2 3 2 2 2-1 2-7 2-4 2 3 2 1 2 6 2-1 2 2 2-3 2-3 2 4 2 4 2-2 2-5 2 6 2-2 2-3 2 4 2-1 2 2 2 8 2 3 2-8 2 2 2-7 2-6 2 7 2 4 2-5 2 4 2-1 2-5 2 2 2 1 2 0 2 6 2 0 2 1 2-4 2-9 2 4 2 11 2 3 2-2 2-7 2 5 2 3 2-3 2 3 2 6 2 0 2-1 2 1 2 5 2-8 2 2 2 1 2-2 2 10 2 9 2-6 2-1 2 6 2-6 2 0 2-4 2 3 2 11 2-6 2-3 2-2 2-2 2 7 2-4 2 0 2-1 2 1 2-1 2-7 2 5 2-1 2 2 2-3 2-4 2 3 2-1 2-1 2 6 2-1 2-7 2 5 2-2 2 4 2 0 2 1 2-5 2 0 2 1 2-8 2 2 2-7 2 11 2 1 2 4 2-3 2-5 2 10 2-7 2 8 2-7 2 3 2 5 2 0 2-3 2 3 2-2 2-4 2 4 2-1 2-7 2 9 2 2 2-3 2 6 2 3 2 6 2-6 2 0 2 6 2 6 2-2 2 4 2 2 2 2 2 3 2-6 2 2 2 8 2 4 2 9 2-4 2 2 2-3 2 3 2-2 2-5 2 1 2 1 2 2 2-4 2 4 2 0 2-1 2-3 2 1 2-1 2 5 2-1 2 1 2 1 2-4 2 0 2-1 2 5 2-2 2-2 2 2 2 1 2 0 2-1 2 1 2 1 2 2 2-6 2-1 2 3 2-1 2 2 2-3 2 3 2 2 2-3 2 2 2 2 2 0 2-1 2 0 2 0 2-2 2 1 2 1 2 2 2-4 2-3 2 4 2 3 2-6 2 2 2 3 2 2 2-3 2 3 2-1 2 1 2-5 2-4 2 4 2 0 2 3 2-1 2 1 2-2 2 3 2-1 2-2 2 4 2 1 2-3 2 0 2 1 2 4 2-3 2-1 2-2 2 0 2 2 2-1 2 1 2 0 2 0 2-1 2-1 2 4 2-1 2-1 2 2 2 0 2-1 2 1 2 0 2-3 2 1 2 2" fill="none" stroke="#ff1010" stroke-width="1.0" stroke-linejoin="round"/>
<path transform="matrix(.25 0 0 .1 0 0)" vector-effect="non-scaling-stroke" d="M288 7209l2-1 2 1 2 7 2-6 2 2 2 4 2 2 2-11 2 4 2-1 2 1 2 4 2 4 2-5 2-7 2-8 2 1 2 8 2 1 2-1 2-11 2 19 2-11 2-9 2 9 2-12 2 13 2-2 2-8 2-4 2 7 2 0 2 0 2 4 2-8 2 4 2 6 2-2 2-1 2-6 2 5 2-5 2-7 2 17 2-13 2 2 2 2 2-7 2 6 2 1 2 2 2 7 2-16 2 10 2 3 2-4 2-1 2-9 2 10 2-2 2 2 2 0 2 1 2-3 2 7 2 0 2-3 2 14 2 1 2-7 2-11 2 2 2 0 2 0 2 6 2 1 2 0 2-6 2 15 2-8 2 4 2 2 2-7 2-4 2-1 2-21 2 15 2 16 2-10 2-4 2-7 2 3 2-4 2 0 2 2 2-3 2 5 2-3 2-13 2 6 2 9 2-8 2 4 2 8 2-14 2-6 2 8 2 8 2-19 2 6 2-5 2 0 2-8 2-5 2 9 2 7 2-1 2-1 2-9 2-8 2 12 2-5 2 5 2 8 2-4 2-9 2-1 2 4 2 2 2-10 2 2 2 0 2 4 2 8 2-4 2-1 2-9 2-6 2-6 2-7 2 5 2-7 2-1 2-6 2-3 2-21 2-2 2-24 2-13 2-17 2-10 2-9 2 1 2-16 2-1 2 4 2 6 2-3 2 5 2 2 2-6 2 5 2-1 2 10 2 4 2-2 2 9 2-3 2 2 2 1 2-7 2 7 2 11 2-10 2 7 2 3 2 10 2 7 2-7 2-3 2 15 2 1 2-4 2 4 2-3 2 17 2-6 2 7 2-15 2 5 2-7 2-11 2 1 2-5 2-7 2-1 2-8 2-6 2-1 2-7 2-9 2-6 2-5 2 10 2 14 2 1 2-15 2-9 2 11 2 6 2 8 2 1 2 6 2 9 2-5 2 3 2-1 2-5 2 4 2 11 2 9 2-2 2-3 2-15 2 5 2-2 2-16 2-4 2 1 2-4 2-2 2 59 2 79 2-12 2 12 2-8 2 5 2-11 2 10 2 3 2-7 2-18 2-13 2-5 2-28 2-11 2-14 2-22 2-12 2-13 2-5 2-3 2 0 2-12 2-3 2-7 2-3 2 0 2-1 2 1 2-14 2-9 2 0 2 5 2-17 2 2 2-4 2 16 2 0 2-11 2 7 2-4 2 5 2-7 2 2 2 2 2 10 2-3 2-7 2-4 2 2 2-6 2-2 2 9 2 15 2-5 2 8 2-7 2-6 2 7 2 5 2 5 2-4 2 0 2-4 2-8 2 15 2 14 2-2 2-1 2-3 2 1 2-8 2 5 2 1 2 3 2 9 2 3 2-1 2 8 2-13 2 13 2 8 2 11 2 6 2 14 2 4 2 15 2-15 2-34 2-4 2-14 2-20 2 2 2 17 2 23 2 4 2 10 2 1 2 20 2 2 2 11 2 15 2 16 2 1 2 10 2-3 2 15 2-7 2 11 2-4 2 22 2 12 2-1 2 0 2-6 2 12 2 2 2 19 2-10 2-1 2 4 2-3 2-11 2-9 2 5 2-5 2-15 2 11 2 0 2-6 2-1 2 14 2-2 2 2 2 8 2 9 2-3 2 8 2 7 2-9 2 9 2 4 2 10 2-6 2 6 2-6 2-2 2 3 2 4 2-4 2-1 2-3 2 3 2 7 2-6 2 4 2-2 2-7 2 8 2-12 2 9 2 3 2 1 2-6 2 5 2 5 2-14 2-8 2-5 2-6 2-5 2-11 2-15 2-14 2-8 2-8 2-6 2-1 2 11 2 7 2-10 2-2 2 7 2 4 2 6 2-4 2-1 2 5 2 1 2-3 2-3 2 0 2 15 2-2 2 16 2-11 2 1 2 9 2 6 2 6 2-7 2 6 2-5 2 23 2 6 2-8 2 2 2-3 2 3 2-13 2 0 2-6 2 5 2 9 2-9 2-9 2 4 2 0 2 1 2-15 2 7 2 0 2 1 2 13 2-13 2-8 2 9 2 2 2-10 2-2 2-1 2 16 2-6 2-1 2-9 2 1 2 6 2 7 2-4 2-4 2 2 2-6 2-5 2 2 2 7 2 4 2-8 2-8 2 15 2-3 2-12 2-1 2 10 2 0 2-7 2-1 2 11 2 3 2 0 2 1 2-6 2-2 2-7 2 10 2 3 2-8 2-2 2 10 2-4 2 2 2 1 2-7 2-5 2 2 2 3 2-14 2 4 2-14 2 0 2-10 2 5 2 5 2-7 2 0 2-10 2 2 2-1 2-6 2-3 2-11 2-1 2-2 2 7 2-6 2 6 2 12 2 19 2 6 2 7 2-4 2 15 2-1 2 18 2-7 2 18 2-2 2 19 2 7 2 8 2 0 2-8 2-2 2 0 2 11 2-3 2 2 2-5 2 0 2 9 2-8 2 11 2 0 2-7 2-4 2 6 2-15 2 3 2 11 2 7 2-10 2-4 2 6 2-2 2 6 2-9 2 5 2-3 2 4 2 6 2 3 2-3 2-2 2 6 2-14 2 3 2 10 2-8 2 1 2-7 2 9 2-3 2 7 2-4 2-4 2-4 2-3 2 8 2-7 2 6 2 0 2 2 2 6 2-10 2-6 2 8 2-1 2 5 2-1 2 3 2-5 2-1 2 1 2 0 2 16 2-10 2-13 2 8 2-3 2 3 2 3 2-11 2 7 2-9 2 8 2-13 2 6 2 0 2-3 2-2 2 2 2-2 2 11 2-6 2-6 2-4 2-8 2 15 2 3 2-4 2-4 2 2 2 5 2 2 2-11 2-1 2-10 2 4 2 11 2 0 2-6 2-1 2-6 2-4 2 15 2-14 2 1 2 4 2 2 2-6 2 7 2 2 2 8 2-10 2-1 2 15 2-7 2 3 2 3 2-4 2 10 2 4 2-4 2 0 2 0 2-6 2 7 2-15 2 4 2-3 2-11 2-5 2 5 2 1 2-18 2 4 2 15 2-11 2-4 2 1 2 5 2 5 2 2 2 3 2-5 2 11 2 6 2 5 2 3 2-5 2 9 2-6 2 2 2 4 2-13 2 4 2-8 2-18 2-1 2-7 2-16 2-4 2-5 2 10 2-10 2 4 2-9 2 6 2 8 2-14 2 4 2-11 2 2 2-3 2 1 2 3 2-12 2-21 2-14 2-14 2-4 2-11 2-18 2-8 2-11 2-8 2-6 2 1 2 0 2-5 2-8 2 5 2-8 2 2 2-18 2-2 2 4 2-10 2 10 2-10 2-4 2 2 2-2 2-8 2-3 2 0 2 1 2-4 2 1 2-5 2-17 2 8 2-1 2 19 2 37 2 37 2 45 2 45 2 4 2-8 2 1 2 10 2-12 2-2 2 11 2-18 2 9 2-9 2 4 2-6 2 2 2-3 2 4 2 4 2 3 2-30 2-29 2-31 2-16 2-13 2 28 2 14 2 10 2 12 2 13 2 30 2-41 2-46 2-47 2-37 2-28 2-17 2-11 2-10 2-14 2-10 2-5 2-17 2-4 2-6 2-29 2-1 2-14 2-20 2-8 2-5 2 0 2 0 2-2 2 1 2-1 2 0 2-3 2 6 2-2 2-4 2-1 2 0 2 5 2-3 2 0 2 3 2-3 2-2 2 0 2 0 2-1 2 5 2 2 2-5 2 2 2 2 2 2 2-4 2 2 2-1 2 3 2 1 2 3 2 0 2 0 2-1 2 1 2 3 2-1 2-1 2 2 2 1 2 2 2 1 2-1 2 0 2-2 2 5 2 2 2-2 2 2 2 1 2 0 2 3 2-2 2 3 2 0 2 5 2-4 2-1 2 0 2 1 2 4 2-3 2 1 2 1 2 1 2 1 2 0 2-1 2 6 2-2 2 0 2 4 2 2 2-3 2 3 2 0 2 1 2 1 2-3 2 2 2 1 2 2 2-1 2-1 2 1 2 2 2 3 2-4 2 2 2 3 2-3 2 3 2-2 2 1 2 3 2 2 2 3" fill="none" stroke="#303030" stroke-width="1.0" stroke-linejoin="round"/>
<path transform="matrix(.25 0 0 .1 0 0)" vector-effect="non-scaling-stroke" d="M288 6767l2 0 2-4 2 3 2 4 2-4 2-2 2 9 2-4 2-10 2 7 2-2 2 6 2-8 2-6 2 9 2 6 2-14 2 21 2-6 2-7 2 7 2-4 2-1 2 0 2 9 2-7 2 0 2-2 2 0 2 0 2 1 2-3 2 5 2 4 2-1 2-6 2-3 2 4 2 0 2 4 2 6 2-3 2 9 2-11 2 1 2 10 2 5 2-10 2-7 2 14 2-4 2-6 2 4 2 18 2-8 2 4 2-6 2 6 2 7 2 0 2 1 2-1 2 5 2-13 2 8 2 10 2 4 2-1 2 9 2-4 2 15 2 1 2 3 2-2 2-8 2-15 2 16 2 0 2-6 2 0 2-3 2 9 2-10 2 12 2 1 2 2 2-7 2 5 2-2 2 3 2-5 2 3 2 1 2 6 2-7 2-7 2 7 2 1 2 2 2 7 2-5 2 4 2-3 2 2 2 4 2-1 2 8 2 0 2 0 2-8 2 3 2 7 2 8 2-16 2 7 2 1 2 0 2 11 2-3 2-7 2 13 2-4 2 0 2 3 2 3 2 4 2 2 2 1 2 5 2-1 2 3 2-1 2 3 2 2 2 15 2-2 2 9 2 7 2 2 2 5 2 10 2 0 2 2 2 8 2 0 2 3 2 13 2 7 2 1 2-1 2-2 2 6 2 5 2 4 2 11 2 3 2 5 2-1 2 0 2 5 2 6 2 7 2 6 2 2 2 5 2-14 2 0 2 9 2-13 2-6 2 2 2-12 2-6 2 1 2 5 2-8 2-3 2 4 2 7 2-9 2-6 2 1 2-7 2-1 2 9 2-5 2-11 2-4 2 13 2-6 2 14 2 3 2 3 2-2 2 17 2-10 2 12 2 3 2 8 2-7 2 0 2-8 2 0 2 1 2 0 2-9 2 10 2-21 2-3 2-7 2 4 2-7 2 3 2-11 2-2 2 10 2-5 2-7 2-3 2 3 2-6 2-11 2-1 2 12 2-2 2 3 2-2 2 12 2-10 2 7 2-4 2-22 2-43 2-38 2-14 2-8 2 1 2-21 2 0 2 5 2-1 2 13 2 20 2-6 2 15 2 1 2 21 2 8 2 16 2 15 2 11 2 2 2 25 2 0 2 9 2 7 2 6 2 8 2 8 2 0 2-4 2 10 2 2 2 11 2-5 2 5 2-7 2 3 2-5 2 12 2-7 2-16 2 12 2-8 2 0 2-8 2 4 2-3 2-8 2 4 2 0 2-2 2-10 2-4 2 2 2 4 2-12 2 4 2-7 2 9 2-2 2-6 2 6 2-6 2-15 2-4 2 4 2 12 2-8 2-8 2-5 2 3 2-7 2-1 2 0 2-1 2-2 2 6 2 0 2-4 2-15 2 6 2-4 2-1 2-2 2 7 2 19 2 3 2 10 2 9 2 7 2 9 2 7 2 7 2-4 2-9 2-12 2-8 2-10 2-18 2-2 2-6 2-17 2 3 2-18 2-4 2-17 2-5 2-6 2 2 2-1 2-10 2 10 2-1 2-2 2-6 2 0 2-6 2 12 2-11 2-5 2 0 2-8 2-5 2-2 2-7 2 0 2 4 2-2 2-1 2 7 2-10 2-5 2-8 2-4 2 1 2 3 2-1 2-2 2 4 2-4 2-9 2 4 2-9 2 0 2-4 2-3 2 4 2-5 2-9 2 1 2 3 2-2 2 7 2-9 2 10 2-4 2-7 2 18 2 3 2-3 2 1 2-5 2 2 2 16 2-14 2 9 2-5 2 4 2 7 2 7 2-4 2-7 2 12 2-4 2 10 2-9 2 1 2 9 2-3 2-17 2 17 2 2 2-2 2-9 2 0 2 7 2 0 2-8 2 7 2 6 2 5 2-4 2-8 2 4 2-4 2 9 2 9 2-7 2-9 2 9 2 1 2 4 2-8 2 5 2-2 2-1 2 10 2 0 2 7 2-8 2 2 2 3 2 3 2-5 2 10 2-13 2 13 2 6 2-4 2-11 2-9 2-4 2 14 2 0 2-1 2-9 2 7 2 11 2-25 2 4 2-3 2-2 2 5 2 4 2 0 2-8 2 10 2-9 2-2 2 5 2-8 2 1 2-9 2 4 2 13 2 0 2-9 2-6 2 1 2 4 2 17 2-23 2 0 2 0 2-10 2 7 2 2 2 3 2 0 2-8 2 6 2 9 2-1 2 11 2-13 2 6 2-3 2 8 2-5 2 8 2-2 2 3 2-15 2 10 2 3 2 1 2-1 2 11 2-7 2 6 2 13 2 9 2 6 2-7 2 4 2 10 2 3 2-1 2 12 2-4 2-6 2-3 2-18 2-10 2-9 2-1 2-10 2-10 2-13 2-13 2 4 2-9 2-2 2-20 2-12 2-1 2-15 2-5 2-7 2-1 2 8 2-2 2 5 2 4 2-4 2-16 2-5 2 16 2 3 2 1 2 4 2-6 2 0 2-9 2 19 2-2 2 6 2-4 2-7 2 11 2-11 2 6 2-2 2 0 2-4 2 0 2 8 2 11 2 3 2-7 2-8 2 15 2-2 2 2 2-12 2 17 2 9 2 5 2-12 2 1 2 11 2-11 2 4 2 10 2 2 2-8 2 9 2-1 2 3 2-5 2-1 2 13 2-6 2 3 2 7 2-3 2-8 2-5 2 13 2 6 2 3 2-14 2 3 2-2 2 6 2-7 2 0 2-6 2 4 2 5 2-6 2-9 2-5 2 13 2 4 2-7 2-3 2-19 2 11 2 8 2 3 2-3 2-7 2 7 2-3 2-12 2-2 2-2 2 8 2-4 2 0 2-7 2-11 2-2 2 12 2 4 2-10 2 3 2-5 2-9 2 10 2-17 2 4 2 16 2-18 2 2 2 3 2 1 2-8 2 1 2 7 2-6 2 4 2-9 2-6 2 7 2-3 2 9 2-5 2-3 2-13 2 8 2-1 2 3 2 1 2-2 2 0 2 3 2-4 2 8 2-5 2-4 2 13 2-1 2 7 2-3 2 10 2 4 2 1 2-14 2-7 2 12 2-3 2-17 2-1 2 14 2-6 2 11 2 4 2 7 2-7 2-5 2 4 2 8 2-8 2 3 2 7 2 0 2 1 2 4 2 3 2 2 2 10 2-12 2 12 2-3 2 1 2-3 2 14 2-14 2 4 2-1 2 7 2-2 2 13 2 10 2 6 2 11 2-1 2 17 2-1 2 14 2 5 2 1 2 2 2 15 2-2 2 6 2 13 2-7 2-5 2-1 2 7 2 8 2-2 2 4 2 0 2-2 2 9 2-10 2 12 2-9 2 3 2-6 2-3 2 5 2-7 2-21 2-5 2-9 2-5 2-9 2-13 2-5 2-2 2 7 2-3 2 1 2 2 2 10 2-3 2 1 2 17 2 4 2-3 2-1 2 17 2 3 2 10 2-4 2 1 2 14 2 8 2 17 2 10 2 25 2 9 2-2 2-2 2-24 2 1 2-4 2-21 2-13 2-7 2 12 2 31 2 9 2 7 2 20 2 15 2 12 2 17 2 16 2 24 2 6 2 12 2 11 2 3 2 20 2 6 2 1 2 16 2 12 2 11 2 4 2 3 2-8 2 0 2 1 2 1 2 1 2 3 2-2 2 3 2 1 2 0 2-1 2 5 2-1 2 0 2 2 2-6 2 6 2 2 2 2 2 0 2 1 2 0 2-1 2 0 2 1 2 0 2 1 2-1 2 0 2 1 2 1 2 0 2 3 2-2 2 1 2 0 2 0 2 0 2-1 2 0 2-2 2 3 2 2 2-6 2 1 2 4 2 0 2-1 2 2 2 0 2-1 2-1 2-1 2 4 2 0 2-1 2-1 2-1 2-1 2 5 2 1 2-5 2 3 2-3 2 0 2 1 2 1 2 2 2 1 2-3 2 1 2 2 2-1 2-2 2 2 2 3 2-2 2-1 2 1 2 1 2-4 2 1 2-1 2 2 2-3 2 1 2 3 2 2 2-5 2 3 2-3 2-2 2 3 2 0 2 0 2 0 2 1" fill="none" stroke="#20e020" stroke-width="1.0" stroke-linejoin="round"/>
<path transform="matrix(.25 0 0 .1 0 0)" vector-effect="non-scaling-stroke" d="M288 6691l2 0 2 7 2-4 2 4 2-6 2 1 2 0 2-1 2-11 2 16 2-4 2-6 2 2 2 3 2-2 2-9 2 2 2 11 2 7 2 0 2-7 2-3 2 8 2-4 2 9 2-3 2-2 2 2 2 0 2-3 2-1 2 13 2-12 2 5 2 2 2-10 2 0 2 4 2-1 2 6 2-14 2 10 2 4 2 1 2 5 2-2 2-10 2 7 2-5 2-4 2 7 2 5 2-1 2 9 2-13 2 2 2-1 2 12 2-7 2-5 2 6 2 2 2 6 2-3 2 7 2 1 2 3 2-2 2 5 2 2 2 1 2 9 2 5 2-21 2 10 2 0 2-7 2 11 2 8 2-4 2 5 2-7 2 5 2 0 2 6 2-2 2-2 2 10 2-2 2-7 2 6 2-9 2 4 2-2 2 6 2-17 2 20 2 13 2-5 2 6 2-8 2 3 2-17 2 9 2 1 2 10 2-2 2-12 2 5 2 4 2 1 2-1 2 12 2 1 2 2 2-4 2 2 2 0 2-8 2-1 2 8 2 8 2-11 2 7 2 6 2 5 2 2 2 0 2 2 2-6 2 3 2 5 2 8 2 1 2-3 2 4 2-9 2-4 2 5 2 1 2-1 2 2 2-4 2 12 2 0 2 2 2-6 2 4 2 0 2 0 2 4 2 0 2 6 2-12 2 9 2 0 2 1 2 16 2-2 2-13 2 2 2 5 2 8 2-8 2 1 2 0 2 0 2 2 2-9 2 9 2-1 2 1 2 3 2 3 2 7 2-9 2-10 2-1 2 0 2 3 2 3 2 3 2-2 2 2 2-8 2-8 2-3 2 4 2-7 2-7 2 12 2 5 2-7 2-4 2-5 2-1 2-10 2 3 2-5 2 7 2 5 2-13 2 10 2 3 2-9 2-3 2-8 2-7 2 15 2-3 2 3 2 3 2-7 2 0 2-8 2 3 2-3 2-3 2-6 2-2 2 6 2 1 2 3 2-5 2 2 2-1 2-8 2-6 2-4 2 14 2-3 2 3 2-13 2 0 2-15 2-8 2-6 2 2 2-9 2-1 2-2 2-5 2-9 2 5 2 5 2 2 2 5 2-2 2-2 2-4 2 12 2 3 2 5 2-11 2 11 2 8 2-2 2 1 2-2 2 4 2 3 2-2 2-2 2 6 2-21 2 1 2 2 2 0 2-9 2 5 2-2 2-10 2 0 2-4 2-4 2-4 2-2 2-1 2-7 2 11 2-28 2 14 2 15 2 5 2 3 2-13 2 5 2 1 2 2 2 6 2 6 2-1 2-2 2 9 2-4 2 6 2-2 2 1 2 6 2 10 2-12 2 2 2-5 2 3 2-16 2 20 2-15 2-3 2-7 2 10 2-6 2-4 2 8 2 3 2 9 2 6 2 2 2-3 2 3 2-5 2 30 2 0 2 6 2-1 2 0 2-1 2-5 2-2 2-16 2 6 2-12 2 7 2-7 2-18 2 7 2-1 2-3 2 7 2 11 2 5 2-12 2 0 2 4 2 5 2-3 2 4 2 6 2-6 2 4 2-5 2 9 2 3 2-6 2-12 2-1 2-8 2 1 2 14 2 2 2-12 2 3 2 2 2-2 2-3 2-7 2-5 2-1 2-4 2 4 2-6 2-2 2-6 2 7 2-2 2-10 2 5 2-13 2 15 2-4 2 7 2 9 2-17 2-10 2 5 2 7 2-15 2 15 2-6 2 9 2-6 2-2 2-6 2-1 2 11 2-2 2-10 2 9 2-3 2-1 2-1 2 6 2-4 2 11 2-10 2 3 2-5 2 6 2 5 2-15 2 9 2-3 2 3 2 7 2-8 2 12 2-7 2-13 2 14 2 3 2-8 2 6 2-4 2 11 2-3 2 8 2-3 2 5 2 5 2 1 2-4 2 2 2-5 2 1 2 3 2 9 2 2 2-5 2 4 2 6 2 9 2 7 2-5 2-7 2 3 2 7 2 3 2-12 2-2 2 2 2 3 2-1 2-7 2 1 2-6 2-7 2 3 2-5 2 8 2-17 2-1 2 6 2 7 2-3 2-3 2-3 2 8 2-23 2-2 2 5 2 7 2 0 2-8 2 3 2 8 2-6 2-4 2-6 2 1 2-8 2 0 2 7 2-4 2-6 2 11 2-6 2-5 2 3 2 12 2-9 2-2 2 10 2-2 2 1 2-7 2 12 2-4 2 1 2-6 2 10 2-2 2-2 2 8 2 0 2-5 2 0 2 5 2 17 2-9 2 14 2-5 2-4 2 7 2 4 2 8 2-10 2 8 2 3 2 2 2 1 2 3 2 1 2-2 2-11 2-3 2-17 2 11 2-16 2-7 2-4 2-17 2-2 2-7 2-5 2-2 2-5 2-17 2 7 2 0 2-1 2 3 2-13 2 5 2 3 2-7 2 0 2-1 2 1 2-9 2 4 2-1 2 1 2-3 2 0 2-3 2 2 2 5 2-7 2-6 2-3 2 4 2-4 2 5 2-2 2 6 2-4 2 13 2 3 2-12 2 10 2 2 2 6 2-7 2 10 2-6 2 3 2 4 2 7 2-3 2-1 2 7 2 4 2-9 2 13 2 12 2 4 2-5 2 14 2-8 2 7 2 4 2 7 2-5 2 7 2 3 2 5 2-6 2-4 2 5 2-2 2 5 2-12 2 10 2-17 2 10 2 9 2-1 2 0 2-4 2 8 2-4 2 12 2-19 2 4 2 3 2 12 2-7 2-11 2 11 2 4 2-11 2 7 2-16 2-6 2 7 2-6 2-7 2-3 2-2 2 1 2 1 2 3 2-7 2 0 2-1 2 0 2 1 2-9 2 8 2-13 2-6 2 15 2-7 2-3 2-7 2-1 2-6 2 3 2-4 2-5 2 4 2-3 2-10 2 0 2 4 2-9 2-7 2 3 2 0 2 2 2-6 2-3 2 6 2-2 2-5 2 6 2-1 2-5 2 0 2 8 2-1 2-2 2-4 2 8 2-2 2-8 2 1 2 10 2 5 2 3 2 1 2-13 2 20 2-9 2 3 2-6 2 6 2-2 2 1 2 4 2-1 2 1 2 6 2 3 2-3 2-8 2 5 2 6 2-8 2 8 2-3 2 1 2-7 2-3 2 5 2-4 2 1 2-13 2 2 2 5 2-1 2-13 2 9 2 2 2-11 2 2 2 4 2-6 2 0 2-5 2-6 2 5 2 11 2-12 2-6 2-1 2 1 2-9 2 17 2-11 2-2 2-1 2-4 2 1 2-4 2 9 2-9 2 7 2-3 2 9 2-26 2 6 2-5 2-3 2 7 2-9 2 3 2-4 2-1 2-15 2 11 2 0 2 9 2-10 2-2 2 15 2 20 2 12 2 12 2 22 2 14 2-14 2 16 2 6 2-4 2 7 2 1 2 3 2 9 2 4 2-11 2 16 2 7 2-7 2 4 2-3 2 10 2 9 2-4 2-4 2 10 2 0 2 2 2-3 2 7 2 1 2 7 2 1 2-25 2-22 2-5 2-8 2-13 2-7 2-12 2 2 2-5 2 0 2-10 2 11 2 13 2-5 2-1 2-4 2-1 2 5 2-2 2-9 2-11 2 7 2 6 2 3 2-4 2 3 2 2 2 2 2-1 2 1 2 4 2-2 2 2 2-1 2 5 2-3 2 4 2 1 2-1 2 1 2 1 2 0 2-3 2 6 2 1 2-1 2 1 2-1 2-4 2 5 2 2 2 5 2 0 2-2 2 1 2-1 2 5 2 0 2 4 2-5 2-1 2 3 2 1 2 1 2 0 2 1 2 0 2 4 2-1 2 4 2 0 2 1 2 1 2 5 2-3 2 2 2 0 2 0 2-1 2 2 2 0 2 1 2 0 2 3 2-1 2-2 2 4 2 1 2 0 2 0 2 2 2 3 2 0 2-4 2 6 2 2 2 3 2-1 2 3 2-2 2-2 2 2 2 2 2-1 2-1 2 4 2 2 2-1 2 0 2 1 2 4 2-2 2-1 2 6 2 1 2 0 2-2 2-1" fill="none" stroke="#0000ff" stroke-width="1.0" stroke-linejoin="round"/>
<line x1="188.3" y1="655.1" x2="188.3" y2="723.5" stroke="#ff00ff" stroke-width="1.3" stroke-dasharray="1.6 2"/>
<line x1="430.2" y1="655.1" x2="430.2" y2="723.5" stroke="#00a000" stroke-width="1.2" stroke-dasharray="5 3"/>
<line x1="443.8" y1="655.1" x2="443.8" y2="723.5" stroke="#ff3030" stroke-width="1.6" stroke-dasharray="6 3"/>
<line x1="465.2" y1="655.1" x2="465.2" y2="723.5" stroke="#ff00ff" stroke-width="1.3" stroke-dasharray="1.6 2"/>
<line x1="470.9" y1="655.1" x2="470.9" y2="723.5" stroke="#ff3030" stroke-width="1.6" stroke-dasharray="6 3"/>
<line x1="475.4" y1="655.1" x2="475.4" y2="723.5" stroke="#0000ff" stroke-width="1.3" stroke-dasharray="1.6 2"/>
<line x1="484.4" y1="655.1" x2="484.4" y2="723.5" stroke="#00a000" stroke-width="1.2" stroke-dasharray="5 3"/>
<line x1="76.8" y1="660.8" x2="94.5" y2="660.8" stroke="#20e020" stroke-width="1.2"/>
<text x="96.6" y="664.4" font-size="9.2" fill="#20e020">P<tspan dy="2.8" font-size="6.6">p</tspan></text>
<line x1="76.8" y1="671.9" x2="94.5" y2="671.9" stroke="#ff5050" stroke-width="1.2"/>
<text x="96.6" y="675.5" font-size="9.2" fill="#ff1010">P<tspan dy="2.8" font-size="6.6">e</tspan></text>
<line x1="76.8" y1="682.8" x2="94.5" y2="682.8" stroke="#606060" stroke-width="1.2"/>
<text x="96.6" y="686.4" font-size="9.2" fill="#603000">P<tspan dy="2.8" font-size="6.6">h</tspan></text>
<line x1="76.8" y1="694.4" x2="94.5" y2="694.4" stroke="#0000ff" stroke-width="1.2"/>
<text x="96.6" y="698" font-size="9.2" fill="#0000ff">P<tspan dy="2.8" font-size="6.6">tot</tspan></text>
<path transform="matrix(.25 0 0 .1 0 0)" vector-effect="non-scaling-stroke" d="M2675 825l2 2 2-9 2 1 2-3 2 1 2 5 2 5 2 5 2-2 2 0 2-14 2 13 2-13 2 9 2-3 2-6 2 6 2-14 2 15 2-5 2 12 2-4 2-5 2 3 2 4 2-12 2 7 2 4 2-13 2 9 2-17 2 26 2-11 2 15 2-14 2-11 2 6 2-4 2 1 2-1 2-2 2-18 2 5 2-12 2-1 2 17 2-14 2-2 2-15 2 7 2-11 2 8 2-8 2 4 2 2 2-15 2-3 2 13 2-25 2 11 2 10 2-14 2-8 2 0 2 6 2-11 2 11 2-10 2 4 2-15 2 15 2 11 2-17 2 9 2 6 2-17 2 20 2 5 2-4 2 6 2 0 2-11 2 9 2-3 2 10 2 0 2 4 2-10 2 9 2-2 2 9 2 10 2-7 2 4 2-11 2 16 2 5 2-1 2 0 2 8 2-1 2 9 2-16 2 11 2 6 2-4 2-1 2 1 2-1 2 7 2 3 2 18 2-23 2 7 2-16 2 19 2-14 2 6 2 7 2-7 2 2 2 6 2-2 2 3 2-4 2 7 2 11 2-1 2 17 2-10 2 9 2 24 2-8 2 5 2 2 2-5 2 10 2 21 2-12 2 13 2 12 2-1 2 4 2-11 2 10 2 19 2-20 2 11 2 7 2-8 2 4 2 5 2 13 2 6 2-20 2 10 2-3 2-1 2 10 2 3 2 3 2-3 2 8 2 1 2-4 2 9 2 6 2-17 2-1 2 3 2-1 2 19 2-24 2 9 2 6 2-11 2 13 2-8 2 18 2-22 2 9 2-10 2 3 2 7 2-7 2 2 2-14 2 15 2 6 2-13 2 3 2 2 2 12 2 4 2-6 2 14 2-11 2 12 2-8 2-1 2 11 2-11 2-9 2 28 2-9 2 9 2 2 2-10 2-1 2 9 2-3 2 1 2-14 2 10 2-1 2 0 2-16 2 17 2-8 2 9 2 8 2-14 2 0 2-1 2-5 2 10 2 7 2-19 2 8 2-7 2-1 2-12 2-36 2-22 2-16 2-3 2-10 2-16 2 5 2-7 2-9 2-7 2 7 2 12 2 9 2 26 2-4 2 4 2 0 2 10 2 21 2-5 2 11 2 6 2-11 2 19 2-11 2 3 2-2 2 19 2-10 2 10 2-8 2 16 2-1 2 3 2 18 2-13 2-11 2 4 2 8 2-25 2 3 2-4 2-10 2-3 2 8 2-11 2 3 2 20 2 0 2 0 2-9 2 19 2-2 2 6 2 9 2 7 2 1 2 11 2 0 2-1 2-16 2-4 2 0 2-11 2-21 2 19 2 0 2-12 2-13 2-6 2-1 2-6 2-7 2-8 2-17 2 11 2-3 2 6 2-27 2-28 2-18 2-21 2-23 2-29 2 15 2-3 2 12 2 2 2 4 2 10 2-1 2 16 2-22 2 21 2 5 2 11 2 1 2 4 2-13 2 2 2 3 2-12 2 10 2-1 2 4 2-16 2 20 2-5 2-4 2-8 2 1 2-9 2 9 2-6 2-9 2 19 2-23 2 14 2 1 2 7 2 2 2-11 2-6 2 0 2 11 2 5 2 1 2-12 2 10 2-11 2 16 2-2 2 1 2 12 2-9 2 17 2-13 2 11 2 2 2-13 2 1 2 4 2 2 2 9 2-2 2 0 2 10 2-13 2 13 2-30 2 30 2-14 2 6 2 7 2-11 2 7 2-11 2-3 2 10 2 10 2-2 2-11 2 2 2-4 2 6 2-6 2-2 2 3 2-5 2 1 2 11 2 9 2-16 2-3 2-10 2 41 2-26 2 13 2-11 2 10 2 2 2 9 2-8 2 9 2-5 2 8 2 3 2 6 2-23 2-4 2-7 2-27 2 11 2-26 2-3 2-12 2-18 2-4 2-12 2-1 2 5 2-3 2-3 2 4 2-15 2 5 2-4 2-4 2-2 2-4 2 1 2-7 2 9 2-17 2 15 2-15 2-3 2 1 2 13 2-14 2 6 2 4 2-5 2 1 2-10 2 13 2-6 2 4 2 3 2-17 2 24 2-9 2 17 2-7 2 3 2 25 2-12 2-3 2 4 2 7 2 16 2-18 2 9 2-3 2-4 2 4 2-6 2 9 2 4 2-4 2-12 2 4 2-4 2-2 2-2 2-13 2 11 2 1 2-8 2-7 2-11 2 5 2 6 2-10 2-25 2 30 2-8 2-7 2-4 2 2 2 5 2-20 2-16 2 21 2-7 2 0 2-13 2 11 2-3 2-1 2-3 2 12 2-2 2 16 2-3 2-15 2 6 2-16 2-2 2-3 2-14 2-4 2-12 2-8 2 2 2 13 2 7 2 3 2 1 2 2 2 17 2 13 2 3 2-5 2 21 2 2 2 33 2-13 2 19 2 22 2 3 2 11 2-4 2-4 2-5 2-5 2 11 2-14 2 13 2-14 2 9 2-5 2-10 2 10 2-10 2 13 2-18 2 1 2 1 2-5 2 5 2-10 2-2 2 0 2-13 2 16 2 2 2-2 2 7 2 14 2-5 2-4 2 5 2 1 2 10 2-2 2-2 2-4 2 2 2 6 2 12 2-12 2 19 2-4 2-5 2-5 2 15 2-5 2 19 2-19 2 6 2 9 2-17 2 11 2-10 2 11 2 1 2 11 2-5 2-10 2 14 2-17 2 5 2 4 2-5 2 8 2-9 2-8 2 4 2-13 2-1 2 4 2 6 2-10 2 8 2-21 2 9 2 0 2-2 2 17 2-7 2 5 2 4 2-20 2 4 2 15 2-10 2 4 2 5 2 4 2-2 2 11 2-12 2-2 2 5 2-1 2 6 2-2 2 0 2-2 2 4 2 7 2 0 2-1 2 12 2-8 2-2 2-2 2 4 2 8 2 12 2-12 2 5 2-3 2-2 2-5 2 1 2-7 2 3 2-15 2-2 2-19 2 3 2-4 2-5 2 15 2-23 2 1 2 3 2-3 2-2 2-21 2 13 2-20 2 6 2-1 2-20 2 32 2 3 2-6 2 17 2 4 2 0 2 22 2-13 2 18 2 5 2 4 2 12 2 9 2-4 2 9 2 2 2 11 2-16 2 24 2-11 2 4 2 20 2-1 2 6 2 2 2 5 2 6 2 0 2 13 2-10 2 8 2 32 2-10 2 13 2 4 2 25 2-18 2 13 2-6 2 11 2 16 2 1 2 14 2 8 2 18 2-4 2 6 2-11 2-2 2-3 2-9 2-1 2-7 2-6 2-5 2 7 2-13 2 8 2-13 2 11 2 5 2-9 2 6 2-2 2-22 2-12 2-22 2-24 2-18 2-17 2-7 2 16 2-9 2 0 2-16 2 10 2-2 2-8 2 2 2-2 2 5 2-17 2-7 2-17 2 12 2-3 2-20 2 6 2 4 2-21 2 2 2-17 2-9 2 14 2-14 2-2 2 1 2-20 2-8 2 5 2 29 2 8 2 1 2 19 2-7 2 15 2-31 2-22 2-50 2-27 2-43 2-18 2-36 2-5 2-17 2-8 2-12 2-23 2-15 2-11 2 11 2-15 2 5 2-7 2-4 2-2 2-2 2-2 2-2 2-2 2-3 2-5 2-1 2 4 2-10 2 5 2-3 2-2 2 3 2-1 2-2 2 0 2 2 2-4 2 4 2-5 2 0 2-3 2 5 2 0 2-2 2 0 2 3 2-2 2 1 2-2 2 6 2-5 2 1 2-1 2 1 2-3 2 1 2 6 2-1 2 0 2-5 2 3 2 0 2-2 2 2 2 3 2-5 2 4 2-1 2-1 2 0 2 1 2 0 2-1 2 0 2-2 2 3 2-2 2 5 2-2 2 0 2 2 2 2 2 2 2 2 2-3 2 1 2 0 2 1 2 0 2 1 2 1 2-5 2 2 2 1 2 2 2-6 2 6 2 1 2 5 2-9 2 3 2 0 2 6 2-3 2 5 2-7 2 4 2 2 2 0 2 4 2-5 2-2 2 5 2 0 2-4 2 1 2 0 2 3 2 0 2 2 2-7" fill="none" stroke="#0000ff" stroke-width="1.0" stroke-linejoin="round"/>
<path transform="matrix(.25 0 0 .1 0 0)" vector-effect="non-scaling-stroke" d="M2675 831l2-5 2-10 2 5 2-8 2 8 2 4 2-15 2-2 2-4 2 18 2-2 2 0 2-13 2 18 2-7 2 3 2-6 2 11 2-17 2 9 2-8 2-13 2 15 2-9 2 1 2 22 2-15 2-15 2 1 2 4 2-1 2 14 2-3 2-25 2 7 2 12 2-3 2 0 2 0 2-15 2 10 2 4 2 2 2-11 2 0 2-3 2 6 2-11 2-1 2 6 2-3 2 12 2-17 2-8 2 9 2-1 2 8 2 0 2 3 2-27 2 15 2-17 2 19 2-12 2-5 2 11 2 7 2-7 2 0 2-4 2-3 2-2 2 2 2 7 2 5 2-3 2 2 2 11 2 3 2-1 2 0 2 19 2 3 2-6 2 21 2-4 2 1 2 11 2-5 2-4 2 21 2-3 2 1 2 7 2-10 2 20 2 8 2-6 2 13 2-11 2-2 2 14 2-16 2 3 2 4 2 23 2-11 2 5 2 3 2 1 2-5 2 8 2-3 2-4 2-3 2 20 2 0 2-18 2 6 2 8 2 14 2-9 2-2 2 4 2-19 2 10 2-5 2 14 2 3 2-15 2 16 2 5 2-3 2 3 2 2 2 15 2-18 2 24 2 2 2 6 2 15 2 7 2-8 2 22 2-3 2 10 2 15 2-4 2 13 2 3 2 11 2-4 2 14 2 17 2 0 2-9 2 2 2 1 2-12 2 2 2 1 2-21 2 8 2-8 2 9 2-12 2 0 2-3 2-14 2 2 2 10 2 1 2-19 2-6 2 14 2-7 2-9 2 1 2-4 2 4 2-18 2 8 2-1 2 2 2-10 2 5 2-4 2-6 2-20 2 11 2 4 2 19 2-32 2 24 2 8 2 14 2-20 2 26 2-3 2 10 2 7 2-7 2 11 2 4 2-6 2 16 2 0 2-24 2 11 2-4 2-1 2 0 2 9 2-11 2-10 2 15 2 0 2-9 2 10 2-20 2 14 2-8 2 5 2 3 2 4 2-20 2 10 2-2 2 0 2 12 2-11 2-9 2-15 2-30 2-20 2-12 2-15 2 22 2-4 2 8 2 28 2-8 2 13 2-5 2 12 2 9 2 4 2 28 2 7 2-6 2 12 2 8 2 16 2 16 2-3 2 8 2-6 2 2 2 4 2-14 2-5 2 3 2-9 2 12 2 0 2-7 2-2 2 11 2-23 2 7 2 23 2-31 2 5 2 16 2 17 2-5 2 18 2-5 2 20 2-4 2 2 2-13 2-8 2-10 2-1 2 3 2-8 2 5 2 7 2-1 2 6 2-15 2 27 2-10 2-5 2-7 2 15 2-6 2 6 2-1 2 5 2 5 2-18 2 5 2 14 2-25 2 2 2 3 2 1 2-11 2-6 2 0 2-8 2-2 2-2 2-14 2 20 2 12 2-3 2 9 2 11 2 4 2-4 2 8 2 7 2-1 2-12 2-10 2-6 2-10 2-2 2-24 2-2 2-10 2-24 2 1 2-20 2-4 2-4 2-12 2-4 2-15 2-35 2-16 2-24 2-25 2-22 2-20 2-13 2-24 2-16 2 1 2-15 2-10 2-18 2-6 2-14 2-10 2 3 2-14 2 14 2 13 2 8 2 15 2 4 2 5 2 15 2 1 2 10 2 12 2 13 2-6 2 6 2 7 2 2 2 10 2-3 2 4 2 7 2-6 2 4 2-9 2-2 2 10 2-6 2 3 2 0 2 4 2 6 2-20 2 9 2-13 2 13 2-13 2-10 2-3 2 11 2-37 2-5 2-2 2-13 2-6 2-7 2-22 2-20 2 21 2-21 2-15 2-13 2-6 2 11 2-17 2 13 2 7 2 0 2 9 2 0 2 14 2-8 2 4 2-1 2 8 2 19 2 0 2-9 2 13 2 6 2 4 2 6 2 19 2 3 2 5 2 29 2 4 2-1 2 6 2 5 2 20 2 9 2 11 2-1 2 13 2 4 2 19 2 12 2 6 2 12 2-5 2 10 2 3 2-3 2-4 2 15 2-9 2 4 2 11 2 11 2 11 2 9 2-11 2-8 2 6 2 11 2 6 2-9 2 2 2-1 2 12 2 6 2-5 2 4 2 6 2 20 2-26 2 6 2 5 2-16 2 8 2-10 2 13 2-10 2-10 2 13 2-21 2 13 2-4 2-16 2 20 2-13 2 2 2 6 2 6 2-18 2 0 2 2 2 1 2-12 2 5 2 5 2-14 2-9 2-10 2 3 2-13 2-9 2-10 2-6 2 22 2 14 2-18 2 18 2 12 2 0 2 33 2 1 2 11 2 8 2 7 2-13 2-2 2 0 2-10 2 1 2-4 2-6 2-8 2 7 2-21 2 2 2-21 2-11 2-11 2-3 2-5 2-18 2-25 2 0 2-15 2-2 2 3 2 7 2-14 2 16 2-15 2 1 2 6 2 6 2-5 2-13 2 15 2-11 2 8 2-2 2-10 2 9 2 3 2 2 2-20 2 18 2-11 2 2 2-1 2 9 2-10 2 3 2 4 2-5 2 7 2 5 2-4 2-3 2-4 2 12 2-20 2 22 2-6 2-10 2 9 2 16 2-5 2 0 2-13 2 8 2 5 2-5 2 5 2-6 2 7 2-15 2 6 2 15 2-11 2 13 2-7 2 0 2-5 2 6 2 2 2 0 2-9 2 10 2 9 2-16 2 9 2-3 2 2 2 1 2 8 2 1 2-1 2-2 2 7 2-4 2-3 2-1 2 3 2-8 2 20 2 4 2-4 2 2 2-6 2 6 2-1 2 4 2 3 2-2 2 1 2-9 2 2 2 8 2-24 2 5 2-11 2 0 2-6 2-8 2-12 2-9 2-5 2 6 2-27 2 2 2 1 2-6 2-4 2-7 2 12 2-4 2-6 2-14 2 8 2 14 2 24 2 3 2 15 2 9 2 19 2 11 2 21 2 1 2-7 2-10 2-9 2-7 2-10 2-5 2 3 2-20 2-16 2 1 2-5 2-14 2 1 2-2 2-13 2-8 2 21 2 2 2 14 2-5 2 9 2 6 2 13 2-2 2 8 2 10 2 15 2 14 2 0 2 21 2 11 2 14 2 21 2 12 2 5 2 30 2-3 2-7 2-2 2 11 2-3 2-6 2 15 2-12 2 2 2 9 2 3 2-8 2-5 2 5 2 14 2-8 2-4 2 0 2 5 2-1 2-21 2 8 2 13 2-16 2 11 2-3 2 7 2 9 2 1 2 13 2 4 2 11 2 24 2 3 2 9 2 1 2 11 2 9 2-6 2 16 2 4 2-7 2 10 2-4 2 8 2-15 2 27 2-1 2 13 2-5 2-6 2 25 2 3 2-2 2-2 2-39 2-6 2-34 2-21 2 4 2-19 2 2 2 17 2-26 2 20 2 7 2-17 2 2 2 10 2 2 2-15 2 12 2-1 2-6 2 17 2-11 2 25 2-1 2 6 2 14 2-4 2 25 2-6 2 3 2-18 2-30 2-3 2-20 2 7 2-12 2 9 2 3 2-6 2-12 2 15 2 3 2 0 2-5 2 3 2-3 2-5 2 20 2-5 2 1 2 8 2-1 2 4 2 0 2 7 2-5 2-3 2 2 2-5 2 5 2-7 2 3 2-3 2-4 2-3 2 1 2-4 2 5 2 0 2-2 2-6 2-8 2 2 2 4 2-6 2 1 2-2 2 2 2 1 2 1 2-4 2 0 2-2 2 5 2-1 2 0 2 1 2-3 2 3 2 1 2-3 2-1 2 1 2-2 2 2 2 0 2 2 2 0 2-6 2 4 2 0 2-5 2 3 2-3 2 3 2-1 2 0 2 2 2-5 2 0 2 3 2-2 2-1 2-5 2 9 2-3 2-1 2 1 2-4 2 8 2-5 2 0 2 1 2 3 2-8 2-2 2 5 2-3 2 4 2-1 2-1 2-1 2-2 2-1 2 3 2 3 2-11 2 6 2-1 2 5 2-2 2-3 2 1 2 7 2-7 2-1 2 0 2 2 2-2 2 5 2-7 2 1 2 0 2 1 2-2 2-2" fill="none" stroke="#20e020" stroke-width="1.0" stroke-linejoin="round"/>
<path transform="matrix(.25 0 0 .1 0 0)" vector-effect="non-scaling-stroke" d="M2675 845l2 1 2-5 2 6 2 4 2 6 2-9 2 10 2-9 2 8 2-13 2-10 2 22 2 9 2-9 2-4 2-3 2 4 2 0 2 9 2-2 2 13 2-12 2-10 2 3 2 4 2-4 2-31 2 29 2-25 2 5 2-8 2-6 2-2 2-4 2 16 2-20 2-1 2 5 2-3 2-6 2-4 2 0 2-9 2-17 2 23 2 1 2-9 2-25 2 14 2 6 2-12 2 16 2-5 2-16 2-2 2 37 2-26 2 13 2-8 2-9 2 11 2 1 2 12 2-22 2 7 2 10 2 0 2 1 2 8 2-16 2 0 2 4 2 5 2-8 2-5 2 6 2 25 2-10 2-7 2-10 2 14 2-1 2-1 2 3 2 5 2 5 2 7 2 0 2 9 2-9 2 22 2-6 2-1 2 7 2-14 2 26 2-16 2 13 2 3 2 20 2-16 2-2 2 24 2-24 2-4 2 3 2 1 2-2 2-4 2 15 2 5 2-5 2-7 2 9 2-17 2-2 2 13 2 9 2-15 2-4 2 9 2 3 2-2 2 2 2 6 2-13 2 3 2-1 2 1 2 0 2 6 2 4 2-6 2 5 2-13 2 12 2-13 2 5 2-6 2-16 2 25 2-18 2 8 2-1 2-11 2-2 2-16 2 20 2-25 2 20 2-12 2 21 2-23 2-4 2 8 2-4 2 3 2 16 2-4 2-4 2 0 2 1 2 2 2-3 2 0 2-8 2 9 2-8 2 2 2 8 2-10 2 10 2-8 2 13 2-17 2 3 2 3 2 14 2-12 2 3 2-9 2 1 2 10 2-8 2 0 2 3 2 14 2-11 2 0 2 3 2 1 2 1 2-3 2-10 2-2 2 13 2-4 2 3 2-11 2 8 2 10 2-5 2-16 2 8 2 3 2-3 2-1 2-12 2 0 2-1 2 6 2-13 2 17 2-1 2-12 2-5 2-21 2 30 2 1 2-4 2-16 2-5 2 17 2-7 2-15 2 6 2-11 2-5 2-8 2 1 2 8 2 30 2 12 2 40 2 18 2 7 2 15 2 11 2-2 2 15 2 12 2-17 2 3 2 1 2-3 2 18 2 8 2 10 2-4 2-2 2-8 2 2 2-11 2-7 2-6 2-5 2-26 2 12 2-4 2-6 2-2 2 15 2-4 2-4 2 14 2-2 2 9 2-12 2-15 2 4 2 14 2 6 2-15 2 5 2-2 2 13 2 7 2-9 2-7 2-7 2 1 2-17 2 5 2 3 2-11 2-17 2 9 2-16 2-1 2-5 2-6 2-7 2-5 2 10 2-25 2 3 2-13 2 6 2-3 2 3 2-10 2 10 2-12 2 3 2-14 2-1 2 18 2-26 2 14 2 0 2-5 2-3 2-17 2 6 2 3 2-6 2-10 2-3 2 8 2 3 2-10 2-3 2 3 2-14 2 12 2 18 2-25 2 29 2-2 2-7 2 18 2 12 2-1 2 9 2 6 2 20 2 33 2 42 2 39 2 27 2 0 2-13 2 4 2-27 2 0 2-16 2-7 2-4 2-28 2-3 2-8 2-8 2-16 2-8 2 0 2-6 2 6 2 7 2-5 2 7 2-1 2-7 2-5 2-1 2-9 2 14 2 6 2-20 2 7 2 1 2-6 2 2 2-6 2 11 2-1 2-5 2 4 2 0 2-5 2-13 2 5 2 8 2-7 2 3 2 6 2-3 2-4 2-3 2 10 2-14 2 6 2-7 2 6 2-4 2 6 2-9 2-14 2 31 2-8 2-11 2 3 2 2 2 8 2-16 2-10 2-1 2 11 2-2 2 14 2-16 2-2 2-2 2 10 2-24 2 16 2-3 2 2 2 3 2-11 2 16 2-11 2 7 2-9 2 13 2 2 2 2 2 9 2-9 2 2 2-1 2 15 2 5 2 10 2-18 2 3 2 8 2 17 2-7 2 2 2-11 2 2 2 4 2-1 2 12 2-4 2 5 2-11 2 6 2-4 2-3 2 22 2-29 2 18 2-6 2 0 2 13 2 1 2-11 2 5 2-3 2 0 2-2 2-8 2 5 2-3 2 9 2-18 2 7 2 2 2-12 2-10 2 4 2 22 2-14 2 0 2 6 2-6 2-4 2 13 2 0 2-16 2 2 2-3 2 17 2-15 2 4 2 7 2-4 2-2 2 9 2-14 2 2 2 7 2-9 2 1 2 6 2-12 2-1 2 14 2-5 2-2 2-3 2-4 2 8 2 11 2-12 2 17 2-16 2 3 2-1 2 1 2 18 2-10 2 1 2 19 2-15 2 2 2 22 2-5 2 0 2-1 2 18 2-16 2 5 2 13 2-3 2-2 2-11 2-8 2 1 2-4 2-7 2-14 2-11 2 10 2-5 2 4 2-1 2-12 2 4 2 7 2 3 2-13 2 11 2 1 2-7 2 11 2-13 2 13 2 1 2 6 2 3 2-1 2-1 2-1 2-6 2-2 2 9 2 12 2-10 2-3 2-2 2 13 2-21 2-4 2-2 2 10 2-12 2-9 2 9 2-5 2-3 2-5 2-8 2 1 2 1 2-9 2 8 2 2 2 12 2-5 2-14 2 5 2 5 2-8 2 1 2 11 2 3 2-1 2 0 2 5 2-11 2 7 2-4 2 20 2-22 2 21 2-21 2 9 2-17 2 20 2-18 2 24 2-1 2-10 2 5 2-8 2 3 2 9 2 5 2-4 2-5 2 5 2-8 2 9 2 12 2-16 2-3 2 4 2 10 2-5 2-5 2-5 2-3 2-2 2-13 2 21 2-3 2-11 2-6 2 0 2 1 2 15 2-7 2-6 2-10 2 0 2 10 2-5 2-5 2-2 2 7 2-2 2 3 2-8 2-9 2 16 2 22 2-6 2-2 2 8 2-17 2 37 2-14 2 18 2 7 2-23 2 4 2-7 2-9 2-10 2 4 2 10 2-24 2 13 2-13 2 0 2-4 2-9 2 0 2-16 2 18 2 4 2 16 2-4 2-2 2 14 2 11 2-10 2 13 2 10 2-8 2 18 2-3 2 5 2 30 2-25 2 10 2-6 2-6 2 1 2-14 2 11 2-23 2 11 2-12 2-1 2-6 2-1 2 1 2-3 2 2 2-13 2-4 2-2 2 5 2 3 2-1 2-8 2-3 2 10 2-7 2 17 2-28 2-9 2-19 2 6 2-8 2-3 2 0 2-13 2-16 2-5 2-8 2 7 2 10 2-6 2 13 2 2 2-2 2 5 2 6 2 2 2-5 2 2 2-10 2-14 2 21 2-9 2-1 2 13 2-5 2-9 2 6 2 9 2 11 2 3 2 14 2 3 2 8 2 3 2 20 2 17 2-3 2 16 2 16 2 6 2 4 2-10 2-8 2-14 2 3 2-5 2-9 2-12 2-5 2-2 2-9 2-8 2-18 2 5 2 9 2-24 2-5 2 1 2-6 2-3 2-6 2-7 2-5 2-8 2 19 2-6 2 25 2 14 2 4 2 0 2 15 2-5 2 7 2 1 2 17 2-10 2-3 2 11 2 14 2-17 2 0 2 5 2 1 2-1 2 1 2 2 2 4 2-5 2 0 2 5 2 2 2-2 2-2 2 2 2 1 2-5 2 7 2-7 2 7 2-3 2-2 2 9 2-8 2 3 2 5 2-10 2-2 2 9 2-9 2 7 2-2 2-1 2 4 2 1 2-9 2 4 2 2 2-2 2 4 2-3 2 0 2 0 2-2 2 1 2 1 2 4 2-2 2 3 2-3 2 1 2 5 2-8 2 0 2 6 2-5 2-1 2 3 2-1 2 0 2-1 2-1 2 1 2-3 2 0 2 2 2 2 2-1 2-1 2-1 2 5 2-6 2 2 2 0 2 1 2 1 2-5 2 5 2-3 2-3 2 8 2-3 2-1 2 2 2-1 2 0 2 3 2 1 2-5 2 2 2-1 2-1 2 1 2 0 2 0 2 1 2 0 2-3 2 2 2 2 2-3 2 0 2 0 2-4 2 6 2 1 2-4 2 2 2-3 2 5 2 1" fill="none" stroke="#ff1010" stroke-width="1.0" stroke-linejoin="round"/>
<line x1="669" y1="82.2" x2="1122.6" y2="82.2" stroke="#000" stroke-width="1.6" stroke-dasharray="4 3"/>
<line x1="785.5" y1="47" x2="785.5" y2="115.4" stroke="#ff00ff" stroke-width="1.3" stroke-dasharray="1.6 2"/>
<line x1="1027.2" y1="47" x2="1027.2" y2="115.4" stroke="#00a000" stroke-width="1.2" stroke-dasharray="5 3"/>
<line x1="1040.5" y1="47" x2="1040.5" y2="115.4" stroke="#ff3030" stroke-width="1.6" stroke-dasharray="6 3"/>
<line x1="1062.3" y1="47" x2="1062.3" y2="115.4" stroke="#ff00ff" stroke-width="1.3" stroke-dasharray="1.6 2"/>
<line x1="1068" y1="47" x2="1068" y2="115.4" stroke="#ff3030" stroke-width="1.6" stroke-dasharray="6 3"/>
<line x1="1072.5" y1="47" x2="1072.5" y2="115.4" stroke="#0000ff" stroke-width="1.3" stroke-dasharray="1.6 2"/>
<line x1="1081.5" y1="47" x2="1081.5" y2="115.4" stroke="#00a000" stroke-width="1.2" stroke-dasharray="5 3"/>
<line x1="674.5" y1="54.5" x2="691.5" y2="54.5" stroke="#0000ff" stroke-width="1.0"/>
<text x="693" y="58.2" font-size="9.2" fill="#0000ff">B<tspan dy="2.8" font-size="6.6">L</tspan></text>
<line x1="674.5" y1="79.5" x2="691.5" y2="79.5" stroke="#20e020" stroke-width="1.0"/>
<text x="693" y="83.2" font-size="9.2" fill="#20e020">B<tspan dy="2.8" font-size="6.6">M</tspan></text>
<line x1="674.5" y1="103.9" x2="691.5" y2="103.9" stroke="#ff1010" stroke-width="1.0"/>
<text x="693" y="107.6" font-size="9.2" fill="#ff1010">B<tspan dy="2.8" font-size="6.6">N</tspan></text>
<path transform="matrix(.25 0 0 .1 0 0)" vector-effect="non-scaling-stroke" d="M2677 2358l2-5 1-6 1-2 2-3 1 7 2 0 1 1 1 3 2-3 1 2 2-12 1 13 1 3 2-8 1 47 2-53 1 18 1 51 2-55 1-8 2 3 1-5 1-5 2 7 1 0 2-3 1-3 1 8 2 2 1-2 2 5 1 5 1-7 2 3 1-4 2 9 1 3 1-5 2-16 1 20 2-14 1 25 1-13 2 7 1 7 2-27 1 17 1-1 2-7 1-17 2 16 1 10 1-15 2 8 1-2 2 6 1 43 1-61 2 26 1-18 2 4 1-5 1 11 2 7 1-4 2-9 1 8 1-12 2 15 1-26 2 40 1-29 1 7 2-15 1 88 2-76 1 4 1-9 2 9 1 3 2-3 1 1 1-11 2 3 1 12 2-21 1 5 1 18 2-12 1 18 2-9 1-11 1 10 2 9 1-19 2 4 1 2 1-5 2 7 1 72 2-82 1 13 1-8 2-6 1 1 2 11 1 5 1 15 2-17 1 11 2-15 1 6 1-5 2 10 1 13 2-6 1-16 1 8 2-6 1-12 2 11 1-22 1 3 2-3 1 21 2-13 1-5 1 9 2-9 1 4 2 10 1 6 1-2 2 11 1-4 2-2 1-23 1 17 2-22 1 35 2-9 1 0 1-4 2-13 1 21 2-29 1-8 1 16 2 11 1 9 2-16 1 21 1-15 2-20 1 23 2-28 1 33 1-15 2 10 1-20 2 46 1-5 1-4 2-23 1 2 2 10 1-1 1 16 2-28 1 16 2-6 1 31 1-22 2-22 1 109 2-116 1 21 1 11 2-20 1 9 2-4 1 1 1-25 2 16 1 11 2-12 1 17 1 1 2 2 1-22 2 26 1-12 1 1 2-10 1 33 2-27 1 4 1 22 2-26 1 25 2 1 1 3 1-2 2 2 1-27 2 11 1 8 1 1 2 1 1-4 2 1 1 13 1-20 2 8 1-29 2 17 1 7 1 16 2-16 1-14 2-1 1 10 1 12 2-27 1 25 2-12 1 19 1-15 2 7 1 1 2-3 1-3 1 4 2-8 1 8 2-4 1-19 1 24 2 14 1-25 2-4 1 14 1 14 2-8 1 2 2 11 1-35 1 30 2-8 1 25 2-35 1-23 1 37 2-20 1 78 2-59 1-9 1-21 2 48 1-19 2-20 1 22 1 47 2-44 1-11 2-2 1 11 1-32 2 27 1-27 2 25 1-2 1-8 2 4 1 5 2 18 1 2 1-28 2 22 1-17 2 9 1-23 1 20 2 1 1 8 2-10 1 71 1-70 2-9 1 32 2-21 1 4 1-3 2 5 1-17 2 11 1-24 1 28 2-5 1-13 2 0 1 18 1 12 2-6 1-14 2 9 1 13 1-38 2 23 1 10 2-9 1 10 1-19 2-11 1-11 2 16 1 7 1 13 2-12 1 42 2-55 1 27 1-30 2 40 1-21 2 11 1-11 1 5 2-28 1 2 2 1 1 35 1-18 2 9 1 2 2-16 1 65 1-68 2 26 1 6 2-26 1 26 1-10 2 8 1-34 2 8 1 4 1-1 2-2 1 7 2-19 1 10 1-18 2 20 1-6 2-1 1 22 1 92 2-94 1 21 2-15 1 48 1-48 2-17 1 3 2-6 1 10 1 5 2-17 1-2 2 2 1 7 1 9 2-20 1-11 2 18 1 5 1-3 2 13 1-26 2 33 1 71 1-69 2-30 1 12 2-9 1 9 1 28 2-11 1-7 2-9 1-11 1 10 2-13 1 6 2-7 1 8 1 1 2-23 1 39 2-39 1 35 1-14 2-4 1-2 2-1 1-2 1 4 2 13 1-10 2 13 1 9 1-14 2-20 1 31 2-28 1 117 1-79 2-38 1 17 2 2 1-11 1 13 2-7 1 9 2 5 1-27 1 13 2 5 1 6 2-2 1-2 1-20 2 5 1 15 2-10 1-1 1 11 2 84 1-92 2-5 1-6 1 6 2 1 1 14 2-15 1 18 1-8 2-7 1 9 2 1 1-8 1 9 2 20 1-50 2 43 1-11 1 8 2-40 1-6 2 2 1 33 1-25 2 28 1-22 2-11 1 36 1-22 2 15 1 6 2 8 1-4 1-4 2-34 1 15 2-7 1 9 1-5 2-5 1 1 2-4 1 29 1-23 2 40 1-25 2-23 1 24 1-6 2-15 1-11 2 2 1 41 1 62 2-74 1 10 2 4 1-23 1 25 2-7 1-11 2 34 1-19 1-18 2 11 1 13 2-14 1 18 1-15 2 25 1-9 2-14 1-17 1 46 2-48 1 15 2 0 1 15 1-5 2 1 1-25 2-15 1 22 1-8 2 2 1 20 2-3 1 3 1-9 2 7 1-32 2 21 1 14 1-13 2 20 1-37 2 29 1-18 1 26 2-20 1 0 2-30 1 33 1-24 2 3 1-18 2 62 1-26 1 62 2-70 1-21 2 31 1-8 1 26 2-32 1 6 2 18 1 52 1-35 2-18 1-5 2-15 1 20 1-15 2-18 1 11 2 2 1-7 1-11 2-9 1 58 2 28 1-72 1-9 2 25 1-8 2-11 1 19 1 9 2-28 1-7 2 30 1-13 1 8 2 4 1 8 2-11 1 4 1-9 2-22 1 31 2-3 1-4 1-6 2-11 1 15 2-7 1 28 1-4 2 3 1-34 2 17 1-8 1 29 2-3 1 9 2-21 1-1 1 6 2-4 1 12 2-23 1 7 1 25 2-7 1-11 2-5 1 17 1-3 2-8 1-12 2 12 1-14 1 28 2-22 1-25 2 31 1 15 1-9 2 8 1 5 2-33 1 11 1 25 2-41 1 29 2-18 1 1 1 5 2 7 1-24 2-7 1 27 1-7 2-4 1-38 2 19 1-22 1 13 2 36 1-20 2-25 1 40 1-18 2 33 1-24 2 21 1-27 1 4 2 22 1-38 2-15 1 22 1 14 2-4 1-3 2 10 1-6 1-19 2 18 1-4 2 3 1 6 1-2 2 6 1 8 2-12 1-2 1 20 2-19 1-5 2 1 1 18 1-20 2 16 1-5 2 9 1-24 1 3 2 21 1-5 2-30 1 22 1-12 2 22 1-4 2 2 1 10 1-15 2-13 1-13 2 12 1-16 1 26 2 9 1-25 2 7 1 21 1-16 2-25 1 35 2-17 1 20 1-21 2 24 1 30 2-45 1 8 1-6 2 18 1-19 2 11 1-18 1 19 2 12 1-23 2-40 1 32 1 17 2 0 1-4 2 81 1-93 1 8 2-25 1 92 2-96 1 33 1-22 2 13 1 10 2-8 1 7 1-24 2 16 1 4 2 15 1-19 1-5 2 2 1 1 2 71 1-72 1-2 2-2 1 1 2 8 1-10 1 16 2-15 1 5 2-10 1 68 1-83 2 3 1 66 2-34 1 7 1-22 2-14 1 16 2 2 1 59 1-59 2 11 1 8 2-23 1 75 1-82 2 7 1 8 2-26 1 15 1-15 2 15 1 17 2-21 1 9 1-11 2-5 1 0 2 5 1 18 1-10 2 1 1 1 2 1 1 3 1 4 2-11 1 18 2 15 1 9 1-41 2-14 1 37 2-18 1-4 1 12 2 9 1-21 2-7 1-9 1 18 2 32 1-16 2 76 1-91 1 5 2 61 1-57 2-19 1 21 1-6 2-7 1-4 2 10 1-16 1 7 2 5 1 60 2-34 1-26 1 9 2-29 1 1 2 100 1-73 1 4 2-34 1 12 2-4 1 2 1-27 2 24 1 31 2-40 1 18 1-20 2 24 1 10 2-5 1-21 1 31 2-39 1 15 2 19 1-8 1-7 2 5 1-13 2 0 1 29 1-26 2-15 1 23 2 31 1-44 1 6 2-4 1 2 2-19 1 14 1 20 2-25 1 9 2-7 1 19 1-15 2 6 1-13 2 22 1 0 1-14 2-10 1 21 2-15 1 4 1-9 2 69 1-61 2 85 1-68 1-30 2 12 1-6 2 20 1 0 1 17 2-9 1-11 2 11 1 4 1-18 2-17 1 25 2 1 1 3 1-1 2-10 1 6 2 9 1-16 1 11 2 10 1 2 2 6 1 5 1 50 2-79 1-5 2 24 1-22 1 2 2-32 1 20 2 26 1-8 1-21 2 12 1 32 2 6 1-54 1 26 2-6 1-23 2 26 1 73 1-91 2 17 1-4 2 14 1-19 1 44 2-49 1 15 2-27 1 34 1-13 2 9 1 8 2-38 1 31 1-25 2 16 1 0 2 23 1-11 1-6 2 1 1-8 2-16 1-9 1 24 2 39 1-42 2-4 1 6 1 76 2-62 1 9 2-5 1 77 1-97 2 6 1-6 2 15 1 20 1-28 2 3 1 39 2-23 1 21 1 49 2-76 1 125 2-166 1 32 1-11 2 25 1-41 2 25 1 11 1 10 2 23 1-29 2-4 1-22 1 9 2-30 1 37 2 19 1-49 1 16 2 14 1-29 2 0 1 37 1 6 2-7 1-16 2 67 1-60 1-25 2 18 1 51 2-57 1 8 1 3 2 35 1-27 2-45 1-6 1 13 2 30 1 23 2-21 1-14 1-9 2 14 1-14 2 1 1 11 1 0 2 0 1-5 2 21 1-2 1-25 2 6 1 18 2 44 1-60 1 9 2-11 1-5 2-4 1 27 1 5 2-6 1-6 2-16 1 33 1-22 2 18 1 7 2-14 1 0 1 48 2-69 1 29 2-9 1-6 1-4 2 17 1-18 2 13 1 4 1-3 2-32 1 7 2 22 1-6 1 13 2-15 1 13 2 5 1 24 1-32 2 20 1-6 2-9 1 9 1-9 2 7 1-10 2-9 1-10 1 13 2-20 1 6 2 11 1 26 1-39 2 10 1-13 2 32 1-4 1 9 2-7 1-16 2-6 1 1 1 5 2-7 1 127 2-99 1-39 1 38 2-28 1 17 2-19 1 13 1-12 2 0 1 42 2-44 1-5 1 44 2-54 1 28 2 16 1-2 1-44 2-6 1 18 2 4 1-37 1-6 2-12 1 0 2 20 1-20 1 16 2-6 1 23 2-32 1 23 1 33 2-28 1 0 2-28 1 39 1-42 2 14 1 2 2 7 1-13 1-10 2 19 1 43 2-59 1 23 1 16 2-51 1 9 2 30 1 17 1-19 2 1 1-11 2 36 1-24 1 29 2-7 1-41 2 14 1-16 1 6 2 24 1-31 2 21 1-26 1 34 2 0 1 23 2-13 1-33 1 4 2 10 1-4 2 12 1 3 1 6 2-24 1 9 2 12 1 5 1-22 2 89 1-19 2-76 1 126 1-124 2 27 1-5 2 32 1-81 1 29 2-29 1 45 2-15 1 1 1-7 2 6 1-33 2 33 1 6 1 2 2 0 1-11 2 0 1 67 1-54 2 2 1 14 2 19 1-53 1 30 2 14 1-11 2-35 1 12 1 30 2-25 1 1 2 10 1 0 1 7 2-32 1 18 2 4 1-25 1 25 2 13 1 52 2-47 1-35 1-13 2 16 1 116 2-88 1-53 1 6 2 86 1-88 2 4 1 34 1-33 2 22 1 36 2-32 1-30 1 33 2-24 1 49 2-10 1-27 1 24 2 0 1-32 2 27 1-45 1 26 2-36 1-19 2 42 1-4 1 16 2 12 1-12 2-33 1 23 1 31 2 52 1-69 2-16 1 0 1-15 2 7 1 18 2-8 1 27 1-36 2 53 1 47 2-62 1 11 1-14 2 22 1-22 2-25 1 88 1-105 2 30" fill="none" stroke="#0000ff" stroke-width="1.0" stroke-linejoin="round"/>
<path transform="matrix(.25 0 0 .1 0 0)" vector-effect="non-scaling-stroke" d="M2677 2340l2-10 1 2 1 8 2-7 1-1 2 8 1-18 1 11 2 77 1-91 2 122 1-94 1-13 2 73 1-130 2 58 1 9 1-14 2 2 1 10 2 6 1-22 1 7 2 7 1-17 2 10 1 1 1-15 2 11 1-11 2 13 1 4 1 130 2-149 1 36 2 3 1-27 1-9 2-98 1 130 2-25 1 16 1-3 2 5 1-32 2 22 1-20 1 11 2 2 1 21 2-28 1-59 1 78 2-13 1-3 2 12 1 5 1-13 2 14 1 13 2-25 1 8 1-19 2 19 1 6 2 6 1-27 1 27 2 5 1-19 2-17 1 21 1-5 2 3 1-7 2-9 1-4 1 44 2-124 1 97 2 4 1-10 1 23 2 96 1-101 2 8 1-20 1 7 2-3 1 4 2-2 1-8 1-9 2 24 1-16 2-10 1 17 1-2 2-8 1 28 2-34 1 2 1 28 2-16 1 5 2 2 1-1 1-3 2 5 1 15 2-19 1-22 1 8 2 17 1 19 2-5 1-18 1-13 2 41 1-33 2 14 1-38 1 43 2-27 1 11 2 26 1-4 1-10 2-22 1-48 2 66 1-7 1-2 2 20 1-22 2-13 1 44 1-25 2-17 1 2 2 20 1-14 1-3 2 11 1 6 2 5 1 4 1-1 2-4 1-30 2 14 1-3 1 0 2 4 1 18 2-25 1 19 1-10 2 12 1 7 2-5 1-34 1 41 2-18 1-85 2 67 1 46 1-16 2-22 1 17 2-6 1-20 1 4 2 8 1 14 2-14 1 13 1-9 2 11 1-10 2 30 1-42 1-17 2 35 1-2 2-22 1 29 1-12 2-13 1-10 2-3 1 30 1-6 2-10 1 2 2 20 1-9 1 5 2-23 1 35 2-50 1 18 1 24 2-14 1 10 2-3 1-77 1 62 2-1 1 35 2 4 1-28 1 10 2 8 1 10 2-37 1 49 1-34 2 5 1 20 2-17 1 13 1-3 2-4 1-50 2 12 1 8 1 3 2 3 1 8 2-15 1 19 1 11 2-15 1 16 2-7 1-6 1-35 2 17 1 18 2 2 1-20 1 17 2 34 1 91 2-139 1 26 1-7 2 6 1-5 2-16 1 20 1-6 2-18 1 11 2 6 1-16 1 6 2 11 1 8 2 11 1-41 1 12 2 109 1-123 2 21 1-11 1 25 2-27 1 0 2-9 1-15 1 26 2-17 1 44 2 106 1-171 1 60 2 98 1-146 2 2 1 12 1-11 2 18 1-2 2-9 1 1 1 28 2-12 1-29 2 37 1-7 1 5 2 3 1-34 2 15 1 20 1-22 2 1 1 42 2-135 1 79 1 18 2-5 1 20 2-23 1 28 1-20 2 21 1 4 2 12 1-148 1 126 2-5 1-7 2-1 1 30 1-25 2-27 1 27 2-27 1 12 1-13 2 31 1-1 2 0 1-4 1 19 2-15 1-18 2 274 1-255 1 3 2-4 1-5 2 87 1-80 1-22 2-14 1-3 2 112 1-81 1-13 2-4 1 23 2-12 1 4 1 2 2-4 1-84 2 61 1 9 1 0 2 2 1 15 2 5 1-25 1 28 2-3 1 4 2 32 1-63 1-41 2 80 1-11 2-50 1 42 1 18 2-40 1 6 2 4 1 4 1 15 2-32 1 63 2-19 1-54 1 96 2-74 1 61 2-38 1 18 1 3 2-25 1-2 2-1 1-37 1 36 2-8 1 1 2 10 1-156 1 110 2 24 1 23 2-60 1 34 1 40 2-13 1-31 2 12 1-31 1-34 2 54 1 0 2 8 1 6 1 7 2-3 1-3 2-4 1 12 1 8 2-37 1 228 2-229 1 40 1-15 2-18 1 15 2-69 1 66 1-16 2 11 1-23 2 32 1-2 1-27 2 29 1 0 2 21 1-6 1-14 2-4 1-6 2-21 1 25 1-25 2 12 1 22 2-2 1-6 1-5 2-6 1 23 2-36 1 121 1-90 2-7 1 8 2-15 1-1 1-8 2 30 1 11 2-4 1-17 1-9 2 0 1 19 2 2 1-1 1-20 2 2 1-87 2 72 1 46 1-38 2-4 1-9 2-58 1 69 1 11 2-72 1 78 2-41 1 4 1 21 2 10 1-24 2 111 1-127 1 59 2-104 1 50 2 54 1-20 1-14 2 17 1-7 2-5 1 16 1-13 2-13 1 14 2 19 1-18 1-19 2 1 1 31 2-106 1 66 1 39 2-20 1 15 2-10 1-6 1-27 2 33 1 11 2-20 1 21 1-6 2-27 1-26 2 39 1-35 1 47 2-3 1-7 2 2 1 17 1-16 2-11 1 34 2-34 1-21 1-2 2 21 1 10 2-10 1-7 1 10 2-19 1 21 2 8 1 17 1-21 2 9 1-8 2-3 1 0 1 37 2-31 1-22 2 24 1-10 1 7 2-1 1 140 2-139 1 0 1-19 2 7 1 28 2-1 1-17 1-39 2 130 1-66 2-167 1 169 1-15 2-3 1 41 2-33 1 9 1-32 2 5 1 52 2-16 1-38 1 25 2-41 1 18 2-30 1 28 1-5 2-19 1 47 2-18 1-10 1 22 2-1 1-9 2-28 1 36 1 37 2-53 1-44 2 25 1 26 1-34 2 64 1-50 2 23 1-36 1-4 2-27 1 38 2 8 1-60 1 83 2-14 1-108 2 106 1 7 1 2 2-4 1 2 2 17 1 63 1-78 2-4 1 16 2-20 1-9 1 1 2 4 1 30 2-143 1 122 1-18 2 13 1 10 2 14 1-12 1 13 2-12 1 38 2-39 1 20 1-42 2 22 1-17 2-6 1 15 1-16 2 2 1-1 2-18 1 34 1 9 2-12 1 10 2 32 1-24 1 124 2-128 1 6 2-4 1-7 1 18 2-8 1-17 2 140 1-138 1-4 2 13 1-15 2-2 1 22 1 19 2-58 1 46 2-52 1 21 1 9 2-74 1 64 2 293 1-306 1 20 2 25 1-6 2-25 1-61 1 70 2 12 1-15 2-16 1 36 1 0 2-39 1 33 2 2 1-11 1-32 2 188 1-144 2-20 1 166 1-162 2 16 1-4 2-19 1-10 1 0 2 14 1 12 2-134 1 89 1 52 2 6 1-28 2-35 1 33 1 107 2-88 1-30 2 22 1 13 1-5 2-54 1 56 2-20 1 21 1-56 2 16 1 12 2 5 1-3 1 3 2-14 1 8 2 16 1 26 1-149 2 131 1-8 2 8 1 20 1-17 2 10 1-26 2 7 1-91 1 70 2 43 1-38 2 4 1-19 1 29 2 16 1 15 2-47 1 21 1-8 2-22 1 48 2-34 1 25 1-12 2-13 1 37 2-17 1 26 1-17 2-15 1 17 2-31 1-21 1 53 2-30 1 5 2-11 1 5 1 11 2-24 1-25 2 62 1-16 1-17 2-9 1 14 2-3 1 12 1 33 2-32 1-12 2 45 1-27 1 19 2 12 1 16 2-39 1-34 1 170 2-148 1-11 2 20 1-31 1 38 2-1 1-23 2-10 1 33 1-4 2-19 1-11 2 51 1-43 1-13 2 23 1-28 2 14 1 27 1 9 2-9 1-12 2 27 1-20 1 7 2-27 1 23 2-19 1 23 1-27 2 6 1 28 2 66 1-108 1 35 2-15 1-12 2 28 1-12 1-16 2 22 1-15 2-17 1-21 1 65 2-48 1 33 2 10 1-9 1-17 2-33 1 50 2-15 1 43 1-60 2 33 1 6 2-32 1 39 1-59 2 13 1 9 2 18 1 6 1-18 2 30 1-36 2 15 1-31 1 54 2-27 1 9 2-11 1 0 1 5 2-6 1 25 2 63 1-53 1-36 2 6 1 1 2-1 1-8 1 25 2-20 1-138 2 122 1 48 1-27 2-13 1 17 2 4 1-97 1 123 2-24 1-23 2 0 1 11 1-7 2 9 1 24 2-16 1-43 1 15 2 15 1 15 2 10 1-11 1 4 2-7 1-21 2 47 1-10 1-32 2-3 1 16 2 0 1-24 1 128 2-56 1-59 2 10 1-28 1 20 2 44 1-4 2 29 1-68 1 20 2-9 1 43 2-35 1 3 1-8 2-15 1 23 2 7 1-24 1 16 2 27 1-40 2 32 1-40 1 6 2 20 1-20 2 40 1-110 1 64 2 14 1-12 2 65 1-52 1-1 2 78 1-66 2 1 1-24 1 38 2 56 1-112 2 38 1 6 1 8 2-18 1 40 2-16 1-31 1 20 2-38 1 9 2 5 1-32 1 137 2-128 1 16 2 43 1-181 1 175 2-24 1-6 2 21 1-6 1 20 2-10 1 23 2-50 1 2 1 5 2 31 1-1 2-50 1 49 1-21 2-14 1 7 2 27 1-15 1-18 2 19 1-15 2 55 1-29 1 7 2-19 1-26 2-11 1 16 1 22 2-11 1 148 2-130 1 14 1-17 2 8 1 100 2-139 1 41 1-3 2-67 1 82 2-30 1-44 1 22 2 24 1 3 2 5 1-27 1 151 2-145 1-94 2 98 1-6 1 19 2-26 1-3 2 51 1-72 1 33 2 11 1 17 2-35 1 59 1-59 2 26 1 14 2-9 1-9 1 8 2 2 1 1 2 9 1 88 1-124 2 17 1 54 2-25 1-29 1-11 2-2 1-10 2 23 1-6 1 39 2-26 1-13 2 3 1-15 1-15 2 44 1-10 2 20 1 15 1-10 2-31 1 19 2-22 1-1 1 5 2 8 1-3 2 50 1-46 1 9 2-13 1-22 2 33 1 11 1-9 2-45 1 26 2 6 1-13 1 41 2-36 1 38 2-50 1-113 1 150 2-39 1 9 2 1 1 19 1 23 2-29 1-14 2 48 1-38 1 0 2 14 1-17 2 3 1 14 1-15 2-10 1-33 2 44 1 20 1-16 2 39 1-34 2 12 1-17 1-3 2 45 1-36 2 10 1-7 1-11 2 16 1-10 2 1 1-19 1 47 2-23 1 14 2-17 1 26 1-30 2 17 1 20 2 45 1-76 1-17 2 132 1-89 2-33 1 7 1 9 2 121 1-99 2-6 1-16 1-18 2 15 1-7 2 7 1-3 1-14 2-1 1-19 2 42 1 2 1-16 2-50 1 26 2-2 1-10 1-13 2 30 1 33 2-73 1 51 1-10 2-22 1 37 2 11 1 8 1 3 2-33 1-18 2-137 1 143 1 21 2-44 1-137 2 158 1-19 1 21 2-3 1-8 2 43 1-28 1-103 2 84 1 39 2-24 1-22 1 32 2-19 1 9 2 36 1-13 1 17 2 26 1-7 2-57 1 45 1-33 2 73 1-52 2 20 1-3 1-25 2-1 1-10 2-10 1-82 1 78 2-90 1 94 2 27 1 11 1-43 2 10 1 16 2-16 1 5 1 3 2-30 1-22 2 60 1-104 1 102 2-10 1-4 2 20 1-31 1 12 2-3 1 115 2-95 1 18 1-14 2-15 1 5 2-13 1-1 1 25 2-22 1 21 2-47 1 63 1-31 2-37 1 28 2 25 1-17 1 24 2-31 1-2 2 22 1-2 1-9 2 0 1 17 2-15 1-28 1 39 2-8 1-28 2-8 1-7 1 14 2 22 1 8 2 8 1-2 1-8 2 8 1-8 2-20 1 36 1-47 2-4 1 12 2 44 1-19 1 6 2-11 1 22 2 7 1-18 1-15 2 12 1-43 2 5 1 35 1-7 2-27 1 20 2-17 1 25 1-14 2 33" fill="none" stroke="#20e020" stroke-width="1.0" stroke-linejoin="round"/>
<path transform="matrix(.25 0 0 .1 0 0)" vector-effect="non-scaling-stroke" d="M2677 2313l2 86 1-73 1 9 2-31 1 7 2 5 1-3 1 12 2-19 1 9 2-10 1 5 1 0 2 5 1-9 2 8 1 2 1 2 2-12 1 7 2-5 1 12 1-24 2 13 1-4 2 3 1 15 1-36 2 35 1-17 2-2 1-8 1 11 2 21 1-27 2 16 1-22 1 1 2-1 1 22 2-23 1-14 1-5 2 20 1 2 2 6 1-3 1 71 2-53 1-30 2 5 1-16 1 20 2-9 1 6 2-21 1 22 1-5 2-16 1-7 2 22 1 8 1-11 2-15 1 8 2 12 1-16 1 2 2 8 1 12 2 26 1-17 1-48 2 40 1 20 2 1 1 13 1-38 2-4 1 8 2-24 1 23 1 23 2-35 1 4 2 21 1-15 1-4 2 13 1 8 2-2 1-44 1 38 2 14 1-13 2-1 1 7 1 2 2 18 1-18 2-8 1-21 1 17 2-2 1 15 2-8 1 13 1 1 2 29 1-11 2-25 1 10 1 7 2-6 1-6 2-20 1 21 1-33 2 30 1 6 2-36 1 45 1-9 2-33 1 28 2-12 1-5 1 13 2 14 1-8 2 6 1-10 1-5 2-18 1 15 2 5 1-15 1 89 2-89 1-12 2 15 1-7 1-12 2 55 1-18 2 14 1-15 1-3 2-11 1 9 2-6 1 12 1-15 2 18 1-9 2-21 1 30 1-14 2-6 1 10 2 4 1-20 1 5 2-7 1 35 2 16 1-2 1-18 2-15 1 17 2-11 1 14 1-21 2-4 1 2 2-17 1 17 1-11 2-27 1 32 2 27 1-19 1 3 2-41 1 39 2-13 1 18 1-14 2 13 1 0 2-8 1 2 1 21 2 3 1-22 2-15 1 11 1 25 2-34 1 9 2 6 1-3 1 13 2-7 1-5 2 30 1-37 1 38 2-30 1 24 2-13 1-4 1-8 2-8 1 15 2-11 1 40 1-56 2 25 1-21 2 22 1-25 1 6 2 23 1-7 2 2 1-8 1-4 2 13 1-15 2 3 1 13 1-2 2 5 1 40 2-35 1-17 1-5 2 15 1-24 2 9 1-10 1 12 2-3 1-5 2 18 1 2 1-12 2 13 1-8 2-20 1-1 1 42 2-23 1 0 2 0 1-9 1-3 2 5 1-14 2 11 1-10 1 10 2 15 1-2 2-20 1 15 1 18 2-27 1-5 2 50 1-24 1-1 2 5 1-26 2 25 1-24 1 6 2-1 1-19 2 16 1-15 1 38 2-7 1-6 2 9 1 8 1-27 2 34 1-22 2-7 1-3 1 35 2-16 1 18 2-45 1 6 1 4 2 18 1 2 2-5 1-4 1-4 2 11 1-14 2 21 1 19 1 2 2-52 1 15 2 4 1-24 1 17 2 11 1 3 2 3 1-22 1 4 2 11 1-24 2 39 1-28 1 10 2-10 1-10 2 11 1-7 1 3 2 36 1-30 2-387 1 395 1-265 2 272 1 3 2-26 1-10 1 22 2 4 1 18 2-9 1 175 1-195 2-6 1 6 2 14 1-20 1-5 2 18 1-9 2 13 1-33 1 2 2 28 1-14 2 15 1-3 1 16 2 9 1-9 2-14 1 0 1-9 2 4 1 9 2 2 1-13 1 0 2-22 1 20 2 5 1-21 1 23 2-2 1 5 2-27 1 30 1-27 2-3 1 18 2 6 1-5 1 3 2 16 1 55 2-43 1-21 1-1 2-19 1 6 2 34 1-49 1-7 2 12 1 16 2-1 1-2 1-19 2 3 1 16 2 0 1-46 1 38 2-5 1 13 2-38 1 21 1-10 2 31 1 7 2-8 1 1 1-26 2 17 1 14 2-11 1 10 1 7 2-17 1 14 2-3 1-3 1 8 2-15 1-15 2 25 1 4 1-11 2 1 1 10 2 9 1-30 1 37 2-35 1-5 2 17 1-13 1 35 2-14 1-22 2 8 1 5 1 20 2-30 1 8 2-5 1-44 1 44 2-10 1 10 2 19 1 15 1 1 2-6 1-37 2 39 1-11 1-13 2-7 1 1 2 6 1-1 1 12 2-11 1 14 2-4 1 8 1-11 2-27 1 33 2 1 1-33 1 11 2-2 1-7 2 20 1 23 1-11 2-87 1 77 2-8 1 26 1-18 2 23 1-29 2-1 1 23 1-25 2-4 1 16 2 84 1-91 1-7 2-10 1 22 2-5 1 2 1 13 2-21 1 15 2 7 1-15 1-1 2-13 1 15 2 7 1-27 1 10 2 20 1-8 2-3 1 15 1-28 2-15 1 22 2 17 1-13 1 3 2 2 1-22 2 32 1 9 1-26 2 2 1-46 2 51 1 0 1-3 2-1 1 10 2 10 1-5 1-18 2-19 1 35 2-20 1-3 1 19 2-21 1-5 2 8 1-5 1-8 2 16 1-16 2 33 1-18 1-31 2 26 1 9 2-1 1-1 1-10 2 23 1-10 2-21 1 9 1-76 2 57 1 43 2-63 1 69 1-5 2-15 1-8 2 10 1-13 1 21 2 8 1-21 2 0 1-7 1 33 2-21 1 7 2-18 1 17 1-14 2-2 1 13 2 0 1 4 1 32 2-45 1 19 2-24 1 15 1 7 2 8 1-21 2 15 1-5 1-10 2 66 1-40 2-3 1-13 1-24 2 11 1-2 2 13 1 12 1-37 2 22 1 24 2-29 1 4 1-13 2-53 1 56 2-5 1 21 1 12 2-29 1 25 2-19 1 8 1 9 2 2 1-13 2-26 1 31 1-4 2 10 1-12 2 6 1 0 1 28 2-14 1-4 2-10 1-1 1 2 2-24 1 8 2-9 1 4 1 9 2 20 1-24 2 13 1 11 1-17 2 4 1-18 2 17 1-17 1 32 2-23 1 0 2-14 1 26 1-18 2 7 1 10 2-5 1 13 1 5 2 4 1-2 2-37 1 8 1 13 2 2 1-9 2 6 1-23 1 30 2 3 1-20 2 2 1 37 1-44 2 41 1-18 2 15 1-33 1 23 2-30 1-5 2 6 1 26 1-19 2 34 1-16 2 77 1-86 1-22 2 61 1-44 2 32 1 40 1-84 2 23 1-1 2 4 1-13 1-37 2 47 1 10 2 19 1-33 1 4 2-1 1 4 2-7 1-24 1-12 2 14 1 15 2 3 1-4 1-6 2 9 1 22 2-29 1 106 1-84 2-15 1 34 2-15 1-12 1 12 2-21 1-10 2 29 1 61 1-77 2 0 1 10 2-7 1-22 1 12 2 29 1-16 2 13 1-108 1 109 2 2 1-10 2-13 1 0 1-66 2 68 1-14 2 23 1 18 1-7 2-91 1 96 2-26 1 13 1 13 2-31 1 37 2-15 1-8 1 22 2-21 1 5 2-6 1 16 1-9 2 3 1-19 2-11 1 17 1-7 2-11 1 22 2-10 1 19 1 3 2-41 1-17 2 48 1 64 1-66 2-15 1 32 2-18 1-6 1 25 2-23 1 24 2-4 1-39 1 46 2-2 1-6 2-5 1-18 1 12 2-1 1-19 2 22 1-3 1 20 2-35 1 7 2 20 1-29 1 24 2-14 1-4 2 2 1-30 1 46 2-29 1 44 2-44 1 7 1 8 2 4 1-9 2 16 1-22 1 0 2 18 1-15 2-6 1 4 1 6 2 3 1-5 2 4 1 22 1 9 2-107 1 72 2 4 1 7 1-9 2 32 1-26 2 10 1-7 1-6 2 10 1-36 2 28 1 2 1-8 2 45 1-51 2 0 1 36 1-57 2 22 1 16 2 4 1-29 1 16 2-22 1 17 2 19 1-20 1 12 2-31 1 57 2-42 1-9 1 30 2-2 1-17 2-18 1-1 1 14 2 2 1 26 2-12 1-16 1 15 2 2 1-15 2 13 1-24 1 17 2 5 1 5 2-6 1 19 1-16 2-17 1 16 2 22 1-14 1-3 2 17 1-4 2-20 1 30 1-22 2-2 1 1 2 26 1-30 1-6 2 15 1 2 2-6 1 13 1-29 2 10 1 3 2-3 1 10 1 4 2-17 1-3 2 3 1 89 1-68 2-25 1 7 2 14 1 0 1-10 2 46 1-61 2 4 1-1 1 4 2 14 1 6 2-17 1-5 1 13 2 11 1-17 2 29 1-7 1 5 2-26 1 13 2 17 1-26 1 13 2 11 1-21 2 0 1 3 1-47 2 44 1 6 2-8 1 6 1-20 2-7 1 40 2 15 1-26 1 10 2-24 1 11 2-30 1 33 1-35 2 36 1-19 2 26 1-9 1-14 2-17 1 53 2-27 1 5 1-7 2 3 1-11 2-3 1-17 1 29 2-14 1-3 2-1 1 18 1-2 2-13 1-6 2 21 1-20 1 10 2-7 1-1 2 1 1 12 1 12 2-28 1 5 2-1 1 8 1-27 2 7 1 19 2 13 1-20 1 5 2-7 1 15 2-51 1 66 1-8 2-25 1 9 2-5 1 17 1 5 2 8 1 0 2-55 1 49 1-42 2 39 1-5 2 3 1 0 1-14 2 16 1 5 2 4 1-23 1 30 2-10 1 1 2-15 1 14 1-1 2-16 1 1 2 22 1-11 1-17 2 19 1-1 2-23 1 23 1-19 2-10 1 18 2 12 1-3 1-34 2 33 1-6 2-6 1-1 1 3 2 11 1-3 2 4 1-8 1 2 2-4 1 3 2-25 1 5 1 27 2-20 1 8 2 16 1-1 1-7 2 65 1-70 2-10 1-9 1 15 2-2 1 1 2-2 1-6 1 24 2-20 1-5 2 1 1-2 1 5 2 2 1 8 2-8 1 11 1-8 2 3 1 18 2-30 1 2 1 19 2 1 1 1 2-24 1 14 1-24 2 14 1 18 2-35 1 44 1-9 2-17 1-21 2 7 1 31 1-8 2-3 1 3 2-7 1-8 1-8 2 31 1-18 2-2 1 9 1-26 2 23 1-5 2 15 1-30 1 4 2 4 1-9 2 12 1-4 1-2 2-29 1 42 2-46 1 39 1-59 2 68 1-22 2-19 1-37 1 52 2 22 1-27 2 8 1-30 1 31 2-36 1 12 2 38 1-52 1-28 2 72 1-58 2 69 1-51 1-12 2 55 1-50 2 5 1 18 1-31 2 27 1 31 2-14 1 7 1-7 2-44 1 13 2 45 1-13 1-5 2 24 1-15 2 3 1-8 1 71 2-61 1-24 2 3 1-20 1-6 2 30 1-2 2-19 1-19 1 24 2 1 1 35 2-32 1 2 1 29 2-61 1 10 2 41 1 30 1-45 2 17 1-28 2-52 1 101 1-40 2 40 1-13 2-31 1-9 1 41 2-39 1 56 2-4 1-31 1 24 2-34 1 1 2 7 1 12 1 1 2-25 1-20 2 15 1 23 1 11 2-12 1-62 2 41 1-12 1-5 2 25 1-13 2 62 1-92 1 50 2 25 1-25 2-8 1-8 1 47 2-63 1 24 2-12 1 60 1-62 2 41 1-22 2-36 1 51 1-53 2-7 1 156 2-117 1 24 1-50 2 23 1-23 2 28 1-10 1-10 2 3 1-13 2-24 1-21 1 44 2-98 1 81 2-57 1 58 1-36 2 39 1-39 2 53 1-16 1-1 2 40 1 36 2-79 1 20 1-28 2 20 1-96 2 120 1-79 1 21 2 42 1 17 2-64 1 12 1-34 2-5 1 65 2-14 1 4 1-22 2 4 1 25 2-23 1 2 1-27 2-17 1-7 2 46 1 0 1-41 2-16" fill="none" stroke="#ff1010" stroke-width="1.0" stroke-linejoin="round"/>
<path transform="matrix(.25 0 0 .1 0 0)" d="M4248 2319l3 28 3-26 4 16 3-19 3 1 3-8 3-6 4-2 3 12 3 15 3-16 3 4 4 6 3-2 3-2 3-8 3 9 4-20 3 15 3 5 3-15 3-10 4 26 3-23 3 22 3-32 3 23 4 4 3-3 3 1 3 3 3-1 4 2 3 24 3-14 3-18 3 20 4-26 3 23 3-16 3 12 3-8 4-12 3 30 3-21 3 18 3-20 4-10 3-3 3 15 3 2 3 4 4-7 3-10 3-6 3 23 3-21 4-9 3 8 3 17 3-16 3 11 4-8 3-1 3 9 3-23 3 11 4 13 3-12 3 3 3-6 3-7 4 2 3 16 3-29 0-142-3 11-3 11-4-19-3 25-3 5-3 15-3-7-4 10-3 4-3 12-3-17-3 28-4-12-3 14-3-1-3-20-3 32-4-10-3-1-3 3-3 1-3 1-4 16-3 2-3-25-3 22-3 10-4-18-3 14-3 3-3-22-3-5-4 2-3 20-3 7-3 3-3-6-4 4-3 14-3-18-3 25-3-29-4 30-3-10-3-12-3 9-3 14-4 5-3-24-3-13-3 15-3 2-4 8-3-6-3 4-3 17-3-15-4 14-3-6-3-12-3 23-3-11-4 4-3 3-3 9-3 2-3-11-4-12-3 17-3 17-3-29-3 0-4-17-3 34-3 10z" fill="#ff0000" fill-opacity="0.75"/>
<line x1="669" y1="234.4" x2="1122.6" y2="234.4" stroke="#000" stroke-width="1.5" stroke-dasharray="4 3"/>
<line x1="785.5" y1="189.2" x2="785.5" y2="263.1" stroke="#ff00ff" stroke-width="1.3" stroke-dasharray="1.6 2"/>
<line x1="1027.2" y1="189.2" x2="1027.2" y2="263.1" stroke="#00a000" stroke-width="1.2" stroke-dasharray="5 3"/>
<line x1="1040.5" y1="189.2" x2="1040.5" y2="263.1" stroke="#ff3030" stroke-width="1.6" stroke-dasharray="6 3"/>
<line x1="1062.3" y1="189.2" x2="1062.3" y2="263.1" stroke="#ff00ff" stroke-width="1.3" stroke-dasharray="1.6 2"/>
<line x1="1068" y1="189.2" x2="1068" y2="263.1" stroke="#ff3030" stroke-width="1.6" stroke-dasharray="6 3"/>
<line x1="1072.5" y1="189.2" x2="1072.5" y2="263.1" stroke="#0000ff" stroke-width="1.3" stroke-dasharray="1.6 2"/>
<line x1="1081.5" y1="189.2" x2="1081.5" y2="263.1" stroke="#00a000" stroke-width="1.2" stroke-dasharray="5 3"/>
<line x1="674.5" y1="197.7" x2="691.5" y2="197.7" stroke="#0000ff" stroke-width="1.0"/>
<text x="693" y="201.4" font-size="9.2" fill="#0000ff">V<tspan dy="2.8" font-size="6.6">L</tspan></text>
<line x1="674.5" y1="213.7" x2="691.5" y2="213.7" stroke="#20e020" stroke-width="1.0"/>
<text x="693" y="217.4" font-size="9.2" fill="#20e020">V<tspan dy="2.8" font-size="6.6">M</tspan></text>
<line x1="674.5" y1="229.8" x2="691.5" y2="229.8" stroke="#ff6060" stroke-width="1.0"/>
<text x="693" y="233.5" font-size="9.2" fill="#ff1010">V<tspan dy="2.8" font-size="6.6">N</tspan></text>
<path transform="matrix(.25 0 0 .1 0 0)" vector-effect="non-scaling-stroke" d="M2677 3216l2-10 1 3 1-1 2 6 1-10 2 3 1-11 1 20 2-19 1 16 2-8 1 1 1 0 2-14 1 12 2 8 1-4 1-3 2 0 1 1 2-7 1 7 1-1 2 0 1-8 2 2 1 1 1-14 2 11 1 2 2-5 1 10 1-10 2 7 1-1 2 3 1-5 1 6 2 3 1 0 2-13 1 9 1-18 2 5 1 13 2-16 1 9 1-2 2 14 1-1 2-22 1 22 1-13 2-6 1 1 2 5 1-24 1 13 2 0 1 17 2 1 1-18 1 9 2 5 1 1 2-9 1 1 1 5 2-2 1 7 2-7 1 7 1-5 2-18 1 12 2 6 1 4 1-15 2 6 1-5 2 3 1 10 1-4 2-15 1 1 2-7 1 16 1-5 2 6 1-18 2 11 1 13 1-18 2 15 1-26 2 5 1-1 1 28 2-27 1-3 2 26 1-11 1 3 2-19 1 17 2-16 1 1 1-3 2 11 1-9 2 2 1 1 1 0 2-1 1 5 2 6 1-12 1 7 2-2 1 6 2-8 1 14 1-13 2 20 1-13 2-1 1 2 1 11 2-5 1 12 2-2 1-1 1 0 2-14 1 21 2-1 1-9 1-7 2 25 1-11 2-7 1 9 1-3 2 3 1 2 2 5 1-1 1 2 2-23 1 21 2-3 1 1 1 13 2-19 1 8 2-3 1 14 1-10 2-3 1-4 2-4 1 21 1-4 2-12 1 3 2 1 1 8 1-10 2 22 1-12 2-5 1 0 1 1 2 18 1-20 2 9 1 2 1 1 2-12 1 6 2 9 1-12 1 17 2 3 1-15 2 25 1-10 1-10 2-14 1 26 2-14 1 14 1-10 2 15 1 0 2-11 1 9 1-4 2 10 1-12 2 5 1-2 1-5 2 4 1 6 2-5 1 29 1-36 2 12 1 17 2-1 1-15 1 17 2-4 1-7 2 4 1 0 1 14 2-9 1 11 2-20 1 16 1-6 2-1 1-11 2 8 1-2 1 6 2-11 1 10 2-5 1-18 1 21 2 14 1-15 2-19 1 4 1 20 2-3 1 11 2-23 1 15 1 18 2-22 1 10 2-3 1 11 1-15 2 38 1-12 2-29 1 19 1 21 2-34 1-6 2-6 1-4 1 34 2-4 1-11 2 9 1-6 1-24 2 33 1-13 2-18 1-9 1 13 2-18 1 11 2 17 1-25 1-9 2 7 1 1 2-25 1 28 1 0 2-15 1-2 2-9 1-22 1 29 2-20 1 7 2-20 1 17 1 5 2-26 1 44 2-13 1-13 1 2 2-2 1-7 2-13 1 15 1 1 2 15 1-25 2 0 1-1 1-35 2 18 1 23 2-38 1-22 1 30 2 15 1 15 2-6 1-5 1-52 2 39 1-8 2-44 1-12 1 63 2-14 1-2 2-24 1 25 1-21 2 14 1-31 2-14 1 45 1-8 2-19 1 8 2-16 1 15 1 4 2-43 1 7 2 28 1-18 1-14 2-28 1 66 2-35 1-8 1 16 2-7 1 0 2 2 1 29 1-1 2-2 1 21 2 3 1 2 1-16 2 18 1 8 2 12 1-16 1 4 2 0 1 27 2-2 1 12 1-63 2 60 1 14 2 8 1-15 1 24 2-28 1 13 2 7 1-12 1 7 2 14 1-59 2 42 1 19 1-8 2-13 1-1 2-30 1 9 1 8 2 19 1-31 2 19 1-8 1 13 2-12 1 19 2-13 1-25 1 30 2-30 1 40 2-36 1 4 1 8 2-46 1 53 2-12 1-9 1-4 2-7 1 8 2-34 1 32 1 9 2-26 1 4 2 9 1-8 1-10 2-11 1 16 2-24 1 44 1-31 2 31 1-33 2 16 1-7 1-15 2 8 1 22 2-16 1 7 1-17 2 26 1-14 2-12 1 11 1 9 2 12 1-6 2-23 1 23 1-2 2-4 1 35 2-32 1-14 1 38 2-8 1-18 2 29 1 5 1-11 2 9 1-34 2 27 1-29 1 24 2-13 1-4 2-33 1 56 1-54 2 45 1-8 2 8 1 10 1 6 2-1 1-30 2 29 1-29 1 16 2 27 1-39 2-15 1 4 1 34 2 14 1-16 2-14 1-8 1 38 2-21 1-32 2-5 1 37 1-10 2-10 1 2 2-11 1 25 1-54 2 75 1-17 2-18 1 7 1 6 2-20 1 16 2-23 1 6 1 8 2 9 1-17 2 0 1 14 1-18 2 10 1-13 2 23 1-15 1-10 2 38 1-29 2-17 1 15 1 6 2 6 1-18 2 19 1-23 1 21 2-11 1 28 2-35 1 15 1-1 2-10 1-38 2 44 1 20 1-12 2-21 1 42 2-30 1 31 1-20 2 0 1 0 2-8 1-3 1 10 2 5 1-10 2 9 1-6 1-14 2 2 1-8 2-20 1 70 1-44 2 4 1 24 2-11 1-19 1 4 2 7 1-55 2 59 1-13 1-1 2-7 1 25 2 4 1 5 1-55 2 45 1 18 2-18 1 5 1-17 2-9 1-2 2 37 1-39 1 30 2 6 1-62 2 51 1 3 1-2 2-16 1 10 2-20 1 20 1 1 2-6 1-6 2 9 1 1 1 1 2-29 1 22 2-24 1 27 1 11 2 1 1-15 2-4 1 40 1-36 2-2 1-12 2 32 1-46 1 11 2 2 1 14 2-17 1 24 1-22 2 3 1 3 2 20 1-38 1 49 2-20 1-9 2 6 1 14 1-29 2 7 1 5 2-10 1 2 1-3 2 5 1-6 2-35 1 15 1 3 2 6 1-6 2 0 1-1 1-52 2 42 1-5 2 11 1-15 1 19 2-1 1-16 2-16 1-33 1 42 2-1 1 11 2-12 1 2 1 25 2-31 1 12 2-3 1-21 1-2 2 42 1-75 2 66 1-19 1 17 2 13 1-16 2 13 1-6 1-7 2 27 1-2 2 1 1 3 1-33 2 24 1-23 2 4 1 25 1-9 2-24 1 18 2 2 1-22 1-17 2 9 1 3 2-5 1 7 1-17 2 11 1-45 2 35 1-7 1 4 2-5 1-11 2-3 1 11 1-24 2 15 1 5 2-8 1-6 1-3 2-1 1 1 2 12 1 4 1 6 2-27 1-3 2 6 1-6 1-1 2 1 1-2 2 9 1-11 1-14 2 1 1 0 2 15 1-4 1-13 2-10 1 2 2-7 1 7 1 0 2-6 1-16 2 22 1-17 1 5 2-13 1 1 2 12 1-19 1 6 2 0 1-3 2 10 1 19 1-18 2-2 1-6 2 13 1 9 1-3 2 4 1 12 2 36 1 12 1 18 2 12 1 25 2 20 1 26 1 3 2 1 1-5 2 11 1 0 1-5 2 0 1 0 2-8 1 0 1 19 2-2 1-10 2-5 1 11 1-4 2-8 1 7 2-6 1 5 1-10 2 0 1 10 2 3 1-4 1-10 2 9 1 6 2-3 1-7 1 0 2 4 1-12 2-1 1 18 1-5 2 0 1 1 2-3 1 3 1-2 2-6 1-8 2 7 1 1 1 2 2 1 1 6 2 5 1-15 1 4 2 1 1-1 2 3 1 5 1-1 2 3 1 1 2-3 1 2 1-11 2 3 1 5 2 11 1-15 1 8 2 7 1-6 2 0 1 5 1 1 2-12 1 12 2 7 1 3 1-12 2 2 1 0 2-9 1 0 1 10 2-1 1 0 2 0 1-2 1 8 2-7 1-2 2 5 1-7 1 1 2 3 1 6 2 2 1-8 1 2 2 8 1-17 2 11 1-13 1 14 2-16 1 13 2-3 1 9 1 0 2-7 1-2 2 1 1-2 1 6 2 6 1-9 2-6 1-12 1 21 2-1 1-18 2 4 1 5 1 5 2 0 1 1 2 4 1 2 1-20 2 16 1-5 2-6 1 8 1-2 2 5 1-4 2-1 1-1 1-1 2 7 1-4 2-3 1 0 1-1 2-3 1 4 2-1 1 9 1-17 2 5 1-17 2 2 1 14 1-5 2 14 1-8 2-7 1-1 1-1 2 18 1-19 2 0 1 0 1-1 2-2 1-5 2 19 1-1 1-1 2 7 1-20 2 6 1 6 1-10 2 1 1 0 2-5 1 5 1-7 2 2 1 13 2-7 1 10 1-14 2 4 1-4 2 4 1 16 1-19 2 16 1-31 2 21 1-8 1-7 2 3 1 11 2-1 1 12 1-17 2 7 1-7 2-12 1 17 1-10 2 8 1-3 2 10 1-9 1-3 2 6 1-8 2 7 1-12 1 21 2-3 1-13 2 0 1 19 1-19 2 11 1-7 2 10 1-18 1-4 2 18 1-11 2 15 1-8 1-11 2 9 1-2 2 2 1-4 1 9 2 5 1-1 2-3 1-11 1 10 2-4 1 1 2-6 1 4 1-5 2 6 1 5 2 1 1-2 1-16 2 5 1-5 2 1 1 12 1-1 2 9 1-14 2-2 1 12 1-11 2 6 1 5 2-15 1 19 1-35 2 28 1-8 2 10 1 7 1 14 2-16 1 5 2 10 1 10 1 13 2-2 1-22 2 25 1 9 1-19 2-4 1 17 2 18 1-11 1 37 2-27 1 2 2-11 1-6 1 31 2-29 1 32 2-4 1-20 1 10 2 16 1-11 2-18 1 12 1-8 2-5 1 16 2 2 1-4 1 2 2-8 1 18 2-6 1 26 1-34 2-18 1 25 2 21 1-28 1-16 2 31 1-15 2-20 1 5 1-3 2-10 1 7 2-35 1 25 1-38 2-4 1 8 2 6 1-11 1 6 2 20 1-6 2-3 1-15 1 34 2-4 1 8 2-13 1 14 1 6 2-5 1 9 2-10 1-18 1 57 2-23 1 6 2-30 1 52 1-39 2 14 1-1 2 12 1 3 1-7 2 3 1 3 2 17 1 11 1-20 2-11 1-1 2 29 1-39 1 22 2 30 1-44 2-10 1-16 1-14 2-32 1-13 2-19 1-39 1 45 2-27 1 10 2-2 1 4 1-3 2-4 1-29 2 41 1-42 1 21 2 28 1-6 2-11 1 3 1 24 2-29 1 16 2-3 1 16 1-36 2-33 1 51 2-57 1 6 1 19 2-57 1 14 2-41 1 16 1-2 2-4 1-9 2 44 1-11 1-26 2-10 1 22 2 0 1 50 1-67 2 7 1 32 2-49 1 37 1 23 2-3 1-54 2-40 1 95 1-37 2 76 1 12 2-15 1-17 1-7 2-8 1-70 2-25 1 1 1-49 2 60 1-16 2-73 1 50 1 37 2-28 1-1 2-13 1-86 1 46 2-13 1 48 2-30 1-2 1 30 2-42 1 16 2 8 1 34 1-67 2 74 1 5 2 33 1-79 1 41 2 73 1 53 2 8 1-123 1 70 2-55 1 17 2 182 1-211 1 154 2-37 1 66 2 9 1 35 1-35 2-89 1 29 2 203 1-126 1 126 2-15 1 25 2-99 1 28 1-7 2-141 1 106 2-19 1 54 1-148 2 92 1-106 2 6 1 48 1 173 2-70 1-188 2 120 1-145 1-13 2 155 1-187 2 148 1-71 1-178 2 101 1 57 2-39 1 51 1 60 2-218 1 62 2-86 1 73 1-70 2 48 1-105 2 212 1-39 1-79 2-135 1 79 2 97 1-103 1 148 2-71 1-140 2 103 1-56 1 118 2-100 1-184 2 347 1-179 1-117 2-12 1 6 2-45 1 58 1 101 2 126 1-229 2 44 1 56 1 37 2-86" fill="none" stroke="#ff1010" stroke-width="1.0" stroke-linejoin="round"/>
<path transform="matrix(.25 0 0 .1 0 0)" vector-effect="non-scaling-stroke" d="M2677 3214l2 1 1-16 1 24 2-11 1 4 2 7 1-3 1-24 2 14 1 5 2 8 1-3 1 4 2-11 1 3 2 8 1-6 1-16 2 14 1 14 2-9 1-1 1 1 2-7 1-2 2-7 1 16 1-17 2 13 1-2 2-6 1 5 1-9 2 10 1-6 2-12 1 13 1 6 2-10 1-1 2 0 1 13 1 0 2-15 1 12 2-14 1 16 1-7 2-5 1 10 2 0 1 3 1 6 2-10 1-8 2 9 1-22 1 18 2-9 1 14 2-17 1 22 1-11 2 4 1 3 2-5 1 2 1 3 2 4 1-6 2-10 1 0 1 17 2-15 1 5 2-6 1 7 1-14 2 8 1 11 2-7 1-11 1 15 2-3 1 0 2-1 1-2 1-6 2 3 1 14 2-19 1 0 1 9 2-4 1-4 2-4 1 10 1-3 2-3 1 15 2-6 1 8 1 6 2-12 1-4 2 0 1 6 1-7 2-9 1 16 2-1 1 13 1-9 2-2 1-13 2 5 1 15 1-14 2 18 1-12 2 4 1-7 1 11 2-3 1-5 2-15 1 21 1-2 2-12 1 7 2 6 1 6 1-12 2-13 1 22 2-12 1 3 1 17 2-12 1-7 2 11 1 6 1-22 2 19 1-1 2-7 1 1 1-6 2 23 1-26 2 17 1-12 1 2 2 15 1-7 2-6 1 12 1-6 2 5 1-24 2 31 1-17 1 1 2 21 1-3 2-4 1-9 1 0 2 0 1 10 2-17 1 12 1-8 2 13 1 3 2-8 1 8 1-1 2-1 1 19 2-8 1-4 1-5 2-2 1 5 2 3 1-8 1 2 2 2 1-1 2 9 1-2 1 0 2 9 1-1 2-9 1 11 1-18 2 22 1-12 2 1 1 9 1-16 2 8 1 18 2-9 1-19 1 12 2-12 1 13 2 10 1-12 1 7 2 8 1-13 2 1 1-6 1 11 2 7 1 0 2-3 1-3 1-5 2 15 1-16 2 1 1 4 1 1 2 14 1-14 2 7 1-10 1 10 2-21 1 11 2 11 1-9 1 5 2-1 1 2 2-2 1-7 1 7 2-1 1 3 2-10 1-4 1 15 2-18 1 26 2-15 1-1 1-2 2 1 1 6 2 6 1 0 1-6 2-9 1 8 2 6 1 3 1-13 2-5 1 0 2-3 1 6 1-1 2-9 1 0 2 5 1 12 1-25 2 13 1-12 2-3 1-6 1 12 2-8 1-1 2-15 1 20 1-2 2-20 1 14 2 5 1-9 1-1 2-7 1 9 2-4 1-3 1-7 2 20 1-5 2-19 1 0 1 8 2-13 1 4 2 4 1-6 1-9 2 2 1-9 2 10 1-8 1-13 2 15 1-1 2-13 1-2 1 8 2-7 1 6 2-21 1 20 1-9 2-25 1 11 2 5 1-9 1-5 2-4 1-2 2 11 1-6 1-1 2 17 1-29 2 23 1 4 1-1 2 0 1 5 2 4 1-4 1 1 2 6 1 7 2-3 1-6 1 7 2 6 1-6 2 17 1-7 1 6 2 10 1-8 2-2 1 0 1 15 2-8 1 14 2-12 1 8 1-2 2 3 1 2 2 4 1 9 1-3 2-6 1 14 2-8 1 6 1 3 2 14 1-1 2-11 1-18 1-3 2 6 1 3 2-15 1 12 1 5 2-25 1 8 2 7 1-16 1-5 2 1 1 3 2-3 1-7 1-2 2 0 1 7 2-13 1 16 1-11 2-6 1 1 2 5 1-19 1 24 2-8 1 2 2 6 1-11 1 0 2 4 1 12 2 3 1-10 1-2 2 2 1 0 2 2 1 0 1-6 2-16 1 24 2-12 1 3 1 10 2 11 1-5 2-11 1 6 1-6 2 12 1-3 2 11 1-4 1-6 2 13 1-23 2 4 1 0 1-3 2-3 1 14 2-7 1-7 1 11 2-27 1 3 2-7 1-2 1 9 2-3 1-17 2-6 1-2 1-4 2-3 1-10 2 0 1-14 1-1 2 13 1-7 2 21 1-6 1 20 2-9 1 18 2 13 1-2 1 14 2-1 1 0 2 7 1-3 1-7 2-4 1-10 2 14 1 4 1-5 2 0 1-10 2 12 1-9 1-10 2 15 1-7 2-16 1 16 1-12 2 12 1 2 2-1 1 8 1 1 2 0 1-13 2-3 1 16 1-12 2 4 1-2 2-5 1 13 1-15 2-3 1 22 2-19 1 17 1-4 2-20 1 24 2-12 1-4 1 1 2-1 1-3 2 8 1-10 1 4 2 1 1-7 2-3 1 6 1-10 2 3 1 1 2-4 1 17 1-22 2 1 1 13 2-7 1-14 1 8 2-3 1-11 2 9 1-1 1-3 2 4 1 0 2 2 1-8 1-5 2 11 1 1 2 0 1-1 1 8 2-7 1 5 2 4 1-7 1 3 2 2 1 2 2 1 1-12 1 17 2-1 1-21 2 10 1 11 1-21 2 22 1 5 2-24 1 18 1 1 2 8 1-6 2-1 1-1 1-2 2 8 1 3 2 1 1-9 1-8 2 2 1 19 2-10 1 15 1-20 2-11 1 10 2 23 1-27 1 17 2 11 1-10 2-3 1 4 1 1 2-9 1 8 2 11 1-19 1 13 2 3 1-16 2 26 1-5 1-8 2 1 1 3 2-18 1 20 1-10 2 18 1-1 2 1 1-5 1-16 2 20 1 5 2-21 1 5 1 2 2 12 1-1 2-5 1-1 1 8 2 1 1-12 2 17 1-19 1 10 2-6 1 7 2-8 1 0 1 10 2-13 1 4 2 1 1 2 1 2 2-11 1 5 2 4 1 1 1 8 2-9 1 1 2-6 1 8 1 8 2 2 1-19 2 16 1-6 1-10 2 11 1 17 2-2 1-11 1-2 2 24 1-11 2 4 1-11 1 2 2 6 1-1 2-12 1 7 1 8 2-1 1 0 2-7 1-13 1 37 2-13 1-6 2 6 1-10 1 30 2-18 1-2 2 9 1-11 1-9 2 12 1-4 2 2 1 19 1-14 2 7 1-8 2-3 1 28 1-17 2-12 1-3 2 5 1 1 1 12 2-11 1 12 2 1 1-4 1 3 2-6 1 12 2-16 1 2 1 12 2-4 1-5 2 18 1-11 1 12 2-20 1 10 2 5 1 0 1 2 2-3 1-4 2 2 1 12 1-3 2-16 1 8 2 5 1 1 1-5 2 5 1 0 2-8 1 7 1 14 2-21 1 7 2 7 1-5 1 2 2-1 1 9 2-18 1 10 1 5 2 2 1-10 2 7 1 1 1-17 2 14 1-3 2-20 1 0 1 0 2-23 1-1 2-18 1 5 1 2 2-21 1-7 2-22 1 25 1-5 2-6 1 1 2 15 1-4 1 0 2 2 1-5 2-1 1-4 1 6 2-4 1 3 2-5 1-3 1 4 2-7 1 8 2 6 1-19 1 10 2-4 1 8 2-15 1-3 1 12 2 15 1-26 2 21 1-17 1 10 2-13 1 4 2 7 1-1 1-3 2-13 1 17 2 9 1-22 1 17 2-8 1-7 2 10 1 16 1-16 2 1 1-11 2 17 1 0 1-3 2 0 1 8 2-12 1 5 1-18 2 28 1-17 2 15 1 1 1-4 2-17 1-2 2 16 1 12 1-12 2 11 1-16 2-3 1 13 1 0 2 6 1-2 2-16 1 6 1-13 2 13 1-11 2 25 1-19 1 1 2 13 1-7 2 1 1-8 1 10 2 10 1-13 2 7 1 0 1 3 2-11 1 13 2-6 1 11 1-15 2-2 1 5 2 0 1-6 1 4 2-1 1 9 2-4 1-9 1-1 2 7 1-2 2-10 1 18 1-2 2-2 1 2 2-18 1 26 1-11 2-12 1 9 2-12 1 14 1-4 2-5 1 6 2-10 1 2 1 0 2 18 1-15 2-1 1 1 1 0 2-2 1-2 2 10 1 1 1-3 2-1 1-2 2-9 1 6 1 14 2-24 1 20 2-13 1 4 1 3 2 4 1 14 2-15 1-12 1-2 2 13 1-6 2 1 1 9 1-14 2 15 1-9 2-2 1-1 1-6 2 21 1-12 2-6 1-2 1 14 2-5 1-4 2-12 1 12 1-4 2-2 1 18 2-6 1-3 1 1 2-12 1 5 2 17 1-26 1 10 2 1 1 17 2-22 1 6 1 10 2 0 1-12 2 0 1 12 1 0 2 2 1-3 2-15 1 8 1 1 2-7 1 3 2 0 1 13 1-13 2 1 1 2 2 0 1 10 1-7 2 1 1-6 2-4 1 20 1-15 2-10 1 21 2-17 1 11 1-4 2 5 1-5 2 15 1 2 1-4 2-9 1 0 2 8 1-15 1-2 2 5 1-4 2 7 1-2 1 5 2 2 1-26 2 29 1-16 1 15 2-1 1 7 2-12 1 3 1 8 2 1 1-12 2-12 1 26 1-18 2 5 1 2 2 0 1 8 1-4 2-2 1 5 2-3 1 6 1-18 2 0 1 11 2-9 1 7 1 1 2 0 1-8 2 14 1 6 1-2 2-6 1 16 2 4 1-17 1 1 2 9 1-3 2 5 1-16 1 8 2 0 1 26 2-7 1-8 1 1 2 0 1 5 2 12 1-18 1 22 2-21 1 9 2-2 1-6 1 16 2-2 1-18 2 5 1 8 1-2 2-11 1 4 2-6 1 0 1 4 2 5 1 1 2-12 1 0 1-8 2-3 1-3 2 11 1-12 1 14 2-11 1 1 2-13 1 2 1-2 2 2 1-4 2 5 1 6 1-14 2 16 1-27 2 13 1-2 1-3 2 14 1 1 2-2 1 0 1-10 2 16 1-15 2 8 1-5 1-14 2 25 1-11 2 6 1 5 1-15 2 0 1 6 2-8 1 15 1-15 2 11 1 10 2 3 1-20 1 16 2-26 1 34 2-12 1-2 1-1 2-7 1-2 2-14 1-8 1-17 2 1 1 20 2 8 1 8 1 32 2 14 1-20 2-6 1 25 1 3 2 13 1-7 2 1 1 7 1-72 2 52 1 11 2-32 1 33 1 4 2-30 1-8 2 19 1-5 1-1 2-15 1-28 2 52 1-58 1 28 2-51 1-18 2 50 1-35 1-46 2 17 1 11 2 16 1-73 1 59 2 4 1-4 2-12 1 12 1 27 2 7 1-19 2 24 1-16 1-15 2 22 1 28 2-17 1 5 1-13 2 31 1-32 2 0 1 36 1-74 2 1 1-67 2 14 1 42 1-2 2-64 1-22 2-46 1-10 1-17 2 18 1-2 2-17 1-50 1-6 2 70 1-45 2-11 1-23 1 19 2-6 1-54 2 140 1-65 1 92 2-77 1-79 2 123 1 18 1 58 2-96 1 43 2-115 1 181 1-41 2 112 1-154 2 163 1 14 1 11 2-56 1 100 2 48 1 34 1-185 2 104 1-29 2 49 1 41 1 108 2-54 1 15 2 39 1-168 1 35 2 1 1-132 2 96 1 30 1-108 2 22 1 8 2 59 1-174 1 129 2-133 1 126 2-105 1 36 1-39 2 23 1-206 2 325 1-395 1 115 2 126 1 65 2-125 1 37 1-168 2 233 1-111 2 4 1 120 1-3 2-100 1 52 2 78 1-300 1 47 2-20 1-80 2-5 1 168 1 83 2-174 1 23 2-50 1 120 1-157 2 5 1 125 2-140 1-57 1 171 2-75 1-142 2 90 1 142 1-188 2 198 1-59 2-147 1-8 1 72 2 96" fill="none" stroke="#000" stroke-width="1.4" stroke-linejoin="round"/>
<path transform="matrix(.25 0 0 .1 0 0)" d="M4340 2885l3 31 3-16 4 7 3 10 3 18 3-5 3 7 4 17 3 11 3 62 3 52 3 24 4 66 3 41 3 35 3 50 3 35 4 29 3-19 3-25 3-55 3 14 4-67 3-24 3-33 3-27 3-35 4-33 3-24 3 1 3-14 3-18 4-7 3-7 3-19 3 0 3-7 4-48 3 12 3-26 3-32 3-33 4-25 3 37 3 3 3 21 0-196-3-7-3-16-3 6-4 15-3 21-3 41-3 27-3 9-4-1-3 25-3 3-3 27-3 30-4-8-3 25-3 6-3 28-3-7-4 46-3 20-3 49-3 28-3 34-4 38-3 36-3 12-3 51-3 36-4-68-3-22-3-46-3-62-3-18-4-27-3-33-3-42-3-26-3-46-4 15-3-26-3 4-3-10-3-14-4 4-3-16-3 30z" fill="#000" fill-opacity="0.5"/>
<line x1="785.5" y1="263.1" x2="785.5" y2="336.9" stroke="#ff00ff" stroke-width="1.3" stroke-dasharray="1.6 2"/>
<line x1="1027.2" y1="263.1" x2="1027.2" y2="336.9" stroke="#00a000" stroke-width="1.2" stroke-dasharray="5 3"/>
<line x1="1040.5" y1="263.1" x2="1040.5" y2="336.9" stroke="#ff3030" stroke-width="1.6" stroke-dasharray="6 3"/>
<line x1="1062.3" y1="263.1" x2="1062.3" y2="336.9" stroke="#ff00ff" stroke-width="1.3" stroke-dasharray="1.6 2"/>
<line x1="1068" y1="263.1" x2="1068" y2="336.9" stroke="#ff3030" stroke-width="1.6" stroke-dasharray="6 3"/>
<line x1="1072.5" y1="263.1" x2="1072.5" y2="336.9" stroke="#0000ff" stroke-width="1.3" stroke-dasharray="1.6 2"/>
<line x1="1081.5" y1="263.1" x2="1081.5" y2="336.9" stroke="#00a000" stroke-width="1.2" stroke-dasharray="5 3"/>
<line x1="674.5" y1="271.2" x2="691.5" y2="271.2" stroke="#ff1010" stroke-width="1.0"/>
<text x="693" y="274.7" font-size="9.4" fill="#ff1010">T</text>
<text x="698.4" y="279.1" font-size="7.2" fill="#ff1010">||</text>
<line x1="674.5" y1="285.9" x2="691.5" y2="285.9" stroke="#303030" stroke-width="1.8"/>
<text x="693" y="289.4" font-size="9.4" fill="#200000">T</text>
<text x="698.4" y="293.8" font-size="7.2" fill="#a04040">&#8869;</text>
<path transform="matrix(.25 0 0 .1 0 0)" vector-effect="non-scaling-stroke" d="M2677 3783l2-1 1 1 1 5 2-8 1 4 2-5 1-1 1 59 2-56 1 3 2-6 1 4 1-2 2-5 1-2 2 2 1-2 1 10 2-6 1 0 2-2 1-1 1 3 2 1 1 3 2-5 1 7 1-4 2 9 1-3 2-4 1 0 1 4 2-3 1-1 2 2 1-7 1 3 2 3 1 5 2-1 1-2 1-5 2 9 1-11 2 2 1 3 1 0 2 49 1-48 2 3 1 2 1-4 2 4 1 0 2-2 1 1 1 4 2 56 1-54 2-8 1 9 1-2 2-2 1-11 2 4 1-6 1 4 2-4 1 2 2 1 1-7 1 5 2 10 1-2 2-8 1 9 1-15 2 6 1 1 2 6 1-10 1-4 2 8 1-1 2 3 1 1 1 0 2-2 1-10 2 4 1 7 1-10 2 8 1-6 2-3 1 6 1 12 2-7 1 11 2 3 1-21 1 1 2-4 1-1 2 6 1 0 1 7 2-2 1-9 2 16 1-9 1-2 2 1 1 1 2-8 1 14 1 2 2-6 1 2 2-3 1-4 1 12 2-2 1 2 2-10 1 0 1 4 2 1 1-2 2 7 1-2 1-5 2 0 1 3 2-17 1 8 1-15 2 25 1-9 2-10 1 5 1 13 2 0 1 7 2-4 1 2 1-12 2 4 1 2 2-17 1 5 1 0 2 4 1 2 2 14 1-10 1 0 2-14 1 9 2-15 1 22 1-6 2 3 1-3 2 3 1-2 1 5 2-3 1-7 2-2 1 4 1-21 2 7 1 20 2-20 1 12 1 8 2 4 1 0 2-7 1-1 1-12 2 11 1 0 2-2 1-3 1-13 2 21 1-6 2 15 1-24 1 10 2 5 1-18 2 7 1 7 1-7 2 4 1-3 2 4 1-18 1 18 2 0 1-5 2 20 1-1 1-12 2-19 1 7 2 5 1-15 1 3 2-3 1 5 2-1 1 1 1-3 2-36 1 51 2-4 1-19 1-6 2 1 1-4 2-3 1 2 1 12 2-7 1 2 2-10 1 5 1 8 2-6 1 16 2-2 1-5 1-16 2 19 1 0 2 5 1 6 1-10 2-9 1 11 2 4 1-4 1 1 2 13 1-5 2 18 1-8 1-12 2 1 1-1 2 6 1-9 1 11 2-8 1-5 2-10 1 0 1-5 2 4 1-12 2 5 1-2 1 12 2-21 1 20 2-4 1 12 1-10 2 3 1 6 2 8 1-11 1-56 2 41 1 4 2-6 1-11 1 5 2-3 1 9 2-13 1 12 1-1 2 7 1-11 2 12 1-15 1 12 2-7 1 23 2-4 1-16 1-4 2 5 1 14 2 20 1-21 1-25 2 23 1 7 2 12 1-7 1-2 2 13 1 4 2-13 1-5 1 8 2-22 1 6 2 2 1 11 1-8 2-3 1 0 2 19 1-9 1 3 2-16 1 61 2-41 1 1 1 3 2 0 1-10 2-3 1-343 1 85 2 239 1 7 2-10 1 7 1-9 2 1 1 1 2 10 1-2 1-1 2 8 1-18 2 5 1 7 1-48 2 51 1 0 2 2 1-24 1 29 2-5 1 6 2-2 1-11 1-12 2-12 1 11 2 4 1 10 1-6 2 11 1 1 2 9 1 0 1-15 2 16 1 8 2-7 1-3 1 0 2-2 1-9 2-6 1 8 1-5 2 13 1-2 2-5 1-7 1 10 2-20 1 12 2-15 1 14 1 4 2-48 1 28 2-10 1 13 1-2 2 1 1 1 2 2 1 7 1 6 2-3 1 7 2 0 1 15 1-16 2 8 1-19 2 1 1 14 1 1 2-16 1 8 2-11 1 11 1 0 2-13 1 19 2-17 1 4 1 8 2-41 1 28 2 15 1 2 1 10 2-4 1-5 2-5 1 22 1-14 2-11 1-1 2 4 1 6 1-6 2 2 1 1 2-4 1 2 1-16 2 6 1-8 2 5 1-12 1 10 2 2 1-4 2 9 1 6 1-6 2 35 1-105 2 62 1-8 1 12 2 1 1-10 2 1 1 8 1-6 2-4 1 23 2 36 1-31 1-4 2 0 1 2 2-7 1 5 1-13 2-7 1 4 2 10 1-14 1 19 2 5 1-24 2 1 1 14 1-11 2 12 1 1 2 8 1-12 1-2 2 8 1-1 2 5 1-19 1 1 2 2 1 5 2-5 1 4 1-4 2 0 1-1 2-3 1-9 1 0 2 7 1-1 2-12 1 20 1-9 2 25 1-7 2 11 1-3 1-2 2-2 1 7 2 0 1-5 1-1 2 2 1 0 2-13 1 18 1-1 2-21 1 10 2 0 1-12 1 8 2 0 1 5 2-3 1-5 1 16 2 4 1 10 2 4 1 3 1-4 2-18 1 22 2-11 1 13 1-18 2 0 1 11 2-1 1-8 1 30 2-23 1 2 2 1 1-2 1-2 2-12 1 26 2-12 1 3 1 4 2 8 1-9 2 0 1-13 1 11 2 7 1 4 2-1 1 8 1-5 2 17 1-14 2 4 1 0 1-15 2-9 1 8 2 0 1 0 1 10 2-11 1 5 2 4 1-10 1-9 2 7 1 9 2-5 1 10 1 11 2-14 1 17 2-9 1-5 1 4 2-1 1-21 2 1 1 2 1 22 2-15 1 11 2-8 1-3 1-6 2 3 1-3 2 3 1-2 1-51 2 96 1-32 2-1 1-8 1 11 2-14 1 3 2-1 1 14 1-8 2 1 1 13 2-16 1 13 1-7 2-24 1 32 2 3 1 8 1-4 2-3 1-8 2 0 1 4 1 8 2 4 1-4 2-8 1-7 1 4 2-4 1-3 2-12 1 6 1 5 2 6 1 4 2-2 1-6 1 9 2-11 1 2 2 1 1-3 1 0 2-6 1-3 2 11 1-12 1 2 2-1 1 4 2 8 1 3 1-20 2-20 1 14 2-7 1 13 1 5 2-10 1 58 2-43 1-4 1-9 2-2 1 1 2-5 1 3 1-6 2 15 1-3 2-1 1 10 1 1 2 1 1 6 2-2 1 5 1-20 2-1 1 60 2-47 1-12 1 17 2 8 1-17 2 2 1-4 1-5 2 13 1-2 2 0 1 16 1-10 2-3 1 7 2-4 1-1 1 0 2-3 1-14 2 13 1-4 1-6 2 3 1 0 2 3 1 1 1-2 2 4 1 2 2 2 1-7 1 4 2-9 1 4 2 6 1-6 1-4 2 12 1 6 2-37 1 31 1 4 2-6 1 1 2 1 1 2 1 3 2-7 1 3 2 8 1-3 1-6 2-1 1-8 2 11 1-8 1 2 2 9 1-1 2-3 1-9 1 19 2-4 1-10 2 2 1 1 1-3 2 4 1-5 2-3 1-12 1 12 2-1 1 13 2-3 1 2 1 2 2 8 1-12 2-65 1 61 1 5 2 4 1-8 2 7 1-3 1-4 2-4 1 12 2 3 1-9 1 0 2-1 1 6 2-7 1-2 1 10 2 0 1-15 2 5 1-31 1 35 2 3 1 2 2 1 1-11 1-4 2-4 1-3 2 1 1 5 1-1 2 1 1-2 2 0 1-1 1 6 2-16 1 2 2 7 1 54 1-51 2 9 1-11 2 1 1-2 1 5 2 8 1-4 2-3 1-3 1-2 2-10 1 7 2 3 1 10 1-2 2-1 1 0 2-2 1 4 1 3 2-4 1-2 2 7 1-3 1 2 2-5 1 0 2 4 1 0 1-4 2 3 1 0 2 5 1-4 1 2 2 2 1-8 2 4 1 7 1 5 2-4 1 57 2-59 1 4 1-12 2 5 1-5 2-6 1 4 1-12 2 2 1-1 2 4 1 2 1 1 2 2 1-1 2 1 1-9 1-1 2 5 1 1 2-2 1-9 1 5 2 4 1 2 2-13 1 7 1 4 2-2 1-8 2 10 1 4 1 0 2 1 1 4 2-5 1-1 1-15 2 18 1-3 2-2 1 5 1-2 2 7 1 0 2-2 1-2 1 3 2-5 1-2 2 5 1-9 1 14 2 0 1-2 2-2 1 1 1 8 2-4 1-2 2 3 1-4 1 4 2 5 1-9 2-3 1-7 1 10 2-8 1-5 2-26 1 26 1-6 2 9 1-3 2 1 1-1 1 12 2-6 1-1 2 1 1 4 1-7 2 4 1-1 2 6 1-2 1-6 2-4 1 1 2 7 1-7 1 12 2 5 1-2 2-3 1 2 1-5 2-8 1-3 2 10 1 2 1 0 2-3 1 3 2-1 1 1 1-3 2 0 1-4 2-11 1 4 1 5 2 29 1-30 2 2 1 4 1-5 2 7 1-2 2 8 1-10 1 8 2 5 1 3 2-4 1 18 1-11 2-6 1 2 2-3 1 9 1 5 2 5 1-6 2-5 1-11 1-6 2 7 1 5 2 0 1-16 1 9 2-8 1 11 2-34 1 27 1-8 2 4 1 8 2-2 1 1 1-7 2 0 1-4 2-1 1-2 1 8 2-3 1 3 2 17 1-2 1 11 2-15 1 6 2-5 1-4 1-13 2 11 1 3 2-7 1 7 1-15 2 25 1 3 2-15 1 32 1-44 2 21 1 9 2 13 1-13 1 6 2-8 1-19 2 9 1 9 1 3 2-6 1 7 2 5 1 5 1-15 2-22 1 19 2 5 1-8 1 9 2-7 1-12 2 10 1-6 1 20 2-42 1 16 2 5 1 18 1-9 2-9 1 2 2 1 1 12 1-16 2 0 1 12 2-5 1 11 1-13 2 17 1-10 2-8 1 10 1-12 2 11 1 1 2-9 1-41 1 48 2 2 1 5 2-17 1 12 1 7 2-13 1-12 2 13 1-5 1-1 2 4 1-19 2 8 1 15 1-6 2-2 1-8 2 18 1-12 1-5 2 2 1-33 2 31 1 6 1-12 2-10 1 13 2 8 1 25 1-6 2-14 1 7 2-10 1 14 1-17 2-6 1-62 2 63 1-1 1-12 2 5 1-3 2-1 1-3 1 2 2 4 1-10 2 14 1 2 1-13 2 8 1-13 2-17 1 23 1-3 2-5 1-12 2 12 1-25 1 21 2 9 1-22 2 3 1 13 1-14 2-18 1 9 2 9 1-3 1-16 2 1 1 6 2 20 1-20 1-8 2-17 1 14 2-9 1 5 1 4 2-32 1 12 2 3 1 9 1 3 2-3 1 4 2-12 1 14 1-22 2 10 1 7 2 1 1-11 1 18 2-3 1-17 2 10 1 2 1-4 2-2 1 14 2-1 1-9 1-7 2 16 1 11 2-1 1 13 1-26 2 3 1-14 2 1 1 1 1 9 2-27 1 22 2 36 1-34 1-18 2 20 1-3 2-14 1 16 1-19 2 6 1-17 2 25 1 5 1-4 2-13 1-2 2 5 1 7 1 9 2-3 1 6 2-9 1 0 1-13 2 19 1-11 2-7 1 17 1-11 2 28 1-13 2 3 1 8 1-6 2-23 1 20 2-2 1-9 1 1 2 22 1-8 2-19 1 13 1 6 2 7 1 14 2-2 1-16 1 21 2-14 1-15 2-2 1-7 1-11 2 13 1-4 2 1 1 15 1-7 2-16 1 11 2-2 1 6 1 5 2-4 1-5 2-1 1 3 1-8 2 13 1 10 2-8 1 37 1-38 2-2 1-9 2-10 1-5 1 2 2 12 1-5 2 4 1-15 1 7 2 7 1 11 2-8 1 8 1-5 2 5 1 5 2-8 1 2 1 51 2-58 1 4 2-14 1 5 1 5 2 3" fill="none" stroke="#0000ff" stroke-width="1.0" stroke-linejoin="round"/>
<path transform="matrix(.25 0 0 .1 0 0)" vector-effect="non-scaling-stroke" d="M2677 3784l2-3 1 1 1 0 2 0 1 6 2 1 1-9 1 5 2-6 1 5 2-3 1 5 1-2 2-2 1-3 2-4 1 2 1-1 2-4 1 9 2 19 1-25 1-2 2 7 1-6 2-2 1-1 1 0 2-2 1 2 2 6 1 4 1 1 2-1 1-3 2-5 1 44 1-34 2-7 1-5 2 4 1 3 1 9 2-1 1-6 2-2 1 2 1-1 2 0 1 7 2 1 1 2 1-5 2-1 1-4 2 8 1-12 1 3 2 1 1-1 2-10 1 6 1 6 2-13 1 11 2 1 1-1 1-6 2 0 1 0 2 7 1 10 1-6 2 8 1 3 2 0 1 7 1 2 2-8 1 4 2-1 1-17 1 3 2 3 1-14 2 0 1 7 1-7 2-4 1 0 2 4 1 1 1 6 2-1 1-3 2 10 1 4 1 5 2-21 1 5 2-7 1 4 1 49 2-33 1-4 2 9 1-8 1 43 2-40 1 2 2 5 1 13 1-12 2 9 1 3 2-6 1-2 1-9 2-2 1-1 2-9 1 1 1 5 2-12 1 7 2-5 1-4 1 2 2-3 1 6 2 2 1-13 1 12 2 14 1-4 2 3 1-9 1-4 2-3 1-9 2 14 1-12 1 19 2-14 1 3 2 15 1-6 1-2 2 20 1-16 2 4 1-14 1 17 2-18 1 6 2-13 1 12 1 0 2-15 1 3 2-5 1 7 1-12 2 10 1 0 2 5 1 8 1 0 2-3 1 9 2-5 1 12 1-15 2-3 1 6 2-3 1-1 1 5 2-1 1-9 2-1 1 16 1-2 2 9 1-11 2 7 1-8 1 12 2 1 1-12 2 0 1 3 1 15 2-5 1 1 2-16 1 15 1 6 2 2 1 0 2-9 1 2 1 1 2 6 1-7 2 5 1-13 1 7 2-5 1 13 2-12 1-5 1 9 2-7 1 0 2 10 1-6 1-4 2-11 1 20 2-10 1 6 1-11 2 13 1-10 2 13 1 13 1-10 2 5 1 9 2-1 1-3 1 2 2-5 1-17 2 17 1 0 1-14 2-8 1 13 2 14 1-1 1 5 2 2 1-2 2 13 1-11 1 4 2-4 1-2 2 4 1-12 1 34 2-40 1 5 2 10 1-4 1-4 2 4 1-12 2 9 1-12 1 10 2 11 1-9 2 5 1 53 1-56 2-5 1 4 2 7 1 4 1-3 2 8 1-10 2 0 1-4 1-10 2-52 1 52 2-6 1 16 1-8 2-1 1 1 2 12 1-3 1-2 2-17 1 17 2-19 1 8 1 10 2-10 1 21 2-5 1-3 1 8 2 3 1-2 2-11 1-1 1 0 2-2 1-49 2 42 1 10 1-3 2 2 1-11 2 1 1 7 1-6 2 3 1 13 2 1 1 7 1-10 2 4 1 7 2-3 1-2 1-3 2-4 1 51 2-61 1 3 1-10 2 6 1-7 2 286 1-283 1-1 2-4 1 9 2 18 1-14 1 0 2 14 1 6 2-10 1 5 1 4 2-2 1 0 2-3 1 3 1 3 2 41 1-47 2 1 1-3 1 0 2-3 1 4 2-12 1-8 1 9 2 2 1-19 2 5 1-6 1 19 2 2 1-11 2 13 1-1 1-2 2 0 1-1 2 2 1 6 1-18 2 1 1 1 2 1 1-2 1 6 2-11 1 7 2-10 1 9 1 0 2 4 1-11 2 18 1-9 1-8 2 13 1-2 2-8 1 0 1 5 2-5 1 12 2 28 1-49 1 14 2 9 1-1 2-4 1 1 1 4 2-3 1-11 2-2 1-6 1 16 2 5 1-4 2 0 1-4 1-28 2 30 1 2 2 10 1-4 1 5 2-9 1-15 2 13 1 5 1-5 2 4 1 7 2-4 1-7 1-3 2 6 1-3 2 6 1 3 1-14 2 6 1 9 2 3 1-7 1 4 2 5 1 14 2-13 1 2 1-15 2 12 1-7 2 0 1-5 1 13 2 7 1 8 2-20 1-7 1 4 2 0 1-6 2 3 1 7 1-2 2 6 1 7 2-7 1 7 1-5 2-4 1 6 2-29 1 4 1 4 2 0 1 7 2-12 1 14 1-9 2 0 1 4 2-4 1 0 1 0 2-1 1-1 2-13 1 15 1-25 2 12 1-6 2 2 1-4 1-12 2 7 1 5 2 3 1 1 1-17 2 17 1-6 2 7 1-4 1 21 2-13 1 7 2-8 1-37 1 38 2 14 1-2 2-14 1-11 1 14 2-8 1 20 2 3 1-19 1 13 2-14 1 6 2-9 1 1 1 0 2-8 1 3 2 4 1-6 1 8 2 0 1 9 2-12 1 11 1-14 2 1 1 2 2 1 1-8 1 6 2-4 1 5 2-13 1-8 1-6 2 17 1-3 2 6 1-6 1 5 2 3 1-10 2 42 1-27 1-8 2 4 1-2 2-7 1-2 1 5 2-1 1-2 2-11 1 6 1 2 2-55 1 53 2-4 1 6 1-7 2 17 1-1 2-1 1-13 1 15 2-5 1 4 2-10 1 14 1-1 2-7 1-4 2 3 1-17 1 7 2-9 1 10 2-5 1 19 1-7 2-3 1-12 2 13 1-3 1 0 2-5 1 12 2-4 1 12 1-10 2 6 1-3 2-11 1-4 1 10 2-4 1 11 2-5 1 2 1-4 2 2 1-2 2 7 1 7 1-55 2 52 1 6 2-5 1-17 1 4 2-1 1-6 2 4 1 2 1-4 2-4 1 6 2 3 1 50 1-43 2-9 1 2 2-2 1 16 1-5 2-12 1-1 2 5 1-2 1 13 2 83 1-73 2-8 1-5 1 3 2 6 1-8 2 4 1-17 1-2 2 11 1 9 2-6 1 14 1-5 2 3 1-4 2-11 1-9 1 15 2-7 1 0 2 8 1-10 1 5 2-12 1 2 2 2 1 4 1 0 2 0 1-5 2 0 1 10 1-62 2 51 1 7 2-9 1-2 1 13 2-6 1-8 2 2 1-14 1 8 2-5 1 10 2 0 1 17 1-7 2 1 1-4 2-5 1 2 1 7 2 0 1 11 2 7 1-14 1-8 2 11 1-11 2 6 1-6 1-3 2 1 1-8 2 4 1-9 1 12 2-9 1 0 2 0 1 10 1-7 2 15 1-14 2 1 1-3 1 3 2 5 1 2 2 14 1-7 1 8 2-11 1-2 2 5 1-7 1 5 2-11 1 9 2 9 1-10 1 0 2 2 1 5 2-8 1-5 1 5 2 4 1-8 2 3 1 9 1-14 2 3 1-1 2 2 1 3 1-11 2-3 1 11 2 12 1-13 1-5 2 2 1 136 2-131 1-9 1 5 2 6 1 5 2-9 1 7 1 9 2-2 1-8 2-9 1-2 1 9 2-4 1 7 2-5 1 9 1-7 2-4 1 3 2-5 1-6 1 13 2 4 1-3 2 9 1-2 1 2 2-10 1 0 2-10 1 7 1-2 2 5 1-1 2-9 1 10 1-5 2 4 1-9 2 2 1-4 1 6 2-8 1 17 2-7 1-1 1 7 2-1 1-1 2-6 1 5 1-5 2-4 1 0 2 5 1-5 1 0 2 0 1 4 2 2 1 0 1 8 2 0 1-4 2-2 1-2 1 6 2 0 1-4 2-5 1 7 1-3 2-16 1 16 2-12 1-3 1 3 2 4 1 1 2 1 1 3 1-2 2 3 1 2 2 7 1-7 1 5 2 0 1-3 2-5 1 16 1-1 2-35 1 37 2-14 1 5 1-1 2-1 1 5 2-5 1 0 1-1 2 2 1 2 2-4 1 3 1-3 2 0 1 1 2-3 1 9 1-5 2-13 1 12 2-2 1-4 1 6 2-10 1 5 2 2 1-1 1-3 2 4 1 1 2 13 1-8 1 33 2-38 1 2 2-5 1 8 1 3 2-7 1 3 2-4 1 6 1-9 2 2 1 3 2 5 1-3 1 8 2-7 1-4 2-1 1 9 1-7 2 6 1-6 2 0 1 3 1-1 2 1 1 2 2-3 1-2 1 4 2-6 1 4 2-10 1 6 1 5 2-4 1 3 2-34 1 35 1-4 2 5 1 5 2-5 1-10 1 4 2 12 1-7 2-3 1 6 1 1 2-3 1 2 2-2 1-2 1 0 2-4 1 2 2 2 1 37 1-31 2-1 1-2 2-4 1 3 1 6 2-11 1-1 2 7 1 0 1 1 2 7 1-2 2-4 1-3 1-2 2 3 1-5 2-5 1 2 1 3 2-2 1 8 2-2 1-9 1 2 2 1 1-4 2-3 1 6 1 3 2 4 1 3 2-1 1 1 1-10 2 1 1 3 2 2 1-1 1 6 2-14 1 8 2-3 1-7 1 10 2-12 1 10 2 1 1 10 1-10 2 10 1-6 2 13 1-8 1 4 2-1 1-3 2-6 1-4 1 6 2-6 1-2 2-6 1 1 1-8 2 8 1-7 2 2 1 9 1-2 2 35 1 21 2-50 1-8 1-9 2 5 1-13 2 14 1 9 1-7 2 8 1-17 2 15 1 8 1 2 2-8 1-2 2 2 1 0 1 3 2 0 1-1 2-16 1 10 1-9 2 4 1-5 2 0 1-12 1 8 2 37 1-47 2 12 1 3 1 3 2 2 1-11 2 12 1 3 1-3 2-9 1 0 2 3 1 1 1 2 2-1 1 5 2-9 1-4 1-5 2 2 1 11 2-9 1 9 1-16 2 3 1 3 2-11 1-1 1 7 2-7 1-1 2 3 1 9 1 4 2-16 1 14 2-6 1 10 1 5 2 7 1-12 2-5 1-7 1 1 2 1 1-3 2-1 1 23 1-4 2-20 1 11 2-12 1 15 1 7 2-1 1 2 2 2 1-3 1 0 2 3 1-10 2-8 1-10 1 16 2-3 1 7 2 2 1-9 1 6 2-3 1 2 2-2 1 10 1-5 2-17 1 6 2-3 1 3 1-11 2 6 1-5 2-4 1 10 1-12 2 4 1 6 2-7 1-10 1-44 2 49 1-9 2 4 1-1 1 5 2-12 1 4 2 11 1-19 1 1 2 8 1-16 2 0 1 1 1-7 2-4 1-9 2 0 1 13 1-9 2 2 1 8 2-11 1 3 1 2 2 1 1-155 2 141 1 11 1-1 2-9 1-3 2-3 1-13 1 21 2-21 1 20 2 6 1-10 1-3 2 4 1 11 2-6 1 0 1-2 2-16 1 8 2-3 1 15 1-12 2 13 1-20 2-6 1 6 1 5 2-1 1 1 2-11 1 12 1-11 2-3 1 1 2 4 1-47 1 44 2-5 1 21 2 1 1-3 1 2 2-5 1-1 2 3 1-9 1 0 2-1 1 11 2-4 1 6 1-8 2 5 1-7 2 1 1 9 1-15 2 5 1 3 2-8 1 9 1-14 2 12 1-5 2-14 1-5 1 5 2 6 1 3 2 7 1-6 1-12 2-5 1 14 2 4 1-11 1-4 2 5 1 2 2 1 1-1 1 4 2-23 1-4 2 8 1 6 1-6 2 4 1 3 2-7 1-4 1 10 2 4 1-6 2 4 1 39 1-22 2-4 1 0 2-5 1 5 1-26 2 9 1 10 2 1 1-14 1 2 2-12 1-8 2 4 1 1 1 1 2 1 1 0 2-4 1-5 1-2 2 2 1 12 2 1 1-1 1-8 2-2 1 12 2-3 1 5 1-4 2-8 1 4 2-6 1-1 1 7 2-8 1-13 2 13 1 16 1-21 2-1" fill="none" stroke="#20e020" stroke-width="1.0" stroke-linejoin="round"/>
<path transform="matrix(.25 0 0 .1 0 0)" vector-effect="non-scaling-stroke" d="M2677 3786l2-5 1-4 1 0 2-5 1 3 2 5 1-7 1 10 2-2 1 8 2-10 1 2 1-5 2 5 1-2 2 4 1 5 1-10 2 3 1-2 2-1 1 6 1-6 2 3 1-2 2 9 1-1 1 3 2-7 1-7 2 5 1 5 1-1 2 2 1-11 2 4 1-2 1-3 2 7 1 0 2 0 1 1 1 1 2 6 1-5 2-5 1 9 1 6 2-7 1 5 2 2 1 0 1-2 2 2 1-10 2 4 1-3 1-79 2 80 1-3 2 0 1 9 1-7 2 4 1 9 2 0 1-8 1-2 2-3 1-3 2 0 1 6 1-2 2-10 1 13 2-4 1-5 1 6 2 13 1-13 2-6 1-3 1 12 2 0 1-6 2-9 1 5 1-9 2 11 1-14 2-9 1 13 1 8 2 17 1-10 2 6 1-6 1-2 2-4 1-3 2 1 1-1 1-5 2 8 1 4 2-2 1 5 1-2 2 10 1-21 2 13 1-3 1 3 2-11 1 5 2 6 1-3 1 3 2 4 1-58 2 61 1-3 1 2 2-5 1 2 2-12 1-5 1 8 2-12 1 10 2 5 1-14 1 10 2 13 1-1 2 6 1-9 1 1 2 4 1-14 2 10 1-14 1 16 2 3 1-7 2 5 1-5 1 3 2 18 1-14 2-10 1 8 1 6 2-29 1-14 2 28 1-20 1 17 2-5 1 5 2 5 1 4 1-1 2-9 1 9 2-17 1-8 1 11 2-17 1-4 2 22 1 3 1-21 2-4 1 9 2 11 1-2 1-15 2 12 1 5 2 14 1 86 1-100 2 4 1-5 2 10 1 6 1-20 2 0 1-5 2 22 1-31 1-1 2 0 1 1 2 22 1 7 1 4 2 10 1-19 2-7 1-2 1 4 2 22 1-56 2 13 1 3 1-11 2-5 1 9 2-4 1 1 1 21 2 3 1 4 2-41 1 16 1-29 2-55 1 51 2-8 1-1 1 2 2 18 1-4 2 5 1 31 1 12 2-13 1-12 2-6 1 12 1 12 2-34 1-13 2 18 1-28 1-8 2 29 1-39 2 4 1 2 1 28 2-2 1-10 2-8 1 11 1 22 2-8 1 18 2-30 1-3 1 20 2-36 1 99 2-112 1 16 1 8 2 1 1-16 2-1 1-4 1-18 2 23 1-18 2-10 1 34 1-15 2 12 1 32 2-6 1-58 1 6 2 18 1 9 2 15 1-61 1 107 2-72 1-1 2 0 1 32 1-28 2-9 1-7 2-23 1 26 1 28 2-10 1 35 2-13 1-19 1 9 2-29 1 52 2-91 1 25 1-17 2-31 1-45 2 88 1-7 1-9 2 9 1 11 2 3 1 23 1 3 2 10 1 19 2-35 1 24 1-35 2-17 1 21 2-25 1 39 1-20 2 17 1 6 2-26 1 69 1-19 2-4 1-52 2 27 1-21 1 10 2 29 1-11 2-22 1 67 1-23 2-1 1-40 2 5 1 4 1 8 2-2 1 2 2-25 1 77 1-68 2-44 1 3 2 13 1-17 1 43 2 42 1-71 2 65 1-12 1-2 2-6 1 19 2-29 1 12 1-7 2 34 1-44 2-15 1 3 1-10 2 29 1 1 2-42 1 1 1 3 2 6 1-16 2 30 1 6 1-30 2-24 1 6 2-13 1 58 1-47 2 57 1-23 2 93 1-76 1 17 2-5 1-7 2-41 1 22 1-2 2 12 1-20 2 42 1-14 1-6 2-22 1 28 2-2 1 14 1-74 2 35 1-36 2 34 1-29 1 31 2-35 1 33 2-28 1 24 1-14 2 12 1 41 2 25 1-19 1-37 2 29 1-5 2-8 1-6 1 46 2-27 1-13 2-4 1-45 1 22 2-3 1 29 2-13 1 22 1-13 2 59 1-49 2 2 1-31 1 6 2-12 1-16 2 6 1-10 1-6 2-17 1 31 2-27 1 1 1 33 2-1 1 18 2 8 1 4 1-17 2 44 1-13 2 20 1 17 1-38 2-14 1 7 2-11 1-7 1-8 2-37 1 39 2 10 1-18 1 8 2-52 1 48 2 24 1-19 1 5 2-49 1 36 2-63 1 32 1 27 2-1 1 49 2-16 1 16 1-20 2 11 1 69 2-24 1-10 1 66 2-17 1-39 2 40 1-17 1-7 2-11 1 45 2-7 1-25 1 38 2-32 1 6 2 21 1-11 1 32 2-8 1-16 2 8 1 42 1-28 2 4 1 14 2-11 1-1 1-2 2-10 1-22 2-22 1 26 1 3 2 12 1 3 2 10 1-17 1-17 2-18 1 23 2 37 1-7 1 3 2-20 1 43 2-53 1 28 1-20 2-24 1 28 2-44 1 22 1 9 2-4 1 8 2 12 1-30 1 18 2 6 1 6 2 30 1 10 1-21 2-10 1 5 2 36 1-13 1 11 2 3 1-12 2 14 1-30 1-4 2 18 1 7 2-12 1-6 1 0 2-1 1 5 2 27 1-3 1-13 2 18 1-7 2-15 1 12 1-28 2 11 1 36 2-8 1-13 1-9 2 13 1-7 2 0 1-12 1-6 2 4 1-19 2 66 1-48 1 14 2-84 1 74 2-16 1 23 1-10 2-5 1-11 2 12 1 6 1 1 2 57 1-74 2-47 1 53 1 9 2 9 1-1 2 4 1-5 1-25 2 12 1 62 2-71 1-2 1-85 2 108 1-15 2-10 1 7 1 4 2-4 1 4 2-5 1-9 1 2 2 15 1-31 2 18 1 11 1 1 2-3 1-7 2 6 1-9 1-1 2 5 1-2 2-4 1 2 1-8 2 14 1-14 2-5 1 12 1-7 2 0 1-4 2 1 1-9 1 17 2-14 1 9 2 4 1 2 1-8 2 13 1-22 2-4 1 11 1 1 2 2 1-5 2-17 1 11 1 8 2-14 1 5 2-1 1 13 1 3 2-11 1 11 2-9 1-8 1-84 2 91 1 3 2 3 1-4 1-3 2-6 1 9 2-13 1 7 1 7 2-1 1-10 2 14 1 1 1-13 2 3 1 8 2-9 1 8 1-53 2 54 1-5 2-5 1 3 1-7 2 8 1 7 2-76 1 71 1 4 2-2 1-4 2 4 1-5 1 7 2-8 1 6 2-3 1 0 1-9 2 10 1-16 2 12 1-3 1 0 2 0 1 1 2 1 1 8 1 1 2-7 1 4 2-4 1-62 1 68 2 3 1-15 2 7 1-5 1 5 2 2 1 0 2-2 1 1 1 4 2 2 1 10 2-7 1-8 1-2 2-9 1 8 2-5 1 8 1-9 2 3 1-4 2 5 1-2 1 3 2-291 1 289 2-214 1 217 1 5 2-2 1 4 2-8 1 4 1 4 2 1 1 9 2-4 1 7 1-7 2-5 1 5 2-9 1 4 1 102 2-110 1-5 2 1 1 13 1 1 2-3 1-8 2 2 1 3 1 2 2 2 1-12 2 9 1-4 1 0 2 5 1 56 2-62 1 2 1 0 2 1 1-11 2 1 1-6 1 9 2-9 1 2 2-10 1 8 1 4 2 4 1 5 2 3 1 11 1-15 2 12 1 4 2-10 1-4 1-2 2 12 1-10 2 3 1 1 1 2 2 7 1 3 2-5 1-2 1-3 2 9 1-1 2-5 1-1 1 0 2 11 1-8 2-2 1 11 1-18 2 1 1 3 2 5 1-52 1 51 2 5 1-19 2 3 1-3 1 9 2 8 1-10 2-6 1 0 1 0 2-3 1 2 2 84 1-85 1-6 2 20 1-18 2 3 1-1 1 15 2-7 1 10 2 4 1-6 1 4 2 2 1 5 2-3 1 4 1-8 2 1 1-3 2-8 1 5 1-2 2 6 1-6 2 4 1 1 1-12 2-5 1 7 2 9 1-4 1 0 2 3 1 7 2 0 1-13 1 4 2 0 1 3 2 4 1-1 1 4 2-12 1-11 2-1 1 3 1 2 2-44 1-26 2 58 1 15 1-5 2 3 1-7 2 7 1-9 1 4 2-10 1 3 2 16 1-9 1 14 2-67 1 54 2 5 1 11 1-15 2 6 1-5 2-3 1 33 1-36 2 14 1-70 2 63 1 6 1-6 2 11 1-9 2-5 1 8 1 5 2-19 1-71 2 67 1 2 1 3 2 1 1-67 2 65 1 9 1-3 2 2 1-10 2 11 1-14 1 0 2-8 1 12 2-7 1 6 1-1 2-11 1 5 2 7 1 1 1-4 2-9 1 13 2-13 1 13 1 12 2-8 1 5 2-7 1-11 1 9 2-8 1 1 2-3 1 11 1 2 2 6 1 6 2-7 1 11 1 10 2 0 1-2 2-1 1-1 1 4 2-10 1-4 2-3 1-1 1-4 2-8 1 19 2-73 1 82 1-20 2 9 1-3 2-13 1-2 1 26 2-11 1-10 2 9 1-4 1-28 2 12 1 6 2-58 1 50 1-22 2 3 1 15 2-47 1 17 1-38 2 39 1-22 2-30 1 24 1 9 2 34 1-26 2-1 1 25 1 0 2-35 1-8 2 27 1-20 1-39 2-5 1 54 2-9 1 10 1-9 2-21 1-40 2 12 1-19 1 18 2 0 1 27 2 37 1-10 1-43 2 27 1 8 2-119 1 82 1 58 2-21 1 15 2-64 1 109 1-58 2-13 1-4 2-4 1 14 1-33 2-18 1-16 2-20 1 5 1-46 2 85 1-35 2 49 1-18 1 12 2-11 1-77 2 62 1-45 1 41 2-4 1-17 2-5 1-6 1 10 2 9 1-25 2 24 1 5 1 2 2 28 1 2 2 5 1-5 1-16 2-12 1 47 2-16 1-18 1 23 2-65 1 50 2-23 1 7 1-5 2-1 1 28 2 12 1-16 1-25 2-36 1 5 2-2 1-9 1 46 2-12 1 11 2 29 1-7 1 204 2-207 1-19 2-5 1 11 1-8 2 3 1 63 2-45 1 10 1-15 2 19 1-16 2 24 1-1 1 9 2-8 1-13 2 61 1-37 1 7 2 39 1-11 2-33 1 9 1-39 2 17 1 5 2-22 1-3 1 9 2 7 1-9 2 8 1-7 1 15 2-48 1 21 2-42 1 18 1-8 2 78 1-61 2 20 1 12 1-7 2 54 1 37 2-42 1 27 1 38 2-14 1 6 2 32 1-29 1-12 2 57 1-27 2 21 1 17 1-26 2 33 1-16 2-28 1 11 1 20 2-28 1-6 2-1 1 15 1 15 2-31 1-9 2-81 1 108 1-35 2 13 1 9 2-22 1 19 1-1 2 15 1-24 2 17 1 17 1 5 2 6 1-3 2-22 1 3 1-9 2 10 1 2 2 3 1 6 1 3 2-3 1 17 2-14 1-1 1 0 2 13 1 12 2-18 1 10 1-12 2 10 1 2 2-16 1-1 1 11 2-11 1-2 2-65 1 56 1 11 2 1 1-14 2 6 1 11 1-19 2 3 1-3 2 23 1-7 1-9 2-2 1 2 2-8 1-5 1-1 2 9 1 10 2-2 1 3 1 9 2 1 1-8 2 8 1-7 1-55 2 51 1-3 2 12 1 5 1-16 2 11 1-13 2-2 1 1 1 0 2 12 1-6 2 1 1-2 1 9 2-6 1-3 2-13 1 6 1-12 2-5 1 16 2 13 1 0 1-72 2 75 1-8 2 4 1 2 1-11 2-1 1 3 2-11 1 11 1-12 2 6 1 5 2-10 1 1 1-5 2 18 1-10 2-8 1 7 1 7 2 3" fill="none" stroke="#ff1010" stroke-width="1.0" stroke-linejoin="round"/>
<line x1="669" y1="378" x2="1122.6" y2="378" stroke="#000" stroke-width="1.5" stroke-dasharray="4 3"/>
<line x1="785.5" y1="336.9" x2="785.5" y2="410.8" stroke="#ff00ff" stroke-width="1.3" stroke-dasharray="1.6 2"/>
<line x1="1027.2" y1="336.9" x2="1027.2" y2="410.8" stroke="#00a000" stroke-width="1.2" stroke-dasharray="5 3"/>
<line x1="1040.5" y1="336.9" x2="1040.5" y2="410.8" stroke="#ff3030" stroke-width="1.6" stroke-dasharray="6 3"/>
<line x1="1062.3" y1="336.9" x2="1062.3" y2="410.8" stroke="#ff00ff" stroke-width="1.3" stroke-dasharray="1.6 2"/>
<line x1="1068" y1="336.9" x2="1068" y2="410.8" stroke="#ff3030" stroke-width="1.6" stroke-dasharray="6 3"/>
<line x1="1072.5" y1="336.9" x2="1072.5" y2="410.8" stroke="#0000ff" stroke-width="1.3" stroke-dasharray="1.6 2"/>
<line x1="1081.5" y1="336.9" x2="1081.5" y2="410.8" stroke="#00a000" stroke-width="1.2" stroke-dasharray="5 3"/>
<line x1="674.5" y1="342.6" x2="691.5" y2="342.6" stroke="#0000ff" stroke-width="1.0"/>
<text x="693" y="346.3" font-size="9.2" fill="#0000ff">E<tspan dy="2.8" font-size="6.6">L</tspan></text>
<line x1="674.5" y1="352.2" x2="691.5" y2="352.2" stroke="#20e020" stroke-width="1.0"/>
<text x="693" y="355.9" font-size="9.2" fill="#20e020">E<tspan dy="2.8" font-size="6.6">M</tspan></text>
<line x1="674.5" y1="361.8" x2="691.5" y2="361.8" stroke="#ff1010" stroke-width="1.0"/>
<text x="693" y="365.5" font-size="9.2" fill="#ff1010">E<tspan dy="2.8" font-size="6.6">N</tspan></text>
<path transform="matrix(.25 0 0 .1 0 0)" d="M4250 4500l3 3 3 37 4-4 3-42 3 26 3 43 3-36 4 31 3-3 3-49 3 56 3-12 4-25 3 24 3 4 3-26 3 4 4 15 3 7 3-1 3-19 3-13 4 53 3-7 3 1 3 17 3-31 4 11 3 1 3-24 3-2 3 17 4-40 3 26 3 56 3-41 3-4 4-6 3-4 3 32 3 16 3-26 4-20 3 37 3-20 3-35 3 6 4 16 3-35 3 74 3-22 3-22 4 13 3-15 3-13 3 20 3 24 4-41 3-16 3 3 3 39 3-74 4 73 3-18 3-5 3 0 3 26 4-24 3-1 3-6 3 5 3-9 4-31 3 54 0-420-3-2-4-8-3 20-3 21-3-34-3 3-4 4-3-14-3 12-3 31-3-25-4 1-3 26-3-27-3 8-3-24-4 10-3 15-3 16-3 0-3-13-4-19-3-11-3 23-3-18-3 38-4-8-3-35-3 6-3 38-3 20-4 35-3-72-3 29-3 2-3 40-4-46-3-8-3 29-3-38-3-13-4 41-3 43-3-79-3 64-3-20-4-31-3 71-3-21-3-13-3 40-4 26-3-70-3-19-3 49-3 2-4-7-3 13-3 19-3-6-3-39-4 69-3-25-3 18-3-54-3 31-4 4-3 72-3-54-3 39-3 36-4 9-3 21-3 44z" fill="#000" fill-opacity="0.62"/>
<path transform="matrix(.25 0 0 .1 0 0)" vector-effect="non-scaling-stroke" d="M2677 4474l2-3 1 53 1-43 2 0 1 0 2 1 1 2 1-1 2-13 1 24 2-20 1 3 1 3 2-2 1 55 2-51 1-13 1 7 2-2 1 2 2-12 1 13 1-5 2 6 1 4 2-5 1 5 1-10 2 2 1 2 2-3 1 7 1-2 2-14 1 22 2-15 1 1 1 5 2-3 1-12 2 8 1 10 1-7 2-6 1-3 2 24 1-7 1-13 2 18 1 2 2 31 1-44 1 29 2-23 1-5 2-1 1 6 1 1 2 1 1-1 2 0 1-21 1 2 2 13 1-15 2 24 1-8 1-4 2 5 1 1 2-8 1 6 1 8 2-2 1-2 2-7 1 5 1-9 2 2 1 10 2-2 1 42 1-50 2 7 1 4 2-13 1 3 1 9 2-4 1 11 2-26 1 24 1-26 2 15 1 0 2 9 1-3 1-10 2-22 1 22 2 5 1 15 1-12 2-32 1 19 2 19 1 5 1-29 2 21 1-27 2 19 1-22 1 22 2 4 1-5 2-3 1-10 1 1 2 31 1-17 2 5 1-13 1 11 2-53 1 39 2 0 1 11 1 7 2-17 1 8 2 11 1-30 1 16 2 8 1 19 2 0 1-34 1 18 2-9 1 10 2-20 1 1 1 28 2-29 1-53 2 83 1-47 1 5 2 32 1-20 2 7 1 20 1-21 2 1 1-25 2 32 1 6 1-4 2 0 1 1 2-4 1-13 1 37 2-52 1 29 2-6 1-8 1 13 2-10 1 16 2 15 1-2 1 2 2-27 1 2 2 19 1-5 1-18 2 28 1-22 2 20 1 8 1-32 2 20 1-16 2 4 1 5 1 13 2-10 1 17 2-14 1-43 1 73 2-33 1 7 2-2 1 11 1 8 2-4 1-21 2-9 1 10 1-16 2 4 1 15 2 7 1-4 1-6 2 19 1-64 2 71 1-18 1-35 2 42 1 9 2-19 1-15 1-7 2 37 1 7 2-2 1-28 1-5 2 11 1-17 2 12 1-24 1 41 2-22 1 36 2-11 1-71 1 91 2-51 1 36 2-10 1 10 1-10 2 9 1-3 2 0 1 14 1-24 2-1 1 11 2-22 1 24 1-1 2-12 1 45 2-19 1-9 1 14 2 2 1-26 2 32 1-29 1 6 2 12 1 0 2-9 1 4 1-9 2 5 1-75 2 69 1-19 1 22 2-17 1 5 2-23 1 31 1 6 2 8 1-34 2 25 1-9 1-5 2 17 1-32 2 22 1-4 1-2 2 15 1 3 2-7 1-26 1 17 2 28 1-26 2 20 1-31 1 13 2 2 1 10 2-21 1 34 1-28 2 15 1-3 2 2 1-14 1 30 2-49 1 33 2 6 1 15 1-27 2-2 1 1 2 0 1-4 1-3 2 41 1-48 2 21 1-19 1 7 2-133 1 180 2-43 1 16 1 9 2-10 1 1 2 1 1 2 1-7 2 1 1-4 2 2 1-7 1 11 2 1 1-6 2 5 1-9 1 21 2-24 1 23 2-25 1-19 1 18 2-33 1 37 2-14 1 24 1-8 2 1 1 11 2-67 1 37 1 10 2-29 1 51 2-28 1 65 1-39 2-5 1-13 2-2 1 24 1-17 2-21 1 24 2-15 1 17 1-1 2-10 1-13 2 20 1 4 1-16 2 21 1-5 2-5 1 1 1 1 2 2 1 13 2-30 1 20 1 11 2-27 1 18 2-9 1-6 1-7 2 2 1 11 2-3 1 10 1 5 2-1 1-6 2-17 1 29 1-12 2-1 1-8 2-6 1 27 1 11 2-26 1-7 2-1 1 13 1-22 2 27 1-18 2 10 1-14 1 3 2-9 1 18 2 2 1-7 1-13 2 27 1 10 2-40 1 18 1-1 2 8 1 11 2-11 1 2 1 3 2-21 1-4 2 14 1 23 1-25 2 17 1 6 2-19 1 2 1 5 2-29 1 10 2 27 1-14 1 1 2 5 1-9 2-6 1 22 1-14 2 0 1 8 2 0 1-5 1-18 2-2 1 26 2-11 1 47 1-32 2-1 1 0 2-34 1 12 1-3 2 25 1-10 2 22 1-35 1-20 2 28 1 19 2-19 1-46 1 53 2 17 1-29 2 18 1 14 1-36 2 21 1-25 2 12 1-13 1 4 2 24 1-13 2-1 1-14 1 10 2 9 1 25 2-21 1-28 1 13 2 22 1-15 2 30 1-30 1 32 2-20 1-3 2 17 1-36 1 21 2-8 1-21 2 23 1 4 1-12 2 11 1-8 2 28 1-48 1 42 2-20 1 14 2-32 1-10 1 30 2 9 1-36 2 40 1 1 1-15 2-8 1-13 2 27 1-7 1-7 2 11 1 6 2 20 1-38 1 16 2-36 1 22 2-7 1-5 1 11 2 14 1 4 2-10 1 6 1-35 2 11 1 27 2-8 1-3 1 4 2 25 1-38 2 23 1-26 1 1 2 10 1-7 2-14 1 31 1-20 2 31 1-47 2 23 1 2 1 3 2-18 1 30 2 2 1-36 1 5 2-6 1 13 2 1 1 6 1 16 2-12 1 6 2-35 1-7 1 18 2 5 1-6 2-12 1 27 1 8 2-20 1-7 2 0 1 10 1 6 2 22 1-38 2 10 1 11 1-11 2 6 1 9 2 5 1 2 1 5 2-9 1-36 2 9 1 81 1-69 2 14 1-7 2-5 1 8 1-11 2-10 1 17 2-14 1 3 1-7 2 9 1 11 2-20 1 2 1-3 2 15 1 10 2-27 1 36 1-13 2-16 1 15 2-14 1-3 1 48 2-41 1-3 2-9 1 11 1 3 2 15 1-20 2 8 1-24 1 1 2 28 1-48 2 37 1 13 1-28 2 53 1-60 2 15 1-12 1-5 2 25 1-20 2-15 1 30 1-4 2 10 1-2 2 13 1-5 1 0 2-15 1-11 2 24 1 26 1-57 2 10 1 5 2-6 1 17 1-3 2 9 1-42 2 26 1-8 1 14 2-1 1 2 2-12 1 18 1-20 2-4 1 31 2-26 1 1 1-13 2 35 1-5 2-5 1-19 1 26 2 6 1-16 2 4 1-3 1-25 2 19 1-8 2 25 1-8 1-12 2-18 1 30 2-20 1 18 1 0 2-20 1-5 2 17 1 6 1 4 2-31 1 38 2-15 1-3 1-25 2 49 1-30 2 19 1-22 1 34 2-34 1 8 2 18 1-26 1 14 2-4 1 7 2-19 1 20 1-11 2 30 1-88 2 59 1-1 1-22 2 6 1 5 2-5 1 37 1-16 2-13 1-1 2 25 1-6 1 0 2-21 1 7 2 22 1 30 1-49 2 10 1-11 2-105 1 370 1-247 2-21 1 6 2-1 1-5 1-2 2-4 1 10 2 4 1 3 1-7 2 4 1-13 2 13 1-25 1 18 2 0 1 0 2-4 1-1 1 18 2-5 1 5 2-5 1-6 1-5 2-9 1 137 2-98 1-17 1-19 2 23 1 61 2-69 1 12 1-26 2 24 1-5 2-20 1 12 1 8 2-15 1 13 2-6 1-2 1 19 2-83 1 47 2 4 1 7 1-12 2 22 1 6 2-26 1 17 1-19 2 35 1-26 2 0 1 32 1-30 2 10 1-3 2 5 1-1 1 14 2-30 1 26 2-10 1 0 1-17 2 10 1 16 2-16 1 1 1 8 2-14 1 18 2 18 1-25 1 4 2 1 1-9 2-5 1-2 1 6 2 2 1-3 2-8 1 19 1-1 2-15 1 64 2-61 1 5 1-12 2 23 1-17 2-21 1 23 1-2 2 7 1-1 2-14 1 9 1 26 2-31 1 2 2-1 1 27 1-18 2 9 1-13 2 4 1 2 1-11 2-6 1 16 2-11 1 21 1-9 2-6 1 4 2 5 1-6 1-5 2 5 1 12 2-8 1-2 1-2 2 1 1-8 2 2 1 7 1-9 2 6 1 6 2 2 1-2 1-13 2-9 1 20 2-9 1 3 1 70 2-65 1 51 2-64 1 3 1 1 2 7 1 5 2-6 1 0 1-3 2-4 1-9 2 5 1 6 1-7 2 9 1-6 2 7 1-7 1 5 2 14 1-20 2 23 1-24 1 9 2-7 1 6 2 5 1 0 1-13 2-1 1 5 2-4 1 14 1 56 2-75 1 10 2-3 1 7 1-4 2 7 1-5 2 10 1-10 1 0 2-13 1 10 2 6 1 50 1-64 2 5 1 12 2 29 1-32 1-2 2-3 1 1 2 8 1-3 1 9 2-21 1 4 2 13 1-7 1-15 2 20 1 1 2-15 1-9 1 19 2 3 1-11 2 3 1-1 1-10 2 13 1-3 2-7 1 11 1 1 2-5 1 17 2-19 1-3 1 8 2 2 1-14 2 16 1-10 1 2 2-8 1 0 2 15 1 6 1-19 2 12 1 0 2-9 1 7 1-6 2 18 1-18 2-1 1 5 1-5 2 14 1-8 2-1 1 0 1 7 2 12 1-17 2-20 1 14 1 7 2-18 1 6 2 7 1 0 1-4 2 17 1-15 2 21 1-28 1-2 2 13 1-2 2 8 1-9 1 12 2-16 1 0 2 5 1-7 1 11 2-5 1-16 2 22 1-17 1 24 2 8 1-32 2 31 1-20 1-6 2 17 1-3 2-16 1 11 1 5 2-6 1 8 2 0 1-13 1 16 2 5 1-8 2-7 1 7 1-7 2 1 1-10 2 11 1-2 1 15 2-8 1-3 2-14 1 22 1-27 2 14 1 3 2-24 1 22 1-12 2 7 1-2 2 27 1 5 1-14 2-14 1-7 2 6 1 6 1 1 2 10 1 6 2-10 1-6 1 23 2-28 1 1 2-15 1 22 1 6 2-9 1 4 2-7 1 9 1-22 2 8 1 9 2-1 1-19 1 33 2-11 1-1 2-20 1 24 1 4 2-14 1-15 2 15 1-15 1 20 2 2 1 1 2-3 1 2 1-14 2 39 1-72 2 51 1 55 1-72 2 35 1-25 2-68 1-14 1-102 2 171 1-191 2 63 1 107 1-104 2 8 1 6 2-46 1 54 1 55 2-14 1-114 2 144 1-261 1 138 2 75 1 35 2-46 1-138 1 167 2-2 1-25 2 15 1-247 1 222 2 40 1-146 2 80 1-75 1 100 2-36 1-47 2 27 1 81 1-66 2-51 1 98 2 70 1-22 1-28 2-1 1-135 2 72 1 26 1-234 2 300 1 26 2-209 1 126 1 49 2 3 1-251 2 158 1 35 1-105 2 166 1-240 2 254 1-32 1-126 2 151 1-83 2 6 1 20 1 5 2 58 1-221 2 60 1-20 1 87 2 25 1-31 2 76 1 118 1-216 2 198 1-86 2-179 1 111 1 119 2-154 1 56 2 29 1-64 1-140 2 228 1-222 2 276 1-190 1 71 2-11 1-69 2 110 1 17 1-118 2-133 1 88 2 12 1 8 1 105 2 94 1-141 2-124 1 127 1-26 2-61 1 136 2 120 1-181 1-22 2 57 1 102 2-178 1 136 1-117 2 6 1 134 2-29 1-166 1 268 2-304 1 190 2 17 1-81 1-117 2 122 1-215 2 200 1-200 1 320 2-3 1-36 2 15 1-136 1 104 2-20 1-6 2-95 1-59 1-71 2 217 1-32 2 153 1-30 1-320 2 49 1 226 2-243 1 183 1 211 2-326 1 63 2 166 1-81 1 32 2-89 1 44 2-177 1 263 1-128 2-18 1-50 2 232 1-302 1 262 2-135" fill="none" stroke="#000" stroke-width="1.0" stroke-linejoin="round"/>
<path transform="matrix(.25 0 0 .1 0 0)" vector-effect="non-scaling-stroke" d="M2677 4471l2 1 1 3 1 0 2-3 1 0 2 4 1-3 1 5 2 0 1 2 2-9 1 2 1 8 2-1 1 2 2 0 1 38 1-43 2 3 1 1 2-2 1-5 1 6 2 1 1-2 2-3 1-55 1 56 2 3 1-4 2 6 1-3 1 6 2-6 1 1 2-3 1 1 1-1 2 1 1 3 2 1 1-6 1 0 2-4 1 5 2-4 1 0 1-6 2 5 1-2 2 2 1 4 1-6 2-2 1 5 2 2 1-4 1-6 2 5 1-7 2 0 1 8 1 3 2 1 1-7 2-1 1-2 1 8 2 2 1-4 2 7 1 13 1-3 2-11 1 3 2 3 1-1 1-3 2-8 1-1 2 8 1-8 1 2 2 7 1-2 2-2 1 7 1-8 2 2 1 3 2 0 1-2 1-7 2 9 1-2 2 1 1-3 1-8 2 2 1-7 2 10 1-1 1-3 2 4 1-4 2 11 1-2 1-4 2 5 1-10 2 11 1-3 1 1 2-5 1-5 2 4 1-3 1 0 2-3 1 6 2-3 1-5 1 11 2-3 1-2 2 2 1 1 1 28 2-39 1 10 2-11 1 5 1 0 2 6 1 5 2 11 1 2 1-13 2 2 1-5 2-10 1-3 1 13 2-1 1-1 2 4 1 4 1-5 2 1 1 10 2-10 1 5 1-10 2 5 1 7 2-15 1 10 1 6 2-1 1-9 2 1 1 12 1 6 2-16 1 0 2 5 1-17 1 4 2 12 1-14 2 1 1 9 1 5 2-10 1 2 2 0 1-7 1-37 2 52 1-10 2 17 1-3 1 5 2 8 1-6 2 2 1-10 1-5 2-2 1 5 2 12 1-19 1 6 2 0 1 2 2-17 1 2 1 5 2 2 1 5 2-1 1 15 1 4 2 10 1-7 2-5 1 4 1-11 2-4 1 8 2 4 1 6 1 9 2 2 1 5 2-10 1-3 1-7 2 5 1-2 2 12 1-6 1-4 2 5 1-8 2 7 1 4 1-9 2 2 1 4 2 9 1 1 1 4 2-12 1-9 2 8 1-10 1 4 2 1 1 11 2-16 1 1 1-7 2-2 1 4 2-4 1 0 1 52 2-39 1 4 2 4 1-8 1-5 2 0 1-5 2 6 1-1 1 5 2 2 1-4 2 10 1 9 1-3 2-5 1 7 2-3 1-4 1-5 2 2 1 6 2 10 1 0 1-14 2-7 1-5 2 0 1 2 1 5 2 19 1-15 2 0 1 13 1-10 2 4 1-3 2-8 1-1 1-11 2 14 1 4 2-12 1-3 1 5 2 2 1-3 2 11 1-6 1 7 2-2 1-4 2 11 1-3 1-4 2 9 1-6 2 3 1-11 1 18 2-3 1-9 2 14 1-11 1-3 2 16 1-14 2-10 1 12 1-11 2-6 1 11 2-5 1-2 1 1 2 0 1 1 2-2 1 9 1 10 2-15 1-2 2-107 1 437 1-316 2-1 1 0 2 4 1 6 1-2 2-4 1-16 2 9 1-20 1 12 2 0 1-2 2-11 1 2 1 17 2-11 1 4 2-6 1-2 1-8 2 16 1-4 2-2 1 9 1 0 2-5 1 0 2 8 1-4 1-3 2-6 1 10 2-2 1 5 1-8 2-1 1 0 2 11 1-10 1 5 2-5 1-4 2-1 1 8 1 0 2 6 1-3 2-9 1-6 1 3 2 3 1-1 2-3 1 3 1 2 2-7 1 10 2-14 1 5 1 13 2-11 1 11 2 0 1 19 1-10 2-2 1 4 2 5 1-1 1-9 2-13 1 3 2-1 1-9 1 2 2 22 1-1 2-9 1-13 1 7 2-12 1 8 2-1 1 3 1 9 2-3 1-3 2 1 1-6 1-3 2 2 1 13 2 4 1 4 1 2 2-18 1 14 2-5 1-1 1-3 2 7 1 8 2-8 1-6 1 1 2-5 1-5 2-11 1 3 1 13 2-11 1 20 2-5 1 8 1-4 2-4 1 7 2-2 1-8 1 5 2-5 1 1 2 12 1-13 1 11 2-15 1-1 2-9 1 4 1 8 2-6 1 3 2 21 1-16 1 6 2 10 1 3 2-7 1 1 1 11 2-3 1 59 2-48 1-10 1-4 2-13 1 6 2 6 1-18 1 9 2 0 1 13 2-6 1-3 1 1 2-12 1 5 2 1 1 7 1 0 2-8 1-2 2 6 1 2 1 6 2-16 1 0 2 3 1 2 1-4 2 10 1-11 2 17 1-17 1 16 2-12 1 16 2-9 1 8 1-4 2-6 1-11 2-45 1 37 1 8 2 13 1 0 2-3 1 9 1-1 2 1 1-8 2 33 1-22 1-5 2-18 1 9 2-7 1 16 1 6 2-9 1-6 2-7 1 4 1 5 2-5 1-2 2-2 1 11 1-11 2 13 1-5 2-1 1 14 1-6 2 1 1-8 2 2 1 1 1 0 2-14 1 6 2 5 1-1 1-18 2 4 1-7 2 3 1 19 1-9 2-5 1 8 2-2 1-9 1 7 2-4 1 33 2-27 1 36 1-44 2-6 1-5 2 11 1 15 1-44 2 29 1-4 2-7 1 4 1 11 2 0 1 0 2-1 1-4 1 12 2 1 1-4 2 4 1-9 1-11 2 3 1 0 2-5 1 2 1-6 2-12 1 0 2 15 1-3 1-8 2 12 1-15 2 4 1-11 1 21 2-11 1 7 2-5 1 11 1 8 2-7 1-12 2 13 1-7 1-1 2-8 1 22 2 1 1 13 1 7 2 7 1-9 2-7 1 13 1 12 2-11 1-7 2-7 1 7 1-16 2 10 1-12 2-7 1 3 1 0 2 0 1 17 2-7 1 6 1 0 2-1 1 2 2 5 1-10 1 5 2 9 1-10 2-1 1-6 1 0 2-3 1-12 2 11 1-15 1 36 2-52 1 8 2 12 1-1 1 6 2-8 1 11 2 16 1-16 1 7 2-5 1-1 2-14 1 8 1-17 2 13 1 18 2-15 1-4 1 8 2 3 1-1 2 24 1-32 1 0 2 7 1 4 2-2 1-7 1 18 2-5 1 2 2-16 1 11 1 10 2-3 1-5 2 7 1-12 1-11 2 5 1-20 2 9 1 13 1-21 2-2 1 11 2-7 1 7 1 7 2 10 1-1 2-6 1-6 1 9 2 9 1-13 2 12 1 12 1-14 2-1 1-3 2-2 1 4 1-2 2 12 1-20 2 13 1-2 1 8 2-24 1 21 2-10 1 9 1-16 2 1 1-6 2 11 1-6 1 10 2-3 1-4 2-3 1 14 1-10 2-9 1-1 2 12 1-9 1-1 2-4 1 7 2 31 1-28 1-10 2-14 1 16 2-1 1 11 1 1 2-2 1 3 2 3 1 4 1-2 2-6 1 7 2 42 1-48 1-4 2-7 1 5 2-15 1 7 1-4 2 7 1 2 2 1 1 4 1 7 2 0 1-16 2 5 1-9 1 0 2 11 1 1 2-13 1 13 1 0 2-10 1-4 2 8 1-7 1-1 2 9 1-5 2 1 1-5 1 38 2-42 1 5 2-4 1-8 1 46 2-40 1-1 2 9 1 0 1-3 2 4 1 10 2-9 1 5 1 1 2-4 1-5 2 7 1 1 1 14 2-15 1-1 2-5 1-4 1 6 2-3 1 3 2 1 1-6 1 7 2-13 1 4 2 1 1-4 1 9 2-2 1 6 2-6 1 4 1-4 2 3 1 0 2 8 1 0 1-3 2-2 1 9 2 0 1-7 1 7 2-8 1 4 2-8 1 10 1-4 2-4 1 6 2-14 1-2 1 2 2-7 1 1 2 11 1-6 1 10 2-5 1 7 2 0 1 1 1 0 2 2 1-3 2-5 1 0 1 3 2 1 1-37 2 32 1-2 1-2 2 4 1-1 2 2 1 3 1 1 2-3 1-2 2-2 1-1 1-11 2 6 1 6 2 7 1 3 1-10 2 0 1-1 2 4 1 20 1 32 2-56 1 5 2-5 1-1 1-1 2 4 1-7 2 1 1 3 1-3 2-4 1 7 2 0 1 3 1-3 2 2 1 3 2-1 1-2 1 0 2-3 1-2 2-3 1-3 1 4 2 1 1 0 2-2 1 3 1 1 2-5 1-1 2 7 1 1 1 7 2-4 1-2 2 1 1 60 1-53 2 0 1-4 2-1 1 0 1-3 2 0 1 2 2-3 1-2 1 25 2-20 1-1 2 0 1-53 1 50 2-6 1 1 2-1 1-50 1 57 2 1 1-2 2-1 1 5 1-1 2 1 1 25 2-30 1 5 1-2 2-4 1 2 2-3 1 3 1-2 2-3 1 3 2-5 1 8 1 1 2-6 1-2 2 3 1 1 1 0 2-2 1 1 2-2 1 26 1-27 2-8 1 4 2 7 1-13 1 11 2-4 1 11 2 2 1-8 1 2 2 0 1-4 2 2 1 5 1 9 2-1 1-5 2-7 1 1 1-9 2 0 1 1 2 8 1 4 1 0 2 2 1-1 2-7 1-1 1 2 2-8 1 5 2 2 1 0 1-5 2 13 1-13 2 6 1 1 1 6 2-8 1 5 2-3 1 0 1-7 2 5 1-6 2 6 1-5 1 0 2 5 1-9 2 0 1 14 1 20 2-35 1 13 2 1 1 4 1-11 2-1 1 3 2 4 1 1 1 1 2-3 1-1 2 2 1 8 1 2 2-3 1 1 2-10 1 11 1-3 2-3 1 8 2-4 1-6 1 10 2 36 1-43 2-3 1 6 1-4 2-7 1 3 2-5 1 6 1 12 2 3 1-12 2 7 1 7 1-11 2 5 1-3 2 0 1-7 1 8 2-3 1 1 2-7 1 5 1-3 2-1 1 5 2 0 1 61 1-59 2-11 1-1 2 64 1-50 1 11 2-6 1 6 2-5 1 11 1-8 2-13 1 10 2-16 1 3 1 4 2 5 1 6 2-4 1-11 1-3 2-13 1-14 2 0 1-12 1-7 2-8 1 7 2-8 1-11 1-15 2 6 1-9 2 4 1 8 1-2 2 7 1-26 2 3 1 7 1-2 2 1 1-6 2 10 1-9 1-3 2-6 1 5 2 7 1-11 1-10 2 7 1-12 2 3 1 14 1 1 2-6 1 15 2-17 1 3 1 0 2 10 1-9 2 1 1-14 1 9 2-4 1 6 2-4 1-7 1 6 2-6 1 5 2-11 1-1 1 8 2-13 1-7 2 9 1-2 1-3 2 4 1-10 2 13 1-1 1-2 2 1 1 9 2 2 1-17 1 1 2-8 1-12 2 11 1-4 1 4 2 17 1-18 2 12 1-17 1 2 2 6 1-3 2 17 1-24 1 14 2-1 1-23 2 7 1 4 1-10 2-3 1 8 2-11 1 11 1-7 2 26 1-12 2-11 1 1 1-2 2 5 1 3 2-15 1 13 1-5 2-4 1-6 2 0 1 11 1-8 2 5 1 12 2-11 1 17 1-16 2-6 1-10 2 0 1-12 1-9 2-1 1 0 2-4 1-1 1 3 2 0 1 4 2 9 1 2 1-9 2 9 1-6 2 4 1-17 1 5 2 7 1-13 2 11 1 7 1-4 2 9 1-8 2 2 1 2 1-1 2-19 1 3 2-11 1 4 1-11 2 2 1 9 2-32 1 28 1 26 2-18 1-13 2 14 1-25 1 19 2 6 1-16 2 10 1 5 1-9 2 14 1-11 2 1 1-3 1 0 2-2 1-6 2 0 1 13 1-9 2-11" fill="none" stroke="#20e020" stroke-width="1.0" stroke-linejoin="round"/>
<line x1="669" y1="447.8" x2="1122.6" y2="447.8" stroke="#000" stroke-width="1.5" stroke-dasharray="4 3"/>
<line x1="785.5" y1="410.8" x2="785.5" y2="484.7" stroke="#ff00ff" stroke-width="1.3" stroke-dasharray="1.6 2"/>
<line x1="1027.2" y1="410.8" x2="1027.2" y2="484.7" stroke="#00a000" stroke-width="1.2" stroke-dasharray="5 3"/>
<line x1="1040.5" y1="410.8" x2="1040.5" y2="484.7" stroke="#ff3030" stroke-width="1.6" stroke-dasharray="6 3"/>
<line x1="1062.3" y1="410.8" x2="1062.3" y2="484.7" stroke="#ff00ff" stroke-width="1.3" stroke-dasharray="1.6 2"/>
<line x1="1068" y1="410.8" x2="1068" y2="484.7" stroke="#ff3030" stroke-width="1.6" stroke-dasharray="6 3"/>
<line x1="1072.5" y1="410.8" x2="1072.5" y2="484.7" stroke="#0000ff" stroke-width="1.3" stroke-dasharray="1.6 2"/>
<line x1="1081.5" y1="410.8" x2="1081.5" y2="484.7" stroke="#00a000" stroke-width="1.2" stroke-dasharray="5 3"/>
<line x1="674.5" y1="416.9" x2="691.5" y2="416.9" stroke="#505050" stroke-width="1.2"/>
<text x="692.5" y="420.6" font-size="9.6" fill="#201000">-(VexB)<tspan dy="2.5" font-size="6.5">M</tspan></text>
<line x1="674.5" y1="428" x2="691.5" y2="428" stroke="#20e020" stroke-width="1.0"/>
<text x="693" y="431.7" font-size="9.2" fill="#20e020">E<tspan dy="2.8" font-size="6.6">M</tspan></text>
<path transform="matrix(.25 0 0 .1 0 0)" d="M2678 5569l4 0 4-4 4 1 4-7 4 13 4 6 4-4 4-18 4 7 4 17 4-5 4-8 4-4 4-6 4 3 4-7 4 20 4-15 4-3 4 13 4 9 4-3 4-6 4 4 4 5 4-6 4 8 4 1 4-39 4 21 4 10 4-14 4 5 4 6 4-1 4 1 4 0 4-1 4-13 4-7 4 5 4 9 4-7 4 30 4-12 4-4 4-6 4-5 4 5 4-2 4-23 4 28 4-5 4 20 4-20 4 26 4-28 4 9 4-1 4-26 4 27 4-13 4 0 4 8 4-6 4 17 4-7 4 6 4-19 4 16 4 6 4-7 4-20 4 9 4 27 4-21 4 4 4 5 4-7 4-3 4 8 4-2 4-26 4 26 4 5 4-9 4 3 4 2 4-7 4-1 4 3 4-14 4 21 4-17 4 6 4 16 4-20 4 8 4 3 4 0 4 2 4-24 4 6 4 8 4 9 4-23 4 7 4 6 4 1 4-3 4-10 4 23 4-13 4 25 4-6 4 4 4-15 4-10 4 6 4-9 4 0 4 14 4-6 4 13 4 7 4-26 4 13 4-3 4-21 4 30 4-11 4 28 4-43 4 15 4-3 4 9 4-11 4 16 4-6 4-12 4 31 4-23 4 6 4-2 4-2 4 10 4-6 4 1 4 8 4-27 4 8 4 10 4 8 4-19 4 10 4 10 4-24 4 12 4-12 4 19 4-17 4-11 4 7 4 15 4 10 4-14 4-1 4 11 4-13 4 15 4-12 4 12 4-17 4 10 4-20 4 26 4-9 4-4 4-6 4 11 4 6 4-16 4-7 4 9 4 35 4-16 4-9 4 0 4-20 4 20 4-6 4-4 4 16 4-15 4 0 4 7 4-21 4 25 4 13 4-17 4-4 4-15 4 2 4 20 4 21 4-29 4 12 4 4 4-23 4 10 4 14 4-22 4 10 4-3 4 2 4 5 4-7 4 1 4-21 4 24 4 0 4-8 4-3 4 12 4 10 4-18 4 12 4 6 4-21 4-18 4 29 4 2 4 12 4-22 4 15 4-22 4 11 4-3 4 2 4 5 4-10 4 4 4-7 4 16 4-9 4 5 4 11 4-6 4-10 4 1 4-6 4 15 4-12 4 11 4 4 4-20 4 41 4-47 4 19 4 12 4-20 4 15 4-19 4-8 4 23 4 3 4-1 4-15 4 6 4 7 4-4 4-2 4 7 4-24 4 15 4-6 4-7 4-4 4 21 4 8 4-9 4-27 4 60 4-45 4 2 4 2 4 8 4 5 4-4 4 4 4-13 4 22 4-31 4 5 4 14 4-2 4-14 4 17 4-1 4-2 4-11 4 6 4-2 4 19 4-6 4 19 4-25 4-7 4 7 4 6 4 6 4-15 4-4 4 0 4 21 4-13 4-4 4 18 4-3 4-6 4 3 4-2 4-7 4-10 4 12 4 2 4-12 4-8 4 36 4-31 4-5 4 13 4-17 4 11 4-2 4 14 4-8 4-12 4 7 4 29 4-33 4 21 4-10 4 21 4-5 4-27 4 23 4-14 4 13 4-11 4 29 4-43 4 23 4-8 4 4 4-12 4 31 4-41 4 22 4 8 4-9 4 16 4-33 4 19 4 4 4-10 4-3 4 11 4 3 4-5 4 5 4-6 4 9 4-1 4-25 4 15 4 7 4-2 4-25 4 43 4-22 4-3 4-2 4-2 4 2 4 23 4-17 4-16 4 2 4 5 4-6 4 12 4 18 4-19 4-3 4 3 4-28 0-85-4 19-4 0-4-5-4 10-4-12-4-9-4 6-4 1-4 2-4 15-4 7-4-5-4-56-4 53-4-1-4-39-4 20-4 6-4 5-4 4-4 0-4 0-4 2-4-1-4-16-4 26-4-29-4 14-4-4-4-18-4 27-4-18-4 17-4-16-4-6-4-4-4 7-4 4-4-5-4 18-4 3-4-11-4 22-4-9-4 13-4-17-4 3-4 5-4 5-4-6-4 8-4-34-4 28-4 20-4-19-4 4-4 3-4 1-4-19-4 22-4 9-4-6-4-17-4 5-4-2-4-1-4 24-4-8-4 5-4-19-4-5-4 6-4 6-4 14-4-15-4-13-4 14-4-8-4 11-4 3-4-6-4-13-4 16-4 0-4 3-4 6-4-7-4 1-4 15-4-36-4 22-4-3-4 1-4-4-4-11-4-6-4 16-4 19-4-15-4 0-4 24-4-37-4 25-4-30-4 22-4-8-4 1-4-8-4 16-4 2-4-23-4-3-4-5-4 9-4-10-4 7-4-6-4-14-4 4-4 8-4-18-4 15-4-17-4 26-4-22-4 1-4 13-4-8-4-3-4 5-4-1-4-9-4 16-4-13-4-21-4 39-4-23-4 10-4-6-4-3-4-4-4-4-4 27-4-6-4 13-4-10-4-14-4 18-4-2-4-8-4 2-4 7-4 8-4-5-4 9-4-9-4-10-4 16-4-11-4 14-4 14-4 2-4-22-4-5-4 17-4-12-4 25-4-20-4 20-4-4-4-12-4 5-4-7-4 10-4-4-4 4-4 2-4-17-4 11-4 13-4-10-4 3-4 7-4-23-4 20-4 11-4-13-4 2-4-9-4 2-4-17-4 14-4 6-4-2-4-10-4 6-4-6-4-6-4 12-4 2-4 0-4 9-4-10-4 7-4-3-4-10-4 17-4-24-4 20-4-11-4-16-4 38-4-21-4-14-4 4-4 9-4 12-4-13-4-10-4 5-4 4-4-30-4 19-4 13-4 2-4-3-4-3-4-12-4 8-4 0-4 2-4 12-4-9-4 2-4 0-4-4-4-10-4-9-4 26-4-9-4-7-4 14-4-17-4 20-4-11-4-15-4 11-4-4-4-10-4 29-4-10-4 11-4-24-4 8-4 3-4 6-4-10-4-5-4 14-4-9-4 12-4-10-4 8-4-7-4 5-4-22-4 8-4 12-4-20-4-8-4 23-4 0-4 2-4-14-4 33-4-30-4 6-4-3-4 11-4-16-4 15-4 8-4 1-4 17-4 15-4-4-4-7-4 13-4 9-4-29-4 28-4 0-4-12-4 9-4-6-4-8-4 15-4-19-4 0-4-4-4 16-4-12-4 24-4-4-4 9-4-17-4 3-4-26-4 25-4 1-4-9-4 3-4-8-4 9-4 18-4-11-4-12-4 5-4-22-4 32-4-6-4 11-4-7-4-7-4-3-4-10-4 12-4 7-4-16-4 1-4 0-4 18-4 11-4-27-4-9-4 1-4 10-4 10-4-6-4-1-4-13-4-2-4 15-4 6-4 3-4-8-4 0-4-12-4 15-4-11-4-19-4 1-4-21-4-7-4-23-4 20-4 30-4-7-4 25-4 2-4-11-4 6-4 1-4 4-4-6-4 9-4 23-4-22-4-24-4 11-4 10-4-1-4-2-4-36-4-23-4-36-4 1-4 52-4 25-4-3-4 21-4-6-4 9-4-1-4-6-4-1-4-1-4-7-4 21-4 0-4-9-4 26-4-10-4-16-4 28-4-8-4 0z" fill="#000" fill-opacity="0.55"/>
<path transform="matrix(.25 0 0 .1 0 0)" vector-effect="non-scaling-stroke" d="M2677 5561l1-22 2 1 1 28 1-49 1 49 1-28 2 10 1 3 1-2 1 12 1-37 2 38 1-30 1-25 1 27 1 20 2-7 1-71 1 51 1-28 1 18 2-60 1 7 1 49 1-36 1 16 2 51 1-43 1 40 1 6 1-43 2-11 1-109 1 139 1-15 1-21 2 8 1 19 1 4 1 43 1-45 2-16 1 31 1-11 1 4 1 36 2-20 1-12 1 29 1-16 1 6 2 6 1-38 1 4 1 5 1-84 2 12 1 3 1 40 1-45 1-8 2-10 1-94 1 112 1-21 1-1 2-33 1-21 1-5 1 18 1 7 2 6 1 0 1 24 1 16 1 22 2-4 1 11 1-24 1 55 1 7 2 38 1 0 1-5 1-17 1 8 2 1 1-41 1-48 1 74 1 1 2 24 1-5 1 0 1-39 1 50 2-75 1 64 1 0 1 5 1-20 2 14 1-13 1 21 1 14 1-67 2 18 1 34 1 7 1-11 1-22 2 15 1-9 1-16 1 29 1-11 2-14 1-2 1 28 1 2 1-1 2-26 1-49 1 72 1 7 1-15 2-16 1 12 1 9 1 0 1-45 2 8 1-67 1 0 1 6 1 12 2 0 1-24 1 37 1-89 1 34 2-21 1 8 1 1 1 54 1-7 2 27 1-28 1 3 1 10 1 66 2-17 1 6 1 24 1-23 1 27 2 18 1-7 1 8 1-7 1 17 2-17 1-1 1 3 1 7 1-6 2 10 1 0 1 0 1-91 1 70 2 0 1 7 1 21 1-28 1-8 2-7 1-13 1 12 1-5 1 7 2-54 1 55 1-6 1-91 1 35 2 21 1 67 1-14 1 8 1 20 2-3 1-9 1-9 1 0 1-5 2 19 1-17 1-6 1 14 1-73 2 53 1-9 1 30 1-5 1 3 2 15 1-6 1-45 1 28 1 6 2 0 1-5 1 14 1-3 1-62 2 68 1-60 1 12 1-31 1 65 2-24 1-13 1 4 1 24 1 8 2-88 1 53 1-11 1 53 1 5 2 7 1-14 1-5 1 18 1 2 2-40 1 36 1-14 1 16 1-42 2 30 1-17 1-16 1 39 1-36 2 16 1-25 1 50 1-48 1 31 2-8 1 11 1-7 1 5 1-46 2 53 1 0 1-2 1-27 1 44 2-18 1-27 1 11 1 23 1-21 2 12 1-37 1 13 1 13 1 24 2-6 1-25 1 6 1-111 1 142 2-26 1-14 1 43 1-39 1 21 2-1 1-45 1 57 1-1 1 9 2-5 1-11 1-1 1 8 1-5 2-7 1 19 1-6 1-19 1 13 2 4 1 2 1-18 1-3 1-5 2-3 1-75 1 27 1-71 1 97 2 43 1-10 1 27 1-1 1 0 2-5 1-17 1-9 1-18 1 28 2 13 1-51 1 24 1 21 1-72 2 9 1 38 1 4 1 15 1-10 2 0 1 12 1-40 1-14 1 67 2-19 1-18 1 21 1-4 1-29 2-4 1-5 1 52 1-16 1 15 2-22 1-3 1 3 1-4 1 25 2-4 1-37 1 35 1 1 1 18 2-68 1 23 1 29 1-13 1 22 2 7 1-67 1 57 1-57 1 24 2 10 1 5 1 18 1-12 1-22 2 31 1-2 1 8 1-86 1 26 2 24 1 9 1-13 1-2 1-44 2 90 1-77 1 59 1 9 1 4 2 0 1-14 1 9 1-32 1-1 2-655 1 50 1 80 1 548 1 4 2-3 1 13 1 5 1-16 1-109 2-8 1 118 1 13 1-12 1-9 2-384 1 397 1 3 1-2 1-20 2 7 1-42 1 20 1-105 1 131 2-96 1 67 1 39 1 7 1-15 2-104 1 6 1 48 1 36 1-53 2 54 1-3 1 23 1-56 1 17 2 15 1 32 1-37 1 31 1 3 2-29 1 26 1-32 1-44 1 59 2-20 1-20 1 34 1 7 1-5 2-186 1 136 1 10 1-10 1-61 2 40 1-67 1 85 1 12 1 59 2-26 1-27 1 13 1 3 1-3 2 37 1-3 1 12 1-90 1 79 2 8 1-118 1 91 1 10 1-29 2 46 1-23 1 8 1 7 1 4 2-64 1 34 1 6 1 3 1-11 2-110 1 143 1 13 1-151 1 40 2 51 1-39 1 16 1 21 1 54 2-18 1 9 1-4 1-69 1 29 2-31 1 32 1 53 1-26 1 6 2-40 1 59 1-34 1-41 1 46 2-63 1 75 1-13 1-156 1 153 2-32 1 72 1-69 1 36 1 1 2 20 1-13 1-28 1-41 1 77 2-3 1 17 1-13 1 16 1-40 2-28 1 57 1 12 1-19 1-153 2 166 1-42 1 11 1-8 1-1 2-19 1 24 1-10 1-16 1-6 2 37 1 36 1-14 1-27 1-26 2 43 1 13 1 6 1-77 1 6 2-33 1 92 1-40 1 25 1 23 2-6 1-20 1-44 1 10 1-101 2 126 1-15 1 35 1-4 1-31 2-30 1 55 1-10 1-25 1 53 2-38 1 15 1 9 1-1 1 27 2-20 1 12 1-19 1 2 1 33 2-23 1-20 1 3 1-22 1 17 2 25 1 11 1-30 1 18 1-57 2 67 1-60 1 6 1 37 1-67 2 71 1-11 1 33 1-3 1-41 2 37 1-15 1-11 1 27 1-51 2 33 1-30 1 22 1 13 1 2 2 8 1-23 1 1 1 15 1-68 2 48 1 6 1 12 1-23 1 21 2-6 1 5 1-39 1 30 1-98 2 108 1-111 1 132 1-33 1-22 2-34 1 43 1-5 1-52 1 28 2-196 1 179 1 45 1-48 1 62 2-114 1 112 1-49 1-27 1 10 2-9 1 83 1-93 1 31 1-43 2 3 1 42 1 8 1-22 1 8 2-9 1 18 1 57 1 10 1-1 2-17 1 9 1-9 1 13 1-38 2 2 1 44 1-7 1-23 1 18 2-15 1-10 1-13 1-36 1-48 2 96 1-40 1-13 1-20 1 39 2 73 1-46 1 6 1 13 1-18 2-19 1-28 1 100 1-31 1-49 2 43 1-1 1-30 1 65 1-5 2-24 1 19 1-18 1 17 1 6 2-65 1 0 1 12 1 28 1 5 2-48 1-16 1-11 1 46 1-11 2 39 1 9 1 8 1-29 1-5 2 40 1-32 1-6 1 34 1-12 2-30 1 36 1-75 1 78 1-1 2-11 1-3 1-15 1-13 1 63 2-13 1-96 1 53 1 34 1-61 2 40 1-4 1 30 1 8 1-11 2-208 1 208 1-23 1-19 1 50 2-3 1-17 1-37 1 40 1-48 2 34 1 0 1-10 1 35 1-15 2-16 1-68 1-19 1 55 1 48 2 1 1 25 1-11 1-15 1-21 2-44 1 38 1 14 1 21 1 1 2-11 1 17 1-15 1 7 1 18 2-43 1 34 1-18 1 14 1 6 2-39 1 30 1-4 1-32 1-34 2 43 1-4 1-48 1 45 1 30 2 16 1-23 1-39 1 43 1 12 2-36 1-81 1 130 1-70 1-24 2 62 1 24 1-3 1-75 1-69 2 150 1-86 1 47 1 19 1-9 2-34 1 15 1 11 1-33 1 48 2-5 1-34 1 53 1-16 1-2 2-27 1 39 1-3 1-31 1 32 2 5 1-126 1 98 1-149 1 173 2-24 1-105 1 82 1 61 1-10 2-10 1-19 1 19 1-169 1 104 2-11 1 39 1-112 1 52 1 102 2-98 1 37 1 58 1 26 1-61 2 54 1-11 1-3 1-23 1-467 2 432 1 80 1-113 1 17 1 29 2 19 1-98 1 37 1 90 1-34 2 43 1-26 1 26 1-144 1 139 2 3 1-14 1-93 1 17 1-119 2 180 1-29 1 18 1-55 1-425 2 509 1-166 1 103 1 2 1 17 2-16 1 36 1 17 1 33 1-51 2-31 1 43 1-35 1 27 1-34 2-36 1 12 1 67 1 18 1-63 2 50 1-3 1-329 1 310 1 29 2 19 1-6 1-170 1 80 1 19 2 7 1 57 1-8 1-159 1 104 2 76 1-63 1 30 1 8 1-6 2 34 1-59 1 41 1-47 1 41 2-49 1 18 1 4 1-52 1 62 2-64 1 71 1 31 1-62 1-41 2 49 1 33 1 6 1 15 1-36 2-122 1 155 1-36 1 7 1 4 2-52 1-65 1 89 1-63 1 23 2 97 1-62 1 58 1-1 1-36 2 28 1-1 1-143 1 151 1-74 2-22 1-13 1 108 1-57 1 7 2 31 1 21 1-34 1-2 1 37 2-9 1 8 1-65 1 68 1-38 2 20 1 6 1-29 1 28 1-19 2 16 1-50 1 16 1 25 1 11 2-53 1-1 1 27 1-7 1 14 2-14 1-17 1-63 1 12 1 32 2-5 1 67 1-70 1 44 1 47 2-67 1 30 1-46 1-21 1-7 2 46 1 46 1-58 1 35 1-8 2 24 1-47 1 62 1 13 1-13 2-24 1 20 1-11 1 9 1-22 2-44 1 62 1 13 1 9 1-7 2-32 1 41 1 0 1-197 1 178 2-6 1-7 1-113 1 107 1 35 2-8 1-17 1-17 1 12 1 12 2 8 1-2 1-11 1 12 1-34 2 49 1-3 1 0 1-13 1-25 2-2 1 4 1-8 1-14 1 45 2 7 1-5 1-71 1 18 1 37 2-138 1 121 1-4 1-41 1 87 2-121 1 47 1 6 1 37 1 12 2-30 1-27 1 65 1 0 1-39 2-68 1 108 1-37 1 19 1-18 2 23 1-33 1 10 1 40 1-3 2-30 1-26 1 4 1-15 1 7 2-26 1 13 1-1 1 14 1-38 2 100 1-5 1 1 1-21 1 20 2 8 1-72 1 31 1 44 1-45 2 8 1 10 1 21 1-10 1-12 2 5 1-20 1 41 1-68 1-6 2 32 1-55 1 47 1-14 1 43 2-250 1 249 1-26 1 46 1-157 2 160 1-53 1 54 1-38 1-55 2 48 1 19 1 5 1-6 1-12 2-255 1 233 1 5 1-13 1 49 2 19 1-29 1-83 1 111 1 0 2 10 1-45 1-3 1 5 1-199 2 188 1 39 1-5 1-158 1 162 2 3 1-29 1-1 1 28 1-17 2 30 1-66 1 40 1-29 1 16 2-51 1 65 1-14 1-26 1-29 2-8 1 58 1-4 1-40 1 25 2 2 1 3 1 42 1-68 1-24 2 29 1 39 1 1 1-97 1 15 2-40 1 60 1 45 1 1 1-50 2-16 1 41 1 70 1-39 1-261 2 215 1 73 1-33 1 19 1-41 2-77 1 46 1 30 1 72 1-50 2-67 1 100 1-69 1 30 1-211 2 10 1 224 1 21 1 9 1-45 2 43 1-53 1 56 1-1 1-51 2 15 1-23 1 30 1-24 1 62 2-65 1 26 1-22 1 29 1 8 2 21 1-21 1-14 1-5 1-4 2-5 1 42 1-57 1 44 1 12 2-27 1 2 1 19 1-33 1 37 2-177 1 74 1-19 1 40 1-24 2 42 1 43 1-14 1-57 1 92 2-337 1 341 1-27 1-32 1 64 2-24 1-16 1-24 1 31 1 18 2-52 1 68 1-35 1 35 1-9 2-62 1-22 1-174 1 245 1-26 2 2 1-20 1 52 1-125 1 130 2 8 1-46 1 43 1-59 1-51 2 29 1-55 1 81 1-14 1 41 2 14 1-37 1 53 1-7 1-9 2 3 1-31 1-25 1 45 1 25 2-72 1 1 1 40 1-36 1-66 2 73 1-169 1 109 1 82 1 2 2-4 1 20 1-396 1 316 1-77 2 93 1 34 1-69 1 113 1-117 2 47 1-22 1 25 1 49 1-3 2 22 1-10 1-10 1 30 1-34 2 26 1 12 1-7 1-2 1-8 2 13 1 3 1-5 1-3 1 2 2 0 1 2 1 5 1-4 1-6 2 6 1 4 1 0 1-5 1-4 2 3 1-2 1 6 1-3 1-2 2 4 1-6 1 3 1-4 1 10 2-3 1 3 1-5 1 2 1-10 2 13 1 0 1 0 1-3 1 1 2-8 1 9 1 1 1 0 1 0 2-2 1-1 1-4 1 2 1 4 2-7 1 5 1 3 1-4 1-2 2 3 1-2 1 0 1 0 1 0 2-6 1 4 1 6 1-1 1-3 2-5 1-3 1 12 1-2 1-10 2 13 1 0 1-5 1-2 1-5 2 12 1-3 1-5 1 6 1 1 2 1 1-6 1 5 1-1 1-5 2 7 1-7 1 6 1-1 1 2 2-8 1 7 1-6 1 0 1 5 2-3 1 5 1-1 1 1 1-9 2 4 1 2 1 3 1-1 1-4 2-2 1 7 1 0 1-9 1 8 2-3 1-3 1 1 1 6 1-1 2-6 1 7 1-9 1 2 1 7 2 0 1 0 1-3 1 3 1-6 2 6 1-1 1-9 1 1 1 5 2-8 1 10 1-9 1 2 1-4 2 10 1 3 1-4 1-4 1 5 2 3 1 0 1-3 1-1 1 4 2 0 1-8 1 4 1 1 1 3 2-2 1 0 1-6 1 4 1 4 2-7 1 0 1 5 1-6 1 8 2-3 1-3 1 4 1-2 1-2 2-1 1 5 1 2 1 0 1 0 2-2 1-6 1 7 1-7 1 7 2 0 1-9 1 6 1 0 1 4 2-4 1-2 1 4" fill="none" stroke="#000" stroke-width="1.0" stroke-linejoin="round"/>
<line x1="785.5" y1="484.7" x2="785.5" y2="558.5" stroke="#ff00ff" stroke-width="1.3" stroke-dasharray="1.6 2"/>
<line x1="1027.2" y1="484.7" x2="1027.2" y2="558.5" stroke="#00a000" stroke-width="1.2" stroke-dasharray="5 3"/>
<line x1="1040.5" y1="484.7" x2="1040.5" y2="558.5" stroke="#ff3030" stroke-width="1.6" stroke-dasharray="6 3"/>
<line x1="1062.3" y1="484.7" x2="1062.3" y2="558.5" stroke="#ff00ff" stroke-width="1.3" stroke-dasharray="1.6 2"/>
<line x1="1068" y1="484.7" x2="1068" y2="558.5" stroke="#ff3030" stroke-width="1.6" stroke-dasharray="6 3"/>
<line x1="1072.5" y1="484.7" x2="1072.5" y2="558.5" stroke="#0000ff" stroke-width="1.3" stroke-dasharray="1.6 2"/>
<line x1="1081.5" y1="484.7" x2="1081.5" y2="558.5" stroke="#00a000" stroke-width="1.2" stroke-dasharray="5 3"/>
<line x1="674.5" y1="499.9" x2="691.5" y2="499.9" stroke="#606060" stroke-width="1.2"/>
<text x="693.5" y="503.6" font-size="9.6" fill="#4060a0">|J|</text>
<path transform="matrix(.25 0 0 .1 0 0)" vector-effect="non-scaling-stroke" d="M2677 5915l2 4 1-13 1 1 2-7 1-2 2 20 1-35 1 35 2 12 1-95 2 104 1-20 1 2 2-4 1 9 2-3 1 0 1-18 2-24 1 14 2 28 1-25 1 92 2-84 1 21 2-3 1 8 1 1 2 0 1 5 2-17 1 7 1 2 2 5 1-3 2-3 1-5 1 1 2 124 1-135 2 6 1 46 1-51 2 16 1 6 2 2 1 7 1-30 2 13 1 19 2-26 1 2 1-6 2 9 1 1 2-26 1 8 1-80 2 87 1-4 2 51 1-44 1-14 2 6 1 1 2-9 1 4 1 2 2-17 1-17 2 28 1 9 1 0 2-6 1 70 2-76 1 16 1-4 2-17 1 10 2 13 1-1 1-3 2 9 1 4 2-11 1-91 1 101 2 3 1 0 2 13 1 12 1-25 2 6 1 5 2-19 1-2 1-2 2 2 1 1 2-10 1 4 1-1 2 5 1-13 2 34 1-11 1-2 2-103 1 83 2-1 1-5 1 5 2-17 1 16 2-4 1 5 1-22 2 14 1-19 2 18 1 13 1-8 2 0 1 21 2-11 1 7 1 83 2-74 1-15 2 7 1 14 1-6 2-9 1 7 2-16 1 2 1 11 2-28 1 34 2-16 1 1 1-12 2 14 1-112 2 100 1 7 1 6 2-12 1 4 2-3 1 12 1-22 2 30 1-21 2 6 1 15 1-13 2-21 1 11 2-26 1 6 1 6 2 24 1 9 2-4 1-3 1 9 2-22 1-3 2 6 1 11 1-7 2-21 1 33 2-33 1 87 1-71 2 8 1-93 2 94 1 11 1-20 2 32 1-20 2-12 1-11 1 2 2-1 1 22 2-54 1 68 1-13 2-13 1 18 2 14 1-22 1 17 2-14 1-1 2-19 1 3 1 0 2 7 1-3 2-9 1 2 1-9 2 16 1-12 2 5 1 17 1-7 2-9 1 15 2 23 1-1 1 5 2-13 1-15 2 9 1 2 1-7 2-6 1-9 2-1 1 1 1 26 2-36 1 7 2 6 1 8 1 15 2-21 1 14 2-7 1 4 1 25 2-39 1 15 2 11 1 16 1 5 2-12 1 110 2-117 1-12 1 14 2-20 1-18 2 2 1 18 1-6 2-21 1 9 2 5 1 13 1 7 2-3 1-12 2 19 1 0 1-22 2 1 1 16 2 8 1-9 1 6 2-63 1 72 2-25 1 26 1 0 2-1 1 6 2-22 1 22 1-20 2 9 1-2 2-3 1 3 1 1 2 4 1-10 2 13 1-22 1-22 2 17 1-22 2 15 1 7 1-9 2 5 1 10 2-13 1 0 1 8 2-10 1 5 2 4 1 5 1 4 2-5 1-22 2 17 1 13 1-6 2 1 1-10 2 2 1 12 1 23 2-21 1 15 2-18 1-4 1 11 2 4 1-16 2 24 1-5 1-15 2 7 1 6 2-9 1-16 1 8 2-24 1 19 2 2 1 159 1-156 2-4 1 0 2-7 1 39 1-31 2-11 1 16 2-10 1 7 1 9 2-3 1 13 2-42 1 57 1-30 2-14 1 16 2 14 1-12 1-25 2 8 1 10 2-10 1-10 1 31 2-18 1 11 2 3 1 0 1-9 2 32 1-15 2 6 1-15 1 8 2 49 1-41 2-13 1-3 1-13 2-12 1 1 2 8 1 18 1-75 2 86 1-4 2-24 1 0 1 8 2 19 1-6 2 14 1 9 1-15 2 1 1 63 2-163 1 103 1-2 2-23 1-9 2 14 1 6 1 4 2 4 1 4 2-33 1 8 1 13 2 5 1-1 2-20 1-2 1-15 2 8 1-18 2 10 1-21 1 24 2 16 1-2 2 14 1-13 1-2 2 7 1 6 2 11 1-15 1 3 2-18 1 1 2 3 1 4 1-7 2 9 1 20 2 75 1-98 1 36 2 3 1 15 2-7 1-19 1-7 2 0 1 2 2-5 1-5 1 15 2 2 1-10 2 13 1-86 1 79 2-3 1 2 2-12 1 4 1-4 2 14 1 1 2-12 1 130 1-103 2 1 1 3 2-41 1 23 1 11 2-2 1-9 2 7 1 1 1 2 2-19 1-1 2 23 1 2 1 9 2-1 1 5 2-13 1-26 1-7 2 2 1 5 2-6 1-13 1 18 2-14 1 2 2-6 1 1 1 8 2-83 1 72 2-5 1 21 1-9 2 6 1-15 2 15 1-13 1 0 2 18 1-33 2 24 1-13 1 19 2 1 1-10 2 12 1 7 1 11 2-1 1 4 2-18 1-18 1-16 2 42 1-34 2 17 1-15 1 12 2-24 1-2 2 30 1-21 1 20 2 0 1-9 2 17 1 2 1-23 2 4 1-14 2-17 1 21 1-8 2 28 1-31 2 11 1 9 1 3 2 15 1-8 2-7 1 15 1 24 2-32 1 11 2 0 1-9 1 25 2-36 1 22 2 2 1-15 1-9 2 7 1-10 2-12 1-12 1 9 2-7 1 24 2-24 1-4 1 23 2 4 1-7 2-12 1 4 1 15 2 0 1-7 2 24 1-17 1-4 2 40 1-15 2-6 1 6 1-18 2 17 1-18 2 89 1-72 1 10 2-18 1-5 2 15 1-4 1 13 2 10 1-13 2 8 1 1 1-1 2-10 1-7 2-6 1-3 1 1 2-7 1 12 2-2 1 3 1-4 2-18 1 0 2 11 1-31 1 17 2-2 1-3 2 24 1-20 1 24 2-15 1 70 2-68 1-9 1 10 2-37 1 48 2 7 1-12 1 6 2-20 1-8 2 3 1 2 1 0 2 5 1 15 2-14 1 5 1 13 2-26 1 17 2 3 1 10 1-3 2 16 1 0 2-27 1 13 1-6 2-28 1 33 2-1 1-8 1-11 2 19 1-15 2 2 1-3 1 36 2-3 1-7 2-17 1 54 1-44 2-8 1-4 2 8 1 8 1-13 2 17 1-31 2-7 1 19 1-14 2 16 1-12 2 34 1-20 1-9 2 33 1-30 2 5 1-14 1 23 2-120 1 105 2 18 1-3 1-13 2 9 1-4 2 17 1-19 1-22 2 1 1 1 2 3 1-21 1 11 2-11 1-1 2 107 1-50 1-38 2-3 1 12 2 17 1-5 1 15 2-11 1-6 2 42 1-22 1-16 2 30 1-6 2 102 1-96 1-9 2-1 1-15 2-1 1 5 1-4 2 106 1-125 2 9 1 13 1-17 2 4 1-26 2 6 1-5 1-229 2 256 1-25 2 8 1-3 1 22 2-4 1-29 2 19 1-23 1 41 2-19 1 4 2 13 1 9 1 7 2-13 1-4 2 19 1-2 1-27 2 8 1-4 2 12 1 7 1-3 2-7 1 2 2-7 1-22 1 2 2 1 1-10 2-14 1 19 1 3 2-2 1-1 2-6 1 18 1-6 2 24 1 13 2-2 1 14 1-13 2 9 1 6 2-2 1-10 1-4 2 17 1-95 2 90 1-1 1 6 2-33 1 9 2 2 1-31 1 38 2-4 1 21 2-15 1 1 1-1 2-1 1 3 2-18 1 4 1-30 2-12 1 2 2 2 1 26 1-27 2 113 1-77 2-18 1 29 1-9 2-1 1-19 2 30 1-20 1-6 2 16 1-9 2-19 1 12 1 26 2-4 1-4 2 9 1-20 1 7 2-4 1-3 2-12 1 31 1-11 2-4 1-8 2 6 1-25 1-23 2 11 1 30 2 3 1-18 1 11 2 1 1-17 2 92 1-72 1-13 2 32 1-8 2-1 1 14 1-5 2 2 1 8 2-17 1-15 1 17 2 16 1-29 2 1 1-8 1-18 2 34 1-7 2-5 1-15 1-1 2 5 1 13 2 6 1-12 1 22 2-10 1-7 2 26 1-1 1 84 2-106 1-9 2 2 1 0 1-10 2 35 1-16 2-14 1 9 1-4 2 3 1 17 2-3 1-7 1 17 2-10 1 5 2-3 1 11 1-14 2 4 1-20 2-6 1 7 1 80 2-79 1-87 2 83 1 10 1 112 2-99 1-4 2 3 1-10 1 3 2 49 1-33 2-4 1 11 1-16 2 23 1 8 2-9 1-14 1-5 2-9 1 9 2-13 1 14 1 0 2-3 1 10 2-7 1-30 1 12 2 9 1 50 2-62 1 2 1 1 2 7 1 3 2-23 1-7 1 10 2-82 1 82 2 10 1-10 1-11 2 23 1 4 2 13 1 24 1-16 2 13 1 1 2-28 1-17 1-5 2 20 1-28 2 5 1-19 1 117 2-142 1 16 2 8 1-79 1 97 2 2 1 5 2-13 1 18 1 23 2-13 1-59 2 64 1-28 1 11 2-11 1 68 2-47 1 14 1 11 2 4 1-19 2 4 1-48 1 16 2-10 1 16 2-37 1 33 1-6 2 17 1-23 2-73 1 34 1-41 2 57 1-9 2-20 1 24 1-3 2-15 1 19 2 33 1-7 1 19 2-32 1 5 2 5 1 18 1-7 2-90 1 65 2 90 1-64 1 80 2-57 1-22 2 12 1-1 1 27 2-30 1-1 2 36 1-8 1-5 2-4 1 11 2-27 1 4 1-8 2 8 1 56 2-53 1-1 1-10 2 7 1-5 2 18 1-12 1 18 2-23 1-3 2 35 1 6 1-5 2 3 1-18 2 136 1-122 1-17 2 8 1 0 2 23 1-137 1 51 2 75 1-3 2-12 1 11 1-16 2 73 1-65 2-10 1 14 1-23 2 23 1 40 2-54 1-8 1-9 2 7 1-18 2-14 1 28 1-26 2 10 1 85 2-82 1 25 1 30 2-35 1-4 2 25 1-20 1 16 2 1 1-13 2-5 1-1 1 9 2 0 1-111 2 91 1-2 1 8 2 8 1-9 2 11 1-17 1 37 2-24 1 6 2-16 1 12 1 14 2-22 1-13 2 10 1-4 1 2 2-1 1-7 2 8 1 10 1 6 2-8 1-4 2-6 1 22 1 6 2 6 1-29 2 3 1 8 1-12 2 11 1-8 2-2 1-2 1-2 2 1 1-2 2 7 1-4 1 12 2-4 1-11 2 3 1 0 1 1 2-1 1 3 2-2 1 3 1 0 2 0 1 3 2-4 1 3 1-4 2 3 1-1 2-3 1 1 1 0 2 1 1 2 2-4 1 2 1-1 2-1 1 1 2 3 1-4 1 1 2 0 1 0 2 1 1-1 1-1 2 2 1 1 2-3 1 1 1 3 2 0 1-4 2 0 1 2 1 0 2-1 1 0 2 1 1 0 1-1 2-2 1 1 2 0 1 0 1-1 2 0 1 0 2 0 1 2 1 0 2 0 1-2 2 2 1-1 1 2 2 0 1 1 2 0 1 0 1-1 2-3 1 2 2-1 1-1 1 0 2-2 1-1 2 3 1 2 1-2 2 2 1-1 2 1 1-3 1 0 2 0 1 2 2-2 1 1 1 1 2 1 1-3 2 3 1 0 1 2 2 0 1 2 2-3 1 0 1-1 2-1 1 0 2 0 1 1 1-2 2 1 1 0 2 1 1-1 1 0 2 0 1 0 2 3 1-2 1 0 2-1 1 1 2-2 1 0 1 0 2-3 1 3 2 0 1-3 1 0 2 2 1 1 2 2 1 0 1-2 2 2 1 3 2-4 1 2 1 0 2-2 1 0 2 1 1 0 1-1 2 4 1 0 2 0 1 0 1-1 2 0 1 1 2-2 1 0 1-3 2 4 1-1 2 0 1-2 1 2 2-1 1 1 2 0 1 3 1-3 2 0" fill="none" stroke="#0000ff" stroke-width="1.0" stroke-linejoin="round"/>
<path transform="matrix(.25 0 0 .1 0 0)" vector-effect="non-scaling-stroke" d="M2677 5919l2-7 1-16 1-13 2-12 1 16 2 5 1-10 1 12 2-2 1 6 2 7 1 13 1 13 2-2 1-11 2-8 1 0 1 26 2 2 1-10 2-13 1 1 1-13 2 8 1-12 2 4 1-8 1-22 2 2 1 31 2-70 1 166 1-92 2-17 1 26 2-17 1-5 1 142 2-141 1 5 2-22 1 14 1 2 2-2 1 6 2 18 1 3 1-3 2-6 1-12 2 27 1-25 1-21 2-2 1 1 2-12 1 9 1-128 2 120 1 19 2-14 1 24 1-4 2 4 1-13 2 2 1-20 1 24 2 12 1 0 2 13 1-1 1-6 2-2 1 16 2-14 1 9 1-7 2-3 1-5 2 8 1-8 1 15 2 84 1-102 2 1 1 5 1 9 2 1 1 3 2-16 1-9 1 8 2-18 1 12 2 5 1 0 1-10 2 50 1-55 2 7 1 8 1-10 2-6 1 12 2 3 1 12 1-14 2 11 1 4 2 1 1-11 1 13 2 8 1 6 2-18 1 18 1 11 2 0 1-8 2 2 1 5 1-22 2-2 1 4 2-4 1 6 1-7 2-13 1-7 2 4 1 4 1 6 2-19 1 5 2 1 1 2 1 19 2-20 1 29 2-24 1-72 1 88 2-21 1-3 2 5 1-9 1 13 2-128 1 140 2-18 1 14 1 7 2-16 1-1 2 19 1-22 1-90 2 111 1 12 2-25 1 20 1-28 2 3 1 2 2-9 1 39 1-40 2 27 1-13 2 6 1 126 1-109 2-10 1 30 2-22 1 9 1 1 2-29 1 8 2 2 1-3 1-14 2-1 1 29 2-16 1-94 1 76 2 3 1 14 2 1 1-11 1 58 2-75 1-13 2-2 1-1 1-7 2 12 1-36 2 118 1-78 1 19 2-103 1 111 2 1 1 2 1-15 2 8 1 35 2-78 1 17 1-9 2-13 1 23 2 10 1-14 1 10 2-8 1 7 2-5 1 4 1 10 2 14 1-10 2-7 1 29 1 33 2-62 1 20 2-20 1 7 1 17 2 3 1 2 2 15 1-9 1-5 2-4 1 0 2-20 1 20 1 19 2-32 1 5 2 18 1-16 1-17 2 11 1-7 2 1 1 11 1-16 2 9 1-6 2 22 1 11 1 1 2-18 1-7 2 14 1-6 1 81 2-110 1 31 2-25 1-8 1 7 2-14 1 12 2 15 1 6 1 0 2-4 1 11 2-8 1 2 1 23 2-17 1 3 2-2 1 9 1-31 2 23 1 6 2 6 1-28 1-6 2 1 1 3 2 1 1-11 1 9 2-7 1 26 2-12 1-8 1 1 2 1 1 1 2 24 1-22 1 6 2 5 1-30 2 2 1 1 1 23 2-19 1-1 2-9 1-3 1-3 2 10 1 0 2 18 1 2 1-12 2 10 1-3 2 10 1-29 1 0 2 3 1 15 2-14 1 4 1 15 2 6 1-4 2-224 1 208 1 20 2-15 1 3 2-14 1 13 1-10 2 21 1 18 2 5 1-23 1-10 2-16 1 22 2 104 1-100 1 6 2-1 1 2 2-5 1 21 1-2 2-27 1 17 2 3 1 0 1-20 2-11 1 2 2 7 1 144 1-115 2-20 1-1 2-6 1-4 1 9 2 4 1-3 2 1 1-2 1-11 2 20 1-4 2 15 1-24 1 110 2-110 1 14 2-47 1-4 1 33 2-23 1 2 2 15 1-22 1-17 2 16 1 28 2-2 1 2 1-3 2 9 1-2 2 82 1-86 1 11 2-3 1 21 2-27 1 9 1-7 2 19 1-14 2 2 1 16 1-33 2-203 1 216 2-8 1 5 1 0 2-12 1 13 2-6 1-43 1 18 2 26 1-13 2-13 1 21 1 11 2-23 1-59 2 73 1 17 1-22 2 22 1 18 2-9 1 4 1-12 2-5 1-17 2-4 1-71 1 79 2-3 1 2 2-4 1 10 1-18 2 13 1-13 2-8 1 0 1 32 2-16 1 1 2 6 1-17 1 4 2 3 1-2 2-18 1 105 1-123 2 24 1 11 2 3 1-23 1 18 2 19 1-8 2 27 1-67 1 46 2 8 1-3 2-17 1 26 1-29 2-8 1 21 2 14 1-3 1-13 2 30 1-8 2 1 1 5 1-19 2-15 1 15 2 2 1-2 1-6 2 6 1 7 2-12 1-17 1 8 2 20 1-196 2 182 1 20 1-7 2-21 1 21 2-1 1 16 1-6 2-16 1 45 2-32 1 5 1-14 2 1 1 11 2-69 1 61 1 21 2-43 1 6 2-15 1-8 1 1 2 11 1 17 2 3 1-19 1 1 2 31 1-15 2-7 1 1 1 7 2 0 1-12 2-19 1-4 1 20 2 1 1-5 2-11 1 17 1 17 2 0 1-21 2 5 1-14 1-19 2 18 1-6 2 14 1 12 1 2 2 6 1 2 2-15 1 0 1-12 2 16 1-17 2-7 1 7 1 6 2 28 1-7 2-1 1-8 1 4 2 0 1-9 2 10 1-18 1 13 2 13 1-20 2 15 1-17 1 7 2-1 1 2 2-19 1 5 1-25 2 29 1-22 2 15 1-8 1-52 2 64 1 2 2 5 1 12 1 9 2-7 1-1 2-4 1 12 1-4 2 2 1 5 2 4 1-12 1-93 2 19 1 94 2 128 1-137 1 1 2-29 1 14 2-103 1 108 1-12 2 14 1 12 2-111 1 89 1 3 2-1 1-13 2 27 1-11 1-6 2-8 1 11 2-14 1-4 1 21 2-19 1 6 2-2 1-32 1 12 2 21 1-4 2 2 1-13 1 9 2-8 1 10 2-13 1 35 1-84 2 83 1-12 2 5 1-6 1 12 2 14 1-43 2 5 1 12 1 17 2-18 1-39 2 14 1-14 1 27 2 1 1-2 2 4 1-1 1 24 2 6 1-6 2 22 1-16 1-2 2-29 1-29 2 35 1 10 1-20 2-9 1 124 2-91 1-95 1 79 2 0 1 22 2-6 1-12 1-100 2 116 1 8 2-35 1 25 1-21 2 47 1-11 2 1 1-13 1-9 2-9 1-22 2 20 1-35 1 9 2 2 1 0 2 2 1-2 1 39 2-2 1-93 2 80 1 12 1-6 2 4 1 11 2-1 1 8 1-21 2-1 1-2 2 3 1-2 1 15 2-35 1 17 2 7 1-21 1 17 2 22 1-1 2-13 1 164 1-140 2 19 1-15 2-9 1 11 1-6 2-124 1 96 2 5 1-26 1 38 2-16 1 8 2 77 1-52 1 0 2 0 1-18 2-2 1-21 1 26 2-31 1 20 2-17 1 125 1-105 2-3 1 4 2-255 1 234 1 14 2 2 1-11 2-1 1 32 1 5 2-36 1 47 2-21 1-22 1 1 2-6 1 5 2 5 1-37 1 37 2-39 1 36 2-5 1 0 1-8 2 15 1-17 2 61 1-26 1-8 2-2 1 16 2 9 1-6 1-3 2-13 1-24 2 19 1-8 1-26 2 9 1 6 2-107 1 114 1-18 2 24 1-12 2 0 1-1 1-22 2-4 1 102 2-73 1 20 1-1 2-17 1 5 2-10 1-17 1 10 2 11 1-13 2 23 1-12 1 2 2-15 1 31 2-9 1 18 1 5 2-3 1-20 2 3 1-4 1 2 2 3 1 3 2 5 1-26 1 44 2-22 1-8 2-19 1-4 1 24 2 28 1-18 2-2 1 13 1 0 2 21 1-41 2 24 1-5 1 11 2-10 1 3 2-12 1-1 1 34 2 10 1 31 2-41 1-21 1-12 2-12 1 4 2-21 1 21 1-10 2 12 1-13 2-8 1-5 1 18 2-14 1-7 2 10 1 8 1-20 2 30 1 7 2-3 1-27 1 16 2-14 1-4 2 14 1 9 1 3 2 0 1 15 2-22 1-2 1-1 2-8 1 7 2-26 1 9 1 7 2 5 1-6 2-15 1 21 1 2 2 21 1-5 2 1 1-25 1-4 2 2 1-4 2 128 1-143 1 12 2 1 1 22 2-26 1 23 1-13 2-3 1 19 2 1 1-2 1-4 2 36 1-36 2 0 1 15 1-14 2-8 1-2 2-11 1 10 1-12 2 5 1 4 2 26 1 5 1-18 2 16 1-11 2-9 1-8 1-15 2-26 1-1 2 10 1 14 1 3 2-133 1 157 2-24 1-1 1 15 2-7 1-80 2 94 1 19 1-1 2 4 1 3 2-11 1 112 1-91 2-10 1-5 2-3 1 6 1-21 2 5 1 6 2 20 1-4 1-8 2-19 1 24 2-1 1-29 1 9 2-9 1 83 2-98 1 9 1 29 2-36 1 23 2-30 1 14 1 17 2-21 1-9 2-15 1 11 1 9 2 1 1 2 2 15 1 18 1 1 2 6 1-14 2-19 1 4 1 16 2-2 1-21 2-89 1 96 1 15 2-7 1 11 2-12 1-4 1 11 2-9 1 0 2 139 1-141 1 5 2-10 1 12 2-5 1-12 1 15 2 6 1 12 2-35 1 83 1-73 2 2 1-11 2 4 1 19 1-25 2-17 1 26 2-25 1 22 1-14 2 8 1 13 2 17 1-1 1 0 2 15 1-31 2 77 1-64 1-33 2 122 1-94 2 0 1-46 1 27 2 6 1 15 2-7 1-18 1 13 2 5 1 10 2-19 1-88 1 81 2 5 1 83 2-53 1 107 1-107 2-4 1 6 2-22 1 9 1-22 2 28 1-7 2 7 1-6 1 11 2-23 1 109 2-90 1 5 1 195 2-184 1-3 2 20 1-34 1 34 2-45 1 30 2-26 1 6 1 11 2 2 1-15 2 7 1 1 1-4 2-13 1 2 2-29 1 127 1-122 2-22 1 60 2-12 1 2 1 4 2-12 1-4 2 65 1-52 1-16 2 66 1-43 2-29 1 28 1-6 2-92 1 71 2 19 1-23 1 14 2 0 1-8 2 20 1 15 1-20 2-160 1 150 2 7 1 6 1 6 2-8 1 10 2-2 1-12 1 10 2 4 1 9 2-4 1-1 1-7 2 1 1-2 2-8 1-1 1 5 2-4 1-1 2 2 1 0 1 2 2 6 1 2 2-2 1 1 1 2 2-2 1 0 2 3 1 0 1 0 2 1 1-2 2 1 1-1 1-1 2 1 1 0 2 2 1-1 1-2 2 2 1 0 2-2 1 2 1 0 2 1 1 1 2 0 1 1 1-2 2 0 1 1 2 1 1-1 1-2 2 2 1 1 2 1 1-1 1 0 2 2 1-3 2 2 1-2 1 0 2 0 1 2 2 0 1 0 1 1 2 1 1-3 2-2 1-1 1 4 2-4 1 1 2 1 1-1 1 2 2 4 1-2 2 2 1-1 1 1 2-3 1 1 2 0 1-1 1 1 2-2 1 0 2 1 1-1 1 0 2-1 1-1 2 3 1-2 1-1 2 0 1 0 2 1 1-3 1 1 2-1 1 1 2 2 1 1 1-1 2-1 1-2 2 1 1 0 1 3 2 0 1-5 2 0 1 4 1-1 2 1 1 0 2 2 1-2 1 2 2 0 1-1 2-1 1-1 1 3 2-2 1-1 2 2 1-2 1 1 2 0 1 0 2 1 1 2 1-2 2 0 1-3 2 2 1 1 1-2 2-2 1 3 2-1 1 1 1-2 2 1 1 2 2-2 1-1 1 2 2-2 1 0 2 1 1 0 1 0 2-2 1 2 2 2 1 1 1 0 2 0 1 0 2-1 1-3 1 3 2 0" fill="none" stroke="#20e020" stroke-width="1.0" stroke-linejoin="round"/>
<path transform="matrix(.25 0 0 .1 0 0)" d="M2678 5930l4-22 4 18 4-20 4 9 4 4 4 12 4-12 4 25 4-19 4 2 4 14 4-36 4 21 4 16 4-25 4 2 4-7 4-4 4 21 4-7 4 2 4-7 4 4 4 4 4-11 4 21 4-25 4 10 4 8 4 13 4-19 4 20 4-18 4-9 4 4 4-3 4 9 4 1 4-8 4 19 4-16 4 2 4 2 4 12 4-24 4 17 4 5 4 10 4-21 4-2 4-3 4-8 4 21 4-10 4-1 4 9 4 8 4-9 4-21 4 36 4-20 4-9 4 13 4-14 4 10 4-1 4-9 4 5 4-4 4 6 4 0 4 3 4 11 4-15 4 10 4-8 4-1 4-17 4 20 4-3 4 2 4 13 4-28 4 23 4-12 4-2 4 8 4-7 4-2 4 7 4-7 4 8 4-3 4 0 4 5 4 5 4 6 4-5 4 1 4-3 4-3 4-11 4 8 4 11 4-30 4 13 4 7 4 16 4-19 4 2 4-4 4 13 4-13 4 7 4 1 4-1 4-8 4 14 4-3 4-9 4 5 4-13 4 4 4 0 4 10 4-10 4 9 4 4 4 0 4-8 4-7 4 3 4 4 4 10 4-7 4 6 4-10 4 15 4-6 4-17 4 16 4-2 4-5 4 20 4-1 4-21 4-4 4-6 4 14 4 9 4-3 4-5 4-9 4 16 4-2 4-4 4-4 4-4 4 8 4-2 4 14 4-14 4 16 4-17 4 15 4-12 4-9 4 15 4-7 4-5 4 12 4 0 4-4 4 2 4-1 4 14 4-24 4 7 4-3 4 8 4-14 4 11 4-5 4-10 4-6 4-14 4 34 4 1 4 14 4-15 4 2 4-6 4 10 4-12 4-5 4 15 4-4 4 20 4-31 4 5 4 0 4 10 4-18 4 13 4 4 4 6 4-5 4-25 4 5 4 28 4-16 4-3 4 1 4 21 4-8 4-21 4 2 4 4 4 5 4 3 4 14 4-9 4 0 4 0 4 9 4-11 4-22 4 13 4-8 4 16 4-7 4 9 4-8 4 7 4-11 4 19 4-9 4 9 4-6 4-14 4 9 4-5 4 24 4-6 4-21 4 12 4-3 4-14 4 11 4 8 4-10 4 5 4-15 4-1 4 16 4 2 4 2 4-16 4 7 4 28 4-19 4 2 4-9 4 3 4-13 4 3 4 8 4-22 4 32 4-1 4-10 4 1 4-7 4 8 4-9 4 31 4-10 4-16 4 7 4-10 4-8 4 27 4-5 4-7 4-10 4 3 4 4 4-1 4-1 4 6 4 0 4 22 4-30 4 16 4-18 4 6 4-1 4 15 4-6 4-14 4 14 4 1 4-4 4-11 4-8 4 24 4-20 4-15 4 49 4-19 4-18 4 13 4 11 4-5 4-2 4-9 4 3 4-4 4 5 4-16 4 32 4-23 4-3 4 17 4-3 4-6 4 20 4 6 4-10 4-9 4-6 4 5 4 1 4 9 4-12 4 10 4-4 4-1 4-9 4 24 4-23 4 8 4-5 4-1 4 8 4 4 4-12 4-6 4 14 4-2 4-2 4-6 4 10 4 1 4-17 4 27 4-15 4 9 4-28 4 30 4-20 4-14 4 9 4 2 4 4 4 21 4 0 4-25 4 5 4 8 4-5 4 8 4-6 4-8 4 17 4-9 4-4 4 7 4-4 4 21 4-18 4-15 4 25 4-12 4 18 4-26 4 23 4-15 4-8 4 26 4-13 4-7 4 18 4-28 4 20 4-8 0-48-4-18-4 14-4-9-4 15-4-10-4-6-4 8-4 14-4-9-4-6-4 8-4-7-4-16-4 15-4 2-4 7-4-11-4 0-4 15-4-26-4 1-4 17-4-9-4 14-4-13-4-2-4 11-4-4-4-13-4-7-4 25-4-2-4-9-4 7-4-9-4 5-4-3-4-5-4 15-4 6-4-11-4 7-4-14-4 22-4-5-4-11-4 8-4-10-4 9-4 2-4-9-4-3-4-4-4 8-4-5-4 9-4-14-4 0-4 28-4-32-4 6-4 1-4-12-4 16-4-6-4 0-4 3-4-12-4 10-4-11-4 18-4-13-4 10-4 7-4-14-4 16-4-17-4 23-4-10-4-21-4 13-4 3-4 5-4-7-4-4-4 17-4 2-4-19-4 16-4-8-4-3-4-14-4-2-4 9-4 28-4-27-4-9-4 6-4 27-4-10-4-17-4 25-4-12-4-2-4-17-4 24-4-14-4 1-4-12-4 25-4-8-4 8-4-12-4 6-4 15-4-17-4-4-4 10-4 7-4-6-4 16-4-16-4 3-4-6-4 3-4 7-4 6-4-26-4 20-4-9-4 5-4 0-4 5-4-5-4-2-4-2-4 3-4-7-4-21-4 21-4-2-4 2-4-8-4 20-4-14-4 13-4-15-4-1-4 14-4-6-4-6-4 11-4-25-4 21-4-19-4 12-4 16-4-24-4 7-4 0-4 11-4-9-4 15-4-8-4 3-4-19-4 14-4-15-4 22-4-12-4 5-4-9-4 21-4-23-4 9-4-21-4 10-4 23-4-11-4-11-4 22-4-8-4 3-4-13-4 6-4 1-4-11-4-1-4 13-4-20-4 24-4-2-4-10-4-9-4 18-4-27-4 6-4 16-4-12-4 7-4 0-4 2-4 4-4-8-4 0-4 5-4 15-4-29-4 14-4 5-4-10-4 13-4-23-4 17-4 0-4 3-4-6-4-1-4 10-4-12-4 11-4-23-4 33-4-18-4 27-4-41-4 7-4 10-4-4-4 3-4 5-4-2-4 1-4-7-4-15-4 19-4-12-4 9-4-6-4 30-4 1-4-21-4-9-4 3-4-10-4 24-4-17-4 14-4 4-4-15-4-3-4 3-4 8-4 17-4-30-4-4-4 14-4 13-4-15-4 15-4-32-4 11-4-1-4 19-4-27-4 10-4-10-4 22-4-2-4-19-4 21-4-5-4-3-4 2-4 13-4-4-4 8-4-2-4-7-4-15-4 17-4 6-4-8-4 3-4 9-4-10-4 3-4-11-4-7-4 16-4-7-4-3-4-12-4 25-4-2-4 3-4-13-4 19-4-25-4 21-4-16-4 20-4-34-4 24-4-13-4 7-4 16-4-20-4 6-4 9-4 1-4-3-4 0-4-12-4 12-4 0-4-13-4 2-4 17-4-16-4 3-4 5-4-3-4 1-4-8-4 17-4-8-4 13-4-12-4-4-4 14-4-11-4-10-4-9-4 18-4-13-4 17-4 7-4-27-4 24-4 10-4-19-4 3-4 13-4-9-4-4-4-14-4 16-4-7-4-1-4 6-4-21-4 23-4-15-4 33-4-16-4-8-4 8-4 7-4 1-4 1-4-11-4 0-4-3-4-7-4 10-4 5-4 1-4-10-4-4-4-3-4 0-4 3-4 19-4-6-4-8-4 2-4 11-4 0-4-3-4-8-4 9-4-8-4-8-4 18-4-17-4 15-4 5-4-14-4-12-4 16-4 1-4-11-4 1-4 7-4 1z" fill="#ff0000" fill-opacity="0.7"/>
<path transform="matrix(.25 0 0 .1 0 0)" vector-effect="non-scaling-stroke" d="M2677 5884l2 13 1 20 1-12 2 30 1-24 2-9 1-4 1 12 2 11 1-16 2 2 1 1 1-2 2 3 1-9 2 22 1 8 1 11 2 7 1-10 2-14 1 2 1 18 2-34 1 26 2-16 1-16 1 2 2-26 1 4 2-10 1 7 1-6 2 5 1 79 2 16 1-89 1 14 2-1 1-11 2-4 1 6 1-2 2 7 1-5 2-11 1 1 1-4 2 4 1-14 2 41 1-15 1-1 2-3 1 11 2 11 1-20 1-8 2 6 1 10 2-3 1-1 1-10 2 1 1 1 2 18 1-12 1 4 2 26 1-31 2 9 1 4 1-23 2 37 1-22 2 10 1-7 1-10 2 16 1-7 2 13 1-4 1 7 2 2 1-5 2-27 1 21 1 8 2-23 1 2 2-16 1 39 1 13 2-26 1-5 2 29 1-25 1 11 2-3 1-25 2 24 1-21 1-31 2 34 1-6 2 17 1-17 1 26 2-5 1 98 2-93 1-7 1 5 2-22 1-50 2 63 1-10 1 7 2 2 1 3 2 1 1 19 1-28 2 13 1-11 2 5 1 15 1-20 2 2 1-7 2-6 1 17 1 14 2-4 1 3 2-8 1-11 1 4 2-1 1-5 2-10 1-19 1 23 2 48 1-38 2-26 1 20 1-10 2 28 1-8 2-5 1 19 1-10 2-9 1 4 2 0 1-10 1-4 2-1 1 21 2-21 1 4 1-2 2 8 1 12 2-17 1 6 1-16 2 12 1-8 2-18 1-4 1 17 2-40 1 32 2 2 1 9 1 13 2-5 1 73 2-38 1-35 1 9 2 5 1 1 2 0 1-19 1 9 2 20 1-14 2-9 1 4 1 0 2 7 1-1 2-8 1 10 1-20 2 41 1-44 2 2 1 7 1-14 2 18 1 9 2 21 1-26 1 26 2-9 1-1 2-2 1-12 1-10 2 21 1-15 2 18 1 18 1 1 2-4 1-13 2 4 1-18 1-4 2 5 1 14 2-8 1 2 1-24 2 9 1-13 2 22 1-18 1 7 2 1 1 15 2-9 1 29 1-48 2 9 1-9 2 22 1-19 1 3 2 16 1-21 2-34 1 26 1-21 2 45 1-10 2-3 1 15 1 1 2-2 1-10 2-8 1 7 1-5 2-2 1 9 2-14 1 14 1-29 2 21 1 13 2 1 1-13 1-4 2 8 1-1 2-5 1 21 1-14 2-4 1 0 2 33 1-85 1 70 2-7 1-10 2-3 1-17 1 23 2-14 1 13 2 15 1 20 1-6 2 1 1-5 2 20 1-15 1-24 2-4 1-3 2 5 1 4 1-2 2 11 1-2 2-13 1 13 1-10 2-2 1-6 2 15 1-8 1-3 2 5 1 8 2-2 1-9 1-4 2 92 1-60 2-4 1-18 1 127 2-95 1-28 2-11 1 13 1 1 2 3 1-11 2-15 1 5 1 14 2 4 1-90 2 500 1-400 1-5 2-10 1-8 2 8 1 16 1-25 2 15 1 12 2-17 1 3 1 19 2-15 1 1 2 7 1-8 1 14 2 0 1-28 2 3 1 12 1-120 2 89 1 25 2-28 1 7 1-10 2 35 1-23 2 0 1 6 1 8 2-4 1 8 2 16 1-5 1 8 2-3 1-5 2 25 1-42 1 10 2-12 1 82 2-122 1 54 1-30 2 35 1-42 2 11 1-3 1 28 2-3 1-24 2 8 1-8 1 2 2-79 1 62 2 13 1-6 1-2 2 21 1-4 2-8 1-23 1 22 2 9 1 12 2-11 1-11 1 17 2 11 1-13 2 3 1 62 1-79 2 5 1-14 2 0 1 12 1 6 2-36 1 27 2 17 1-4 1 10 2 2 1 1 2-10 1 14 1-6 2 52 1-82 2 18 1-54 1 41 2 30 1 57 2-78 1 15 1-32 2 11 1-2 2 6 1 1 1 3 2 52 1-46 2 1 1-6 1 0 2-6 1-5 2-12 1-9 1 9 2 62 1-38 2 9 1 29 1-25 2 16 1-3 2 15 1-24 1 5 2-34 1 8 2-45 1 46 1 6 2 4 1 9 2-18 1 5 1 16 2-5 1-14 2 16 1 2 1-11 2 17 1-19 2-6 1 9 1-23 2 33 1-1 2-5 1 10 1 0 2-10 1-12 2-5 1-4 1 0 2 6 1-1 2 20 1-22 1 4 2-10 1 20 2 7 1 112 1-94 2-9 1-6 2-31 1 102 1-89 2 75 1-64 2 24 1-5 1-19 2 22 1-6 2-13 1 11 1-25 2 3 1 2 2-2 1-9 1 3 2-14 1 15 2-6 1 57 1-29 2-1 1-3 2-3 1-6 1 8 2-12 1-15 2 31 1-20 1 27 2-95 1 75 2 3 1-22 1 35 2-42 1 5 2 19 1 6 1 0 2 15 1-5 2-5 1 11 1-22 2 9 1 4 2 0 1 4 1 8 2 1 1 2 2 17 1-19 1 12 2-7 1-22 2 47 1-2 1-8 2 9 1-13 2-1 1-24 1-12 2-20 1-1 2 33 1-3 1-14 2 16 1-27 2 52 1-11 1 6 2 12 1-26 2 4 1-31 1-10 2-22 1 6 2 32 1 19 1-15 2 2 1 13 2 0 1 3 1 28 2-35 1-38 2 135 1-94 1-3 2-8 1 11 2 5 1-88 1 57 2 26 1-23 2-12 1-10 1-5 2 23 1 8 2 9 1-7 1-3 2 19 1-16 2-20 1 30 1-8 2 5 1-68 2 70 1-12 1 1 2 12 1-12 2-2 1-17 1-12 2-9 1 15 2-3 1 3 1 12 2-5 1 21 2 5 1-2 1-18 2-1 1 14 2 3 1 15 1-14 2-18 1 13 2 4 1-5 1-5 2-16 1 7 2 90 1-112 1 19 2-4 1-2 2 3 1 28 1-15 2-13 1 104 2-107 1 10 1 3 2 4 1 2 2-3 1 8 1 14 2-14 1 1 2-7 1 8 1 27 2-15 1-16 2 11 1 2 1 7 2 1 1-7 2-11 1-13 1 27 2 23 1-43 2 80 1-57 1 12 2 0 1 6 2-4 1-14 1 2 2 4 1-15 2-4 1-5 1 31 2-10 1-18 2 10 1 1 1 19 2-15 1 14 2 52 1-59 1-113 2 101 1-41 2 7 1-5 1 17 2 1 1 15 2-22 1 17 1-22 2 18 1-9 2-13 1 7 1-7 2 9 1-6 2 1 1 76 1-51 2-13 1-15 2 18 1 3 1 29 2-35 1 10 2 1 1 6 1 1 2-6 1 6 2 4 1-16 1-8 2 12 1-16 2 7 1-9 1 16 2 11 1 15 2 111 1-120 1 29 2-21 1-8 2 11 1-22 1 82 2-66 1-3 2-16 1 0 1 4 2-2 1 4 2-5 1 3 1-2 2-9 1-3 2 10 1-37 1 25 2 31 1-19 2 30 1-21 1-19 2 11 1 8 2-17 1-7 1-12 2 30 1-67 2 15 1 8 1 24 2 13 1-28 2 15 1 15 1 16 2 15 1-22 2-5 1-17 1 13 2-23 1 10 2-7 1 4 1-10 2 10 1 21 2-13 1-7 1 13 2-8 1-13 2 6 1-28 1 6 2 5 1 15 2 1 1-13 1-7 2 0 1 18 2 15 1-15 1-9 2 13 1-3 2-6 1 25 1-20 2 30 1-105 2 158 1-79 1 15 2 1 1-6 2 30 1 54 1-72 2 8 1-20 2 19 1-7 1-3 2 5 1-21 2 1 1 17 1-22 2 16 1 9 2 2 1 60 1-69 2-14 1 8 2-2 1-1 1 6 2 4 1 3 2 3 1 21 1-8 2 28 1-5 2 14 1 17 1-51 2 26 1-3 2-18 1-4 1 13 2 70 1-95 2-97 1 95 1 8 2-16 1-11 2 8 1 12 1-11 2 19 1-7 2-16 1 127 1-124 2-80 1 79 2 11 1-108 1 97 2 4 1 16 2-15 1 3 1 22 2-7 1-17 2 1 1-15 1 5 2-11 1 8 2-13 1 27 1-31 2 11 1-4 2-2 1-21 1 27 2-3 1 2 2-12 1 27 1-9 2 124 1-127 2 18 1 2 1-3 2 51 1-44 2-18 1 20 1-15 2 2 1 10 2-7 1 3 1 9 2-27 1 9 2 6 1-18 1-6 2 4 1-63 2 88 1-33 1 1 2 15 1-4 2 8 1 1 1 6 2 9 1 4 2-17 1 4 1 19 2-18 1 3 2 13 1-22 1-5 2-2 1-8 2 24 1-27 1-3 2-16 1 12 2 40 1-23 1 23 2-5 1 17 2-8 1-23 1 29 2 3 1-17 2 4 1-1 1-12 2-17 1 1 2 0 1-10 1 4 2-13 1 10 2 24 1-10 1 3 2-21 1 12 2-15 1-19 1 48 2-31 1 31 2 15 1-5 1-20 2 68 1-34 2-17 1 10 1-2 2 14 1-6 2-8 1 2 1-14 2 9 1-5 2 2 1 3 1-1 2 10 1 5 2 3 1 112 1-135 2 74 1-36 2-18 1-2 1 29 2-11 1 5 2 11 1-14 1-9 2 101 1-111 2 3 1-13 1 10 2-13 1 1 2 56 1-44 1-11 2-23 1 6 2 12 1-12 1 14 2-16 1 17 2-20 1 2 1 2 2-1 1 16 2-20 1-7 1-4 2 11 1-23 2 29 1 2 1 24 2-10 1-12 2-18 1 22 1-23 2-17 1 11 2 9 1 10 1-2 2 23 1-13 2 17 1 6 1-18 2-14 1-18 2-4 1-15 1 42 2-18 1-6 2-31 1 32 1-8 2-20 1-1 2 13 1 10 1 10 2 3 1 6 2-3 1 23 1-19 2 15 1-12 2 42 1-7 1-2 2-4 1 1 2-8 1-5 1 17 2-1 1 18 2-9 1 14 1-33 2-10 1-10 2 6 1 28 1-6 2 19 1 20 2-40 1 16 1-11 2-7 1 5 2-9 1-10 1 130 2-20 1-106 2 15 1-13 1-15 2 21 1-21 2 4 1-13 1 14 2-8 1 6 2-6 1 5 1-6 2 5 1 6 2 2 1-3 1-3 2 7 1 2 2 0 1-4 1 5 2-1 1 2 2 1 1 3 1 1 2-2 1 0 2 0 1 0 1-2 2 1 1 2 2-1 1 1 1-1 2-2 1 1 2-1 1-4 1 1 2 0 1-1 2 0 1 1 1 1 2-2 1 2 2 1 1 0 1-1 2 3 1-3 2 0 1-1 1 2 2 1 1 0 2 1 1-2 1 1 2 1 1 0 2 0 1-2 1 3 2-2 1-1 2-1 1 2 1-3 2 2 1 0 2-3 1 3 1 0 2 2 1 0 2-1 1 3 1-3 2 2 1-2 2 1 1 0 1-1 2 1 1-3 2-1 1 2 1-3 2 3 1-1 2 2 1-1 1-1 2 5 1 0 2-1 1-3 1 1 2 1 1-1 2 2 1 0 1 1 2 0 1 2 2 0 1-2 1 2 2-3 1-2 2 2 1 0 1 1 2 0 1-2 2-1 1 2 1-2 2-1 1-2 2 0 1 2 1 1 2 0 1 0 2-2 1 1 1 0 2-1 1 0 2 1 1 4 1-1 2-3 1 3 2-1 1-1 1 2 2-1 1 2 2-4 1 2 1 0 2 0 1-1 2 3 1 0 1 0 2-4 1 1 2 0 1 1 1-1 2 1 1-1 2 2 1-1 1 0 2-2 1 3 2-3 1 2 1-1 2 1" fill="none" stroke="#ff1010" stroke-width="1.0" stroke-linejoin="round"/>
<line x1="669" y1="590.5" x2="1122.6" y2="590.5" stroke="#000" stroke-width="1.5" stroke-dasharray="4 3"/>
<line x1="785.5" y1="558.5" x2="785.5" y2="632.4" stroke="#ff00ff" stroke-width="1.3" stroke-dasharray="1.6 2"/>
<line x1="1027.2" y1="558.5" x2="1027.2" y2="632.4" stroke="#00a000" stroke-width="1.2" stroke-dasharray="5 3"/>
<line x1="1040.5" y1="558.5" x2="1040.5" y2="632.4" stroke="#ff3030" stroke-width="1.6" stroke-dasharray="6 3"/>
<line x1="1062.3" y1="558.5" x2="1062.3" y2="632.4" stroke="#ff00ff" stroke-width="1.3" stroke-dasharray="1.6 2"/>
<line x1="1068" y1="558.5" x2="1068" y2="632.4" stroke="#ff3030" stroke-width="1.6" stroke-dasharray="6 3"/>
<line x1="1072.5" y1="558.5" x2="1072.5" y2="632.4" stroke="#0000ff" stroke-width="1.3" stroke-dasharray="1.6 2"/>
<line x1="1081.5" y1="558.5" x2="1081.5" y2="632.4" stroke="#00a000" stroke-width="1.2" stroke-dasharray="5 3"/>
<line x1="674.5" y1="563" x2="691.5" y2="563" stroke="#ff00ff" stroke-width="1.3" stroke-dasharray="1.5 1"/>
<text x="692.5" y="566.5" font-size="9.2" fill="#ff00ff">t&#160;&#160;maxJ</text>
<line x1="674.5" y1="570.3" x2="691.5" y2="570.3" stroke="#0000ff" stroke-width="1.0"/>
<text x="693" y="574" font-size="9.2" fill="#0000ff">J<tspan dy="2.8" font-size="6.6">L</tspan></text>
<line x1="674.5" y1="577.3" x2="691.5" y2="577.3" stroke="#20e020" stroke-width="1.0"/>
<text x="693" y="581" font-size="9.2" fill="#20e020">J<tspan dy="2.8" font-size="6.6">M</tspan></text>
<line x1="674.5" y1="585" x2="691.5" y2="585" stroke="#ff1010" stroke-width="1.0"/>
<text x="693" y="588.7" font-size="9.2" fill="#ff1010">J<tspan dy="2.8" font-size="6.6">N</tspan></text>
<path transform="matrix(.25 0 0 .1 0 0)" vector-effect="non-scaling-stroke" d="M2677 6776l2 10 1-2 1-6 2 1 1-2 2 2 1-8 1 13 2-1 1 1 2-1 1-4 1-2 2 3 1-4 2 6 1-7 1-2 2 1 1-11 2 19 1 2 1 5 2-9 1 7 2-5 1 1 1 6 2-6 1-2 2-6 1 5 1-1 2-2 1 5 2-1 1 1 1-6 2 18 1-14 2-4 1-10 1 16 2-6 1 5 2 3 1 0 1 0 2-2 1 1 2 1 1-4 1 0 2-3 1 2 2 6 1-4 1 0 2-3 1-6 2 14 1-6 1-4 2 4 1-4 2 1 1 4 1-3 2 1 1-5 2 8 1-6 1 3 2 1 1-2 2-3 1 0 1 1 2 0 1-2 2 8 1 1 1-7 2 3 1 3 2 2 1-6 1 29 2-31 1-3 2 4 1 6 1-6 2 0 1-1 2 6 1-12 1 19 2-3 1-4 2-2 1-3 1 11 2-6 1-2 2 6 1 0 1 3 2-4 1 3 2-2 1-3 1 0 2 9 1-3 2-5 1-3 1-2 2 2 1-7 2 8 1-3 1-3 2 9 1-3 2 1 1 11 1-9 2-3 1-1 2 5 1-14 1-1 2 6 1 4 2 3 1-5 1 4 2 1 1-2 2-2 1 0 1 6 2-5 1-4 2-1 1 0 1-8 2-2 1 10 2-4 1-1 1-5 2 8 1-5 2 2 1-2 1 7 2-1 1-2 2-2 1 5 1 5 2-13 1 1 2 5 1 5 1 9 2-10 1 1 2 4 1-9 1 3 2 4 1-1 2-9 1 17 1-4 2 5 1-2 2-5 1 10 1 1 2-3 1-9 2 5 1 2 1-7 2-4 1-3 2 17 1-6 1-4 2-7 1 12 2-13 1 6 1-7 2 4 1-1 2 5 1-4 1 9 2 1 1 0 2-11 1-2 1 2 2-2 1-5 2 18 1-5 1-6 2-2 1 11 2-4 1 2 1-6 2 2 1-1 2-1 1 1 1 4 2-2 1-1 2-2 1 0 1 2 2 1 1 6 2-1 1-6 1-2 2-1 1 13 2-2 1-6 1-4 2 5 1-6 2-2 1-4 1 8 2-4 1 1 2 9 1-5 1 0 2 5 1-1 2-1 1 3 1 5 2-6 1 10 2-4 1 0 1-31 2 32 1 7 2-14 1-1 1-4 2-5 1 8 2-1 1 10 1-8 2-14 1 9 2-6 1 2 1 16 2 63 1-78 2 33 1-37 1 23 2-13 1 9 2-13 1-2 1 4 2 14 1 4 2-8 1-20 1 84 2-71 1 71 2-111 1 60 1 82 2-98 1 2 2-11 1-9 1 32 2-21 1 35 2-47 1 10 1 3 2-3 1 28 2-7 1-13 1 84 2-84 1 5 2-20 1 0 1 44 2-23 1-27 2 1 1-16 1 13 2 21 1 69 2-34 1-53 1-4 2-5 1 7 2-8 1 11 1 3 2-23 1 52 2-16 1 103 1-122 2 13 1 75 2-73 1 13 1-4 2-3 1 0 2-3 1 41 1 75 2-116 1 39 2-44 1 18 1-14 2 14 1 46 2 6 1-55 1-18 2 4 1-9 2 121 1-110 1 25 2-84 1 80 2-11 1-9 1 39 2-39 1 6 2-12 1 10 1-36 2 59 1-48 2 28 1-7 1-5 2 6 1 69 2-55 1 94 1-101 2 4 1 34 2-48 1-7 1 2 2 8 1-13 2 12 1-15 1 9 2 79 1-70 2-28 1 29 1-15 2-4 1 35 2-10 1-8 1 3 2-1 1 27 2-6 1-8 1 8 2-9 1-1 2 64 1-55 1-6 2-15 1-7 2-55 1 47 1 23 2-21 1 15 2-6 1 11 1 6 2-2 1-7 2-21 1-1 1 3 2-11 1-9 2 7 1-45 1 187 2-143 1 23 2-14 1 4 1 16 2 42 1-53 2 3 1 7 1 5 2 10 1-7 2-13 1 10 1-4 2-4 1-6 2 73 1-23 1-35 2 63 1-58 2-8 1 94 1-118 2 26 1 4 2 45 1-54 1-12 2-3 1-9 2 2 1 54 1-46 2 10 1-7 2 124 1-127 1-19 2 21 1-18 2-30 1 47 1 6 2 51 1 46 2-135 1 73 1-9 2-12 1-4 2-14 1 1 1-1 2-34 1 43 2 14 1 85 1-100 2 6 1 11 2-10 1-4 1 2 2-3 1-41 2 39 1 46 1-41 2 93 1-27 2-69 1 6 1-1 2-4 1-1 2 0 1-13 1 4 2 11 1-24 2-4 1 6 1-1 2 10 1 7 2-6 1 2 1 7 2-20 1 9 2-21 1 30 1-13 2-7 1 15 2 1 1 2 1 8 2-3 1 2 2 0 1 5 1-8 2 0 1-1 2-2 1 37 1-21 2-24 1 8 2-2 1 5 1 1 2 9 1-13 2 5 1 7 1 2 2-12 1 12 2-4 1 9 1-8 2-11 1 7 2-3 1-6 1 5 2 1 1-6 2 11 1 3 1-6 2-4 1 5 2 3 1-2 1-6 2 1 1-6 2-1 1 1 1 8 2 3 1-7 2 6 1 2 1-15 2 9 1-1 2 6 1-10 1 1 2 3 1-9 2 15 1-10 1 5 2 2 1-9 2 11 1 0 1-6 2-4 1-2 2 12 1-1 1 1 2-42 1 41 2-3 1 101 1-103 2 3 1-7 2-5 1 3 1 1 2 8 1-6 2-13 1 7 1 7 2-2 1 5 2-7 1-11 1 14 2-5 1-1 2-4 1 17 1 6 2-8 1 2 2 5 1 4 1 2 2-10 1-3 2-7 1 9 1-1 2 2 1-2 2 2 1 9 1-9 2 4 1 6 2-1 1 0 1 6 2-1 1 2 2 13 1-24 1 7 2-6 1 1 2-13 1 0 1 5 2 0 1 1 2-7 1-3 1 13 2-18 1 11 2 9 1-12 1 5 2 2 1 3 2-3 1-11 1 10 2-1 1-5 2 15 1-18 1 21 2-6 1 0 2-11 1 5 1-1 2 7 1 5 2-17 1-4 1 2 2 14 1-14 2-2 1-20 1 8 2 4 1 13 2-9 1 7 1-4 2 3 1-7 2-1 1 2 1 11 2-21 1 12 2-9 1-17 1 16 2 118 1-98 2 28 1-14 1-9 2-80 1 75 2 5 1 8 1-69 2 70 1-69 2 104 1-18 1 46 2-33 1-34 2-7 1 37 1-19 2-33 1 18 2-90 1 120 1-24 2 1 1-24 2 12 1-25 1 8 2-7 1 16 2-7 1-2 1-26 2-20 1 34 2-73 1 78 1-3 2 22 1 10 2 4 1-79 1 84 2 39 1-44 2 263 1-276 1-6 2-81 1 25 2 99 1-3 1-53 2 17 1 38 2-23 1 16 1 60 2-87 1 21 2 0 1-3 1-2 2-3 1 55 2-149 1 6 1 94 2-3 1-113 2 184 1-70 1-3 2 67 1-67 2 69 1-81 1 5 2 0 1-8 2 93 1-99 1-30 2 46 1 17 2-3 1-12 1 10 2-5 1-15 2 17 1-12 1 0 2-2 1 2 2 4 1-4 1 10 2-15 1 3 2-14 1 10 1-3 2-7 1 6 2 16 1-2 1-9 2-1 1-14 2 9 1-5 1-3 2 9 1-1 2 6 1-17 1 17 2 5 1 1 2 6 1-3 1-7 2 3 1-5 2 9 1-3 1-4 2 9 1-22 2 20 1-8 1-5 2 13 1-4 2-12 1-8 1 8 2 22 1-15 2-4 1 9 1-1 2-5 1 0 2-5 1 2 1-12 2 7 1 4 2 1 1-1 1-2 2 9 1 1 2-5 1-3 1-4 2 5 1 14 2-32 1 10 1-1 2-2 1 0 2 7 1-8 1 5 2 8 1-10 2-2 1 5 1-11 2 22 1 1 2-4 1-3 1 2 2 2 1-5 2-3 1 5 1 10 2-3 1-1 2-8 1 2 1 11 2 1 1-12 2 1 1 7 1-14 2 1 1 4 2-1 1 5 1 49 2-48 1-1 2 8 1-12 1 4 2-1 1 4 2-4 1 3 1-1 2-11 1 4 2-1 1 0 1 16 2-18 1-37 2 43 1 0 1 4 2-3 1 3 2 6 1 0 1 1 2-5 1 4 2 6 1-12 1 40 2-38 1 9 2-3 1-6 1 3 2 9 1-3 2-5 1 5 1-5 2 10 1-2 2-6 1-10 1 7 2 2 1 4 2-4 1-1 1-4 2-3 1-1 2 14 1 2 1-10 2-10 1 2 2-5 1 4 1-15 2 10 1-14 2 18 1 1 1-5 2-15 1 18 2-1 1 3 1 7 2 10 1-8 2 4 1 16 1-4 2-41 1 33 2-6 1-3 1-6 2-17 1 17 2 4 1 0 1-27 2 11 1-5 2 15 1-7 1-13 2-1 1 5 2-4 1 17 1-13 2 17 1-12 2 9 1 2 1-1 2 14 1 13 2-10 1-6 1-2 2-48 1 28 2 27 1-27 1 30 2 37 1-39 2 4 1-78 1 59 2-28 1-26 2 30 1 22 1-13 2 4 1-3 2-29 1 59 1-22 2 16 1-2 2-5 1-28 1 26 2 0 1-69 2 66 1-7 1-16 2 2 1-2 2 13 1 66 1-83 2 45 1-17 2 17 1-22 1 7 2 1 1 69 2-47 1-10 1-91 2 125 1 7 2-43 1 7 1-20 2 4 1 6 2-1 1-8 1 10 2-12 1-72 2 100 1-29 1-31 2 49 1-10 2 13 1 15 1-238 2 256 1 14 2-54 1 36 1-54 2 56 1-57 2 22 1-74 1 0 2 78 1-90 2 103 1-7 1-17 2 14 1-14 2 0 1 18 1-74 2 63 1 18 2-5 1-7 1 71 2-58 1 11 2-25 1 4 1-5 2 2 1-32 2 54 1 12 1-8 2-20 1 4 2 11 1 4 1-41 2-4 1 5 2-23 1 13 1 8 2 4 1-3 2 0 1-259 1 332 2-70 1 24 2-58 1 41 1-4 2 74 1-69 2-13 1 27 1-3 2 8 1 0 2-2 1-2 1 0 2-5 1 13 2-15 1-13 1 8 2-1 1-5 2-5 1-4 1-3 2 2 1-1 2-2 1 5 1-6 2-1 1-1 2 4 1 3 1 5 2-7 1 2 2-3 1 5 1-2 2-2 1 3 2-2 1-6 1 4 2 2 1 6 2 0 1-2 1 1 2-1 1-2 2 2 1 0 1-1 2 0 1 6 2-3 1 6 1 0 2-5 1-1 2 2 1 0 1 0 2-6 1 0 2 2 1 3 1-1 2 13 1-13 2-2 1 1 1-3 2 7 1-7 2 3 1-6 1 4 2 1 1-4 2 3 1 1 1 1 2-1 1-3 2-9 1 33 1-20 2-2 1 3 2-1 1 0 1 3 2 0 1 0 2 0 1-2 1-3 2 0 1 8 2-8 1 1 1-1 2-1 1-1 2-1 1 4 1 3 2-5 1-1 2-1 1 2 1-2 2-1 1-1 2 6 1 3 1-6 2 9 1-3 2-2 1-1 1 4 2 1 1-3 2 5 1-6 1-5 2 4 1-1 2-1 1 0 1-4 2 4 1 1 2 4 1-4 1 0 2-1 1 1 2 6 1 4 1-2 2-1 1-6 2-3 1 1 1 11 2-11 1 0 2-1 1-2 1 2 2-1 1 6 2 3 1-5 1-3 2 3 1 3 2-2 1 5 1-1 2-2 1-1 2 1 1-2 1-2 2-2" fill="none" stroke="#000" stroke-width="1.0" stroke-linejoin="round"/>
<line x1="785.5" y1="632.4" x2="785.5" y2="706.2" stroke="#ff00ff" stroke-width="1.3" stroke-dasharray="1.6 2"/>
<line x1="1027.2" y1="632.4" x2="1027.2" y2="706.2" stroke="#00a000" stroke-width="1.2" stroke-dasharray="5 3"/>
<line x1="1040.5" y1="632.4" x2="1040.5" y2="706.2" stroke="#ff3030" stroke-width="1.6" stroke-dasharray="6 3"/>
<line x1="1062.3" y1="632.4" x2="1062.3" y2="706.2" stroke="#ff00ff" stroke-width="1.3" stroke-dasharray="1.6 2"/>
<line x1="1068" y1="632.4" x2="1068" y2="706.2" stroke="#ff3030" stroke-width="1.6" stroke-dasharray="6 3"/>
<line x1="1072.5" y1="632.4" x2="1072.5" y2="706.2" stroke="#0000ff" stroke-width="1.3" stroke-dasharray="1.6 2"/>
<line x1="1081.5" y1="632.4" x2="1081.5" y2="706.2" stroke="#00a000" stroke-width="1.2" stroke-dasharray="5 3"/>
<line x1="674.5" y1="647.4" x2="691.5" y2="647.4" stroke="#404040" stroke-width="1.2"/>
<text x="695" y="651.1" font-size="9.6" fill="#101040">J*E'</text>
</svg>
<pre>:
 Event ID         : 20151211_110524
 FlagStr          : mp,i,mon,gf,s,compl,keep
 GSEpos [Re]      : [ 10.26, 1.16, -0.95 ]
                  :
 LMN coords       :
    L             : [  0.281,  0.389,  0.877 ]
    M             : [ -0.510,  0.835, -0.207 ]
    N             : [  0.813,  0.390, -0.433 ]
                  :
  Times           : (as indicated by red, green lines in plots)
    t_0           : 11:09:26  (red dotted line)
    t_MVAB1       : 11:09:05  (leftmost green line)
    t_MVAB2       : 11:09:38  (rightmost green line)
                  :
|Bmin|, |Vmax|    :
    Bmin          : 27.21 [nT]  at 11:08:31
    Vmax_tht      : 184.32 [km/s]  at 11:09:33
    Vmax_tburst   : 236.30 [km/s]  at 11:07:02
                  :
 Normals          :
    N MVAB        : [  0.879,  0.374, -0.294 ]   (L2/L1 = 4.39)
    N MVAB0       : [  0.724,  0.595, -0.349 ]   (L3/L2 = 59.10)
    N MFR         : [  0.863, -0.173, -0.474 ]   (L2/L1 = 1.50)
                  :
 Durations [s]    : (between red, resp green lines)
    T_CS          : 16.71
    T_MFR/HT      : 33.42
                  :
 Velocity [km/s]  : (based on FPI ion data)
    VnMFR         : 0.1
    VHT.Nmvab     : 39.9  (HTcc = 0.854)
    VHT.Nmvab0    : 67.2
                  :
 CS thickness [km]: (D=T_CS * Vs from above)
    D1=TCS*Vnmfr  : 2
    D2=TCS*VHTn   : 667
    D3=TCS*VHTn0  : 1,123
                  :
 Currents [uA/m2] :
    Jave_CS       : 0.049
    Jmax_THT      : 1.026  at 11:09:26
    Jmax_brst     : 1.718  at 11:06:35
                  :
 HPCA mom [1/cm3] :   Min   -  Max    (  Ave   )  within full brst int
    H+            :   0.914 - 24.733  ( 23.534 )
    He+           :   0.000 -  0.012  (  0.000 )
    He++          :   0.001 -  1.595  (  1.595 )
    O+            :   0.000 -  0.012  (  0.000 )
                  :
 SEH date         : 2019-11-29 08:51:57
                  :</pre>
</div></body></html>
